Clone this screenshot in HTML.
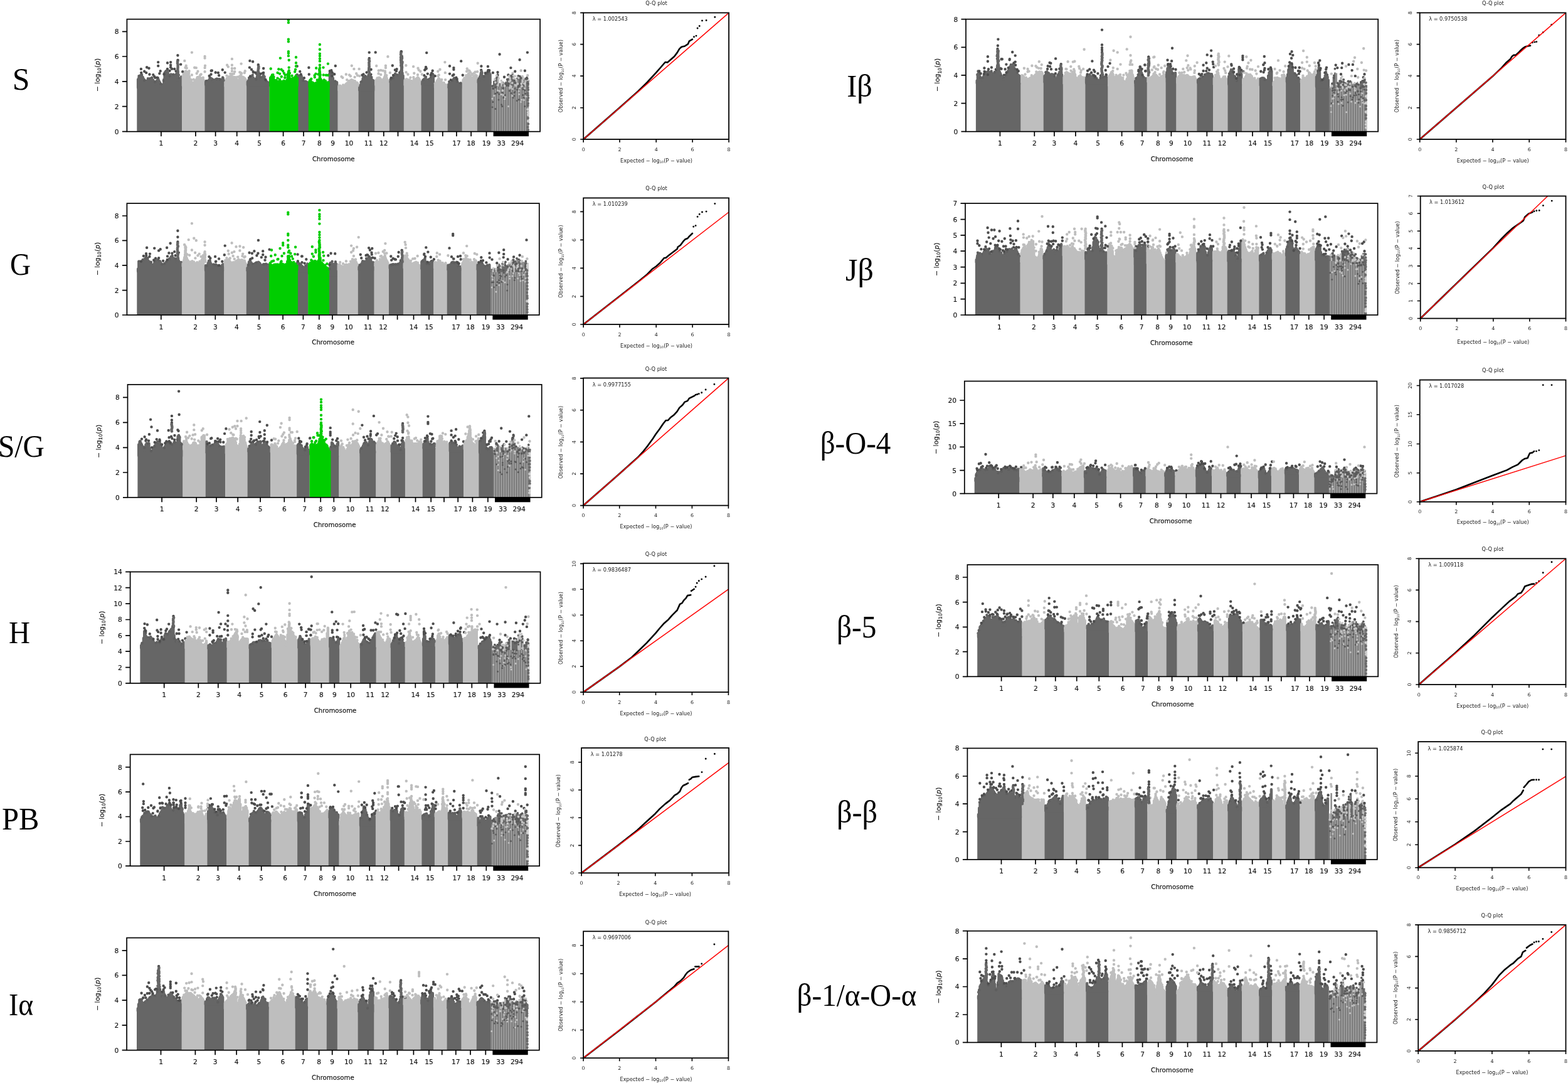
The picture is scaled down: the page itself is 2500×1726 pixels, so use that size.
<!DOCTYPE html>
<html lang="en"><head><meta charset="utf-8"><title>GWAS Manhattan and Q-Q plots</title>
<style>
html,body{margin:0;padding:0;background:#fff}
body{width:2500px;height:1726px;overflow:hidden}
svg{display:block}
.m text{font-family:"DejaVu Sans","Liberation Sans",sans-serif;font-size:10.6px;fill:#111;stroke:#111;stroke-width:0.15px}
.m text.al{font-size:10.2px}
.m text.yl{font-size:10.6px}
.q text{font-family:"DejaVu Sans","Liberation Sans",sans-serif;font-size:7.9px;fill:#1a1a1a}
.q text.qt{font-size:8.2px}
.q text.ql{font-size:8.2px}
.q text.qa{font-size:8.2px}
.lab text{font-family:"Liberation Serif","DejaVu Serif",serif;font-size:50px;fill:#000}
</style></head><body>
<svg width="2500" height="1726" viewBox="0 0 2500 1726">
<rect width="2500" height="1726" fill="#fff"/>
<g class="m">
<rect x="218.3" y="138.8" width="72" height="70.9" fill="#666666"/>
<path d="M220.1 126.5V139.8M221.3 124V139.8M222.6 122V139.8M223.8 120.2V139.8M225.1 119.8V139.8M226.3 121.6V139.8M227.6 123V139.8M228.8 125.5V139.8M230.1 127.1V139.8M231.3 129.1V139.8M232.6 129V139.8M233.8 128.8V139.8M235.1 128.2V139.8M236.3 128.5V139.8M237.6 128V139.8M238.8 128.4V139.8M240.1 128.2V139.8M241.3 126.7V139.8M242.6 126.6V139.8M243.8 127.3V139.8M245.1 129.3V139.8M246.3 130.7V139.8M247.6 131.5V139.8M248.8 130.2V139.8M250.1 128.6V139.8M251.3 126.8V139.8M252.6 126.8V139.8M253.8 129.4V139.8M255.1 131.7V139.8M256.4 134V139.8M257.6 135.2V139.8M258.9 135.2V139.8M260.1 135.8V139.8M261.4 126.6V139.8M262.6 116V139.8M263.9 114.3V139.8M265.1 113.1V139.8M266.4 112.9V139.8M267.6 115.8V139.8M268.9 119V139.8M270.1 120.7V139.8M271.4 119.5V139.8M272.6 118.5V139.8M273.9 119V139.8M275.1 119.9V139.8M276.4 120.4V139.8M277.6 120.3V139.8M278.9 119.7V139.8M280.1 119.2V139.8M281.4 120.4V139.8M282.6 120.9V139.8M283.9 122.4V139.8M285.1 125.1V139.8M286.4 127.3V139.8M287.6 126.5V139.8M288.9 122.4V139.8" stroke="#666666" stroke-width="4.4" stroke-linecap="round" fill="none"/>
<rect x="290.1" y="135.7" width="36.5" height="74" fill="#bebebe"/>
<path d="M291.9 121.2V136.7M293.2 119V136.7M294.4 116V136.7M295.7 113.6V136.7M296.9 113.6V136.7M298.2 114.6V136.7M299.4 115.7V136.7M300.7 116.5V136.7M301.9 121.7V136.7M303.2 127.9V136.7M304.4 132.3V136.7M305.7 132.1V136.7M306.9 132.3V136.7M308.2 132.7V136.7M309.4 132.4V136.7M310.7 130.5V136.7M311.9 128.9V136.7M313.2 126.8V136.7M314.4 124.3V136.7M315.7 123.5V136.7M316.9 122.8V136.7M318.2 122.4V136.7M319.4 124V136.7M320.7 124.7V136.7M321.9 125.5V136.7M323.2 126.4V136.7M324.4 127.1V136.7" stroke="#bebebe" stroke-width="4.4" stroke-linecap="round" fill="none"/>
<rect x="326.4" y="133.7" width="31.4" height="76" fill="#666666"/>
<path d="M328.2 129.5V134.7M329.5 130.7V134.7M330.7 130.6V134.7M332 128.6V134.7M333.2 127.4V134.7M334.5 125.9V134.7M335.7 124.4V134.7M337 125.2V134.7M338.2 125.9V134.7M339.5 127.1V134.7M340.7 128.1V134.7M342 127.5V134.7M343.2 127V134.7M344.5 126.2V134.7M345.7 125.8V134.7M347 125.9V134.7M348.2 126.1V134.7M349.5 127.2V134.7M350.7 128.2V134.7M352 128.4V134.7M353.2 127V134.7M354.5 125.6V134.7M355.7 124.7V134.7" stroke="#666666" stroke-width="4.4" stroke-linecap="round" fill="none"/>
<rect x="357.6" y="135.8" width="35.7" height="73.9" fill="#bebebe"/>
<path d="M359.4 128.6V136.8M360.7 127.4V136.8M361.9 125.4V136.8M363.2 124.5V136.8M364.4 123V136.8M365.7 122.6V136.8M366.9 121.9V136.8M368.2 121.8V136.8M369.4 122.4V136.8M370.7 122.7V136.8M371.9 122.7V136.8M373.2 123.3V136.8M374.4 123.1V136.8M375.7 123.5V136.8M376.9 124.2V136.8M378.2 129.2V136.8M379.4 132.8V136.8M380.7 127.8V136.8M381.9 121.6V136.8M383.2 121.2V136.8M384.4 122.4V136.8M385.7 122.1V136.8M386.9 122.8V136.8M388.2 123.3V136.8M389.4 124.7V136.8M390.7 125.5V136.8M391.9 127.5V136.8" stroke="#bebebe" stroke-width="4.4" stroke-linecap="round" fill="none"/>
<rect x="393.1" y="134.6" width="36.5" height="75.1" fill="#666666"/>
<path d="M394.9 130.2V135.6M396.2 128.1V135.6M397.4 125.4V135.6M398.7 124.6V135.6M399.9 123.6V135.6M401.2 123.4V135.6M402.4 122.6V135.6M403.7 123.8V135.6M404.9 125.4V135.6M406.2 126.2V135.6M407.4 126.4V135.6M408.7 125V135.6M409.9 121.6V135.6M411.2 118V135.6M412.4 119V135.6M413.7 120.5V135.6M414.9 122.7V135.6M416.2 126V135.6M417.4 125.2V135.6M418.7 122.4V135.6M419.9 119.3V135.6M421.2 122.7V135.6M422.4 126.6V135.6M423.7 131.4V135.6M424.9 131.6V135.6M426.2 131.2V135.6M427.4 131.4V135.6" stroke="#666666" stroke-width="4.4" stroke-linecap="round" fill="none"/>
<rect x="471.4" y="134.7" width="20.6" height="75" fill="#666666"/>
<path d="M473.2 120.5V135.7M474.5 119.9V135.7M475.7 121.2V135.7M477 121.3V135.7M478.2 120.7V135.7M479.5 120.6V135.7M480.7 121.1V135.7M482 124.9V135.7M483.2 128.4V135.7M484.5 130.8V135.7M485.7 131.1V135.7M487 131.1V135.7M488.2 130.8V135.7M489.5 130.9V135.7M490.7 131.7V135.7" stroke="#666666" stroke-width="4.4" stroke-linecap="round" fill="none"/>
<rect x="521.6" y="134.7" width="17.2" height="75" fill="#666666"/>
<path d="M523.4 131.7V135.7M524.6 131.1V135.7M525.9 117V135.7M527.1 117.6V135.7M528.4 118.8V135.7M529.6 118.8V135.7M530.9 124.5V135.7M532.1 131.7V135.7M533.4 131.7V135.7M534.6 130.8V135.7M535.9 131.3V135.7M537.1 131.2V135.7" stroke="#666666" stroke-width="4.4" stroke-linecap="round" fill="none"/>
<rect x="538.6" y="142.3" width="33.1" height="67.4" fill="#bebebe"/>
<path d="M540.4 136.9V143.3M541.6 136.6V143.3M542.9 137.2V143.3M544.1 138.2V143.3M545.4 138.6V143.3M546.6 139V143.3M547.9 139V143.3M549.1 139.3V143.3M550.4 136.5V143.3M551.6 134.4V143.3M552.9 133V143.3M554.1 132.2V143.3M555.4 131.4V143.3M556.6 130.3V143.3M557.9 128.8V143.3M559.1 128.2V143.3M560.4 127.1V143.3M561.6 128V143.3M562.9 128.3V143.3M564.1 128.9V143.3M565.4 129.3V143.3M566.6 130.9V143.3M567.9 131.6V143.3M569.1 131.8V143.3M570.4 133.1V143.3" stroke="#bebebe" stroke-width="4.4" stroke-linecap="round" fill="none"/>
<rect x="571.5" y="142.5" width="26.1" height="67.2" fill="#666666"/>
<path d="M573.3 139.5V143.5M574.6 135.8V143.5M575.8 132.7V143.5M577.1 130V143.5M578.3 127.5V143.5M579.6 125.7V143.5M580.8 123.7V143.5M582.1 123.5V143.5M583.3 123.2V143.5M584.6 123.1V143.5M585.8 123.2V143.5M587.1 123.1V143.5M588.3 122.7V143.5M589.6 121.8V143.5M590.8 121.9V143.5M592.1 124.8V143.5M593.3 127.2V143.5M594.6 128V143.5M595.8 128.9V143.5" stroke="#666666" stroke-width="4.4" stroke-linecap="round" fill="none"/>
<rect x="597.4" y="133.9" width="23.6" height="75.8" fill="#bebebe"/>
<path d="M599.2 128.3V134.9M600.5 127.3V134.9M601.7 126V134.9M603 124.7V134.9M604.2 123.7V134.9M605.5 124.3V134.9M606.7 126V134.9M608 127.5V134.9M609.2 129.2V134.9M610.5 128.5V134.9M611.7 125.7V134.9M613 123V134.9M614.2 119.8V134.9M615.5 121.9V134.9M616.7 124.8V134.9M618 128V134.9M619.2 130.9V134.9" stroke="#bebebe" stroke-width="4.4" stroke-linecap="round" fill="none"/>
<rect x="620.8" y="129.8" width="23.2" height="79.9" fill="#666666"/>
<path d="M622.6 126.6V130.8M623.9 126.8V130.8M625.1 125.5V130.8M626.4 124.5V130.8M627.6 122.8V130.8M628.9 121.5V130.8M630.1 120.9V130.8M631.4 120.2V130.8M632.6 119.3V130.8M633.9 120.7V130.8M635.1 121.7V130.8M636.4 121.1V130.8M637.6 118.7V130.8M638.9 116.6V130.8M640.1 116.8V130.8M641.4 118.7V130.8M642.6 120.4V130.8" stroke="#666666" stroke-width="4.4" stroke-linecap="round" fill="none"/>
<rect x="643.8" y="134.2" width="27.9" height="75.5" fill="#bebebe"/>
<path d="M645.6 128V135.2M646.9 126.9V135.2M648.1 126.2V135.2M649.4 126.6V135.2M650.6 128.1V135.2M651.9 129.6V135.2M653.1 130.1V135.2M654.4 131.2V135.2M655.6 131V135.2M656.9 130.5V135.2M658.1 129.9V135.2M659.4 128.9V135.2M660.6 128.1V135.2M661.9 127.5V135.2M663.1 126.2V135.2M664.4 125.1V135.2M665.6 124.1V135.2M666.9 124V135.2M668.1 125.6V135.2M669.4 128.2V135.2" stroke="#bebebe" stroke-width="4.4" stroke-linecap="round" fill="none"/>
<rect x="671.5" y="133.1" width="21" height="76.6" fill="#666666"/>
<path d="M673.3 130.1V134.1M674.6 128.1V134.1M675.8 126.5V134.1M677.1 125.1V134.1M678.3 126.2V134.1M679.6 126.7V134.1M680.8 127V134.1M682.1 127.7V134.1M683.3 127.4V134.1M684.6 126.9V134.1M685.8 125.9V134.1M687.1 124V134.1M688.3 121.2V134.1M689.6 118.1V134.1M690.8 119.5V134.1" stroke="#666666" stroke-width="4.4" stroke-linecap="round" fill="none"/>
<rect x="692.3" y="138.5" width="21.6" height="71.2" fill="#bebebe"/>
<path d="M694.1 134.9V139.5M695.4 131.7V139.5M696.6 129.2V139.5M697.9 127.6V139.5M699.1 125.7V139.5M700.4 125.9V139.5M701.6 128V139.5M702.9 130.1V139.5M704.1 132.4V139.5M705.4 132.9V139.5M706.6 132.7V139.5M707.9 133.4V139.5M709.1 134.6V139.5M710.4 135.2V139.5M711.6 135.5V139.5" stroke="#bebebe" stroke-width="4.4" stroke-linecap="round" fill="none"/>
<rect x="713.7" y="138.2" width="23.2" height="71.5" fill="#666666"/>
<path d="M715.5 134.1V139.2M716.8 133.4V139.2M718 132.6V139.2M719.2 132.2V139.2M720.5 130.7V139.2M721.8 128.3V139.2M723 126.3V139.2M724.2 124.6V139.2M725.5 126.6V139.2M726.8 127.7V139.2M728 129.4V139.2M729.2 131.6V139.2M730.5 132.4V139.2M731.8 132.9V139.2M733 133.8V139.2M734.2 133.7V139.2M735.5 135.2V139.2" stroke="#666666" stroke-width="4.4" stroke-linecap="round" fill="none"/>
<rect x="736.7" y="130.4" width="24.4" height="79.3" fill="#bebebe"/>
<path d="M738.5 127.4V131.4M739.8 126.9V131.4M741 125.2V131.4M742.2 124.4V131.4M743.5 123V131.4M744.8 121.4V131.4M746 119.1V131.4M747.2 117.1V131.4M748.5 119V131.4M749.8 121V131.4M751 123.3V131.4M752.2 124.5V131.4M753.5 123.9V131.4M754.8 123.7V131.4M756 122V131.4M757.2 120.6V131.4M758.5 119.6V131.4M759.8 120.7V131.4" stroke="#bebebe" stroke-width="4.4" stroke-linecap="round" fill="none"/>
<rect x="760.9" y="130.4" width="22.7" height="79.3" fill="#666666"/>
<path d="M762.7 127.4V131.4M764 125V131.4M765.2 121.9V131.4M766.5 118.4V131.4M767.7 117.4V131.4M769 120.6V131.4M770.2 123.3V131.4M771.5 123.4V131.4M772.7 121.5V131.4M774 120.3V131.4M775.2 118.3V131.4M776.5 117.3V131.4M777.7 115.9V131.4M779 115.7V131.4M780.2 115.5V131.4M781.5 118.3V131.4" stroke="#666666" stroke-width="4.4" stroke-linecap="round" fill="none"/>
<rect x="783.6" y="135.8" width="59.6" height="73.9" fill="#8e8e8e"/>
<path d="M784.2 135.8V209.7M787.9 135.8V209.7M791.6 135.8V209.7M795.3 135.8V209.7M799 135.8V209.7M802.7 135.8V209.7M806.4 135.8V209.7M810.1 135.8V209.7M813.8 135.8V209.7M817.5 135.8V209.7M821.2 135.8V209.7M824.9 135.8V209.7M828.6 135.8V209.7M832.3 135.8V209.7M836 135.8V209.7M839.7 135.8V209.7" stroke="#727272" stroke-width="1.1" fill="none"/>
<path d="M786.1 135.8V209.7M789.8 135.8V209.7M793.5 135.8V209.7M797.2 135.8V209.7M800.9 135.8V209.7M804.6 135.8V209.7M808.3 135.8V209.7M812 135.8V209.7M815.7 135.8V209.7M819.4 135.8V209.7M823.1 135.8V209.7M826.8 135.8V209.7M830.5 135.8V209.7M834.2 135.8V209.7M837.9 135.8V209.7M841.6 135.8V209.7" stroke="#a8a8a8" stroke-width="0.9" fill="none"/>
<path d="M784.9 136.7V137.8M787.3 128.8V137.8M789.7 124.6V137.8M792.1 120.5V137.8M796.9 132.5V137.8M801.7 129.9V137.8M806.5 130.2V137.8M808.9 124.7V137.8M811.3 123.9V137.8M816.1 121.9V137.8M818.5 120.9V137.8M828.1 122.4V137.8M830.5 124.3V137.8M835.3 126.8V137.8M840.1 122.1V137.8" stroke="#6a6a6a" stroke-width="2.6" fill="none"/>
<path d="M794.5 121.4V137.8M799.3 131.4V137.8M804.1 131V137.8M820.9 124.5V137.8M823.3 124.6V137.8M832.9 125V137.8M837.7 125.7V137.8M842.5 132.9V137.8" stroke="#b8b8b8" stroke-width="2.6" fill="none"/>
<path d="M813.7 123.1V137.8M825.7 122.7V137.8" stroke="#8e8e8e" stroke-width="2.6" fill="none"/>
<rect x="429.4" y="135.5" width="46" height="74.2" fill="#00cd00"/>
<path d="M431.2 123.9V136.5M432.5 123.2V136.5M433.7 122.2V136.5M435 123.5V136.5M436.2 125.6V136.5M437.5 128.1V136.5M438.7 128.4V136.5M440 128.3V136.5M441.2 129.2V136.5M442.5 130.1V136.5M443.7 129.9V136.5M445 130.1V136.5M446.2 130.1V136.5M447.5 130V136.5M448.7 130.3V136.5M450 130.8V136.5M451.2 131.4V136.5M452.5 131.1V136.5M453.7 131.9V136.5M455 132.1V136.5M456.2 132.5V136.5M457.5 127.6V136.5M458.7 121.8V136.5M460 116.5V136.5M461.2 121.3V136.5M462.5 125.5V136.5M463.7 127.9V136.5M465 126.1V136.5M466.2 125.2V136.5M467.5 124.8V136.5M468.7 124.9V136.5M470 123.4V136.5M471.2 121.9V136.5M472.5 119.9V136.5M473.7 119.2V136.5" stroke="#00cd00" stroke-width="4.4" stroke-linecap="round" fill="none"/>
<rect x="491.8" y="137.5" width="33.8" height="72.2" fill="#00cd00"/>
<path d="M493.6 129.7V138.5M494.9 130.2V138.5M496.1 130.2V138.5M497.4 131.6V138.5M498.6 132.4V138.5M499.9 132.9V138.5M501.1 133.4V138.5M502.4 134.5V138.5M503.6 132.9V138.5M504.9 131.6V138.5M506.1 131.1V138.5M507.4 128.7V138.5M508.6 127.2V138.5M509.9 124.7V138.5M511.1 126V138.5M512.4 127.6V138.5M513.6 130.1V138.5M514.9 131.6V138.5M516.1 131V138.5M517.4 130.3V138.5M518.6 130.8V138.5M519.9 132.3V138.5M521.1 132.6V138.5M522.4 131.5V138.5M523.6 131.4V138.5" stroke="#00cd00" stroke-width="4.4" stroke-linecap="round" fill="none"/>
<path d="M221.5 121.1h0M226.1 119.1h0M230.1 128.1h0M235.9 125.2h0M239.2 125.3h0M242.1 123.8h0M247.2 130.6h0M251.8 124.2h0M256.5 133.9h0M260.9 128.5h0M264.8 113.5h0M270.8 121.2h0M276.4 118.8h0M281.4 117.7h0M284.8 123.9h0M329.2 129h0M334.6 123.7h0M339.3 127.4h0M345.3 126h0M350.5 126.1h0M355.1 123.4h0M397.2 124h0M402.7 119.6h0M408.4 126.4h0M412.6 116.9h0M415.3 123.8h0M420.9 122.5h0M424.6 129.1h0M473.8 119.3h0M478.6 120.1h0M483.5 128.3h0M487.1 129.6h0M525.7 117h0M530.2 116.8h0M534.6 129.4h0M575.6 130.7h0M579.5 122.9h0M582.5 121.2h0M587.4 119.9h0M592.4 123.1h0M623.9 126.3h0M626.6 124.3h0M630.1 117.4h0M634.7 119.6h0M637.6 116.6h0M674.7 127.5h0M679.1 122.7h0M684.2 126.1h0M686.8 123.4h0M689.7 118h0M716.2 130.2h0M720.8 128.4h0M724.5 124.7h0M729.2 129.7h0M734.6 132.5h0M763.8 125.5h0M768.5 115.9h0M771.6 122h0M776.5 117.5h0" stroke="#5e5e5e" stroke-width="4.4" stroke-linecap="round" fill="none"/>
<path d="M227.5 123.3h0M241.2 127.6h0M248 134.8h0M252.4 127.4h0M255.4 137.5h0M261.7 133.1h0M266 113.6h0M277 123.1h0M282.5 123.1h0M283.3 127.4h0M330.7 132.1h0M339.6 129.4h0M356.5 128h0M396.9 130.1h0M413.4 118.9h0M415.2 126.8h0M421.7 122.1h0M425.8 135.2h0M473.7 121.3h0M478 123.8h0M487.1 131.3h0M526.7 123.1h0M533.2 132.3h0M576.8 133.8h0M578.5 125.1h0M583.8 125.3h0M626.8 128.5h0M636.3 120.5h0M676.1 130.7h0M686.1 127.3h0M765 127.4h0M771.8 126.8h0M777.7 121.1h0" stroke="#666666" stroke-width="4.4" stroke-linecap="round" fill="none"/>
<path d="M225.2 116h0M230.2 113.8h0M238.4 118.5h0M244.3 119.1h0M247.3 123.8h0M250.6 123.7h0M254.3 117.1h0M261.5 118.3h0M266.9 110h0M270.5 112.7h0M274.1 109.8h0M280.6 113.6h0M284.8 119.5h0M333.7 120.9h0M336.7 112.8h0M343.7 115.5h0M347.9 115.9h0M399.1 121.4h0M404 115.3h0M408.9 117.6h0M415.3 117.8h0M418.7 116.6h0M423.4 127h0M478.2 113.9h0M528.3 112.1h0M533.2 118.3h0M577.5 119.8h0M584.6 115.4h0M588.3 110.9h0M591.4 118.6h0M629.9 111.5h0M632.6 110.1h0M637.3 115.4h0M640.6 110.1h0M678.3 110.3h0M681.8 117.6h0M688 116.7h0M718.8 127.4h0M721.7 120.4h0M728.7 126.1h0M767.4 105.5h0M773.8 116.5h0M778.4 112h0M224.9 109.9h0M234.1 107.3h0M237.5 108.7h0M233.2 115.9h0M252.2 99.1h0M252.2 105h0M255.7 113.3h0M246.2 122h0M267 100.3h0M272.1 99.1h0M272.1 103.8h0M272.1 107.3h0M283.4 88.2h0M283.7 96h0M288.2 102.6h0M278.2 109.9h0M291.2 114.2h0M283.4 96h0M337.9 112.5h0M336.5 118.5h0M349.1 120.2h0M354.8 111.2h0M358.7 115.6h0M398.4 96.9h0M403.1 98.3h0M411.8 103.3h0M420.1 109h0M397.9 107.6h0M401 110.7h0M403.6 114.2h0M407.1 115.6h0M412.3 109h0M411.4 114.2h0M420.1 115.9h0M411.8 103.8h0M473.7 105.5h0M492.4 107.8h0M492.7 118.5h0M484.9 124.2h0M479.8 118.5h0M534.8 105h0M525.8 113.3h0M529.3 115.1h0M529.3 121.1h0M588.7 83.6h0M598.7 83.4h0M588.7 92.9h0M588.7 92.9h0M579.5 118.5h0M591.6 110.7h0M625.8 104.5h0M640 82.2h0M639.5 82.2h0M640.9 90h0M631.9 113.3h0M627.1 119.9h0M623.6 124.2h0M680.2 84.1h0M679 106.9h0M679.8 109.3h0M677.2 111.6h0M689.7 112.8h0M676.4 120.2h0M686.7 119.4h0M693.7 121.1h0M735.2 97.4h0M717 105.2h0M723.4 108.1h0M723.4 110.7h0M717 117.6h0M723.4 118.9h0M727.4 123.7h0M737.8 119.7h0M777.9 105.9h0M767.2 111.6h0M780.2 112.1h0M777.6 114.2h0M785.9 115.9h0M768.1 117.6h0M767.2 111.6h0M796.6 86.5h0M840.9 83.6h0M828.6 95.2h0M814.4 108.1h0M821.2 113.8h0M836.9 112.8h0M793.5 115.1h0M793.5 119.4h0M804 122.8h0M810.4 119.4h0M828.6 122h0M839.9 124.6h0M841.6 133.2h0" stroke="#4d4d4d" stroke-width="4.4" stroke-linecap="round" fill="none"/>
<path d="M292.6 117.7h0M295.3 114.3h0M296.8 116.3h0M301.2 116.3h0M304.9 128.5h0M304.7 132.7h0M307.9 131.7h0M307.7 132.9h0M310.7 129.1h0M310.2 131.6h0M314.8 123.2h0M319 124.1h0M323.8 123.8h0M324.2 129.1h0M295.5 107.8h0M297.7 108.5h0M304.7 127h0M308.8 126.7h0M313.7 117h0M319.3 119.4h0M361.5 125.3h0M365.2 122.4h0M365.1 122.6h0M368.9 120.8h0M373.1 123.1h0M373.2 124.2h0M376 124h0M375 126.9h0M380 127.9h0M384 119.6h0M389.7 124.4h0M361.5 120.6h0M367.2 117.6h0M370.6 118h0M372.9 117.4h0M378.5 122.6h0M382.3 115.1h0M385.2 117h0M389.8 116h0M542.4 136.7h0M543.1 140.3h0M547.1 135.4h0M551.4 134.5h0M550 137.4h0M556.6 129.7h0M556 129.3h0M561.2 129.1h0M565.8 129.2h0M565 130.9h0M546.3 123.7h0M553.2 127.2h0M558.9 121.2h0M565.6 122.9h0M601.5 124.5h0M601.5 127.4h0M606.6 126.4h0M606 126h0M609.9 129.9h0M611.2 130.2h0M615.9 122.2h0M603.5 117.3h0M607.2 118.9h0M610.6 112.6h0M613.9 113.5h0M616.3 120.3h0M647.3 128.2h0M646.8 129.7h0M652.8 127.1h0M653.6 132h0M655.7 129h0M655.7 132.8h0M659.8 126.7h0M662.6 126.4h0M665.9 123.8h0M650.4 118.5h0M654.4 123.6h0M659.3 123.3h0M666 119.2h0M694.9 133.2h0M693.7 133.3h0M699.5 125.1h0M700 126.4h0M703.8 130.8h0M703.2 131.7h0M707.7 131.9h0M698.5 120.9h0M704.2 127h0M710.1 127.1h0M740.3 124.5h0M743.1 120.3h0M746.9 118.6h0M750 120.7h0M749.6 122h0M754.2 123.5h0M744.1 113.8h0M748.5 113h0M753.4 119.1h0M756 116.5h0M305.9 83.6h0M294.3 96.9h0M296.7 104.7h0M310.2 107.8h0M312.8 108.1h0M315.4 113.8h0M320.6 118.5h0M326.6 90h0M326.6 92.6h0M327 104.7h0M326.6 108.1h0M326.6 114.2h0M301.6 113.3h0M305.9 119.4h0M369.9 93.9h0M384.6 101.6h0M362.1 103.8h0M363.8 106.4h0M369.9 103.8h0M369.9 109h0M374.2 109h0M369.9 113.3h0M374.2 114.2h0M390.7 113.3h0M383.7 115.9h0M560.8 104.7h0M564.4 109.9h0M572.6 109.9h0M544.5 122.1h0M551.8 118.5h0M557 119.4h0M568.2 117.3h0M570 120.2h0M573.4 121.1h0M618.4 90.3h0M600.2 105h0M614.9 104.7h0M614.9 108.1h0M603.7 112.5h0M607.2 111.9h0M614.1 115.9h0M621.9 115.9h0M647.3 104.3h0M659.1 106.1h0M666.5 108.7h0M667.7 111.6h0M670.3 113.7h0M647.5 115.1h0M660.3 116.8h0M672.9 118.5h0M709.4 99.1h0M701.5 110.7h0M698.3 113.7h0M709.8 115.9h0M699.7 119.4h0M761.7 100.7h0M744.7 109.5h0M747.3 112.5h0M749.9 115.1h0M752.5 117.6h0M757.7 114.7h0M761.1 114.2h0M830.7 112.5h0M817.4 116.8h0M841.2 120.2h0M832.9 122h0M842.5 128.9h0" stroke="#bebebe" stroke-width="4.4" stroke-linecap="round" fill="none"/>
<path d="M785.1 137.1h0M786.4 141.1h0M790.1 139.2h0M792.2 123.7h0M802.1 140.5h0M806.1 133.5h0M808.8 126.7h0M807.4 136.2h0M810.8 132.9h0M813.9 120.9h0M817.2 119.5h0M816.5 122.6h0M820.4 128.7h0M818.2 132.3h0M821.6 132.1h0M826.4 121h0M824.6 125.7h0M828.3 134.2h0M826.7 137.4h0M830.9 124.3h0M834.2 134.7h0M837.6 125.7h0M840.8 125.1h0" stroke="#5a5a5a" stroke-width="3.8" stroke-linecap="round" fill="none"/>
<path d="M785 157.2h0M787.8 152.4h0M793.1 135.7h0M793.6 143.9h0M796.3 145.1h0M799.3 150.5h0M802.3 151.6h0M805.3 154.7h0M804.6 157.7h0M812.2 140h0M810.7 169.4h0M813.4 137h0M814.4 140.1h0M815.2 137.4h0M817.2 141.7h0M816.6 152.7h0M822.9 136.7h0M828.6 141h0M827.4 145.3h0M827.6 150.3h0M831.7 158.9h0M830.5 162.6h0M835.3 159.4h0M836.4 140.7h0M837.6 153.7h0M840.5 154.1h0" stroke="#c4c4c4" stroke-width="3" stroke-linecap="round" fill="none"/>
<path d="M785.8 162.4h0M784.9 170.8h0M789.8 149.2h0M790 173.4h0M791.9 132.1h0M792.9 147.5h0M795.6 150h0M795.1 159.1h0M799.5 166.7h0M800.9 147.6h0M802.6 155.7h0M800.7 169.6h0M805.5 151.4h0M810.5 136.2h0M812.5 144.8h0M815.2 148.5h0M820.3 147.6h0M820.2 152.7h0M818.1 155.8h0M821.1 141.2h0M821 146.5h0M826.3 138.9h0M824.5 143h0M824.3 160.6h0M827.3 158.8h0M833.2 139h0M834.1 142.3h0M833.6 151.6h0M835.1 155.6h0M837 143.9h0M837.7 149.2h0M836.7 169.4h0" stroke="#5a5a5a" stroke-width="3" stroke-linecap="round" fill="none"/>
<path d="M788.9 126.5h0M789.9 131.3h0M791.7 120.5h0M795 125h0M799.3 128.7h0M799.7 132.9h0M800.7 132.1h0M801.4 144.4h0M804.6 136.9h0M811.7 121.1h0M811.9 129.8h0M813 124.8h0M813.6 128.5h0M816.8 132.2h0M818.6 120.3h0M818.7 124.5h0M821.8 121.3h0M822.9 126.8h0M825.5 133.6h0M826.8 124.1h0M831.3 133.4h0M832 137.5h0M834.9 124.9h0M833.4 129.2h0M835.9 133.2h0M841 129.1h0" stroke="#c4c4c4" stroke-width="3.8" stroke-linecap="round" fill="none"/>
<path d="M841.5 130.9h0M841.5 135.3h0M841.7 139.6h0M842.1 143.1h0M841.5 148.6h0M841.8 152h0M842.2 156.1h0M841.4 159.7h0M841.9 164.9h0M841.5 168.4h0M841.8 188.2h0M842.2 197.6h0M841.4 202.6h0M842 207h0" stroke="#6a6a6a" stroke-width="4.2" stroke-linecap="round" fill="none"/>
<path d="M841.4 174.3h0M842 179.2h0M842 182.9h0M842 193h0" stroke="#cfcfcf" stroke-width="4.2" stroke-linecap="round" fill="none"/>
<path d="M432.6 122.2h0M436.8 127.8h0M440.2 128.3h0M446 126.7h0M448.7 130h0M452.5 128.6h0M451.6 133.7h0M455.1 129.7h0M454.9 131.6h0M460.5 116.7h0M459.3 118.5h0M463.8 128.3h0M467.9 125.6h0M469.3 126.4h0M471.8 121.5h0M471.8 121.8h0M435.4 119.2h0M442.5 124.6h0M448.8 122.3h0M454.2 123.7h0M458.5 118.4h0M461.9 116.5h0M465.5 120.7h0M494.5 127.6h0M498.7 131.7h0M503 132.7h0M503.1 133.3h0M505.7 127.4h0M506.4 131.1h0M509.5 126.1h0M510.3 125.6h0M515.4 130h0M514.7 131.3h0M518.9 129h0M496.3 125.7h0M501.8 123.1h0M507.5 118.4h0M510.3 118.3h0M516.7 127.4h0M520 119.8h0M431.7 109.5h0M459.9 32h0M459.9 36h0M459.9 62.6h0M459.9 66.3h0M459.9 82.2h0M459.9 84.8h0M459.9 89.1h0M460.7 95.7h0M460.7 107.6h0M460.7 112.5h0M460.7 112.5h0M446.9 92.6h0M472 91.3h0M472 100.3h0M472 105.5h0M471.1 110.7h0M470.2 114.2h0M444.3 110.2h0M448.6 110.7h0M451.2 113.3h0M452.9 116.8h0M454.7 119.4h0M442.6 115.9h0M446 117.6h0M433.9 119.4h0M436.5 122.8h0M509.9 70.9h0M509.9 78.7h0M509.9 85.6h0M509.9 89.1h0M509.9 93.4h0M509.9 97.4h0M509.9 103.8h0M509.9 108.1h0M509.9 108.1h0M522.9 101.6h0M515.5 107.6h0M504.2 108.5h0M503.4 117.6h0M501.6 120.2h0M515.8 119.4h0M522.9 119.9h0" stroke="#00cd00" stroke-width="4.4" stroke-linecap="round" fill="none"/>
<path d="M283.1 98.5h0M283 100.7h0M283.6 102.9h0M283.6 105.1h0M283.6 107.3h0M283.4 109.5h0M283.4 111.7h0M283.7 113.9h0M283.7 116.1h0M283.4 118.3h0M284 120.5h0M412.4 106.3h0M412 108.5h0M411.8 110.7h0M411.5 112.9h0M412.1 115.1h0M411.1 117.3h0M412.4 119.5h0M411.3 121.7h0M411.7 123.9h0M588.4 95.4h0M589 97.6h0M588.4 99.8h0M588.5 102h0M588.5 104.2h0M588.7 106.4h0M588.3 108.6h0M588.3 110.8h0M588 113h0M588.8 115.2h0M588.8 117.4h0M589 119.6h0M639.3 84.7h0M639.1 86.9h0M639.9 89.1h0M639.1 91.3h0M639.3 93.5h0M639.1 95.7h0M639.4 97.9h0M639.4 100.1h0M639.7 102.3h0M639.4 104.5h0M640 106.7h0M640.2 108.9h0M640 111.1h0M639.4 113.3h0M639.5 115.5h0M639.3 117.7h0M640 119.9h0M641 92.5h0M640.4 94.7h0M640.3 96.9h0M641.5 99.1h0M641.1 101.3h0M640.6 103.5h0M640.9 105.7h0M641 107.9h0M640.3 110.1h0M640.8 112.3h0M640.7 114.5h0M641.5 116.7h0M640.3 118.9h0M641.5 121.1h0M767.8 114.1h0M767 116.3h0M767.6 118.5h0M767.3 120.7h0M766.8 122.9h0" stroke="#666666" stroke-width="4.8" stroke-linecap="round" fill="none"/>
<path d="M460 115h0M460.7 117.2h0M460.5 119.4h0M460.2 121.6h0M461 123.8h0M461.3 126h0M509.3 110.6h0M509.5 112.8h0M509.8 115h0M509.5 117.2h0M510.5 119.4h0M510 121.6h0M509.9 123.8h0M510.3 126h0" stroke="#00cd00" stroke-width="4.8" stroke-linecap="round" fill="none"/>
<rect x="202.4" y="30.6" width="658.7" height="179.1" fill="none" stroke="#000" stroke-width="1.7"/>
<text x="189.6" y="54.2" text-anchor="end">8</text>
<text x="189.6" y="93.9" text-anchor="end">6</text>
<text x="189.6" y="133.7" text-anchor="end">4</text>
<text x="189.6" y="173.5" text-anchor="end">2</text>
<text x="189.6" y="213.6" text-anchor="end">0</text>
<text x="256.9" y="232.2" text-anchor="middle">1</text>
<text x="311.9" y="232.2" text-anchor="middle">2</text>
<text x="343.6" y="232.2" text-anchor="middle">3</text>
<text x="377.7" y="232.2" text-anchor="middle">4</text>
<text x="413.5" y="232.2" text-anchor="middle">5</text>
<text x="451.6" y="232.2" text-anchor="middle">6</text>
<text x="484" y="232.2" text-anchor="middle">7</text>
<text x="509.4" y="232.2" text-anchor="middle">8</text>
<text x="530.5" y="232.2" text-anchor="middle">9</text>
<text x="556.6" y="232.2" text-anchor="middle">10</text>
<text x="587.6" y="232.2" text-anchor="middle">11</text>
<text x="611.8" y="232.2" text-anchor="middle">12</text>
<text x="660.4" y="232.2" text-anchor="middle">14</text>
<text x="685" y="232.2" text-anchor="middle">15</text>
<text x="727.9" y="232.2" text-anchor="middle">17</text>
<text x="751.1" y="232.2" text-anchor="middle">18</text>
<text x="775.5" y="232.2" text-anchor="middle">19</text>
<path d="M202.4 50.3h-7.5M202.4 90h-7.5M202.4 129.8h-7.5M202.4 169.6h-7.5M202.4 209.7h-7.5M256.9 209.7v7.5M311.9 209.7v7.5M343.6 209.7v7.5M377.7 209.7v7.5M413.5 209.7v7.5M451.6 209.7v7.5M484 209.7v7.5M509.4 209.7v7.5M530.5 209.7v7.5M556.6 209.7v7.5M587.6 209.7v7.5M611.8 209.7v7.5M634.5 209.7v7.5M660.4 209.7v7.5M685 209.7v7.5M705.8 209.7v7.5M727.9 209.7v7.5M751.1 209.7v7.5M775.5 209.7v7.5" stroke="#000" stroke-width="1.7" fill="none"/>
<rect x="786.6" y="209.7" width="56.4" height="7.5" fill="#000"/>
<text x="799.2" y="232.2" text-anchor="middle">33</text>
<text x="825.2" y="232.2" text-anchor="middle">294</text>
<text x="531.8" y="256.9" text-anchor="middle" class="al">Chromosome</text>
<text transform="translate(159.2 119.4) rotate(-90)" text-anchor="middle" class="yl">− log<tspan dy="2.2" font-size="7.6">10</tspan><tspan dy="-2.2">(</tspan><tspan font-style="italic">p</tspan>)</text>
</g>
<g class="m">
<rect x="218.3" y="431.4" width="71.9" height="70.6" fill="#666666"/>
<path d="M220.1 428.4V432.4M221.3 416.6V432.4M222.6 417.6V432.4M223.8 420.8V432.4M225.1 421.4V432.4M226.3 419.1V432.4M227.6 416.4V432.4M228.8 414.6V432.4M230.1 413.1V432.4M231.3 412.2V432.4M232.6 410.6V432.4M233.8 411.7V432.4M235.1 413.5V432.4M236.3 415.4V432.4M237.6 416.6V432.4M238.8 417.7V432.4M240.1 420V432.4M241.3 421.1V432.4M242.6 421.9V432.4M243.8 423.1V432.4M245.1 421.1V432.4M246.3 418.6V432.4M247.6 417.1V432.4M248.8 415.3V432.4M250.1 415.7V432.4M251.3 416.5V432.4M252.6 416.1V432.4M253.8 416.2V432.4M255.1 417.5V432.4M256.3 418.8V432.4M257.6 420.8V432.4M258.8 421.5V432.4M260.1 421.7V432.4M261.3 421.8V432.4M262.6 420.3V432.4M263.8 419.4V432.4M265.1 418.4V432.4M266.3 417.5V432.4M267.6 416.6V432.4M268.8 416.4V432.4M270.1 414.8V432.4M271.3 411.7V432.4M272.6 409.2V432.4M273.8 409.1V432.4M275.1 410.4V432.4M276.3 411.5V432.4M277.6 411.8V432.4M278.8 413.1V432.4M280.1 413.6V432.4M281.3 415.5V432.4M282.6 413.4V432.4M283.8 412.8V432.4M285.1 416.3V432.4M286.3 419.1V432.4M287.6 419.1V432.4M288.8 418V432.4" stroke="#666666" stroke-width="4.4" stroke-linecap="round" fill="none"/>
<rect x="289.9" y="423.3" width="36.4" height="78.7" fill="#bebebe"/>
<path d="M291.7 420.1V424.3M293 415.7V424.3M294.2 410.4V424.3M295.5 404.2V424.3M296.7 408.2V424.3M298 411.8V424.3M299.2 415.4V424.3M300.5 417.1V424.3M301.7 417.7V424.3M303 418.3V424.3M304.2 419.5V424.3M305.5 420V424.3M306.7 419.9V424.3M308 420.3V424.3M309.2 420.2V424.3M310.5 420.2V424.3M311.7 420V424.3M313 420V424.3M314.2 419.2V424.3M315.5 419.7V424.3M316.7 419.5V424.3M318 419.1V424.3M319.2 420V424.3M320.5 417.9V424.3M321.7 414.3V424.3M323 411.3V424.3M324.2 408.9V424.3" stroke="#bebebe" stroke-width="4.4" stroke-linecap="round" fill="none"/>
<rect x="326.2" y="429.8" width="31.3" height="72.2" fill="#666666"/>
<path d="M328 423.3V430.8M329.2 425.6V430.8M330.5 422.6V430.8M331.7 419.3V430.8M333 415.7V430.8M334.2 416V430.8M335.5 418.5V430.8M336.7 420.6V430.8M338 422.4V430.8M339.2 423.9V430.8M340.5 422.8V430.8M341.7 422.8V430.8M343 422V430.8M344.2 421.8V430.8M345.5 422.9V430.8M346.7 424.1V430.8M348 425.3V430.8M349.2 426.8V430.8M350.5 426.2V430.8M351.7 425.4V430.8M353 423.9V430.8M354.2 422.4V430.8M355.5 421.3V430.8" stroke="#666666" stroke-width="4.4" stroke-linecap="round" fill="none"/>
<rect x="357.3" y="423.1" width="35.6" height="78.9" fill="#bebebe"/>
<path d="M359.1 415.2V424.1M360.3 414.6V424.1M361.6 414.5V424.1M362.8 414.4V424.1M364.1 414.2V424.1M365.3 414.7V424.1M366.6 416.6V424.1M367.8 419V424.1M369.1 419.8V424.1M370.3 419.6V424.1M371.6 418.4V424.1M372.8 418.1V424.1M374.1 418.1V424.1M375.3 417.4V424.1M376.6 416.3V424.1M377.8 415.7V424.1M379.1 414.6V424.1M380.3 414.4V424.1M381.6 415.1V424.1M382.8 415.5V424.1M384.1 414.7V424.1M385.3 414.4V424.1M386.6 414.8V424.1M387.8 415.7V424.1M389.1 416.1V424.1M390.3 417.5V424.1M391.6 420.1V424.1" stroke="#bebebe" stroke-width="4.4" stroke-linecap="round" fill="none"/>
<rect x="392.7" y="430" width="36.4" height="72" fill="#666666"/>
<path d="M394.5 427V431M395.8 424.1V431M397 417.6V431M398.3 415.9V431M399.5 417.1V431M400.8 418.9V431M402 421.2V431M403.3 422V431M404.5 421.5V431M405.8 420.5V431M407 419.7V431M408.3 419.2V431M409.5 418.4V431M410.8 418.4V431M412 417.6V431M413.3 418.8V431M414.5 420V431M415.8 422V431M417 423.8V431M418.3 423.3V431M419.5 422.7V431M420.8 421.8V431M422 421.2V431M423.3 421.7V431M424.5 422.1V431M425.8 422.5V431M427 421.8V431" stroke="#666666" stroke-width="4.4" stroke-linecap="round" fill="none"/>
<rect x="470.9" y="431" width="20.6" height="71" fill="#666666"/>
<path d="M472.7 420.2V432M473.9 419.5V432M475.2 419.4V432M476.4 419.7V432M477.7 420.3V432M478.9 421.6V432M480.2 422.4V432M481.4 424.2V432M482.7 425.2V432M483.9 425.9V432M485.2 427.4V432M486.4 428V432M487.7 425.9V432M488.9 424V432M490.2 420.5V432" stroke="#666666" stroke-width="4.4" stroke-linecap="round" fill="none"/>
<rect x="521" y="437.6" width="17.2" height="64.4" fill="#666666"/>
<path d="M522.8 432.6V438.6M524 434.6V438.6M525.3 430.3V438.6M526.5 419.3V438.6M527.8 419V438.6M529 420V438.6M530.3 421.4V438.6M531.5 420.9V438.6M532.8 421V438.6M534 420.8V438.6M535.3 420V438.6M536.5 421.3V438.6" stroke="#666666" stroke-width="4.4" stroke-linecap="round" fill="none"/>
<rect x="537.9" y="429" width="33" height="73" fill="#bebebe"/>
<path d="M539.7 422V430M541 421.9V430M542.2 423.1V430M543.5 423.9V430M544.7 424.9V430M546 426V430M547.2 425.2V430M548.5 424.6V430M549.7 423.4V430M551 422.9V430M552.2 421.7V430M553.5 422.3V430M554.7 422.8V430M556 423.2V430M557.2 423.7V430M558.5 421.7V430M559.7 419.2V430M561 417.3V430M562.2 414.9V430M563.5 414.2V430M564.7 415.5V430M566 416.3V430M567.2 417.4V430M568.5 419.7V430M569.7 421.3V430" stroke="#bebebe" stroke-width="4.4" stroke-linecap="round" fill="none"/>
<rect x="570.8" y="428.4" width="26" height="73.6" fill="#666666"/>
<path d="M572.6 425.4V429.4M573.8 424.8V429.4M575.1 422.5V429.4M576.3 420.5V429.4M577.6 418.3V429.4M578.8 417.3V429.4M580.1 417V429.4M581.3 416.6V429.4M582.6 416.6V429.4M583.8 416.2V429.4M585.1 414.1V429.4M586.3 412.8V429.4M587.6 410.3V429.4M588.8 408.9V429.4M590.1 411.5V429.4M591.3 414.7V429.4M592.6 417.6V429.4M593.8 418.5V429.4M595.1 418.3V429.4" stroke="#666666" stroke-width="4.4" stroke-linecap="round" fill="none"/>
<rect x="596.6" y="422.3" width="23.6" height="79.7" fill="#bebebe"/>
<path d="M598.4 419.3V423.3M599.7 417.5V423.3M600.9 417.8V423.3M602.2 417.8V423.3M603.4 418V423.3M604.7 417.2V423.3M605.9 416.7V423.3M607.2 415V423.3M608.4 414.3V423.3M609.7 412.7V423.3M610.9 411.3V423.3M612.2 409.9V423.3M613.4 408.3V423.3M614.7 411.3V423.3M615.9 414.3V423.3M617.2 416.5V423.3M618.4 419.1V423.3" stroke="#bebebe" stroke-width="4.4" stroke-linecap="round" fill="none"/>
<rect x="620" y="426.7" width="23.2" height="75.3" fill="#666666"/>
<path d="M621.8 422.9V427.7M623 422.3V427.7M624.3 422.5V427.7M625.5 421.4V427.7M626.8 421.5V427.7M628 421.5V427.7M629.3 422.2V427.7M630.5 423.7V427.7M631.8 423.5V427.7M633 423.5V427.7M634.3 421.7V427.7M635.5 421.2V427.7M636.8 420.2V427.7M638 418.6V427.7M639.3 416.5V427.7M640.5 415.7V427.7M641.8 416.3V427.7" stroke="#666666" stroke-width="4.4" stroke-linecap="round" fill="none"/>
<rect x="642.9" y="426.1" width="27.8" height="75.9" fill="#bebebe"/>
<path d="M644.7 411.8V427.1M646 407.8V427.1M647.2 409.2V427.1M648.5 410.6V427.1M649.7 412.5V427.1M651 413.9V427.1M652.2 415.6V427.1M653.5 417.8V427.1M654.7 419.5V427.1M656 420.3V427.1M657.2 420.5V427.1M658.5 420.6V427.1M659.7 419.4V427.1M661 418.8V427.1M662.2 419.8V427.1M663.5 421.1V427.1M664.7 422V427.1M666 422.7V427.1M667.2 422.3V427.1M668.5 423.1V427.1" stroke="#bebebe" stroke-width="4.4" stroke-linecap="round" fill="none"/>
<rect x="670.6" y="426.9" width="21" height="75.1" fill="#666666"/>
<path d="M672.4 417.2V427.9M673.6 416V427.9M674.9 414.7V427.9M676.1 414.3V427.9M677.4 413.9V427.9M678.6 416.9V427.9M679.9 420.8V427.9M681.1 423.6V427.9M682.4 423.9V427.9M683.6 422V427.9M684.9 420V427.9M686.1 417.9V427.9M687.4 417.3V427.9M688.6 416V427.9M689.9 416.3V427.9" stroke="#666666" stroke-width="4.4" stroke-linecap="round" fill="none"/>
<rect x="691.3" y="426.2" width="21.6" height="75.8" fill="#bebebe"/>
<path d="M693.1 418.4V427.2M694.4 418.7V427.2M695.6 418.7V427.2M696.9 419.1V427.2M698.1 419.5V427.2M699.4 419.5V427.2M700.6 419.9V427.2M701.9 420.5V427.2M703.1 421.9V427.2M704.4 422.9V427.2M705.6 423.2V427.2M706.9 422V427.2M708.1 421.6V427.2M709.4 421.2V427.2M710.6 421.3V427.2" stroke="#bebebe" stroke-width="4.4" stroke-linecap="round" fill="none"/>
<rect x="712.7" y="428.7" width="23.2" height="73.3" fill="#666666"/>
<path d="M714.5 422.8V429.7M715.7 423.5V429.7M717 422.2V429.7M718.2 421.7V429.7M719.5 420.1V429.7M720.7 418.9V429.7M722 417.8V429.7M723.2 417.9V429.7M724.5 418.4V429.7M725.7 419V429.7M727 419.5V429.7M728.2 420.8V429.7M729.5 422.3V429.7M730.7 423.9V429.7M732 425.3V429.7M733.2 425.7V429.7M734.5 425V429.7" stroke="#666666" stroke-width="4.4" stroke-linecap="round" fill="none"/>
<rect x="735.6" y="423.9" width="24.4" height="78.1" fill="#bebebe"/>
<path d="M737.4 420.9V424.9M738.7 417.5V424.9M739.9 415.7V424.9M741.2 414.5V424.9M742.4 412.9V424.9M743.7 412.9V424.9M744.9 414.5V424.9M746.2 415.6V424.9M747.4 417.1V424.9M748.7 418.4V424.9M749.9 419.2V424.9M751.2 419.8V424.9M752.4 419.6V424.9M753.7 419.9V424.9M754.9 419V424.9M756.2 417.4V424.9M757.4 417V424.9M758.7 415.5V424.9" stroke="#bebebe" stroke-width="4.4" stroke-linecap="round" fill="none"/>
<rect x="759.8" y="428.3" width="22.7" height="73.7" fill="#666666"/>
<path d="M761.6 422.1V429.3M762.8 422.5V429.3M764.1 420.9V429.3M765.3 419.9V429.3M766.6 418.8V429.3M767.8 419V429.3M769.1 420.6V429.3M770.3 422.6V429.3M771.6 423.8V429.3M772.8 425.3V429.3M774.1 424.7V429.3M775.3 424.1V429.3M776.6 424.3V429.3M777.8 424.3V429.3M779.1 423.5V429.3M780.3 422.1V429.3" stroke="#666666" stroke-width="4.4" stroke-linecap="round" fill="none"/>
<rect x="782.5" y="431.8" width="59.5" height="70.2" fill="#8e8e8e"/>
<path d="M783.1 431.8V502M786.8 431.8V502M790.5 431.8V502M794.2 431.8V502M797.9 431.8V502M801.6 431.8V502M805.3 431.8V502M809 431.8V502M812.7 431.8V502M816.4 431.8V502M820.1 431.8V502M823.8 431.8V502M827.5 431.8V502M831.2 431.8V502M834.9 431.8V502M838.6 431.8V502" stroke="#727272" stroke-width="1.1" fill="none"/>
<path d="M785 431.8V502M788.7 431.8V502M792.4 431.8V502M796.1 431.8V502M799.8 431.8V502M803.5 431.8V502M807.2 431.8V502M810.9 431.8V502M814.6 431.8V502M818.3 431.8V502M822 431.8V502M825.7 431.8V502M829.4 431.8V502M833.1 431.8V502M836.8 431.8V502M840.5 431.8V502" stroke="#a8a8a8" stroke-width="0.9" fill="none"/>
<path d="M783.8 428.4V433.8M786.2 428.6V433.8M788.6 427V433.8M793.4 422.8V433.8M795.8 420.3V433.8M798.2 422.2V433.8M800.6 419.1V433.8M803 419.9V433.8M805.4 418.1V433.8M807.8 422.4V433.8M812.6 420.1V433.8M817.4 414.9V433.8M822.2 415V433.8M827 415.8V433.8M829.4 413.8V433.8M836.6 417.8V433.8M839 418V433.8" stroke="#6a6a6a" stroke-width="2.6" fill="none"/>
<path d="M791 428V433.8M815 416.8V433.8M819.8 412.7V433.8M841.4 418.9V433.8" stroke="#b8b8b8" stroke-width="2.6" fill="none"/>
<path d="M810.2 421V433.8M824.6 413.8V433.8M831.8 415.6V433.8M834.2 417.2V433.8" stroke="#8e8e8e" stroke-width="2.6" fill="none"/>
<rect x="429" y="429.2" width="45.9" height="72.8" fill="#00cd00"/>
<path d="M430.8 419.1V430.2M432 424.2V430.2M433.3 424.1V430.2M434.5 423.2V430.2M435.8 423V430.2M437 422.7V430.2M438.3 422.1V430.2M439.5 422.4V430.2M440.8 422.1V430.2M442 422.4V430.2M443.3 422.8V430.2M444.5 422.6V430.2M445.8 421.8V430.2M447 420.9V430.2M448.3 420.9V430.2M449.5 420.7V430.2M450.8 420.9V430.2M452 421.7V430.2M453.3 422.5V430.2M454.5 423.1V430.2M455.8 426.2V430.2M457 423.3V430.2M458.3 416.5V430.2M459.5 408.1V430.2M460.8 409.7V430.2M462 414.8V430.2M463.3 419.4V430.2M464.5 419.2V430.2M465.8 419.5V430.2M467 420.5V430.2M468.3 421V430.2M469.5 421.5V430.2M470.8 421.1V430.2M472 420.9V430.2M473.3 420.8V430.2" stroke="#00cd00" stroke-width="4.4" stroke-linecap="round" fill="none"/>
<rect x="491.2" y="434.4" width="33.7" height="67.6" fill="#00cd00"/>
<path d="M493 421.3V435.4M494.3 421.4V435.4M495.5 420.4V435.4M496.8 418.5V435.4M498 418V435.4M499.3 418.4V435.4M500.5 418.5V435.4M501.8 418.7V435.4M503 419.2V435.4M504.3 419.4V435.4M505.5 419.7V435.4M506.8 419V435.4M508 415.4V435.4M509.3 405.4V435.4M510.5 410.8V435.4M511.8 418.2V435.4M513 419.5V435.4M514.3 420.5V435.4M515.5 422.2V435.4M516.8 423.1V435.4M518 424.9V435.4M519.3 425.6V435.4M520.5 426.5V435.4M521.8 428.9V435.4M523 431.4V435.4" stroke="#00cd00" stroke-width="4.4" stroke-linecap="round" fill="none"/>
<path d="M221.9 416.7h0M227.6 414h0M232.6 411.8h0M235.6 411.3h0M240.9 417.7h0M246.4 415.9h0M252 413.7h0M255.2 416.5h0M258 421h0M262.3 420.2h0M265.2 417h0M270 412.6h0M274.7 407.7h0M280.4 412.4h0M284.6 415.1h0M329.5 423.6h0M334.7 415.2h0M340.6 421.4h0M343.3 422.2h0M347.5 423.5h0M350.7 425h0M395.8 422.3h0M398.9 413.9h0M403.3 421h0M408.4 418.8h0M414.4 421.1h0M420.1 421.3h0M424.1 420.6h0M474.7 417.1h0M478.3 421.6h0M481.3 424.6h0M487.3 423.4h0M525.3 428.6h0M529.6 416.6h0M534.9 417.3h0M573.6 422.4h0M578.2 416.3h0M584.1 411.9h0M588.2 409.4h0M591.4 411.8h0M624 422.5h0M627 421.5h0M630.9 421.3h0M634.5 420.8h0M638.8 415.3h0M673.5 416.4h0M677.5 411.9h0M680.6 420.1h0M684.1 420.3h0M687.8 416.4h0M716.4 423.3h0M720.3 418.4h0M724.3 419h0M728.1 417.7h0M730.8 423.7h0M763.2 422.6h0M768.4 418.9h0M772.2 424.9h0M777.2 422.6h0" stroke="#5e5e5e" stroke-width="4.4" stroke-linecap="round" fill="none"/>
<path d="M222.7 418.6h0M227.6 417.8h0M245.2 422.1h0M255.5 418.2h0M268.7 415h0M281.6 417.3h0M283.5 416.5h0M334.9 418.2h0M339.8 426.2h0M346.1 428.1h0M350 427h0M397.1 426.8h0M404.2 423.7h0M408.1 422.3h0M413.9 421.3h0M474.1 420h0M480.7 424h0M530.2 422.8h0M578.4 418.3h0M583.2 416.8h0M640.3 419.5h0M686.7 418.9h0M716.6 423.3h0M728.5 422.5h0M731.6 427.1h0M764.3 423.9h0M770.9 425.4h0" stroke="#666666" stroke-width="4.4" stroke-linecap="round" fill="none"/>
<path d="M224.9 416.5h0M233 404.2h0M239 404.6h0M245.2 414.5h0M248.1 411.6h0M253.1 411.3h0M260.1 415.8h0M266.7 414h0M269.4 403.2h0M274.4 403.7h0M279.7 407.3h0M284.8 402.6h0M333.4 409.1h0M344.3 416.6h0M349.3 422.9h0M354.3 416.8h0M399.5 412.9h0M402.2 411.4h0M409.4 407.3h0M416.8 410.1h0M422.5 414.5h0M474.9 416.3h0M481.5 418.2h0M485.7 419.6h0M488.3 413.2h0M525.3 421.7h0M576.2 411.2h0M583.6 407h0M586.3 406.4h0M592.8 405.6h0M624.2 414.6h0M626.8 412h0M629.7 413.3h0M634.8 408.8h0M676.2 405.8h0M681.8 417.6h0M686.8 409.7h0M720 409.3h0M723.4 412.6h0M729.6 418.2h0M731.6 420h0M763.3 418.3h0M767.3 410.3h0M770 415.3h0M775.4 418.4h0M234.1 394.7h0M246.2 395.6h0M253.1 399.4h0M255.7 397.3h0M266.1 394.7h0M271.6 387.8h0M283.4 367.7h0M283.4 377.8h0M283.4 385.5h0M283.4 385.5h0M278.2 401.1h0M267 408.4h0M228.9 408h0M233.2 407.2h0M238.4 408.9h0M343.1 408.9h0M349.1 412.4h0M343.9 417h0M335.3 411.5h0M358.7 391.6h0M357.8 406.3h0M411.9 382.9h0M397.6 402.8h0M401.9 403.7h0M405.4 400.2h0M411.4 403.7h0M419.2 400.2h0M419.2 406h0M423.5 409.8h0M429.6 397.6h0M474.6 405.4h0M481.1 408.5h0M481.7 408.4h0M534.2 404.2h0M527.6 403.7h0M523.3 407.2h0M574.8 405.8h0M588.1 395.1h0M593.3 395.9h0M589.9 398.5h0M592.5 402.8h0M585.5 406.3h0M594.2 410.6h0M597.6 411.5h0M623.3 408.5h0M630.9 413.6h0M635.7 402h0M640.6 399h0M640.9 399h0M679.3 394.4h0M682.4 401.6h0M676.4 404.6h0M678.1 408.9h0M691.9 413.2h0M722.2 372.9h0M722.2 375.2h0M716.5 395.4h0M730 408.9h0M734 408h0M734.7 413.2h0M723.1 412.4h0M780.5 403.4h0M780.7 410.6h0M784.5 413.6h0M766.9 415.8h0M839.5 382.4h0M803.2 398.2h0M795.4 402.8h0M803.2 404.9h0M802.7 410.1h0M828.6 406.8h0M819.1 409.4h0M809.6 413.2h0M792.3 419.3h0" stroke="#4d4d4d" stroke-width="4.4" stroke-linecap="round" fill="none"/>
<path d="M294.1 410.6h0M293.6 413.1h0M299.7 415.2h0M299.1 417.7h0M303.7 417.5h0M302.3 421.3h0M309.1 417.4h0M314.2 418.2h0M315.1 420.6h0M318.5 416.6h0M319 419.8h0M324.1 406.9h0M296.2 399.4h0M298.4 405.5h0M302.1 406.7h0M306.4 416.3h0M311.4 411.4h0M317.7 404.6h0M361.4 411.1h0M361.3 416.7h0M365.7 412.9h0M364.5 417.5h0M369.7 418.6h0M370.8 422.3h0M374.7 418.1h0M380.6 413.6h0M381.6 417.3h0M385.3 414.5h0M384.4 418.1h0M389.8 415.4h0M389.6 420.4h0M364.7 404.7h0M366.8 411.5h0M373.7 412.8h0M379.2 409.6h0M386.5 408h0M389.5 410.1h0M541.5 422h0M545.8 424.8h0M545.3 426.1h0M550.8 421.9h0M550.7 426h0M556.5 421.3h0M556.4 423.1h0M561.9 413.3h0M567.8 417.7h0M542.2 417.9h0M547 420.3h0M551.9 416.3h0M559.1 416.6h0M567 413.4h0M600.9 414.9h0M605.8 413.1h0M609.2 410.1h0M613.9 407.7h0M612.7 410.2h0M617.4 417.9h0M616.2 419.9h0M603.4 402.9h0M606.6 408.4h0M610.7 401h0M616.4 403.5h0M645.9 407.8h0M648.6 410.9h0M648.1 414.6h0M653.5 418h0M659.2 420.1h0M663.2 417.8h0M665.9 418.8h0M649.3 407.1h0M654.9 415.7h0M661.5 412h0M665.7 408h0M694.7 418.1h0M693.5 421h0M699.1 417.5h0M702.1 418.1h0M701.3 421.5h0M705.9 421.2h0M705.8 423.7h0M710.5 419.1h0M709.8 423.2h0M698.7 414.7h0M701.5 415.9h0M705.7 419h0M738.9 413.3h0M737.5 419.8h0M742.6 411.1h0M746.2 413.5h0M752 417.8h0M756.2 417.5h0M742.3 407.3h0M749.7 414h0M756.8 403.9h0M305.9 356.1h0M300.7 382.1h0M309.3 379.8h0M312.8 383.3h0M294.1 389.9h0M296.4 394.2h0M305.9 398.5h0M311.1 402.8h0M315.4 407.2h0M320.6 408.9h0M326.6 385.5h0M326.6 390.7h0M326.6 401.1h0M295.5 392.5h0M369.6 387.3h0M376.5 393.3h0M382.4 392.5h0M388.1 394.2h0M363.8 399.7h0M369.9 402.8h0M373.4 401.1h0M371.6 408h0M387.2 404.6h0M390.7 408.9h0M382.4 399.4h0M571.7 378.1h0M560.1 391.6h0M569.1 393.7h0M563.9 395.9h0M563 399.4h0M560.1 402h0M563.9 408h0M599 403.7h0M614.4 388.1h0M613.2 398.9h0M613.2 403.7h0M608 408h0M645.7 385.9h0M646.6 389.9h0M647 395.1h0M648.7 403.7h0M658.2 412.4h0M696.8 403.2h0M701.1 405.4h0M696.3 408.9h0M714.4 407.2h0M744.2 392.1h0M739 403.2h0M760.3 405.4h0M756 413.2h0M744.7 408h0M832.9 408.9h0M840.4 412.4h0M796.6 412.4h0" stroke="#bebebe" stroke-width="4.4" stroke-linecap="round" fill="none"/>
<path d="M785.3 440.3h0M786.5 428h0M786 431.9h0M790.6 428.6h0M792.7 423.2h0M799.6 423.1h0M798.5 426.9h0M801.8 417.6h0M803.7 422.9h0M808.7 433.6h0M811.8 419.7h0M811.8 426.8h0M810.3 430.4h0M815.8 415.9h0M818.7 423.6h0M820 425.8h0M825.4 421.8h0M825.5 424.8h0M830.8 417h0M829.3 430.7h0M832.3 416h0M831.1 423.8h0M835.1 429.8h0M840.7 425.7h0" stroke="#c4c4c4" stroke-width="3.8" stroke-linecap="round" fill="none"/>
<path d="M785.3 445.3h0M784.2 458.1h0M791 464.9h0M795.8 454.6h0M801.7 448.1h0M805 450h0M812.3 440.3h0M812.5 444h0M818.3 435.5h0M817.1 439.9h0M824.1 427h0M827.4 435.5h0M825.7 443.8h0M828.6 438.5h0M829.8 447.7h0M835.2 438h0M833.8 446.7h0M838.3 433.6h0M837.9 443.6h0M837.3 448.7h0" stroke="#c4c4c4" stroke-width="3" stroke-linecap="round" fill="none"/>
<path d="M784.1 450.1h0M786.6 449.7h0M787.5 457.8h0M791.4 454.5h0M792.9 449.5h0M796 434.7h0M797.1 439.2h0M797.4 443.3h0M795.8 446.4h0M796 450.7h0M799 440.3h0M800 449.2h0M803.4 434.8h0M805.3 441h0M807.4 438.6h0M809 453.4h0M808.7 462.9h0M816.8 431.5h0M820.9 442.8h0M820.2 446.6h0M824.1 431.8h0M826.2 428.5h0M826.5 431.8h0M831.3 432h0M831.1 440.9h0M832.3 444.2h0" stroke="#5a5a5a" stroke-width="3" stroke-linecap="round" fill="none"/>
<path d="M787.2 439.2h0M794.2 426.3h0M794.4 430.6h0M796.9 429.4h0M802.7 430.9h0M806 417.5h0M805.5 422.8h0M809.5 425.1h0M815 425.1h0M818.2 414.1h0M818.7 418.6h0M819.9 417.1h0M821.8 421.2h0M824 412h0M823.7 420.2h0M827.1 413.7h0M832.4 428.1h0M838.3 416.3h0M837.7 424.5h0M838.9 421.9h0M838.6 429.7h0" stroke="#5a5a5a" stroke-width="3.8" stroke-linecap="round" fill="none"/>
<path d="M840.9 422.7h0M840.9 426h0M840.4 480h0" stroke="#cfcfcf" stroke-width="4.2" stroke-linecap="round" fill="none"/>
<path d="M840.3 431.1h0M840.2 435.7h0M840.7 439.9h0M840.5 445.7h0M840.7 450.6h0M840.5 455.9h0M840.8 460.9h0M840.2 466.3h0M840.6 471.7h0M840.8 475.2h0M840.9 484.3h0M840.4 488.8h0M840.6 493.2h0M840.6 497.6h0" stroke="#6a6a6a" stroke-width="4.2" stroke-linecap="round" fill="none"/>
<path d="M433.1 422.8h0M437.3 421.8h0M437.6 424.6h0M439.9 421.4h0M440.3 423.5h0M442.5 421.4h0M441.4 422.1h0M447.8 417.9h0M453.3 423h0M459.2 408.7h0M459.7 409.3h0M464.6 418.2h0M465.9 422.3h0M468.4 418h0M469 422.9h0M471.1 420.7h0M433.2 416.7h0M436.1 415.8h0M443.4 412.9h0M448.6 416.4h0M455.5 421.5h0M461 399.8h0M465.1 408.5h0M494.9 419h0M498.2 416.3h0M503.3 416.8h0M503.9 420.2h0M507.4 416.3h0M512.9 419.1h0M512.1 420.5h0M518.2 422.8h0M522.2 427.5h0M522 433.6h0M496.3 414.4h0M499.9 408.7h0M502.2 416h0M508.9 405.1h0M516.2 407.6h0M521.4 420.4h0M459.3 338.8h0M459.3 341.4h0M459.3 372.6h0M459.3 374.8h0M459.3 382.9h0M459.3 390.7h0M459.3 394.2h0M451.2 387.3h0M451.2 390.7h0M446.5 395.9h0M433 398.5h0M432.2 408h0M438.8 406.3h0M442.6 413.2h0M449.5 408h0M452.9 403.7h0M471.1 393.8h0M470.2 405.1h0M463.3 403.7h0M459.9 402h0M460.7 408h0M466.8 412.4h0M509.4 335h0M509.4 341.4h0M509.4 344.9h0M509.4 348.9h0M509.4 356.6h0M509.4 370h0M509.4 374.3h0M509.4 378.6h0M509.4 382.9h0M497.8 393.3h0M497.8 404.6h0M503.4 398.5h0M503.4 402h0M515.1 402h0M515.5 414.9h0" stroke="#00cd00" stroke-width="4.4" stroke-linecap="round" fill="none"/>
<path d="M283.3 388h0M283.1 390.2h0M283.8 392.4h0M283.2 394.6h0M282.8 396.8h0M283.1 399h0M283.2 401.2h0M282.9 403.4h0M283.8 405.6h0M283.4 407.8h0M283.6 410h0M284 412.2h0M283.7 414.4h0M641.2 401.5h0M640.8 403.7h0M641.2 405.9h0M641.6 408.1h0M641.3 410.3h0M641 412.5h0M641.3 414.7h0M641.6 416.9h0" stroke="#666666" stroke-width="4.8" stroke-linecap="round" fill="none"/>
<path d="M326.4 403.6h0M327 405.8h0M326.7 408h0M326.7 410.2h0M326.2 412.4h0M327 414.6h0M327.2 416.8h0M295.6 395h0M296 397.2h0M295.5 399.4h0M295.4 401.6h0M296.2 403.8h0M295.2 406h0M295.2 408.2h0M296 410.4h0M295.9 412.6h0M296 414.8h0M296.1 417h0" stroke="#bebebe" stroke-width="4.8" stroke-linecap="round" fill="none"/>
<path d="M508.9 385.4h0M509.3 387.6h0M509.6 389.8h0M509.5 392h0M509.8 394.2h0M508.8 396.4h0M509 398.6h0M509 400.8h0M509.6 403h0M509.3 405.2h0M508.9 407.4h0M509.1 409.6h0M509.6 411.8h0M509 414h0M509.4 416.2h0" stroke="#00cd00" stroke-width="4.8" stroke-linecap="round" fill="none"/>
<rect x="202.4" y="324.1" width="657.4" height="177.9" fill="none" stroke="#000" stroke-width="1.7"/>
<text x="189.6" y="347.9" text-anchor="end">8</text>
<text x="189.6" y="387.2" text-anchor="end">6</text>
<text x="189.6" y="426.8" text-anchor="end">4</text>
<text x="189.6" y="466.6" text-anchor="end">2</text>
<text x="189.6" y="505.9" text-anchor="end">0</text>
<text x="256.8" y="524.5" text-anchor="middle">1</text>
<text x="311.7" y="524.5" text-anchor="middle">2</text>
<text x="343.3" y="524.5" text-anchor="middle">3</text>
<text x="377.4" y="524.5" text-anchor="middle">4</text>
<text x="413.1" y="524.5" text-anchor="middle">5</text>
<text x="451.1" y="524.5" text-anchor="middle">6</text>
<text x="483.4" y="524.5" text-anchor="middle">7</text>
<text x="508.8" y="524.5" text-anchor="middle">8</text>
<text x="529.9" y="524.5" text-anchor="middle">9</text>
<text x="555.9" y="524.5" text-anchor="middle">10</text>
<text x="586.8" y="524.5" text-anchor="middle">11</text>
<text x="611" y="524.5" text-anchor="middle">12</text>
<text x="659.5" y="524.5" text-anchor="middle">14</text>
<text x="684" y="524.5" text-anchor="middle">15</text>
<text x="726.9" y="524.5" text-anchor="middle">17</text>
<text x="750" y="524.5" text-anchor="middle">18</text>
<text x="774.4" y="524.5" text-anchor="middle">19</text>
<path d="M202.4 344h-7.5M202.4 383.3h-7.5M202.4 422.9h-7.5M202.4 462.7h-7.5M202.4 502h-7.5M256.8 502v7.5M311.7 502v7.5M343.3 502v7.5M377.4 502v7.5M413.1 502v7.5M451.1 502v7.5M483.4 502v7.5M508.8 502v7.5M529.9 502v7.5M555.9 502v7.5M586.8 502v7.5M611 502v7.5M633.6 502v7.5M659.5 502v7.5M684 502v7.5M704.8 502v7.5M726.9 502v7.5M750 502v7.5M774.4 502v7.5" stroke="#000" stroke-width="1.7" fill="none"/>
<rect x="785.4" y="502" width="56.3" height="7.5" fill="#000"/>
<text x="798" y="524.5" text-anchor="middle">33</text>
<text x="824" y="524.5" text-anchor="middle">294</text>
<text x="531.1" y="549" text-anchor="middle" class="al">Chromosome</text>
<text transform="translate(159.2 412.4) rotate(-90)" text-anchor="middle" class="yl">− log<tspan dy="2.2" font-size="7.6">10</tspan><tspan dy="-2.2">(</tspan><tspan font-style="italic">p</tspan>)</text>
</g>
<g class="m">
<rect x="219.4" y="725.1" width="72.2" height="67.7" fill="#666666"/>
<path d="M221.2 708.4V726.1M222.5 705.6V726.1M223.7 703.1V726.1M225 706.6V726.1M226.2 709.3V726.1M227.5 711.6V726.1M228.7 714.4V726.1M230 715.2V726.1M231.2 712.1V726.1M232.5 708.6V726.1M233.7 706.5V726.1M235 707.1V726.1M236.2 707V726.1M237.5 706.8V726.1M238.7 714.1V726.1M240 722.1V726.1M241.2 720.6V726.1M242.5 719.4V726.1M243.7 717.3V726.1M245 715.1V726.1M246.2 712.4V726.1M247.5 709.2V726.1M248.7 707.4V726.1M250 705.2V726.1M251.2 704V726.1M252.5 704.1V726.1M253.7 703.7V726.1M255 705.9V726.1M256.2 709.2V726.1M257.5 712.3V726.1M258.7 714.8V726.1M260 716V726.1M261.2 716.7V726.1M262.5 712.6V726.1M263.7 710.1V726.1M265 707.9V726.1M266.2 708V726.1M267.5 707.2V726.1M268.7 708V726.1M270 709.1V726.1M271.2 711V726.1M272.5 710.7V726.1M273.7 711.2V726.1M275 709.5V726.1M276.2 707.4V726.1M277.5 704.9V726.1M278.7 705.3V726.1M280 708.7V726.1M281.2 710.9V726.1M282.5 705.1V726.1M283.7 695.5V726.1M285 693.8V726.1M286.2 697.4V726.1M287.5 705.7V726.1M288.7 715V726.1M290 707.8V726.1" stroke="#666666" stroke-width="4.4" stroke-linecap="round" fill="none"/>
<rect x="291.4" y="714.9" width="36.6" height="77.9" fill="#bebebe"/>
<path d="M293.2 703.3V715.9M294.5 705V715.9M295.7 703.3V715.9M297 702.6V715.9M298.2 705.4V715.9M299.5 708.8V715.9M300.7 711.9V715.9M302 710.8V715.9M303.2 710.8V715.9M304.5 710.3V715.9M305.7 710.9V715.9M307 708.8V715.9M308.2 707.4V715.9M309.5 705.4V715.9M310.7 705.6V715.9M312 707V715.9M313.2 709.6V715.9M314.5 711.6V715.9M315.7 711.1V715.9M317 710.1V715.9M318.2 709.5V715.9M319.5 709.4V715.9M320.7 704V715.9M322 697.4V715.9M323.2 695.4V715.9M324.5 693.9V715.9M325.7 694.1V715.9" stroke="#bebebe" stroke-width="4.4" stroke-linecap="round" fill="none"/>
<rect x="327.8" y="720.2" width="31.5" height="72.6" fill="#666666"/>
<path d="M329.6 703.9V721.2M330.8 711.6V721.2M332.1 717.2V721.2M333.3 715.3V721.2M334.6 713.4V721.2M335.8 711.9V721.2M337.1 710.1V721.2M338.3 709.9V721.2M339.6 710V721.2M340.8 708.8V721.2M342.1 707.7V721.2M343.3 706.5V721.2M344.6 705.5V721.2M345.8 704.7V721.2M347.1 707.1V721.2M348.3 709.1V721.2M349.6 711.1V721.2M350.8 712.6V721.2M352.1 712.1V721.2M353.3 712.4V721.2M354.6 712.4V721.2M355.8 712.1V721.2M357.1 711.8V721.2" stroke="#666666" stroke-width="4.4" stroke-linecap="round" fill="none"/>
<rect x="359.1" y="721.8" width="35.8" height="71" fill="#bebebe"/>
<path d="M360.9 708.8V722.8M362.1 706.9V722.8M363.4 705V722.8M364.6 702.7V722.8M365.9 701.5V722.8M367.1 700.6V722.8M368.4 699.3V722.8M369.6 698.5V722.8M370.9 699.6V722.8M372.1 699.9V722.8M373.4 700.4V722.8M374.6 701.8V722.8M375.9 705.2V722.8M377.1 709.7V722.8M378.4 713.9V722.8M379.6 718.8V722.8M380.9 717.3V722.8M382.1 707.7V722.8M383.4 697.5V722.8M384.6 694.9V722.8M385.9 695.6V722.8M387.1 696.7V722.8M388.4 696.7V722.8M389.6 700V722.8M390.9 705.1V722.8M392.1 709.6V722.8M393.4 713.2V722.8" stroke="#bebebe" stroke-width="4.4" stroke-linecap="round" fill="none"/>
<rect x="394.6" y="718.2" width="36.6" height="74.6" fill="#666666"/>
<path d="M396.4 715.2V719.2M397.7 714.3V719.2M398.9 712V719.2M400.2 709.3V719.2M401.4 707.2V719.2M402.7 707.6V719.2M403.9 707.9V719.2M405.2 709.3V719.2M406.4 708.6V719.2M407.7 707.8V719.2M408.9 706.5V719.2M410.2 706.8V719.2M411.4 706.7V719.2M412.7 705.6V719.2M413.9 703.9V719.2M415.2 703.6V719.2M416.4 709.3V719.2M417.7 714.5V719.2M418.9 714.4V719.2M420.2 708.3V719.2M421.4 703.2V719.2M422.7 704.5V719.2M423.9 707.5V719.2M425.2 709.9V719.2M426.4 711V719.2M427.7 712V719.2M428.9 713.1V719.2" stroke="#666666" stroke-width="4.4" stroke-linecap="round" fill="none"/>
<rect x="431" y="719.6" width="42.3" height="73.2" fill="#bebebe"/>
<path d="M432.8 708.6V720.6M434.1 711.1V720.6M435.3 710.4V720.6M436.6 710.1V720.6M437.8 710V720.6M439.1 708.9V720.6M440.3 711.4V720.6M441.6 714.2V720.6M442.8 716.6V720.6M444.1 715.8V720.6M445.3 715V720.6M446.6 714.5V720.6M447.8 713.8V720.6M449.1 710.2V720.6M450.3 707.8V720.6M451.6 705.8V720.6M452.8 708.4V720.6M454.1 709.6V720.6M455.3 709.1V720.6M456.6 708.5V720.6M457.8 707.8V720.6M459.1 707.5V720.6M460.3 705.6V720.6M461.6 700.8V720.6M462.8 699.1V720.6M464.1 703V720.6M465.3 706.8V720.6M466.6 710.5V720.6M467.8 711V720.6M469.1 711V720.6M470.3 710.7V720.6M471.6 710.8V720.6" stroke="#bebebe" stroke-width="4.4" stroke-linecap="round" fill="none"/>
<rect x="473.1" y="722.5" width="20.6" height="70.3" fill="#666666"/>
<path d="M474.9 709.1V723.5M476.2 707.6V723.5M477.4 707.1V723.5M478.7 708.5V723.5M479.9 710.5V723.5M481.2 713.3V723.5M482.4 714.5V723.5M483.7 715.7V723.5M484.9 718.1V723.5M486.2 718.5V723.5M487.4 714.3V723.5M488.7 710.6V723.5M489.9 712.6V723.5M491.2 716.7V723.5M492.4 719.5V723.5" stroke="#666666" stroke-width="4.4" stroke-linecap="round" fill="none"/>
<rect x="523.4" y="724.8" width="17.2" height="68" fill="#666666"/>
<path d="M525.2 719.1V725.8M526.5 721.8V725.8M527.7 712.4V725.8M529 705.4V725.8M530.2 707.1V725.8M531.5 709.4V725.8M532.7 710.4V725.8M534 712.5V725.8M535.2 714.8V725.8M536.5 711.2V725.8M537.7 707.8V725.8M539 704.8V725.8" stroke="#666666" stroke-width="4.4" stroke-linecap="round" fill="none"/>
<rect x="540.5" y="724.5" width="33.2" height="68.3" fill="#bebebe"/>
<path d="M542.3 711.9V725.5M543.5 712.7V725.5M544.8 713.1V725.5M546 713.6V725.5M547.3 713V725.5M548.5 715.6V725.5M549.8 718.6V725.5M551 721.5V725.5M552.3 718.7V725.5M553.5 715.9V725.5M554.8 713.8V725.5M556 711.5V725.5M557.3 710.7V725.5M558.5 710.3V725.5M559.8 710V725.5M561 709.4V725.5M562.3 707.6V725.5M563.5 705.9V725.5M564.8 704.8V725.5M566 703.3V725.5M567.3 703.4V725.5M568.5 705.5V725.5M569.8 706.7V725.5M571 708.9V725.5M572.3 711.4V725.5" stroke="#bebebe" stroke-width="4.4" stroke-linecap="round" fill="none"/>
<rect x="573.4" y="720" width="26.2" height="72.8" fill="#666666"/>
<path d="M575.2 717V721M576.5 716V721M577.7 713V721M579 710.3V721M580.2 707.2V721M581.5 706.5V721M582.7 705.4V721M584 705.2V721M585.2 707.5V721M586.5 709.3V721M587.7 708.9V721M589 704.3V721M590.2 699.3V721M591.5 699.9V721M592.7 702.2V721M594 704.3V721M595.2 705.1V721M596.5 705.9V721M597.7 706.3V721" stroke="#666666" stroke-width="4.4" stroke-linecap="round" fill="none"/>
<rect x="599.4" y="715.9" width="23.7" height="76.9" fill="#bebebe"/>
<path d="M601.2 709V716.9M602.4 705.5V716.9M603.7 702.9V716.9M604.9 701.5V716.9M606.2 702.4V716.9M607.4 706V716.9M608.7 709.5V716.9M609.9 712.9V716.9M611.2 711.4V716.9M612.4 709.5V716.9M613.7 708.3V716.9M614.9 707.5V716.9M616.2 706.5V716.9M617.4 705.6V716.9M618.7 704.8V716.9M619.9 707.2V716.9M621.2 709.5V716.9" stroke="#bebebe" stroke-width="4.4" stroke-linecap="round" fill="none"/>
<rect x="622.9" y="719.1" width="23.3" height="73.7" fill="#666666"/>
<path d="M624.7 710.2V720.1M625.9 708.5V720.1M627.2 706.6V720.1M628.4 704.2V720.1M629.7 705.2V720.1M630.9 708V720.1M632.2 710.5V720.1M633.4 710.7V720.1M634.7 710.5V720.1M635.9 711.3V720.1M637.2 713.7V720.1M638.4 716.1V720.1M639.7 714.5V720.1M640.9 707.1V720.1M642.2 702.8V720.1M643.4 705.3V720.1M644.7 706.8V720.1" stroke="#666666" stroke-width="4.4" stroke-linecap="round" fill="none"/>
<rect x="645.9" y="712.5" width="28" height="80.3" fill="#bebebe"/>
<path d="M647.7 701.4V713.5M649 699.7V713.5M650.2 697.7V713.5M651.5 696.2V713.5M652.7 701.1V713.5M654 706.7V713.5M655.2 709.5V713.5M656.5 709.4V713.5M657.7 708.9V713.5M659 708.7V713.5M660.2 707.4V713.5M661.5 707.1V713.5M662.7 707.3V713.5M664 707.3V713.5M665.2 707.2V713.5M666.5 707.3V713.5M667.7 707.2V713.5M669 705.7V713.5M670.2 704.3V713.5M671.5 704.9V713.5" stroke="#bebebe" stroke-width="4.4" stroke-linecap="round" fill="none"/>
<rect x="673.7" y="713.1" width="21" height="79.7" fill="#666666"/>
<path d="M675.5 707.9V714.1M676.7 706.7V714.1M678 704.8V714.1M679.2 702.5V714.1M680.5 700.6V714.1M681.7 703.3V714.1M683 706.4V714.1M684.2 710V714.1M685.5 710.1V714.1M686.7 709.7V714.1M688 709.7V714.1M689.2 709V714.1M690.5 708.4V714.1M691.7 707.4V714.1M693 707.5V714.1" stroke="#666666" stroke-width="4.4" stroke-linecap="round" fill="none"/>
<rect x="694.5" y="712.1" width="21.6" height="80.7" fill="#bebebe"/>
<path d="M696.3 707.3V713.1M697.6 706.3V713.1M698.8 704.4V713.1M700.1 702V713.1M701.3 700.1V713.1M702.6 701.1V713.1M703.8 703V713.1M705.1 705.8V713.1M706.3 706.9V713.1M707.6 706.3V713.1M708.8 705.9V713.1M710.1 706.5V713.1M711.3 707.2V713.1M712.6 707.7V713.1M713.8 709.1V713.1" stroke="#bebebe" stroke-width="4.4" stroke-linecap="round" fill="none"/>
<rect x="716" y="718" width="23.3" height="74.8" fill="#666666"/>
<path d="M717.8 706V719M719 705.4V719M720.3 704.4V719M721.5 705.5V719M722.8 706.5V719M724 707.2V719M725.3 707.3V719M726.5 709.2V719M727.8 712.1V719M729 715V719M730.3 714.6V719M731.5 714V719M732.8 713.5V719M734 712.6V719M735.3 712.7V719M736.5 711.8V719M737.8 710.5V719" stroke="#666666" stroke-width="4.4" stroke-linecap="round" fill="none"/>
<rect x="739" y="714.9" width="24.5" height="77.9" fill="#bebebe"/>
<path d="M740.8 706.9V715.9M742.1 705V715.9M743.3 702.6V715.9M744.6 701.5V715.9M745.8 696.3V715.9M747.1 691.7V715.9M748.3 686.3V715.9M749.6 688.2V715.9M750.8 697.9V715.9M752.1 704.4V715.9M753.3 706.5V715.9M754.6 708.3V715.9M755.8 710.2V715.9M757.1 711.9V715.9M758.3 709.2V715.9M759.6 707.5V715.9M760.8 705.4V715.9M762.1 702.8V715.9" stroke="#bebebe" stroke-width="4.4" stroke-linecap="round" fill="none"/>
<rect x="763.3" y="720.1" width="22.8" height="72.7" fill="#666666"/>
<path d="M765.1 703.2V721.1M766.3 703V721.1M767.6 704V721.1M768.8 704.6V721.1M770.1 699.2V721.1M771.3 694.3V721.1M772.6 691.6V721.1M773.8 707.8V721.1M775.1 713.4V721.1M776.3 715.2V721.1M777.6 717.1V721.1M778.8 715.9V721.1M780.1 714.8V721.1M781.3 713.2V721.1M782.6 713.1V721.1M783.8 713.6V721.1" stroke="#666666" stroke-width="4.4" stroke-linecap="round" fill="none"/>
<rect x="786" y="719" width="59.7" height="73.8" fill="#8e8e8e"/>
<path d="M786.6 719V792.8M790.3 719V792.8M794 719V792.8M797.7 719V792.8M801.4 719V792.8M805.1 719V792.8M808.8 719V792.8M812.5 719V792.8M816.2 719V792.8M819.9 719V792.8M823.6 719V792.8M827.3 719V792.8M831 719V792.8M834.7 719V792.8M838.4 719V792.8M842.1 719V792.8" stroke="#727272" stroke-width="1.1" fill="none"/>
<path d="M788.5 719V792.8M792.2 719V792.8M795.9 719V792.8M799.6 719V792.8M803.3 719V792.8M807 719V792.8M810.7 719V792.8M814.4 719V792.8M818.1 719V792.8M821.8 719V792.8M825.5 719V792.8M829.2 719V792.8M832.9 719V792.8M836.6 719V792.8M840.3 719V792.8M844 719V792.8" stroke="#a8a8a8" stroke-width="0.9" fill="none"/>
<path d="M792.1 707V721M794.5 709.5V721M799.3 712.5V721M801.7 711.4V721M806.5 713.2V721M820.9 705.4V721M825.7 712.5V721M832.9 711.5V721M835.3 713.2V721M842.5 712V721M844.9 715.4V721" stroke="#6a6a6a" stroke-width="2.6" fill="none"/>
<path d="M787.3 713.5V721M796.9 710.5V721M804.1 712.8V721M808.9 714.6V721M813.7 702.4V721M828.1 712.5V721" stroke="#b8b8b8" stroke-width="2.6" fill="none"/>
<path d="M789.7 714.5V721M811.3 713.2V721M816.1 698V721M818.5 695.9V721M823.3 711.8V721M830.5 712.9V721M837.7 713.3V721M840.1 713.3V721" stroke="#8e8e8e" stroke-width="2.6" fill="none"/>
<rect x="493.6" y="721.1" width="33.9" height="71.7" fill="#00cd00"/>
<path d="M495.4 709.4V722.1M496.6 709V722.1M497.9 710.5V722.1M499.1 711.9V722.1M500.4 711.7V722.1M501.6 710.1V722.1M502.9 709.1V722.1M504.1 709.6V722.1M505.4 710.9V722.1M506.6 710.3V722.1M507.9 706.8V722.1M509.1 703.3V722.1M510.4 699.6V722.1M511.6 696.3V722.1M512.9 696.7V722.1M514.1 700.2V722.1M515.4 702.8V722.1M516.6 706.3V722.1M517.9 707.7V722.1M519.1 708.7V722.1M520.4 710V722.1M521.6 710.9V722.1M522.9 714.2V722.1M524.1 715.9V722.1M525.4 718.1V722.1" stroke="#00cd00" stroke-width="4.4" stroke-linecap="round" fill="none"/>
<path d="M222.7 703.7h0M225.6 708.5h0M230.2 713.6h0M236.1 706.8h0M241.1 718.8h0M246.2 711.3h0M251.7 705.4h0M256.7 709.7h0M261.9 713.7h0M267.3 704.6h0M270.7 707h0M273.9 708.5h0M279.1 705.3h0M282.7 700.8h0M286.2 696.3h0M289.6 708.3h0M330.9 711.1h0M335.2 710.5h0M338.6 709h0M343 705.9h0M347.5 704.3h0M350.3 711.4h0M355.1 713.6h0M397.6 711h0M403.1 705.2h0M408.1 708.4h0M410.9 704.1h0M415.9 703.9h0M421 703.5h0M425.5 707.4h0M428.3 713.3h0M477.3 707.3h0M480.7 710.2h0M486.2 717.3h0M527.5 712.6h0M530.5 707h0M533.3 710.7h0M536.1 712.2h0M576.1 714.8h0M581.4 705.7h0M587 709.4h0M592.5 700.7h0M596.3 704.5h0M626.3 707h0M630.3 705.4h0M636 708.7h0M638.6 716.6h0M641.4 703.1h0M676.8 703.5h0M681.7 699.7h0M686.1 707.7h0M689.4 709h0M692.3 707.3h0M718.6 706.2h0M723.7 706.7h0M727.8 708.8h0M732.6 711.4h0M766.1 702.2h0M770.4 695.9h0M775.9 714.4h0M778.8 716.8h0M783.3 713h0" stroke="#5e5e5e" stroke-width="4.4" stroke-linecap="round" fill="none"/>
<path d="M230.5 719.2h0M252.9 705h0M256.8 711.7h0M268.5 710h0M272.9 712.3h0M281.5 706.8h0M286.4 697h0M288.1 712.2h0M332.3 711.3h0M338.9 713.3h0M343.1 708.1h0M350.7 714.5h0M355.8 714.9h0M403.4 707.9h0M412.4 708h0M422.4 707.3h0M425.9 714h0M480.3 712.6h0M487.3 721.5h0M527.4 715.9h0M536.6 714.2h0M591.6 702.8h0M596.6 708.3h0M630.3 707.3h0M636.1 714.4h0M675.9 707.6h0M682.2 703.8h0M690.4 711.1h0M693.3 709.7h0M717.4 706.7h0M723.2 709.7h0M779.2 719.2h0" stroke="#666666" stroke-width="4.4" stroke-linecap="round" fill="none"/>
<path d="M226 699.6h0M233.1 700.5h0M237 702.4h0M242.2 713.2h0M246.7 704.9h0M249.7 700.1h0M254.5 700.7h0M258.2 708.5h0M263.3 706.3h0M265.3 703.5h0M269.8 703.2h0M272 705.5h0M274.4 698.8h0M278.4 693.9h0M284.5 686.7h0M333.9 706.3h0M337.3 698.3h0M343.2 702.9h0M349 703.4h0M351.4 704.6h0M356.2 704.7h0M399.2 704.6h0M405.2 702.3h0M409 701h0M412.7 695.8h0M415.6 695.2h0M420 703h0M477.9 702.9h0M480 704h0M486.9 712.3h0M489.6 707.2h0M536.3 702.2h0M580 696.7h0M587.5 699.4h0M590.9 692h0M630.2 694.1h0M633.7 696.2h0M637.1 708.8h0M640.5 701.9h0M677.9 698.1h0M681 694.5h0M687.3 703.5h0M690.3 698.8h0M722.9 696.9h0M726.6 705h0M731.3 700.2h0M770.3 689.6h0M776.5 708.8h0M779.1 707.5h0M781.8 703.6h0M285.1 623.6h0M285.6 660.8h0M273.9 662.9h0M273.9 669.5h0M273.9 673.8h0M240.1 668.6h0M241.5 680.4h0M251 686.3h0M237.9 692.3h0M230.6 696.3h0M268.7 685.9h0M232.4 702.4h0M269.6 697.2h0M273 695.8h0M283.4 685.1h0M278.2 701h0M254.8 702.4h0M336.2 698.9h0M347.1 698.9h0M351.2 700.6h0M331 707.5h0M343.9 703.2h0M360.4 683.3h0M358.1 691.1h0M414.2 672.1h0M425.8 677.8h0M400.7 688h0M414.4 689h0M421.8 686.3h0M400.7 693.7h0M421.8 692.5h0M400.2 699.8h0M413.1 697.7h0M421.8 698.9h0M398.4 703.6h0M403.6 703.6h0M426.1 704.4h0M433 701.5h0M476.3 698.5h0M494.1 698.4h0M478 704.1h0M489.3 708.4h0M494.2 698.2h0M489.5 707.5h0M526.7 681.9h0M526.7 688.5h0M526.7 691.1h0M526.7 693.7h0M530.2 700.6h0M538 698.9h0M595.9 662.9h0M577.4 677.6h0M591.1 687.3h0M602 691.1h0M600.2 693.2h0M585.5 695.4h0M590.7 694.6h0M582.1 701.5h0M631.7 690.6h0M642.1 675h0M642.1 675h0M628.3 698.9h0M634 702.4h0M642.1 698h0M682.4 663.6h0M682.4 672.9h0M682.4 675.2h0M685.9 691.1h0M688.5 692h0M681.6 696h0M689.3 699.4h0M678.1 702.9h0M727.1 684.2h0M719.6 686.4h0M719.6 693.2h0M725.7 694.6h0M719.6 702.4h0M725.7 702.9h0M739 703.7h0M772.4 686.8h0M772.4 686.8h0M767.2 698.5h0M784 697.7h0M782.4 700.6h0M780.2 703.2h0M843.3 663.4h0M799.2 682.5h0M813 687.6h0M818.6 693.4h0M839.3 693.4h0M817.4 698h0M832.1 700.6h0M795.7 703.2h0M807.3 703.6h0M791.4 706.7h0M803.5 708.4h0" stroke="#4d4d4d" stroke-width="4.4" stroke-linecap="round" fill="none"/>
<path d="M293.9 704.4h0M297.2 698.8h0M297.1 701.4h0M300.3 708.7h0M305.2 710.5h0M308.3 706h0M311 706.1h0M315.8 710.6h0M316.8 713.2h0M321.6 697h0M321.8 699.4h0M296.1 696h0M300.2 697.8h0M305.7 699.3h0M318.9 704.8h0M321.8 685.9h0M363.3 702.5h0M363.3 706.4h0M367.6 699h0M368.2 703.2h0M371.2 697.6h0M375.1 703.9h0M379.2 714.3h0M378.3 720h0M383.7 693.9h0M388.2 694.7h0M391.4 706.7h0M390.2 706.5h0M362.9 700h0M368.3 689.9h0M372.4 693h0M375.9 698.8h0M379.6 711.3h0M384.2 689.9h0M390 696.8h0M433.8 708.7h0M432.7 710.2h0M438.4 707h0M439.2 710.8h0M441.3 711.7h0M447 713h0M445.7 716.1h0M452.4 705.8h0M451.1 707.9h0M456.8 708.2h0M457.2 711.9h0M461.3 702.1h0M460.3 705.6h0M464.5 703.9h0M469.1 710.5h0M470.3 713.3h0M436.6 699.2h0M443.1 706.6h0M449.4 695.2h0M452.5 701.8h0M454.9 697.3h0M461.2 693.3h0M463.9 689h0M467.1 706.3h0M469.9 702.1h0M544.5 709.4h0M550.4 719.6h0M556 708.9h0M555.8 712.7h0M560.1 710.7h0M560.1 713.2h0M564.8 705.3h0M570.6 709.1h0M545.7 707.5h0M552.9 709.9h0M557.1 705.8h0M562.4 703.5h0M569.3 701.5h0M602 707.2h0M606.4 703.2h0M605.4 704.7h0M609.3 709.5h0M609.5 712h0M614.4 707.5h0M617.8 703.6h0M606.5 698.7h0M609.9 706.4h0M616.3 699.9h0M620.1 695.7h0M649 697.2h0M653.8 703.9h0M653 706.4h0M657.4 706.3h0M657.2 711.9h0M663.1 707.9h0M664.3 709.3h0M668.4 704.2h0M669.3 708.9h0M651.1 691h0M655.8 704.5h0M660.9 699.2h0M665.3 702.2h0M697.4 703.2h0M696.5 710h0M701.2 697.7h0M704.4 702.5h0M703.8 705.7h0M708.5 703.8h0M709.7 707.9h0M712.4 704.4h0M701.1 695.3h0M704.3 695.2h0M710.3 692.1h0M741.7 704.9h0M741.5 708.1h0M747.2 692.1h0M752.7 706.3h0M755.3 707.4h0M756.6 713.3h0M760.7 702.6h0M760.7 705.7h0M742.4 691.4h0M749.1 679.9h0M754 700.3h0M759.1 695.2h0M309.3 677.3h0M309.3 685.1h0M298.1 688.7h0M323.7 683.3h0M302.4 694.6h0M307.6 693.2h0M311.1 692.3h0M310.2 700.6h0M316.3 702.4h0M330.1 692.8h0M392.7 666.5h0M378.5 670.9h0M384.6 670.9h0M365.6 684.2h0M370.8 680.7h0M374.2 679.3h0M378.5 679h0M376 683.3h0M384.1 683.3h0M384.1 686.3h0M371.3 692.8h0M366.4 698.9h0M369.9 698.9h0M375.1 698.9h0M377.7 699.8h0M461.6 666h0M461.6 669h0M448.6 674.7h0M446.9 681.1h0M461.6 682.5h0M461.6 685.1h0M465.9 689h0M473.7 688h0M452.9 689.4h0M451.2 692.3h0M461.6 696.3h0M471.1 698.4h0M439.1 699.8h0M444.3 702.4h0M470.2 704.1h0M544 702.4h0M562.7 653h0M571.7 655.8h0M562.7 675.5h0M574.3 683h0M566.5 689.9h0M563 693.2h0M570.8 691.1h0M559.6 698.9h0M554.4 700.6h0M604.6 673.1h0M611 682.8h0M617.5 688.2h0M624.8 688.7h0M608.4 693.2h0M619.3 695.4h0M623.6 695.4h0M604.6 698.9h0M648.7 661.2h0M650.4 664.6h0M650.4 673.8h0M652.1 678.5h0M649.6 686.8h0M651.3 689.4h0M663 698h0M656.5 702.4h0M671.2 700.6h0M706 690.4h0M702.3 694.6h0M704.9 698.9h0M745.6 680.4h0M749 679.3h0M749 680.7h0M763.2 692.8h0M762.9 698.9h0M758.5 703.2h0M835.5 697.2h0M844.5 703.2h0M789.7 702.9h0M820.3 701.5h0M826 705.8h0" stroke="#bebebe" stroke-width="4.4" stroke-linecap="round" fill="none"/>
<path d="M788.1 718.8h0M789 723.4h0M791.3 708.2h0M793.1 709.1h0M800 718.3h0M801.4 710.6h0M803 719.3h0M803.6 723.2h0M809.4 719.4h0M812.3 708.1h0M812.4 712.3h0M812.5 717h0M816.8 700.2h0M816.2 710.6h0M819 695.1h0M818.8 708.7h0M823 711.7h0M824.4 720.1h0M827.3 717.7h0M827.1 722.5h0M829.1 716h0M831.7 722.8h0M834.8 714.4h0M835.4 721.9h0M838.6 716h0M837.3 719h0M842.8 709h0M842.3 718.3h0" stroke="#5a5a5a" stroke-width="3.8" stroke-linecap="round" fill="none"/>
<path d="M790.9 711.4h0M792.1 721.5h0M797.4 718.9h0M804.6 708.6h0M809.4 714.5h0M809.6 726.7h0M815 705.5h0M820.9 719.4h0M828.6 710.9h0M831.7 714.8h0M835.9 717.7h0M841 713.2h0" stroke="#c4c4c4" stroke-width="3.8" stroke-linecap="round" fill="none"/>
<path d="M791.7 730.1h0M794.5 727.6h0M795.2 734h0M794 740.7h0M794.4 749.5h0M802.1 728.5h0M805 723.7h0M808.6 731.7h0M812.3 742.2h0M815.1 717.6h0M820.7 722.7h0M835.9 730.5h0M834.4 735.7h0M837.4 748.6h0M841.8 726.3h0" stroke="#c4c4c4" stroke-width="3" stroke-linecap="round" fill="none"/>
<path d="M791.6 740.1h0M797.8 728.2h0M797.5 752.7h0M801 727.8h0M800.2 755.8h0M801.4 737.6h0M801.4 741.1h0M804.8 747.4h0M810 735.1h0M809.4 744.1h0M808.4 753.1h0M811.8 732.9h0M811.6 738.1h0M816.7 714.6h0M814.9 735.2h0M815 738.8h0M818.8 713.5h0M821.1 735.7h0M822.1 748.1h0M822.5 736.6h0M825.7 727.9h0M826.3 752.4h0M829.7 738.4h0M830.2 746.8h0M832.5 744.6h0M834.2 745.6h0M837.6 731.1h0M839.3 736.4h0M843 739.8h0" stroke="#5a5a5a" stroke-width="3" stroke-linecap="round" fill="none"/>
<path d="M844.6 717h0M844.3 729.3h0M844.7 734.4h0M844.5 739.7h0M844.5 744.8h0M844.2 749.5h0M844.7 766.8h0M844.7 770.7h0M844.1 777.6h0" stroke="#6a6a6a" stroke-width="4.2" stroke-linecap="round" fill="none"/>
<path d="M844.3 722.6h0M844.4 726h0M844.2 755.3h0M844.7 761h0M844.2 774.4h0M844.4 781.6h0M844 785.5h0" stroke="#cfcfcf" stroke-width="4.2" stroke-linecap="round" fill="none"/>
<path d="M496.6 708.2h0M496.7 711.1h0M500.2 708.6h0M499 712.6h0M506 709.3h0M509.4 700.1h0M509.1 704.3h0M512 694.5h0M512.7 698.2h0M515.7 704.2h0M516.7 705.3h0M520.4 709.3h0M504.1 702.8h0M508.4 694h0M512.3 691.1h0M514.5 696.6h0M519.8 699.6h0M499.7 697.2h0M497.1 703.2h0M512 636.6h0M512 640.9h0M512 646.1h0M512 649.6h0M512 653h0M512 661.7h0M512 668.1h0M512 673.8h0M506 690.2h0M506.5 693.7h0M500.4 697.2h0M497 703.2h0M502.5 704.9h0M517.7 701.5h0M497.3 707.5h0" stroke="#00cd00" stroke-width="4.4" stroke-linecap="round" fill="none"/>
<path d="M273.6 676.3h0M274 678.5h0M274.4 680.7h0M274.1 682.9h0M273.4 685.1h0M273.9 687.3h0M641.9 677.5h0M642.3 679.7h0M642.4 681.9h0M642.6 684.1h0M642.1 686.3h0M642.1 688.5h0M772.7 689.3h0M772.9 691.5h0M771.9 693.7h0M772.9 695.9h0M773 698.1h0M772.9 700.3h0M772.7 702.5h0M772.4 704.7h0" stroke="#666666" stroke-width="4.8" stroke-linecap="round" fill="none"/>
<path d="M511.8 676.3h0M512.4 678.5h0M512.3 680.7h0M511.9 682.9h0M511.9 685.1h0M512.6 687.3h0M511.7 689.5h0M511.8 691.7h0M511.9 693.9h0M512.7 696.1h0M511.5 698.3h0M512.2 700.5h0M512.7 702.7h0M511.9 704.9h0" stroke="#00cd00" stroke-width="4.8" stroke-linecap="round" fill="none"/>
<path d="M749.1 683.2h0M749.7 685.4h0M748.9 687.6h0M749.4 689.8h0M749.5 692h0M749 694.2h0M748.3 696.4h0M748.7 698.6h0M748.5 700.8h0" stroke="#bebebe" stroke-width="4.8" stroke-linecap="round" fill="none"/>
<rect x="203.5" y="612.9" width="660.2" height="179.9" fill="none" stroke="#000" stroke-width="1.7"/>
<text x="190.7" y="637.2" text-anchor="end">8</text>
<text x="190.7" y="677.2" text-anchor="end">6</text>
<text x="190.7" y="717.2" text-anchor="end">4</text>
<text x="190.7" y="756.9" text-anchor="end">2</text>
<text x="190.7" y="796.7" text-anchor="end">0</text>
<text x="258.1" y="815.3" text-anchor="middle">1</text>
<text x="313.2" y="815.3" text-anchor="middle">2</text>
<text x="345" y="815.3" text-anchor="middle">3</text>
<text x="379.2" y="815.3" text-anchor="middle">4</text>
<text x="415.1" y="815.3" text-anchor="middle">5</text>
<text x="453.3" y="815.3" text-anchor="middle">6</text>
<text x="485.7" y="815.3" text-anchor="middle">7</text>
<text x="511.2" y="815.3" text-anchor="middle">8</text>
<text x="532.3" y="815.3" text-anchor="middle">9</text>
<text x="558.5" y="815.3" text-anchor="middle">10</text>
<text x="589.6" y="815.3" text-anchor="middle">11</text>
<text x="613.8" y="815.3" text-anchor="middle">12</text>
<text x="662.5" y="815.3" text-anchor="middle">14</text>
<text x="687.2" y="815.3" text-anchor="middle">15</text>
<text x="730.2" y="815.3" text-anchor="middle">17</text>
<text x="753.4" y="815.3" text-anchor="middle">18</text>
<text x="777.9" y="815.3" text-anchor="middle">19</text>
<path d="M203.5 633.3h-7.5M203.5 673.3h-7.5M203.5 713.3h-7.5M203.5 753h-7.5M203.5 792.8h-7.5M258.1 792.8v7.5M313.2 792.8v7.5M345 792.8v7.5M379.2 792.8v7.5M415.1 792.8v7.5M453.3 792.8v7.5M485.7 792.8v7.5M511.2 792.8v7.5M532.3 792.8v7.5M558.5 792.8v7.5M589.6 792.8v7.5M613.8 792.8v7.5M636.6 792.8v7.5M662.5 792.8v7.5M687.2 792.8v7.5M708 792.8v7.5M730.2 792.8v7.5M753.4 792.8v7.5M777.9 792.8v7.5" stroke="#000" stroke-width="1.7" fill="none"/>
<rect x="789" y="792.8" width="56.5" height="7.5" fill="#000"/>
<text x="801.7" y="815.3" text-anchor="middle">33</text>
<text x="827.7" y="815.3" text-anchor="middle">294</text>
<text x="533.6" y="839.8" text-anchor="middle" class="al">Chromosome</text>
<text transform="translate(161 703.2) rotate(-90)" text-anchor="middle" class="yl">− log<tspan dy="2.2" font-size="7.6">10</tspan><tspan dy="-2.2">(</tspan><tspan font-style="italic">p</tspan>)</text>
</g>
<g class="m">
<rect x="223.4" y="1031.5" width="71.5" height="57.4" fill="#666666"/>
<path d="M225.2 1028.4V1032.5M226.4 1026.1V1032.5M227.7 1024.5V1032.5M228.9 1017V1032.5M230.2 1006.1V1032.5M231.4 1006.5V1032.5M232.7 1013.4V1032.5M233.9 1016.3V1032.5M235.2 1016.4V1032.5M236.4 1017.2V1032.5M237.7 1016.6V1032.5M238.9 1016.1V1032.5M240.2 1015V1032.5M241.4 1016.7V1032.5M242.7 1018.8V1032.5M243.9 1020.8V1032.5M245.2 1024.2V1032.5M246.4 1027.9V1032.5M247.7 1028.5V1032.5M248.9 1025.5V1032.5M250.2 1023.5V1032.5M251.4 1023.7V1032.5M252.7 1025.6V1032.5M253.9 1027.4V1032.5M255.2 1023.7V1032.5M256.4 1020.7V1032.5M257.7 1018.6V1032.5M258.9 1019.8V1032.5M260.2 1021.1V1032.5M261.4 1019.3V1032.5M262.7 1012.7V1032.5M263.9 1009.6V1032.5M265.2 1012.3V1032.5M266.4 1014.2V1032.5M267.7 1012.1V1032.5M268.9 1009.3V1032.5M270.2 1006.6V1032.5M271.4 1005.1V1032.5M272.7 1003.2V1032.5M273.9 1002.5V1032.5M275.2 1000.8V1032.5M276.4 999.3V1032.5M277.7 1012.5V1032.5M278.9 1018.9V1032.5M280.2 1020V1032.5M281.4 1022.2V1032.5M282.7 1022.9V1032.5M283.9 1023.5V1032.5M285.2 1024.4V1032.5M286.4 1025V1032.5M287.7 1025.2V1032.5M288.9 1026V1032.5M290.2 1026.5V1032.5M291.4 1025.5V1032.5M292.7 1023.6V1032.5" stroke="#666666" stroke-width="4.4" stroke-linecap="round" fill="none"/>
<rect x="294.7" y="1031.8" width="36.2" height="57.1" fill="#bebebe"/>
<path d="M296.5 1019.8V1032.8M297.7 1019.4V1032.8M299 1017.8V1032.8M300.2 1016.2V1032.8M301.5 1015.7V1032.8M302.7 1016.1V1032.8M304 1017.2V1032.8M305.2 1018.3V1032.8M306.5 1019.5V1032.8M307.7 1020.1V1032.8M309 1020.5V1032.8M310.2 1020.4V1032.8M311.5 1020.5V1032.8M312.7 1021.7V1032.8M314 1021.8V1032.8M315.2 1022.5V1032.8M316.5 1023V1032.8M317.7 1024V1032.8M319 1024.6V1032.8M320.2 1025.7V1032.8M321.5 1027V1032.8M322.7 1027.7V1032.8M324 1028V1032.8M325.2 1028.4V1032.8M326.5 1028.8V1032.8M327.7 1025.8V1032.8M329 1021.5V1032.8" stroke="#bebebe" stroke-width="4.4" stroke-linecap="round" fill="none"/>
<rect x="330.7" y="1032.3" width="31.2" height="56.6" fill="#666666"/>
<path d="M332.5 1028.7V1033.3M333.7 1029.2V1033.3M335 1028.4V1033.3M336.2 1028.6V1033.3M337.5 1029.3V1033.3M338.7 1028.8V1033.3M340 1028.6V1033.3M341.2 1027.7V1033.3M342.5 1027.4V1033.3M343.7 1027.1V1033.3M345 1025.5V1033.3M346.2 1022.2V1033.3M347.5 1020V1033.3M348.7 1019.6V1033.3M350 1019.4V1033.3M351.2 1020.1V1033.3M352.5 1023.4V1033.3M353.7 1026.6V1033.3M355 1027V1033.3M356.2 1024.9V1033.3M357.5 1021.6V1033.3M358.7 1019.5V1033.3M360 1018V1033.3" stroke="#666666" stroke-width="4.4" stroke-linecap="round" fill="none"/>
<rect x="361.7" y="1029.9" width="35.4" height="59" fill="#bebebe"/>
<path d="M363.5 1022.9V1030.9M364.7 1024V1030.9M366 1023.4V1030.9M367.2 1023.4V1030.9M368.5 1022.7V1030.9M369.7 1020.3V1030.9M371 1017.8V1030.9M372.2 1016V1030.9M373.5 1012.7V1030.9M374.7 1010.4V1030.9M376 1008.2V1030.9M377.2 1006.5V1030.9M378.5 1013V1030.9M379.7 1023.3V1030.9M381 1026.9V1030.9M382.2 1025.1V1030.9M383.5 1022.6V1030.9M384.7 1020.3V1030.9M386 1018.7V1030.9M387.2 1018.6V1030.9M388.5 1018.1V1030.9M389.7 1017.9V1030.9M391 1018.4V1030.9M392.2 1018.1V1030.9M393.5 1018.2V1030.9M394.7 1018.4V1030.9" stroke="#bebebe" stroke-width="4.4" stroke-linecap="round" fill="none"/>
<rect x="396.9" y="1032.1" width="36.2" height="56.8" fill="#666666"/>
<path d="M398.7 1028.1V1033.1M400 1029.1V1033.1M401.2 1027V1033.1M402.5 1025.6V1033.1M403.7 1024.3V1033.1M405 1023.6V1033.1M406.2 1025.2V1033.1M407.5 1026.5V1033.1M408.7 1027.7V1033.1M410 1027.8V1033.1M411.2 1025.3V1033.1M412.5 1023.9V1033.1M413.7 1022V1033.1M415 1020.5V1033.1M416.2 1021.3V1033.1M417.5 1022.2V1033.1M418.7 1023.2V1033.1M420 1023.5V1033.1M421.2 1023.6V1033.1M422.5 1023V1033.1M423.7 1023.4V1033.1M425 1022.7V1033.1M426.2 1023.6V1033.1M427.5 1024.2V1033.1M428.7 1024.6V1033.1M430 1025V1033.1M431.2 1025.5V1033.1" stroke="#666666" stroke-width="4.4" stroke-linecap="round" fill="none"/>
<rect x="432.9" y="1030.6" width="41.9" height="58.3" fill="#bebebe"/>
<path d="M434.7 1021.5V1031.6M436 1018.3V1031.6M437.2 1017.2V1031.6M438.5 1014.8V1031.6M439.7 1012.8V1031.6M441 1011.2V1031.6M442.2 1013.2V1031.6M443.5 1015.1V1031.6M444.7 1017.1V1031.6M446 1019.1V1031.6M447.2 1018V1031.6M448.5 1016.6V1031.6M449.7 1015.6V1031.6M451 1013.7V1031.6M452.2 1016.5V1031.6M453.5 1020.7V1031.6M454.7 1024.1V1031.6M456 1027.6V1031.6M457.2 1022.2V1031.6M458.5 1011.7V1031.6M459.7 1002.2V1031.6M461 995.8V1031.6M462.2 1000.9V1031.6M463.5 1004.9V1031.6M464.7 1009.2V1031.6M466 1010.8V1031.6M467.2 1011.9V1031.6M468.5 1013.3V1031.6M469.7 1015.3V1031.6M471 1017.8V1031.6M472.2 1020.8V1031.6M473.5 1022.8V1031.6" stroke="#bebebe" stroke-width="4.4" stroke-linecap="round" fill="none"/>
<rect x="474.6" y="1031.1" width="20.5" height="57.8" fill="#666666"/>
<path d="M476.4 1019.2V1032.1M477.7 1016.7V1032.1M478.9 1015.1V1032.1M480.2 1017.7V1032.1M481.4 1021.9V1032.1M482.7 1025.1V1032.1M483.9 1026.5V1032.1M485.2 1026.5V1032.1M486.4 1027.4V1032.1M487.7 1028.1V1032.1M488.9 1027.9V1032.1M490.2 1025V1032.1M491.4 1022V1032.1M492.7 1018.8V1032.1" stroke="#666666" stroke-width="4.4" stroke-linecap="round" fill="none"/>
<rect x="494.9" y="1026.8" width="29.8" height="62.1" fill="#bebebe"/>
<path d="M496.7 1019.4V1027.8M497.9 1019.5V1027.8M499.2 1019.1V1027.8M500.4 1017.8V1027.8M501.7 1016.7V1027.8M502.9 1016.9V1027.8M504.2 1017.6V1027.8M505.4 1018.5V1027.8M506.7 1020V1027.8M507.9 1021.9V1027.8M509.2 1023.1V1027.8M510.4 1023.8V1027.8M511.7 1023.4V1027.8M512.9 1021.3V1027.8M514.2 1020.2V1027.8M515.4 1019.2V1027.8M516.7 1018.4V1027.8M517.9 1018.7V1027.8M519.2 1019.2V1027.8M520.4 1019.2V1027.8M521.7 1011V1027.8M522.9 1000.8V1027.8" stroke="#bebebe" stroke-width="4.4" stroke-linecap="round" fill="none"/>
<rect x="524.5" y="1029.4" width="17.1" height="59.5" fill="#666666"/>
<path d="M526.3 1017.2V1030.4M527.5 1017.6V1030.4M528.8 1018V1030.4M530 1018.5V1030.4M531.3 1019.2V1030.4M532.5 1021.6V1030.4M533.8 1024.3V1030.4M535 1026.4V1030.4M536.3 1025.7V1030.4M537.5 1022.6V1030.4M538.8 1019.9V1030.4M540 1020.4V1030.4" stroke="#666666" stroke-width="4.4" stroke-linecap="round" fill="none"/>
<rect x="541.3" y="1032.3" width="32.9" height="56.6" fill="#bebebe"/>
<path d="M543.1 1029.3V1033.3M544.4 1028V1033.3M545.6 1024.5V1033.3M546.9 1021.3V1033.3M548.1 1017.4V1033.3M549.4 1015.5V1033.3M550.6 1020.6V1033.3M551.9 1025.3V1033.3M553.1 1025V1033.3M554.4 1016.7V1033.3M555.6 1008.6V1033.3M556.9 1006.4V1033.3M558.1 1008.5V1033.3M559.4 1010.4V1033.3M560.6 1011.8V1033.3M561.9 1012.3V1033.3M563.1 1013.5V1033.3M564.4 1016V1033.3M565.6 1018.4V1033.3M566.9 1020.5V1033.3M568.1 1022.2V1033.3M569.4 1023.9V1033.3M570.6 1025.7V1033.3M571.9 1026.5V1033.3" stroke="#bebebe" stroke-width="4.4" stroke-linecap="round" fill="none"/>
<rect x="574" y="1031.2" width="25.9" height="57.7" fill="#666666"/>
<path d="M575.8 1026.8V1032.2M577.1 1025.8V1032.2M578.3 1023.3V1032.2M579.6 1020.1V1032.2M580.8 1018.9V1032.2M582.1 1020.7V1032.2M583.3 1022.2V1032.2M584.6 1023.7V1032.2M585.8 1025.2V1032.2M587.1 1026.8V1032.2M588.3 1028.2V1032.2M589.6 1027.8V1032.2M590.8 1025.2V1032.2M592.1 1023.2V1032.2M593.3 1019.7V1032.2M594.6 1017.1V1032.2M595.8 1014V1032.2M597.1 1011.8V1032.2M598.3 1009.7V1032.2" stroke="#666666" stroke-width="4.4" stroke-linecap="round" fill="none"/>
<rect x="599.7" y="1029.3" width="23.4" height="59.6" fill="#bebebe"/>
<path d="M601.5 1007.9V1030.3M602.8 1008.9V1030.3M604 1011V1030.3M605.3 1014V1030.3M606.5 1016.5V1030.3M607.8 1019.5V1030.3M609 1021.2V1030.3M610.3 1022.7V1030.3M611.5 1023.6V1030.3M612.8 1024.9V1030.3M614 1025.4V1030.3M615.3 1026.3V1030.3M616.5 1022.5V1030.3M617.8 1019V1030.3M619 1017.7V1030.3M620.3 1018.9V1030.3M621.5 1019.2V1030.3" stroke="#bebebe" stroke-width="4.4" stroke-linecap="round" fill="none"/>
<rect x="622.9" y="1030.4" width="23" height="58.5" fill="#666666"/>
<path d="M624.7 1026.5V1031.4M626 1024.1V1031.4M627.2 1021.1V1031.4M628.5 1017.8V1031.4M629.7 1015V1031.4M631 1013.5V1031.4M632.2 1011.5V1031.4M633.5 1017.1V1031.4M634.7 1023.3V1031.4M636 1026.7V1031.4M637.2 1022.3V1031.4M638.5 1017.1V1031.4M639.7 1016.8V1031.4M641 1020.5V1031.4M642.2 1024V1031.4M643.5 1027.4V1031.4M644.7 1025.3V1031.4" stroke="#666666" stroke-width="4.4" stroke-linecap="round" fill="none"/>
<rect x="645.8" y="1028.9" width="27.7" height="60" fill="#bebebe"/>
<path d="M647.6 1024.1V1029.9M648.8 1023.3V1029.9M650.1 1019.2V1029.9M651.3 1014.5V1029.9M652.6 1011.1V1029.9M653.8 1013.5V1029.9M655.1 1018.6V1029.9M656.3 1024.6V1029.9M657.6 1024V1029.9M658.8 1023.4V1029.9M660.1 1022.4V1029.9M661.3 1021.8V1029.9M662.6 1021V1029.9M663.8 1019.9V1029.9M665.1 1017.6V1029.9M666.3 1016V1029.9M667.6 1016.6V1029.9M668.8 1020.6V1029.9M670.1 1023.6V1029.9M671.3 1025.9V1029.9" stroke="#bebebe" stroke-width="4.4" stroke-linecap="round" fill="none"/>
<rect x="673.3" y="1027.1" width="20.8" height="61.8" fill="#666666"/>
<path d="M675.1 1018.3V1028.1M676.3 1005.6V1028.1M677.6 1013.7V1028.1M678.8 1021.8V1028.1M680.1 1022.7V1028.1M681.3 1022.9V1028.1M682.6 1024V1028.1M683.8 1024.1V1028.1M685.1 1023.2V1028.1M686.3 1022.1V1028.1M687.6 1020.9V1028.1M688.8 1018.6V1028.1M690.1 1018.1V1028.1M691.3 1019.3V1028.1M692.6 1021.1V1028.1" stroke="#666666" stroke-width="4.4" stroke-linecap="round" fill="none"/>
<rect x="693.9" y="1028.4" width="21.4" height="60.5" fill="#bebebe"/>
<path d="M695.7 1025.4V1029.4M697 1021.8V1029.4M698.2 1012.9V1029.4M699.5 1010.1V1029.4M700.7 1014.9V1029.4M702 1019.7V1029.4M703.2 1024V1029.4M704.5 1024.6V1029.4M705.7 1024V1029.4M707 1023.9V1029.4M708.2 1023.3V1029.4M709.5 1021.4V1029.4M710.7 1019.5V1029.4M712 1017.7V1029.4M713.2 1015.8V1029.4" stroke="#bebebe" stroke-width="4.4" stroke-linecap="round" fill="none"/>
<rect x="715.2" y="1024.9" width="23" height="64" fill="#666666"/>
<path d="M717 1012.8V1025.9M718.2 1013.8V1025.9M719.5 1014.8V1025.9M720.7 1016V1025.9M722 1017.9V1025.9M723.2 1017.4V1025.9M724.5 1017.3V1025.9M725.7 1017.4V1025.9M727 1016.4V1025.9M728.2 1015.5V1025.9M729.5 1014V1025.9M730.7 1013.5V1025.9M732 1012.2V1025.9M733.2 1011.3V1025.9M734.5 1013.9V1025.9M735.7 1018.1V1025.9M737 1021.9V1025.9" stroke="#666666" stroke-width="4.4" stroke-linecap="round" fill="none"/>
<rect x="738" y="1021.5" width="24.2" height="67.4" fill="#bebebe"/>
<path d="M739.8 1018.5V1022.5M741.1 1017.1V1022.5M742.3 1017.1V1022.5M743.6 1016.4V1022.5M744.8 1015.8V1022.5M746.1 1014.6V1022.5M747.3 1012V1022.5M748.6 1009.8V1022.5M749.8 1008.1V1022.5M751.1 1007.5V1022.5M752.3 1007.6V1022.5M753.6 1007.5V1022.5M754.8 1006.4V1022.5M756.1 1006.2V1022.5M757.3 1005.3V1022.5M758.6 1005.5V1022.5M759.8 1004.9V1022.5" stroke="#bebebe" stroke-width="4.4" stroke-linecap="round" fill="none"/>
<rect x="762" y="1032.6" width="22.5" height="56.3" fill="#666666"/>
<path d="M763.8 1029.6V1033.6M765.1 1029V1033.6M766.3 1027.5V1033.6M767.6 1025.7V1033.6M768.8 1023.2V1033.6M770.1 1023.5V1033.6M771.3 1023.4V1033.6M772.6 1023.8V1033.6M773.8 1023.5V1033.6M775.1 1021.8V1033.6M776.3 1020.3V1033.6M777.6 1018.5V1033.6M778.8 1016.1V1033.6M780.1 1017.3V1033.6M781.3 1019.8V1033.6M782.6 1023.2V1033.6" stroke="#666666" stroke-width="4.4" stroke-linecap="round" fill="none"/>
<rect x="784.6" y="1033.9" width="59.2" height="55" fill="#8e8e8e"/>
<path d="M785.2 1033.9V1088.9M788.9 1033.9V1088.9M792.6 1033.9V1088.9M796.3 1033.9V1088.9M800 1033.9V1088.9M803.7 1033.9V1088.9M807.4 1033.9V1088.9M811.1 1033.9V1088.9M814.8 1033.9V1088.9M818.5 1033.9V1088.9M822.2 1033.9V1088.9M825.9 1033.9V1088.9M829.6 1033.9V1088.9M833.3 1033.9V1088.9M837 1033.9V1088.9M840.7 1033.9V1088.9" stroke="#727272" stroke-width="1.1" fill="none"/>
<path d="M787.1 1033.9V1088.9M790.8 1033.9V1088.9M794.5 1033.9V1088.9M798.2 1033.9V1088.9M801.9 1033.9V1088.9M805.6 1033.9V1088.9M809.3 1033.9V1088.9M813 1033.9V1088.9M816.7 1033.9V1088.9M820.4 1033.9V1088.9M824.1 1033.9V1088.9M827.8 1033.9V1088.9M831.5 1033.9V1088.9M835.2 1033.9V1088.9M838.9 1033.9V1088.9M842.6 1033.9V1088.9" stroke="#a8a8a8" stroke-width="0.9" fill="none"/>
<path d="M790.7 1028V1035.9M793.1 1026.1V1035.9M795.5 1023.7V1035.9M797.9 1022.5V1035.9M800.3 1027.6V1035.9M807.5 1023.3V1035.9M809.9 1022.4V1035.9M812.3 1020.4V1035.9M817.1 1021.2V1035.9M819.5 1021.7V1035.9M821.9 1021.8V1035.9M824.3 1020.5V1035.9M831.5 1014V1035.9M836.3 1026.5V1035.9M838.7 1022.9V1035.9M841.1 1023V1035.9" stroke="#6a6a6a" stroke-width="2.6" fill="none"/>
<path d="M785.9 1028.6V1035.9M788.3 1028.8V1035.9M802.7 1028.7V1035.9M805.1 1027.1V1035.9M814.7 1020.3V1035.9M826.7 1012.4V1035.9M829.1 1012.4V1035.9M833.9 1016.3V1035.9" stroke="#b8b8b8" stroke-width="2.6" fill="none"/>
<path d="M226.5 1025h0M232.3 1008.7h0M236 1016h0M238.8 1016.8h0M244.5 1021.9h0M248.8 1024.7h0M254.7 1024.3h0M257.8 1017.9h0M261.5 1019.3h0M264.3 1009.6h0M267 1010.7h0M270.4 1006.4h0M275.2 998.3h0M278 1017.4h0M280.7 1022.2h0M286.1 1022.3h0M290 1027.7h0M334.8 1027.1h0M339.6 1024.5h0M343.5 1025.1h0M347.9 1018.4h0M352 1019.4h0M356.8 1019.7h0M399.7 1027.3h0M402.5 1026.1h0M407.9 1023.7h0M412.8 1020.9h0M418.1 1021.4h0M421.2 1021.1h0M426.3 1020.7h0M478.4 1013.9h0M481.6 1019.4h0M485.4 1025.2h0M490.9 1023.1h0M527.3 1017.5h0M531.5 1019h0M536 1023.9h0M576.6 1027.2h0M581.3 1018.2h0M585.4 1023.1h0M588.7 1024.6h0M594.4 1016.5h0M627 1020.9h0M630.2 1012.9h0M636.2 1025.4h0M641.9 1019.6h0M675.9 1008.3h0M680.8 1022.2h0M684.4 1022.6h0M688 1017.5h0M691 1018.9h0M719 1012.9h0M724.2 1017.5h0M727.3 1015.3h0M730.8 1011.3h0M733.6 1011.7h0M765.8 1026.3h0M770.9 1022.1h0M775.5 1017.8h0M779.9 1014.8h0" stroke="#5e5e5e" stroke-width="4.4" stroke-linecap="round" fill="none"/>
<path d="M235.6 1018.8h0M244.1 1023.1h0M249.6 1028.5h0M260.5 1019.6h0M263.8 1013.7h0M274.4 1001.5h0M281.9 1022.7h0M286.2 1027.5h0M291.3 1029.1h0M334.8 1029.6h0M340.2 1029.1h0M343.3 1027.7h0M348.9 1022.7h0M351.2 1023.5h0M356 1024.4h0M402.7 1029.9h0M407.4 1027.3h0M425.5 1025.8h0M478.3 1017h0M482.3 1024.9h0M490.2 1024.7h0M527.7 1018.2h0M579.9 1020.6h0M594.9 1019.2h0M641.6 1026.3h0M676.4 1009.5h0M681.7 1026.8h0M687.8 1022.2h0M691.1 1021.8h0M724.6 1017.6h0M725.9 1016.7h0M731.7 1015.9h0M770.8 1024.9h0M779.2 1019.4h0" stroke="#666666" stroke-width="4.4" stroke-linecap="round" fill="none"/>
<path d="M230.2 1001.1h0M232.4 1005.7h0M238.8 1010.2h0M244.5 1018.4h0M251.6 1018.7h0M254.7 1022h0M257.9 1015.2h0M260.8 1018.7h0M266 1002.4h0M277 998.5h0M284.2 1018.8h0M290.9 1020.6h0M338.6 1022.7h0M340.8 1020.7h0M346.2 1013.9h0M350.7 1014.4h0M353.2 1014h0M402.6 1015.2h0M409.2 1022.9h0M412.8 1013.9h0M419.7 1017.5h0M424.3 1018.2h0M427.1 1014.5h0M482.3 1018.9h0M485.4 1022.5h0M488.9 1022h0M531.5 1015.5h0M537.1 1015.2h0M582 1015.7h0M584.7 1015.2h0M587.5 1018h0M589.8 1020h0M630.1 1011.2h0M636.9 1018.9h0M641.2 1016.2h0M678.1 1009.3h0M685.5 1018.3h0M689.9 1010.5h0M722.4 1013.5h0M726.8 1010.2h0M734 1001.8h0M766.5 1016.3h0M769.4 1015.3h0M772.8 1018.9h0M775.3 1016h0M250.2 988h0M276.5 982h0M276.5 982h0M230.6 994.1h0M234.9 995.5h0M269.2 994.6h0M231.5 1004.5h0M250.5 1004.5h0M256.6 1003.3h0M252.2 1007.1h0M256.6 1008.8h0M251.4 1014h0M285.1 1003.6h0M281.7 1009.7h0M285.5 1009.7h0M264.4 1005.3h0M295.5 1017.8h0M297.6 1007.6h0M348.6 975.9h0M363.3 940.4h0M363.3 944.8h0M363.3 981.1h0M363.3 989.4h0M352.1 994.4h0M359.5 994.4h0M363 997.5h0M334.4 1001.5h0M349.7 1000.1h0M339.6 1005h0M339.6 1007.9h0M334.4 1012.2h0M357.8 1003.1h0M363 1004.5h0M363.3 1012.2h0M415.7 936.3h0M412.3 962.4h0M403.6 970.2h0M406.2 973h0M424.4 994.6h0M406.4 1003.6h0M417 1001.9h0M415.7 1003.6h0M402.8 1010.2h0M421.8 1009.7h0M428.2 1011.9h0M417.5 1012.2h0M414 1014h0M433 1014.8h0M496.7 919.3h0M477.2 994.6h0M496.7 997.5h0M480.3 1000.1h0M480.6 1003.6h0M492.7 1002.7h0M488.4 1007.1h0M495.3 1003.6h0M488.4 1013.1h0M495.3 1012.2h0M480 1000.1h0M492.1 1002.7h0M495.6 1003.6h0M488.7 1007.1h0M488.7 1013.1h0M495.6 1012.2h0M529.3 975.4h0M535.7 990.6h0M532.8 994.4h0M539.3 994.1h0M529.8 1004.5h0M537.6 1004.1h0M529.8 1007.9h0M538.8 1015.7h0M542.3 1018.3h0M579.1 997h0M581.2 1002.7h0M579.1 1003.9h0M579.5 1011.7h0M582.1 1016.6h0M591.6 1004.5h0M595.1 1004.5h0M598.5 992.4h0M602 994.4h0M599.4 1003.6h0M632.2 978.7h0M634.3 979.7h0M646.4 978h0M643.1 994.4h0M645.6 1001.9h0M637.4 1005h0M633.1 1008.8h0M639.2 1009.7h0M643.5 1013.5h0M628.8 1016.6h0M690.6 994.1h0M687.6 1000.7h0M676 1001.9h0M676 1007.1h0M676 1010.5h0M689.3 1014h0M723.4 992.5h0M734.7 1000.5h0M730 1005.8h0M733.5 1007.1h0M740 1007.6h0M718.8 1011.4h0M726.5 1012.2h0M780.5 990.6h0M767.5 1002.4h0M771.2 1008.8h0M770.7 1016.6h0M781 1012.2h0M838.1 983.2h0M836.7 988.5h0M805.6 991.5h0M822.9 992.7h0M792.6 994.6h0M833.8 994.6h0M839.9 998.9h0M821.2 1007.1h0M829 1005.8h0M805.6 1012.2h0M796.6 1020h0M813.9 1017.4h0M820 1017.8h0M841.6 1019.5h0" stroke="#4d4d4d" stroke-width="4.4" stroke-linecap="round" fill="none"/>
<path d="M298.8 1015.4h0M297.5 1019.6h0M301.9 1014.6h0M300.9 1018.4h0M306.8 1018.9h0M306.8 1020.6h0M310.5 1016.7h0M315.8 1020.4h0M315.3 1025.5h0M320.6 1022.4h0M326.5 1027h0M326 1028.7h0M309.5 1014.2h0M316.4 1018.9h0M319.4 1020.4h0M326.8 1017.6h0M364.7 1022.9h0M365.1 1025.9h0M367.6 1021.4h0M371.6 1014.1h0M372.8 1019.9h0M375.8 1008.9h0M376.7 1011.2h0M378.9 1015.3h0M377.9 1019.2h0M384 1022.5h0M383.5 1022h0M387.2 1015.8h0M387.9 1021.8h0M392.5 1018.7h0M368.7 1017.8h0M374.9 1002.9h0M378.2 1005.9h0M385.5 1009.9h0M388 1003.4h0M393.9 1004.2h0M436.1 1018.9h0M435 1020.8h0M439.1 1014.9h0M439.1 1016.6h0M442.9 1014.2h0M442.3 1017.9h0M447.6 1014.9h0M449 1020.5h0M451.9 1014.2h0M456.7 1023.8h0M455.8 1028.6h0M461.4 994.4h0M465.7 1010h0M464.9 1011h0M469.6 1015.1h0M439.1 1006.8h0M451.1 1005.3h0M453.9 1015.3h0M458.9 1002.1h0M461.4 993.2h0M464.4 1001.2h0M467.5 1008.9h0M471.6 1015.2h0M498.3 1017.4h0M497.6 1021.4h0M502.9 1014.7h0M505.8 1015.9h0M510.7 1022.9h0M513.5 1019.1h0M514.2 1024.6h0M517.3 1018.5h0M516.1 1021.2h0M521.5 1009.5h0M499.6 1008h0M503.6 1009h0M505.7 1004.1h0M513.1 1006.9h0M516.3 1004.2h0M544.3 1028.4h0M549.6 1017.9h0M554 1016.7h0M554.7 1019.6h0M557 1005.4h0M557.1 1010h0M562.8 1014h0M563.9 1017.7h0M566 1016.1h0M569.5 1020.3h0M548.7 1007.9h0M554 1009.2h0M561.4 1008h0M564.1 1010.5h0M568.9 1015.6h0M604.1 1011.4h0M606.9 1017h0M607.9 1019.3h0M610 1019.7h0M614.5 1027h0M614.6 1028.5h0M620.3 1018.1h0M620.9 1018.2h0M604.2 1007.2h0M611.2 1011.4h0M617.2 1010.1h0M648.2 1024.8h0M648.1 1027.1h0M653.2 1009.1h0M652 1013.9h0M657.3 1022.7h0M655.9 1029.3h0M662.6 1020.8h0M661.5 1024.1h0M668.1 1017.1h0M649.4 1016.4h0M651.6 1006.9h0M658.1 1015.6h0M664.9 1011.6h0M696.7 1020.3h0M698.2 1022.9h0M701.4 1014.6h0M702.9 1018.8h0M705 1020.3h0M708.8 1021h0M698.6 1004.6h0M701.1 1010.1h0M706.1 1018.2h0M712.1 1007h0M740.8 1017.8h0M740.4 1018.7h0M745.5 1013.2h0M749.3 1009.6h0M749.9 1012.4h0M754.1 1005.5h0M754.4 1009.2h0M757.6 1003.4h0M757.9 1006.2h0M742.1 1008.5h0M746 998.9h0M752.4 1000.6h0M303.6 998.4h0M312.8 1000.1h0M312.8 1003.6h0M318 1000.5h0M328.4 1001.9h0M306.7 1007.1h0M313.7 1007.9h0M325.8 1003.6h0M329.2 1007.1h0M318 1015.7h0M323.2 1020.9h0M391.7 948.2h0M389.4 983.2h0M394.5 986.3h0M370.4 994.6h0M389.4 992.4h0M391.5 997.5h0M369 1003.3h0M377.7 1003.6h0M390.7 1007.1h0M394.1 1007.1h0M461.6 961.7h0M461.6 972.1h0M461.6 978.5h0M461.6 981.1h0M454.3 995.5h0M449.8 998.9h0M438.8 1001h0M460.7 991.5h0M440.8 1007.1h0M451.7 1007.1h0M447.8 1012.2h0M465.9 1007.1h0M505.6 994.1h0M506.8 994.1h0M517.7 997.9h0M509.4 1003.6h0M501.1 1007.1h0M561.3 975.4h0M564.8 975.1h0M557.3 989.4h0M546.6 994.6h0M556.1 998.4h0M559.6 1003.6h0M549.2 1011.9h0M565.6 1014.8h0M574.8 1012.2h0M607.5 977.6h0M618.1 980.8h0M605.8 987.2h0M608 994.1h0M622.7 995.3h0M608 998.4h0M607.2 1007.1h0M622.7 1003.6h0M623.6 1007.9h0M618.4 1014.8h0M663.4 979h0M654.7 982h0M654.7 984.6h0M654.7 988h0M668.2 987.3h0M652.1 994.4h0M668.6 994.6h0M654.7 1005.3h0M664.3 1007.9h0M666.9 1012.2h0M653 1010.5h0M699.2 1003.6h0M703.2 1009.1h0M706.6 1015.2h0M713.6 1009.7h0M751.6 971.1h0M760.8 971.6h0M744.7 984.6h0M752 980.2h0M752 984.6h0M752 988.9h0M761.1 981.1h0M743.5 994.6h0M764.6 994.6h0M748.2 997.9h0M752.5 998.4h0M761.1 998.4h0M742.5 1002.4h0M752.5 1003.6h0M756.8 1003.6h0M761.1 1003.6h0M747.3 1007.9h0M806.5 936.1h0M842.5 982.8h0M840.7 994.1h0M798 1010.5h0M787.1 1016.6h0M808.7 1014.8h0" stroke="#bebebe" stroke-width="4.4" stroke-linecap="round" fill="none"/>
<path d="M786.5 1031.4h0M786.6 1043.2h0M788.9 1027.6h0M789.3 1032.6h0M788.9 1037.5h0M794 1028h0M796.5 1024h0M799.7 1023.2h0M798.4 1027.8h0M798.4 1036.5h0M801.4 1031.9h0M801.8 1035.2h0M800.7 1038.9h0M807.4 1032.2h0M811.5 1020h0M811.3 1024.4h0M811.5 1029.7h0M817.9 1022.4h0M818.5 1035.6h0M821 1024.9h0M822.9 1018.6h0M823.4 1024h0M826.7 1012.7h0M826.1 1023.6h0M828.6 1020.9h0M832.7 1014.2h0M832.6 1018.5h0M832.6 1023.3h0M836.3 1029.4h0M839.3 1023.8h0M841.6 1020.6h0M840.4 1024.4h0" stroke="#5a5a5a" stroke-width="3.8" stroke-linecap="round" fill="none"/>
<path d="M786 1034.7h0M793.3 1036.4h0M798.3 1032h0M800.2 1027.3h0M803 1027.7h0M802.8 1036h0M806.9 1025.5h0M809 1029.1h0M821.4 1020.5h0M828.2 1011h0M828.4 1014.5h0M830.3 1017.7h0M831.4 1010.4h0M834.7 1020.7h0M838.7 1036.5h0M842.1 1031.9h0" stroke="#c4c4c4" stroke-width="3.8" stroke-linecap="round" fill="none"/>
<path d="M786.8 1059.4h0M798.9 1045.2h0M797.3 1049.4h0M803.3 1056h0M803.1 1060.9h0M805.5 1045h0M804.8 1048.8h0M810.5 1049.1h0M814.6 1063.3h0M815.3 1067.1h0M822.2 1057.5h0M826.5 1050.2h0M832.3 1033h0M838.1 1045.7h0M838.9 1066.4h0M842.2 1039.9h0M840.9 1059.7h0" stroke="#c4c4c4" stroke-width="3" stroke-linecap="round" fill="none"/>
<path d="M790.7 1042.5h0M793.1 1045h0M792.1 1054.2h0M793.4 1070.3h0M795.1 1045.4h0M797.1 1057.2h0M801.5 1061.2h0M800.6 1064.8h0M804.3 1052.9h0M805.1 1040.5h0M805.5 1059.3h0M807.7 1037h0M808.6 1046h0M808.3 1049.9h0M809.4 1057.7h0M810.4 1034.4h0M811.4 1056.3h0M814.7 1045.9h0M814.1 1059h0M817.5 1040.2h0M817.5 1048.7h0M820.5 1041.5h0M819.6 1046.5h0M823.7 1036.4h0M823.2 1041.7h0M821.8 1049.4h0M826.6 1027.3h0M829.1 1045.6h0M831.8 1042.2h0M833.2 1050.4h0M834.1 1044.3h0M834.4 1048h0M835.6 1053.3h0M837.6 1055.7h0M839.6 1060.9h0M840.9 1035.2h0" stroke="#5a5a5a" stroke-width="3" stroke-linecap="round" fill="none"/>
<path d="M842.2 1025.4h0M842 1034.4h0M841.9 1039.2h0M842.4 1044.6h0M842 1050.1h0M841.9 1055.7h0M842 1060.9h0M842.3 1068.2h0M842.4 1072.6h0M842.3 1078.3h0M842.4 1081.9h0" stroke="#6a6a6a" stroke-width="4.2" stroke-linecap="round" fill="none"/>
<path d="M842.7 1028.8h0M842.7 1064.5h0" stroke="#cfcfcf" stroke-width="4.2" stroke-linecap="round" fill="none"/>
<path d="M277 984.5h0M276.2 986.7h0M276.2 988.9h0M276.5 991.1h0M276.1 993.3h0M276.1 995.5h0M277 997.7h0" stroke="#666666" stroke-width="4.8" stroke-linecap="round" fill="none"/>
<rect x="207.6" y="911.4" width="653.9" height="177.5" fill="none" stroke="#000" stroke-width="1.7"/>
<text x="194.8" y="915.3" text-anchor="end">14</text>
<text x="194.8" y="940.5" text-anchor="end">12</text>
<text x="194.8" y="966" text-anchor="end">10</text>
<text x="194.8" y="991.4" text-anchor="end">8</text>
<text x="194.8" y="1016.8" text-anchor="end">6</text>
<text x="194.8" y="1042.1" text-anchor="end">4</text>
<text x="194.8" y="1067.5" text-anchor="end">2</text>
<text x="194.8" y="1092.8" text-anchor="end">0</text>
<text x="261.7" y="1111.4" text-anchor="middle">1</text>
<text x="316.3" y="1111.4" text-anchor="middle">2</text>
<text x="347.8" y="1111.4" text-anchor="middle">3</text>
<text x="381.6" y="1111.4" text-anchor="middle">4</text>
<text x="417.2" y="1111.4" text-anchor="middle">5</text>
<text x="455" y="1111.4" text-anchor="middle">6</text>
<text x="487.1" y="1111.4" text-anchor="middle">7</text>
<text x="512.4" y="1111.4" text-anchor="middle">8</text>
<text x="533.3" y="1111.4" text-anchor="middle">9</text>
<text x="559.2" y="1111.4" text-anchor="middle">10</text>
<text x="590" y="1111.4" text-anchor="middle">11</text>
<text x="614" y="1111.4" text-anchor="middle">12</text>
<text x="662.3" y="1111.4" text-anchor="middle">14</text>
<text x="686.7" y="1111.4" text-anchor="middle">15</text>
<text x="729.3" y="1111.4" text-anchor="middle">17</text>
<text x="752.3" y="1111.4" text-anchor="middle">18</text>
<text x="776.5" y="1111.4" text-anchor="middle">19</text>
<path d="M207.6 911.4h-7.5M207.6 936.6h-7.5M207.6 962.1h-7.5M207.6 987.5h-7.5M207.6 1012.9h-7.5M207.6 1038.2h-7.5M207.6 1063.6h-7.5M207.6 1088.9h-7.5M261.7 1088.9v7.5M316.3 1088.9v7.5M347.8 1088.9v7.5M381.6 1088.9v7.5M417.2 1088.9v7.5M455 1088.9v7.5M487.1 1088.9v7.5M512.4 1088.9v7.5M533.3 1088.9v7.5M559.2 1088.9v7.5M590 1088.9v7.5M614 1088.9v7.5M636.6 1088.9v7.5M662.3 1088.9v7.5M686.7 1088.9v7.5M707.3 1088.9v7.5M729.3 1088.9v7.5M752.3 1088.9v7.5M776.5 1088.9v7.5" stroke="#000" stroke-width="1.7" fill="none"/>
<rect x="787.5" y="1088.9" width="56" height="7.5" fill="#000"/>
<text x="800.1" y="1111.4" text-anchor="middle">33</text>
<text x="825.9" y="1111.4" text-anchor="middle">294</text>
<text x="534.5" y="1135.5" text-anchor="middle" class="al">Chromosome</text>
<text transform="translate(165.6 1000.1) rotate(-90)" text-anchor="middle" class="yl">− log<tspan dy="2.2" font-size="7.6">10</tspan><tspan dy="-2.2">(</tspan><tspan font-style="italic">p</tspan>)</text>
</g>
<g class="m">
<rect x="223.3" y="1308.8" width="71.3" height="71.4" fill="#666666"/>
<path d="M225.1 1305.8V1309.8M226.4 1302.8V1309.8M227.6 1300.6V1309.8M228.9 1299.9V1309.8M230.1 1297.9V1309.8M231.4 1297.5V1309.8M232.6 1296V1309.8M233.9 1294.6V1309.8M235.1 1293.5V1309.8M236.4 1295.2V1309.8M237.6 1295.9V1309.8M238.9 1297.6V1309.8M240.1 1298.5V1309.8M241.4 1300.7V1309.8M242.6 1301.5V1309.8M243.9 1301.8V1309.8M245.1 1301.7V1309.8M246.4 1301.4V1309.8M247.6 1301.6V1309.8M248.9 1302.6V1309.8M250.1 1303.2V1309.8M251.4 1304.2V1309.8M252.6 1303.7V1309.8M253.9 1299.8V1309.8M255.1 1296.5V1309.8M256.4 1294.7V1309.8M257.6 1292.6V1309.8M258.9 1290.7V1309.8M260.1 1290.1V1309.8M261.4 1289.3V1309.8M262.6 1289.1V1309.8M263.9 1288.7V1309.8M265.1 1287.7V1309.8M266.4 1285.6V1309.8M267.6 1283.8V1309.8M268.9 1282.5V1309.8M270.1 1283V1309.8M271.4 1284.2V1309.8M272.6 1289.2V1309.8M273.9 1294.7V1309.8M275.1 1296.6V1309.8M276.4 1291.5V1309.8M277.6 1287.2V1309.8M278.9 1286.4V1309.8M280.1 1288.6V1309.8M281.4 1291.4V1309.8M282.6 1292V1309.8M283.9 1291.7V1309.8M285.1 1292V1309.8M286.4 1287.4V1309.8M287.6 1282.9V1309.8M288.9 1281.4V1309.8M290.1 1289V1309.8M291.4 1296V1309.8M292.6 1298.7V1309.8" stroke="#666666" stroke-width="4.4" stroke-linecap="round" fill="none"/>
<rect x="294.5" y="1309.9" width="36.2" height="70.3" fill="#bebebe"/>
<path d="M296.3 1296.4V1310.9M297.5 1298.5V1310.9M298.8 1297V1310.9M300 1292.7V1310.9M301.3 1289V1310.9M302.5 1290.5V1310.9M303.8 1293.5V1310.9M305 1296V1310.9M306.3 1298.3V1310.9M307.5 1299V1310.9M308.8 1300V1310.9M310 1300.2V1310.9M311.3 1300.4V1310.9M312.5 1298.4V1310.9M313.8 1297V1310.9M315 1296.1V1310.9M316.3 1294.7V1310.9M317.5 1294.5V1310.9M318.8 1293.5V1310.9M320 1293.5V1310.9M321.3 1294.3V1310.9M322.5 1297.7V1310.9M323.8 1302.6V1310.9M325 1306.9V1310.9M326.3 1303.7V1310.9M327.5 1300.5V1310.9M328.8 1297.1V1310.9" stroke="#bebebe" stroke-width="4.4" stroke-linecap="round" fill="none"/>
<rect x="330.4" y="1304.3" width="31.1" height="75.9" fill="#666666"/>
<path d="M332.2 1282.8V1305.3M333.5 1286.6V1305.3M334.7 1285.9V1305.3M336 1285.6V1305.3M337.2 1285.5V1305.3M338.5 1288.8V1305.3M339.7 1290.2V1305.3M341 1292.8V1305.3M342.2 1294.4V1305.3M343.5 1297.3V1305.3M344.7 1299.2V1305.3M346 1300.5V1305.3M347.2 1296.4V1305.3M348.5 1292.3V1305.3M349.7 1291.2V1305.3M351 1294.4V1305.3M352.2 1297.1V1305.3M353.5 1296.9V1305.3M354.7 1296.8V1305.3M356 1295.6V1305.3M357.2 1297.5V1305.3M358.5 1299.4V1305.3M359.7 1301.3V1305.3" stroke="#666666" stroke-width="4.4" stroke-linecap="round" fill="none"/>
<rect x="361.3" y="1302.4" width="35.4" height="77.8" fill="#bebebe"/>
<path d="M363.1 1299.4V1303.4M364.4 1292.5V1303.4M365.6 1290.4V1303.4M366.9 1291.1V1303.4M368.1 1291.3V1303.4M369.4 1291.9V1303.4M370.6 1288.7V1303.4M371.9 1283.2V1303.4M373.1 1279.1V1303.4M374.4 1276V1303.4M375.6 1277V1303.4M376.9 1277.4V1303.4M378.1 1277.9V1303.4M379.4 1277.4V1303.4M380.6 1275.4V1303.4M381.9 1273.4V1303.4M383.1 1283V1303.4M384.4 1294.1V1303.4M385.6 1294.6V1303.4M386.9 1293.6V1303.4M388.1 1290.7V1303.4M389.4 1289.1V1303.4M390.6 1286.5V1303.4M391.9 1284.9V1303.4M393.1 1287.4V1303.4M394.4 1292V1303.4" stroke="#bebebe" stroke-width="4.4" stroke-linecap="round" fill="none"/>
<rect x="396.5" y="1307.7" width="36.2" height="72.5" fill="#666666"/>
<path d="M398.3 1304.7V1308.7M399.6 1302V1308.7M400.8 1299.5V1308.7M402.1 1296.8V1308.7M403.3 1295.6V1308.7M404.6 1295.8V1308.7M405.8 1295.9V1308.7M407.1 1295.1V1308.7M408.3 1295.6V1308.7M409.6 1294.5V1308.7M410.8 1293.4V1308.7M412.1 1292.1V1308.7M413.3 1289.1V1308.7M414.6 1288.3V1308.7M415.8 1287.7V1308.7M417.1 1289.1V1308.7M418.3 1292.4V1308.7M419.6 1295V1308.7M420.8 1297.6V1308.7M422.1 1298.7V1308.7M423.3 1297.8V1308.7M424.6 1296.5V1308.7M425.8 1295.2V1308.7M427.1 1294.4V1308.7M428.3 1295.2V1308.7M429.6 1296.8V1308.7M430.8 1299.1V1308.7" stroke="#666666" stroke-width="4.4" stroke-linecap="round" fill="none"/>
<rect x="432.5" y="1304" width="41.8" height="76.2" fill="#bebebe"/>
<path d="M434.3 1301V1305M435.5 1297.6V1305M436.8 1296.7V1305M438 1295.9V1305M439.3 1294.8V1305M440.5 1293.8V1305M441.8 1295.1V1305M443 1296.6V1305M444.3 1298V1305M445.5 1300.5V1305M446.8 1300.3V1305M448 1299.4V1305M449.3 1298.4V1305M450.5 1297V1305M451.8 1296.1V1305M453 1295.5V1305M454.3 1295.8V1305M455.5 1295.8V1305M456.8 1296.1V1305M458 1294.4V1305M459.3 1292.7V1305M460.5 1290.6V1305M461.8 1288.3V1305M463 1289.3V1305M464.3 1292.7V1305M465.5 1295.9V1305M466.8 1298.6V1305M468 1296.3V1305M469.3 1294.6V1305M470.5 1293V1305M471.8 1291V1305M473 1290.4V1305" stroke="#bebebe" stroke-width="4.4" stroke-linecap="round" fill="none"/>
<rect x="474.1" y="1307.4" width="20.4" height="72.8" fill="#666666"/>
<path d="M475.9 1295.7V1308.4M477.1 1295.2V1308.4M478.4 1295.4V1308.4M479.6 1295.5V1308.4M480.9 1296V1308.4M482.1 1299.6V1308.4M483.4 1302.9V1308.4M484.6 1304.4V1308.4M485.9 1302.4V1308.4M487.1 1298.3V1308.4M488.4 1296.4V1308.4M489.6 1293.6V1308.4M490.9 1286.2V1308.4M492.1 1283.9V1308.4" stroke="#666666" stroke-width="4.4" stroke-linecap="round" fill="none"/>
<rect x="494.3" y="1302.4" width="29.7" height="77.8" fill="#bebebe"/>
<path d="M496.1 1288.4V1303.4M497.3 1291.4V1303.4M498.6 1288.9V1303.4M499.8 1286.9V1303.4M501.1 1284.5V1303.4M502.3 1282.9V1303.4M503.6 1284.2V1303.4M504.8 1285.6V1303.4M506.1 1287.7V1303.4M507.3 1290V1303.4M508.6 1293.1V1303.4M509.8 1296V1303.4M511.1 1299.4V1303.4M512.3 1298.9V1303.4M513.6 1298.7V1303.4M514.8 1297.7V1303.4M516.1 1297.8V1303.4M517.3 1296.2V1303.4M518.6 1294.6V1303.4M519.8 1293.5V1303.4M521.1 1292.3V1303.4M522.3 1297.3V1303.4" stroke="#bebebe" stroke-width="4.4" stroke-linecap="round" fill="none"/>
<rect x="523.8" y="1301.8" width="17" height="78.4" fill="#666666"/>
<path d="M525.6 1292.1V1302.8M526.8 1290.8V1302.8M528.1 1289.8V1302.8M529.3 1290.2V1302.8M530.6 1290.7V1302.8M531.8 1290.3V1302.8M533.1 1292.3V1302.8M534.3 1295.2V1302.8M535.6 1296.9V1302.8M536.8 1297.5V1302.8M538.1 1298V1302.8M539.3 1298.8V1302.8" stroke="#666666" stroke-width="4.4" stroke-linecap="round" fill="none"/>
<rect x="540.6" y="1312.8" width="32.8" height="67.4" fill="#bebebe"/>
<path d="M542.4 1309.8V1313.8M543.7 1304.2V1313.8M544.9 1300.6V1313.8M546.2 1296.9V1313.8M547.4 1293.4V1313.8M548.7 1296.7V1313.8M549.9 1299.5V1313.8M551.2 1302.4V1313.8M552.4 1305.4V1313.8M553.7 1303.3V1313.8M554.9 1301.1V1313.8M556.2 1298V1313.8M557.4 1299.8V1313.8M558.7 1300.7V1313.8M559.9 1300.7V1313.8M561.2 1302V1313.8M562.4 1300.7V1313.8M563.7 1299.6V1313.8M564.9 1298.8V1313.8M566.2 1298.2V1313.8M567.4 1298.1V1313.8M568.7 1298V1313.8M569.9 1297.2V1313.8M571.2 1296.6V1313.8" stroke="#bebebe" stroke-width="4.4" stroke-linecap="round" fill="none"/>
<rect x="573.2" y="1314.5" width="25.9" height="65.7" fill="#666666"/>
<path d="M575 1303.8V1315.5M576.3 1305.2V1315.5M577.5 1298V1315.5M578.8 1292.5V1315.5M580 1286.2V1315.5M581.3 1286.8V1315.5M582.5 1290.6V1315.5M583.8 1294.6V1315.5M585 1299.2V1315.5M586.3 1302.9V1315.5M587.5 1306.9V1315.5M588.8 1309.4V1315.5M590 1311.5V1315.5M591.3 1310.6V1315.5M592.5 1305.3V1315.5M593.8 1300V1315.5M595 1297.5V1315.5M596.3 1296.1V1315.5M597.5 1295.5V1315.5" stroke="#666666" stroke-width="4.4" stroke-linecap="round" fill="none"/>
<rect x="598.9" y="1298.7" width="23.4" height="81.5" fill="#bebebe"/>
<path d="M600.7 1295.5V1299.7M601.9 1295.3V1299.7M603.2 1294.9V1299.7M604.4 1295.5V1299.7M605.7 1295.7V1299.7M606.9 1295.4V1299.7M608.2 1293.6V1299.7M609.4 1292.3V1299.7M610.7 1291.5V1299.7M611.9 1290.4V1299.7M613.2 1286.6V1299.7M614.4 1282.6V1299.7M615.7 1279.6V1299.7M616.9 1278.2V1299.7M618.2 1275.9V1299.7M619.4 1280.9V1299.7M620.7 1286.5V1299.7" stroke="#bebebe" stroke-width="4.4" stroke-linecap="round" fill="none"/>
<rect x="622.1" y="1305.9" width="23" height="74.3" fill="#666666"/>
<path d="M623.9 1291.5V1306.9M625.1 1292.6V1306.9M626.4 1293.6V1306.9M627.6 1292.4V1306.9M628.9 1291.1V1306.9M630.1 1290.8V1306.9M631.4 1290.8V1306.9M632.6 1292.3V1306.9M633.9 1297.8V1306.9M635.1 1302.9V1306.9M636.4 1302.6V1306.9M637.6 1298.5V1306.9M638.9 1294.4V1306.9M640.1 1290V1306.9M641.4 1288.8V1306.9M642.6 1291.3V1306.9" stroke="#666666" stroke-width="4.4" stroke-linecap="round" fill="none"/>
<rect x="644.8" y="1299.7" width="27.6" height="80.5" fill="#bebebe"/>
<path d="M646.6 1294.7V1300.7M647.9 1296.2V1300.7M649.1 1296.7V1300.7M650.4 1296.5V1300.7M651.6 1294.4V1300.7M652.9 1286.8V1300.7M654.1 1279.6V1300.7M655.4 1272.8V1300.7M656.6 1276.4V1300.7M657.9 1282.9V1300.7M659.1 1289.4V1300.7M660.4 1293.4V1300.7M661.6 1291.7V1300.7M662.9 1290.4V1300.7M664.1 1290V1300.7M665.4 1289.8V1300.7M666.6 1292.2V1300.7M667.9 1292.3V1300.7M669.1 1293V1300.7M670.4 1293.6V1300.7" stroke="#bebebe" stroke-width="4.4" stroke-linecap="round" fill="none"/>
<rect x="672.3" y="1304" width="20.8" height="76.2" fill="#666666"/>
<path d="M674.1 1300V1305M675.3 1299.3V1305M676.6 1298V1305M677.8 1297.8V1305M679.1 1297.5V1305M680.3 1298.1V1305M681.6 1299.4V1305M682.8 1299.9V1305M684.1 1301V1305M685.3 1299.6V1305M686.6 1298.3V1305M687.8 1294.6V1305M689.1 1288.9V1305M690.3 1282.1V1305M691.6 1283V1305" stroke="#666666" stroke-width="4.4" stroke-linecap="round" fill="none"/>
<rect x="692.9" y="1300.2" width="21.4" height="80" fill="#bebebe"/>
<path d="M694.7 1296.8V1301.2M695.9 1297.1V1301.2M697.2 1295.6V1301.2M698.4 1294.6V1301.2M699.7 1293.6V1301.2M700.9 1295V1301.2M702.2 1295.7V1301.2M703.4 1297.2V1301.2M704.7 1291.6V1301.2M705.9 1280.3V1301.2M707.2 1278.6V1301.2M708.4 1287.2V1301.2M709.7 1295.2V1301.2M710.9 1293.9V1301.2M712.2 1288.1V1301.2" stroke="#bebebe" stroke-width="4.4" stroke-linecap="round" fill="none"/>
<rect x="714.1" y="1304.5" width="23" height="75.7" fill="#666666"/>
<path d="M715.9 1295.7V1305.5M717.1 1296.3V1305.5M718.4 1296.9V1305.5M719.6 1296.6V1305.5M720.9 1296.9V1305.5M722.1 1297V1305.5M723.4 1297V1305.5M724.6 1297.9V1305.5M725.9 1299.3V1305.5M727.1 1300.9V1305.5M728.4 1301.5V1305.5M729.6 1300.8V1305.5M730.9 1296.7V1305.5M732.1 1293V1305.5M733.4 1288.6V1305.5M734.6 1292.5V1305.5" stroke="#666666" stroke-width="4.4" stroke-linecap="round" fill="none"/>
<rect x="736.9" y="1300.7" width="24.2" height="79.5" fill="#bebebe"/>
<path d="M738.7 1296.1V1301.7M739.9 1293.9V1301.7M741.2 1294.3V1301.7M742.4 1294.7V1301.7M743.7 1295.1V1301.7M744.9 1294.8V1301.7M746.2 1295V1301.7M747.4 1295.1V1301.7M748.7 1295.7V1301.7M749.9 1295.7V1301.7M751.2 1295.2V1301.7M752.4 1295.2V1301.7M753.7 1295.2V1301.7M754.9 1295.4V1301.7M756.2 1295.7V1301.7M757.4 1297V1301.7M758.7 1297.7V1301.7" stroke="#bebebe" stroke-width="4.4" stroke-linecap="round" fill="none"/>
<rect x="760.8" y="1314.7" width="22.5" height="65.5" fill="#666666"/>
<path d="M762.6 1303.7V1315.7M763.9 1311.7V1315.7M765.1 1309.8V1315.7M766.4 1307.9V1315.7M767.6 1305.1V1315.7M768.9 1303V1315.7M770.1 1304.4V1315.7M771.4 1306V1315.7M772.6 1307.5V1315.7M773.9 1309.2V1315.7M775.1 1308.5V1315.7M776.4 1307.4V1315.7M777.6 1305.5V1315.7M778.9 1304V1315.7M780.1 1302.5V1315.7M781.4 1301.8V1315.7" stroke="#666666" stroke-width="4.4" stroke-linecap="round" fill="none"/>
<rect x="783.3" y="1311" width="59" height="69.2" fill="#8e8e8e"/>
<path d="M783.9 1311V1380.2M787.6 1311V1380.2M791.3 1311V1380.2M795 1311V1380.2M798.7 1311V1380.2M802.4 1311V1380.2M806.1 1311V1380.2M809.8 1311V1380.2M813.5 1311V1380.2M817.2 1311V1380.2M820.9 1311V1380.2M824.6 1311V1380.2M828.3 1311V1380.2M832 1311V1380.2M835.7 1311V1380.2M839.4 1311V1380.2" stroke="#727272" stroke-width="1.1" fill="none"/>
<path d="M785.8 1311V1380.2M789.5 1311V1380.2M793.2 1311V1380.2M796.9 1311V1380.2M800.6 1311V1380.2M804.3 1311V1380.2M808 1311V1380.2M811.7 1311V1380.2M815.4 1311V1380.2M819.1 1311V1380.2M822.8 1311V1380.2M826.5 1311V1380.2M830.2 1311V1380.2M833.9 1311V1380.2M837.6 1311V1380.2M841.3 1311V1380.2" stroke="#a8a8a8" stroke-width="0.9" fill="none"/>
<path d="M784.6 1306.4V1313M794.2 1296.1V1313M796.6 1294.2V1313M801.4 1300.7V1313M806.2 1298.7V1313M808.6 1296.9V1313M811 1300.4V1313M818.2 1297.3V1313M823 1296.3V1313M825.4 1297.6V1313M827.8 1297.7V1313M830.2 1297V1313M832.6 1299.4V1313M835 1296.8V1313M837.4 1290.7V1313M839.8 1297.2V1313" stroke="#6a6a6a" stroke-width="2.6" fill="none"/>
<path d="M799 1296.4V1313M815.8 1300.4V1313M820.6 1295.9V1313" stroke="#b8b8b8" stroke-width="2.6" fill="none"/>
<path d="M787 1308.5V1313M789.4 1301.9V1313M791.8 1301.6V1313M803.8 1299.6V1313M813.4 1299.4V1313" stroke="#8e8e8e" stroke-width="2.6" fill="none"/>
<path d="M226.4 1302.4h0M230.5 1295.7h0M233.2 1294.5h0M236.7 1293.8h0M241.6 1300.7h0M247.6 1300.1h0M253.2 1300.9h0M259.1 1286.8h0M262 1287.8h0M267.1 1283.9h0M270.5 1280.4h0M276.2 1291.5h0M281.8 1288.3h0M287.4 1283.9h0M290.1 1288.3h0M333.3 1285.6h0M337.3 1283.5h0M342.5 1294.9h0M346.6 1298.9h0M351.9 1295.3h0M356.1 1295h0M399.9 1297.6h0M404.9 1292.8h0M408.1 1295.3h0M411.8 1292.2h0M414.9 1288.2h0M419.2 1291.7h0M425.1 1294.3h0M478.3 1295.1h0M481 1296.4h0M485.4 1302.5h0M488.7 1294.2h0M492.1 1281.8h0M526.3 1288h0M529.1 1287.6h0M532.7 1291h0M536.8 1295h0M575.9 1305h0M580.5 1285.6h0M585.2 1298.9h0M589.2 1307h0M593.4 1301.5h0M626.4 1292.6h0M632 1290h0M636.7 1299.3h0M642.4 1288h0M675.6 1299.2h0M680 1296.6h0M684.4 1301.6h0M688.2 1292.1h0M717.4 1295.3h0M721.8 1296.2h0M725.3 1296h0M730.7 1294.5h0M764.6 1311.2h0M768.8 1301.1h0M771.5 1304.7h0M777.2 1304.1h0" stroke="#5e5e5e" stroke-width="4.4" stroke-linecap="round" fill="none"/>
<path d="M237.3 1297.4h0M240.2 1304.3h0M260 1293.6h0M266.7 1286.4h0M281.3 1294.6h0M290.6 1289.6h0M338.5 1288.6h0M342.2 1298.5h0M352.4 1299.3h0M403.8 1299.4h0M413.2 1293.3h0M479.8 1299.5h0M490.8 1284.7h0M536.2 1297.2h0M577 1306.8h0M581.3 1287.6h0M589.2 1312.3h0M594.6 1302.7h0M636.1 1304.1h0M680.5 1299.3h0M685.9 1304.6h0M686.9 1293.5h0M720.7 1298.4h0M724.1 1301.2h0M765.8 1314h0M772.8 1307.9h0M776.2 1308.4h0" stroke="#666666" stroke-width="4.4" stroke-linecap="round" fill="none"/>
<path d="M227.9 1292h0M231.2 1291h0M236.3 1287h0M243.7 1296.1h0M245.9 1286.5h0M251.3 1293h0M255.7 1287.4h0M259.1 1280.3h0M264.6 1281.3h0M269.9 1275.2h0M272.5 1282.7h0M276.4 1279.5h0M281.2 1286.3h0M284.9 1288.9h0M287.6 1276.8h0M333.7 1283.4h0M335.9 1272.6h0M338.9 1282h0M344.7 1293.9h0M347.7 1290h0M351.8 1292h0M355.8 1290.2h0M404.7 1280.9h0M410.3 1284h0M416.3 1282.6h0M421.6 1292.6h0M424.5 1288.8h0M427 1287.3h0M479.2 1288.3h0M482.8 1287.5h0M486 1293.2h0M489 1288.5h0M531 1286h0M576.8 1294.7h0M589.7 1305.3h0M593 1298.3h0M630.1 1285.2h0M633.9 1284.6h0M639.6 1277.9h0M677.9 1290.3h0M680.2 1290.3h0M684.3 1287.4h0M688.6 1281h0M717.8 1292.5h0M724.9 1290.6h0M729.1 1295.1h0M766.1 1301.2h0M768.4 1291.5h0M774.4 1302.4h0M779 1299.7h0M228.2 1249.4h0M269.9 1256h0M270.9 1263.8h0M254.2 1271.2h0M265.7 1270.2h0M295.5 1272.5h0M228.9 1277.1h0M228.9 1281.1h0M227.2 1287.2h0M241 1283.7h0M244.5 1288h0M254.8 1280.2h0M258.3 1279.7h0M255.7 1288h0M251.4 1292.4h0M276.5 1274.2h0M280.8 1275.1h0M276.8 1279.4h0M276.8 1282.8h0M281.7 1282.8h0M277.3 1287.2h0M288.6 1275.9h0M288.6 1279.4h0M295.5 1279.4h0M295.5 1283.7h0M295.5 1287.2h0M270.4 1279.4h0M357.8 1269h0M361.2 1268.7h0M357.8 1279.4h0M361.2 1281.1h0M337.9 1282h0M347.8 1285.4h0M350 1289.8h0M342.2 1289.8h0M360.4 1283.7h0M400.7 1263.1h0M417 1260.9h0M421.5 1260.9h0M419.7 1265.9h0M430.4 1265.5h0M432.7 1265.5h0M424.7 1271.2h0M401 1274.2h0M407.1 1274.2h0M427 1279.4h0M401.4 1279.7h0M406.2 1282h0M414.4 1282.8h0M433.9 1285.4h0M406.6 1288h0M491 1252h0M480.6 1263.8h0M480.6 1270.7h0M491 1266.4h0M491 1269.9h0M491 1272.5h0M485.8 1278.5h0M491 1281.1h0M495.3 1283.2h0M490.9 1252h0M480.9 1263.8h0M480.9 1270.7h0M490.9 1266.4h0M490.9 1269.9h0M490.9 1272.5h0M486.1 1278.5h0M491.2 1281.1h0M495.2 1283.2h0M533.3 1251.2h0M539.3 1261.6h0M526.7 1286.3h0M531 1286h0M597.3 1264.2h0M580.9 1278.9h0M576.9 1282.8h0M584.7 1282.8h0M582.1 1287.2h0M594.2 1275.9h0M595.1 1279.4h0M595.1 1282.8h0M593.3 1285.4h0M594.2 1288.9h0M599.4 1292.4h0M597.6 1296.7h0M635.7 1253.4h0M634.8 1253.4h0M635.7 1266.7h0M643.5 1278.2h0M645.2 1279.4h0M641.8 1283.7h0M632.2 1288h0M625.3 1288h0M645.2 1288.9h0M678.6 1254.6h0M691.9 1260h0M690.2 1262.6h0M678.6 1266.4h0M678.6 1274.2h0M690.7 1272.8h0M695.4 1278.5h0M679 1283.7h0M682.4 1283.7h0M679 1288h0M694.5 1283.7h0M694.5 1288.9h0M724.3 1261h0M738.7 1267.8h0M738.7 1271.6h0M723.1 1275.1h0M738.7 1275.1h0M738.7 1279.4h0M718.2 1281.1h0M722.2 1284.6h0M732.9 1283.2h0M738.7 1288h0M775.5 1260.3h0M784.2 1263.8h0M784.2 1272.5h0M784.5 1277.6h0M778.4 1286.3h0M784.5 1284.6h0M777.6 1289.8h0M769.8 1288.9h0M765.5 1292.4h0M766.3 1294.9h0M837.8 1221.8h0M837.8 1241h0M837.8 1256.9h0M837.8 1259h0M837.8 1264.3h0M837.8 1266.4h0M794.4 1240.3h0M797.1 1269.3h0M817.9 1277.3h0M840.7 1282.8h0M831.2 1284.9h0M812.2 1284.2h0M809.6 1288.9h0M835.5 1288h0M795.7 1292.4h0M821.7 1292.4h0M839 1292.4h0" stroke="#4d4d4d" stroke-width="4.4" stroke-linecap="round" fill="none"/>
<path d="M298 1300.4h0M297.9 1302.9h0M302.1 1286.1h0M301.1 1292.3h0M307.7 1296.3h0M309.2 1298.9h0M310.9 1297.6h0M310.3 1301.7h0M315.5 1294.1h0M316.4 1294.8h0M320 1295.2h0M320.8 1296.5h0M323.3 1300.3h0M324.2 1304.6h0M302.7 1284h0M304.8 1287.5h0M316.2 1286.5h0M320.6 1288.5h0M322.7 1292.4h0M326.7 1292.1h0M364.9 1286.8h0M365 1290.7h0M370.7 1286.1h0M370.1 1289.1h0M376.3 1276.2h0M377.6 1277.8h0M381.3 1273.6h0M386.1 1294.6h0M390.9 1286.5h0M368 1282.8h0M375 1271.6h0M377.1 1270h0M383.4 1282h0M387.6 1287.5h0M435.6 1295.1h0M434.3 1297.3h0M440.5 1294.1h0M446.3 1299.5h0M449.7 1295.7h0M453.1 1294.3h0M452.2 1297.6h0M458 1294.4h0M459.3 1295.7h0M463.1 1288.8h0M462.7 1291.1h0M468 1295.8h0M437.2 1290.5h0M443 1286.9h0M448.5 1293.9h0M454.8 1289.8h0M457.3 1290h0M461.6 1281.3h0M467.3 1293.4h0M470.1 1287.9h0M498.1 1287.7h0M497 1290.9h0M503.4 1281.5h0M506.4 1288h0M505.8 1289.3h0M509.9 1293.3h0M513.6 1296.7h0M513.5 1298.1h0M518 1295.7h0M516.7 1296.4h0M521.6 1291.3h0M501.6 1271.7h0M504.1 1280.4h0M509.4 1285.9h0M512.9 1284.2h0M520.3 1285.7h0M543.2 1303.3h0M546 1296.6h0M549.2 1296.8h0M550 1298.1h0M554.3 1299.1h0M554.8 1302.3h0M557.7 1296.4h0M557.3 1302.8h0M560.7 1299.7h0M561.4 1302.8h0M566.7 1298h0M567 1301.7h0M543.9 1298.4h0M549.2 1290h0M552.5 1299.6h0M555 1295.4h0M558.1 1295.8h0M564 1291.5h0M566.8 1293.7h0M601.7 1294.2h0M601.3 1297.8h0M604.3 1295.5h0M608.5 1291.4h0M612.1 1286.5h0M611.7 1289.9h0M617.3 1278h0M602.5 1290.5h0M607.8 1289.2h0M613.2 1277.7h0M617 1274h0M648.3 1294.8h0M652.7 1286.1h0M651.5 1288.9h0M657.9 1282.2h0M658.8 1286.7h0M661.1 1292.1h0M662 1293.7h0M665.4 1287.3h0M669.2 1290.9h0M667.8 1296.3h0M650.7 1289.8h0M653.2 1271.5h0M659.9 1278.7h0M663.4 1287.1h0M666.8 1282.1h0M695.6 1296.9h0M694.9 1298.8h0M700.8 1293.5h0M701.8 1294.4h0M706.4 1275.2h0M710.3 1295.8h0M698.2 1281.7h0M705 1281.6h0M708.6 1281.6h0M739.7 1293.8h0M738.9 1296.8h0M745.4 1293.7h0M746.5 1298.5h0M748.7 1295.4h0M748.9 1299.6h0M754.3 1292.3h0M744.5 1288.6h0M747.5 1289.4h0M752.3 1291.9h0M302.8 1273h0M331.5 1275.1h0M321.5 1279.9h0M316.3 1285.4h0M320.6 1285.4h0M321.5 1293.2h0M331 1281.1h0M331 1284.6h0M330.1 1289.8h0M301.6 1283.7h0M392.4 1246h0M373 1252.9h0M373.7 1260.3h0M365.6 1275.6h0M374.2 1269.9h0M382 1269.3h0M391.5 1275.1h0M391.5 1278.5h0M376.8 1281.1h0M366.4 1287.2h0M463.3 1270.2h0M453.3 1274.2h0M444.3 1280.2h0M447.8 1283.7h0M452.9 1284.9h0M463.3 1282.8h0M473.2 1283.7h0M440.8 1288h0M471.1 1287.2h0M507.3 1232.8h0M506 1261.2h0M502.1 1262.1h0M508.5 1262.1h0M506.8 1269h0M506.8 1273.3h0M511.1 1273.3h0M502.5 1278.5h0M512 1279.4h0M516.9 1279.4h0M500.8 1285.4h0M572.2 1245.6h0M559.8 1260.7h0M572.2 1277.6h0M550.1 1282h0M548.3 1284.6h0M556.1 1284.6h0M561.3 1284.9h0M556.1 1288h0M565.6 1288.9h0M571.7 1285.4h0M545.7 1289.8h0M618.1 1243.9h0M618.1 1246.5h0M618.1 1249.1h0M618.1 1254.8h0M609.8 1253.4h0M609.8 1256h0M618.1 1262.9h0M618.1 1265.5h0M604.2 1263.3h0M609.8 1269h0M618.1 1272.5h0M603.2 1274.2h0M608 1274.2h0M613.2 1278.5h0M603.7 1282h0M608.9 1281.1h0M647.8 1244.8h0M656.1 1251.7h0M656.1 1255.2h0M656.1 1257.8h0M663.4 1253.4h0M666 1253.9h0M647.8 1260.9h0M656.1 1269h0M648.7 1272.5h0M669.4 1272.5h0M675.5 1274.2h0M666 1275.9h0M649.6 1283.7h0M661.7 1281.1h0M663.4 1284.6h0M706.3 1257.8h0M706.3 1261.2h0M706.3 1264.7h0M712.4 1269h0M714.1 1275.1h0M706.3 1270.7h0M706.3 1270.7h0M712.7 1283.7h0M753.4 1243.4h0M747.3 1275.1h0M756 1279.4h0M743 1280.2h0M747.3 1279.4h0M744.7 1283.7h0M761.1 1283.2h0M749.9 1287.2h0M756.8 1287.2h0M753.4 1288h0M793.1 1265.9h0M804.4 1275.6h0M800.9 1278.5h0M800.1 1282h0M826 1282h0M787.1 1290.6h0M791.4 1293.2h0" stroke="#bebebe" stroke-width="4.4" stroke-linecap="round" fill="none"/>
<path d="M785.2 1307.9h0M787.3 1305.4h0M788.1 1308.7h0M789.5 1309.7h0M793.5 1299.9h0M792.9 1312.9h0M797.1 1295.9h0M796.9 1299.8h0M796.3 1304.7h0M796.1 1308.6h0M799.8 1296.1h0M798.7 1301.3h0M802.7 1300.2h0M802.8 1309.2h0M806 1299.2h0M806.6 1303.8h0M811.5 1297.3h0M813.7 1297.3h0M813.5 1309.6h0M817.8 1298.7h0M817 1302.3h0M817.7 1306h0M820 1302h0M822 1305.3h0M825.3 1296h0M824.2 1304.5h0M824.3 1309.4h0M826.8 1305.7h0M826.3 1309.1h0M831.1 1297.7h0M829.5 1301.9h0M830 1310.8h0M832.6 1296.4h0M839.2 1294.4h0" stroke="#5a5a5a" stroke-width="3.8" stroke-linecap="round" fill="none"/>
<path d="M786.1 1316.7h0M784.2 1320.4h0M786.9 1312.4h0M790.8 1313.5h0M800.2 1305.5h0M800.6 1308.6h0M803.1 1304h0M810.6 1299.5h0M808.4 1304.6h0M808.6 1308h0M809.4 1312.4h0M812.2 1307.1h0M821.1 1296.9h0M826.6 1301.5h0M830.9 1306.7h0M832.6 1301.3h0M832.6 1310.2h0M835.8 1298.1h0M835.1 1301.5h0M837.1 1289.6h0M837.3 1302.5h0" stroke="#c4c4c4" stroke-width="3.8" stroke-linecap="round" fill="none"/>
<path d="M786.4 1324.3h0M784.4 1344.5h0M787 1327.6h0M789.6 1317h0M790.7 1329.9h0M792 1320.8h0M799.6 1315.6h0M798.9 1318.7h0M799.4 1322.2h0M801.9 1322.1h0M802.7 1330.6h0M806.1 1326.4h0M812.3 1321.1h0M814.5 1340.5h0M817.5 1314h0M817.5 1322.9h0M821.6 1318h0M820.6 1330.9h0M825.6 1313.4h0M827.7 1317h0M826.6 1325.9h0M827.2 1329.1h0M829.2 1314.9h0M828.9 1318.1h0M829.5 1339h0M832.5 1317.8h0M834.2 1327.7h0M838 1306.6h0M837.9 1311.2h0M838.3 1315.5h0M837.9 1324.4h0M839 1327.6h0" stroke="#5a5a5a" stroke-width="3" stroke-linecap="round" fill="none"/>
<path d="M787.9 1339.4h0M792.9 1317.3h0M799.9 1311.7h0M800 1327.6h0M799.8 1331.8h0M801.5 1314.4h0M806.7 1318.1h0M805 1338.3h0M809 1317.3h0M811.2 1325.4h0M811.2 1343.3h0M813.6 1321.8h0M821.6 1312.7h0M825.7 1318.3h0M827.1 1333.7h0M831 1327.6h0M832.7 1314h0M834.1 1322.2h0M835.3 1311.6h0" stroke="#c4c4c4" stroke-width="3" stroke-linecap="round" fill="none"/>
<path d="M841.1 1300.2h0M840.9 1305.2h0M841.2 1319.8h0M841.1 1331.3h0M841.1 1335.3h0M840.6 1339.8h0M840.7 1344.1h0M840.8 1349.1h0M841 1357.1h0M840.7 1361.4h0M841.3 1365.4h0M841 1372.5h0M840.8 1376.8h0" stroke="#6a6a6a" stroke-width="4.2" stroke-linecap="round" fill="none"/>
<path d="M840.9 1309.4h0M840.6 1314.3h0M841.2 1324.4h0M840.6 1327.7h0M840.8 1352.5h0M840.7 1369.2h0" stroke="#cfcfcf" stroke-width="4.2" stroke-linecap="round" fill="none"/>
<path d="M705.8 1273.2h0M706.2 1275.4h0M705.9 1277.6h0M706.4 1279.8h0M706.7 1282h0M706.8 1284.2h0M706 1286.4h0M705.7 1288.6h0M706.9 1290.8h0M705.7 1293h0" stroke="#bebebe" stroke-width="4.8" stroke-linecap="round" fill="none"/>
<rect x="207.6" y="1202.4" width="652.5" height="177.8" fill="none" stroke="#000" stroke-width="1.7"/>
<text x="194.8" y="1226.5" text-anchor="end">8</text>
<text x="194.8" y="1266" text-anchor="end">6</text>
<text x="194.8" y="1305.4" text-anchor="end">4</text>
<text x="194.8" y="1344.9" text-anchor="end">2</text>
<text x="194.8" y="1384.1" text-anchor="end">0</text>
<text x="261.6" y="1402.7" text-anchor="middle">1</text>
<text x="316.1" y="1402.7" text-anchor="middle">2</text>
<text x="347.5" y="1402.7" text-anchor="middle">3</text>
<text x="381.2" y="1402.7" text-anchor="middle">4</text>
<text x="416.7" y="1402.7" text-anchor="middle">5</text>
<text x="454.5" y="1402.7" text-anchor="middle">6</text>
<text x="486.5" y="1402.7" text-anchor="middle">7</text>
<text x="511.7" y="1402.7" text-anchor="middle">8</text>
<text x="532.6" y="1402.7" text-anchor="middle">9</text>
<text x="558.5" y="1402.7" text-anchor="middle">10</text>
<text x="589.2" y="1402.7" text-anchor="middle">11</text>
<text x="613.1" y="1402.7" text-anchor="middle">12</text>
<text x="661.3" y="1402.7" text-anchor="middle">14</text>
<text x="685.7" y="1402.7" text-anchor="middle">15</text>
<text x="728.2" y="1402.7" text-anchor="middle">17</text>
<text x="751.1" y="1402.7" text-anchor="middle">18</text>
<text x="775.3" y="1402.7" text-anchor="middle">19</text>
<path d="M207.6 1222.6h-7.5M207.6 1262.1h-7.5M207.6 1301.5h-7.5M207.6 1341h-7.5M207.6 1380.2h-7.5M261.6 1380.2v7.5M316.1 1380.2v7.5M347.5 1380.2v7.5M381.2 1380.2v7.5M416.7 1380.2v7.5M454.5 1380.2v7.5M486.5 1380.2v7.5M511.7 1380.2v7.5M532.6 1380.2v7.5M558.5 1380.2v7.5M589.2 1380.2v7.5M613.1 1380.2v7.5M635.6 1380.2v7.5M661.3 1380.2v7.5M685.7 1380.2v7.5M706.3 1380.2v7.5M728.2 1380.2v7.5M751.1 1380.2v7.5M775.3 1380.2v7.5" stroke="#000" stroke-width="1.7" fill="none"/>
<rect x="786.3" y="1380.2" width="55.9" height="7.5" fill="#000"/>
<text x="798.8" y="1402.7" text-anchor="middle">33</text>
<text x="824.5" y="1402.7" text-anchor="middle">294</text>
<text x="533.9" y="1427.6" text-anchor="middle" class="al">Chromosome</text>
<text transform="translate(165.6 1291.5) rotate(-90)" text-anchor="middle" class="yl">− log<tspan dy="2.2" font-size="7.6">10</tspan><tspan dy="-2.2">(</tspan><tspan font-style="italic">p</tspan>)</text>
</g>
<g class="m">
<rect x="218" y="1610.2" width="71.9" height="63.5" fill="#666666"/>
<path d="M219.8 1607.2V1611.2M221 1600.4V1611.2M222.3 1596.7V1611.2M223.5 1592.9V1611.2M224.8 1593.8V1611.2M226 1596.2V1611.2M227.3 1598.4V1611.2M228.5 1599.4V1611.2M229.8 1598.3V1611.2M231 1597.7V1611.2M232.3 1596.4V1611.2M233.5 1595.8V1611.2M234.8 1594.5V1611.2M236 1593.9V1611.2M237.3 1592.1V1611.2M238.5 1590.2V1611.2M239.8 1589.1V1611.2M241 1588.4V1611.2M242.3 1588.2V1611.2M243.5 1587.4V1611.2M244.8 1587V1611.2M246 1587.7V1611.2M247.3 1587.8V1611.2M248.5 1588.7V1611.2M249.8 1584.9V1611.2M251 1579.4V1611.2M252.3 1576.5V1611.2M253.5 1575.1V1611.2M254.8 1578V1611.2M256 1584.7V1611.2M257.3 1591.4V1611.2M258.5 1588.9V1611.2M259.8 1584.5V1611.2M261 1580.7V1611.2M262.3 1585V1611.2M263.5 1589.2V1611.2M264.8 1592.3V1611.2M266 1590.9V1611.2M267.3 1589.6V1611.2M268.5 1588.7V1611.2M269.8 1586.7V1611.2M271 1584.7V1611.2M272.3 1582.9V1611.2M273.5 1583.8V1611.2M274.8 1587V1611.2M276 1590.3V1611.2M277.3 1590.8V1611.2M278.5 1592V1611.2M279.8 1592.8V1611.2M281 1594.4V1611.2M282.3 1594.7V1611.2M283.5 1595.4V1611.2M284.8 1596.9V1611.2M286 1597.3V1611.2M287.3 1597.3V1611.2M288.5 1594.6V1611.2" stroke="#666666" stroke-width="4.4" stroke-linecap="round" fill="none"/>
<rect x="289.7" y="1596.7" width="36.4" height="77" fill="#bebebe"/>
<path d="M291.5 1589.5V1597.7M292.7 1588.8V1597.7M294 1587.4V1597.7M295.2 1585.4V1597.7M296.5 1583.4V1597.7M297.7 1582.9V1597.7M299 1582.6V1597.7M300.2 1583.1V1597.7M301.5 1583.3V1597.7M302.7 1582.9V1597.7M304 1582.9V1597.7M305.2 1584.1V1597.7M306.5 1585.2V1597.7M307.7 1586.1V1597.7M309 1587.3V1597.7M310.2 1588.8V1597.7M311.5 1589.4V1597.7M312.7 1591.1V1597.7M314 1592.1V1597.7M315.2 1593.7V1597.7M316.5 1593.6V1597.7M317.7 1592.7V1597.7M319 1592.1V1597.7M320.2 1590.9V1597.7M321.5 1590.4V1597.7M322.7 1591.4V1597.7M324 1593.2V1597.7" stroke="#bebebe" stroke-width="4.4" stroke-linecap="round" fill="none"/>
<rect x="325.9" y="1599.5" width="31.4" height="74.2" fill="#666666"/>
<path d="M327.7 1596.5V1600.5M329 1595.9V1600.5M330.2 1592.3V1600.5M331.5 1589.6V1600.5M332.7 1589.9V1600.5M334 1591.2V1600.5M335.2 1592.6V1600.5M336.5 1594.4V1600.5M337.7 1593.9V1600.5M339 1592.7V1600.5M340.2 1591.9V1600.5M341.5 1590.6V1600.5M342.7 1591V1600.5M344 1591.9V1600.5M345.2 1594.2V1600.5M346.5 1595.7V1600.5M347.7 1595.9V1600.5M349 1593.1V1600.5M350.2 1590.6V1600.5M351.5 1588.3V1600.5M352.7 1584.9V1600.5M354 1587V1600.5M355.2 1589.2V1600.5" stroke="#666666" stroke-width="4.4" stroke-linecap="round" fill="none"/>
<rect x="357.1" y="1606.8" width="35.6" height="66.9" fill="#bebebe"/>
<path d="M358.9 1598.4V1607.8M360.1 1597.1V1607.8M361.4 1596.1V1607.8M362.6 1594.7V1607.8M363.9 1593V1607.8M365.1 1591.9V1607.8M366.4 1591.2V1607.8M367.6 1590.1V1607.8M368.9 1588.2V1607.8M370.1 1586V1607.8M371.4 1585.1V1607.8M372.6 1583.6V1607.8M373.9 1582.8V1607.8M375.1 1582.2V1607.8M376.4 1590.5V1607.8M377.6 1598.6V1607.8M378.9 1603.8V1607.8M380.1 1598.3V1607.8M381.4 1593.3V1607.8M382.6 1588.2V1607.8M383.9 1584V1607.8M385.1 1585.4V1607.8M386.4 1587.5V1607.8M387.6 1590.3V1607.8M388.9 1592.3V1607.8M390.1 1595.2V1607.8M391.4 1597.4V1607.8" stroke="#bebebe" stroke-width="4.4" stroke-linecap="round" fill="none"/>
<rect x="392.5" y="1606.4" width="36.4" height="67.3" fill="#666666"/>
<path d="M394.3 1602.5V1607.4M395.6 1601.1V1607.4M396.8 1599.6V1607.4M398.1 1598.4V1607.4M399.3 1599.8V1607.4M400.6 1601V1607.4M401.8 1601.6V1607.4M403.1 1601.8V1607.4M404.3 1602.8V1607.4M405.6 1602.7V1607.4M406.8 1603.4V1607.4M408.1 1603.3V1607.4M409.3 1603.1V1607.4M410.6 1602.6V1607.4M411.8 1601.1V1607.4M413.1 1599.7V1607.4M414.3 1598.7V1607.4M415.6 1597.4V1607.4M416.8 1594.1V1607.4M418.1 1591.4V1607.4M419.3 1588.8V1607.4M420.6 1591.2V1607.4M421.8 1593.6V1607.4M423.1 1596.5V1607.4M424.3 1598.2V1607.4M425.6 1598.6V1607.4M426.8 1598.8V1607.4" stroke="#666666" stroke-width="4.4" stroke-linecap="round" fill="none"/>
<rect x="428.8" y="1602.6" width="42.1" height="71.1" fill="#bebebe"/>
<path d="M430.6 1598V1603.6M431.8 1597.1V1603.6M433.1 1595.2V1603.6M434.3 1594.3V1603.6M435.6 1593.1V1603.6M436.8 1592.3V1603.6M438.1 1591.8V1603.6M439.3 1591V1603.6M440.6 1589.6V1603.6M441.8 1587.1V1603.6M443.1 1584.3V1603.6M444.3 1582.4V1603.6M445.6 1581.8V1603.6M446.8 1584.1V1603.6M448.1 1587.4V1603.6M449.3 1590.5V1603.6M450.6 1593.1V1603.6M451.8 1595V1603.6M453.1 1596.7V1603.6M454.3 1598.2V1603.6M455.6 1599.6V1603.6M456.8 1599V1603.6M458.1 1594.8V1603.6M459.3 1592.7V1603.6M460.6 1590.1V1603.6M461.8 1587.6V1603.6M463.1 1585.1V1603.6M464.3 1583.1V1603.6M465.6 1582.7V1603.6M466.8 1585.7V1603.6M468.1 1588V1603.6M469.3 1588.4V1603.6" stroke="#bebebe" stroke-width="4.4" stroke-linecap="round" fill="none"/>
<rect x="470.7" y="1604.7" width="20.6" height="69" fill="#666666"/>
<path d="M472.5 1589.7V1605.7M473.7 1590.2V1605.7M475 1590.8V1605.7M476.2 1591.4V1605.7M477.5 1593.4V1605.7M478.7 1595.4V1605.7M480 1597.2V1605.7M481.2 1597.4V1605.7M482.5 1598.9V1605.7M483.7 1600.1V1605.7M485 1601.7V1605.7M486.2 1599V1605.7M487.5 1595.4V1605.7M488.7 1592.4V1605.7M490 1591.9V1605.7" stroke="#666666" stroke-width="4.4" stroke-linecap="round" fill="none"/>
<rect x="491.1" y="1602.3" width="30" height="71.4" fill="#bebebe"/>
<path d="M492.9 1583.9V1603.3M494.1 1579.4V1603.3M495.4 1581.5V1603.3M496.6 1583.2V1603.3M497.9 1584.3V1603.3M499.1 1582.2V1603.3M500.4 1580.1V1603.3M501.6 1578.7V1603.3M502.9 1581.8V1603.3M504.1 1584.5V1603.3M505.4 1588V1603.3M506.6 1590.3V1603.3M507.9 1591.1V1603.3M509.1 1592.4V1603.3M510.4 1592.1V1603.3M511.6 1591.9V1603.3M512.9 1591.6V1603.3M514.1 1592.7V1603.3M515.4 1593.4V1603.3M516.6 1594.4V1603.3M517.9 1596.3V1603.3M519.1 1599.3V1603.3" stroke="#bebebe" stroke-width="4.4" stroke-linecap="round" fill="none"/>
<rect x="520.8" y="1599.4" width="17.2" height="74.3" fill="#666666"/>
<path d="M522.6 1592.6V1600.4M523.9 1590.3V1600.4M525.1 1588.9V1600.4M526.4 1587.2V1600.4M527.6 1586.7V1600.4M528.9 1586.5V1600.4M530.1 1586.4V1600.4M531.4 1586.8V1600.4M532.6 1589.6V1600.4M533.9 1592.6V1600.4M535.1 1595.2V1600.4M536.4 1596.4V1600.4" stroke="#666666" stroke-width="4.4" stroke-linecap="round" fill="none"/>
<rect x="537.8" y="1605.2" width="33.1" height="68.5" fill="#bebebe"/>
<path d="M539.6 1595.7V1606.2M540.8 1594.6V1606.2M542.1 1593.7V1606.2M543.3 1592.6V1606.2M544.6 1594.3V1606.2M545.8 1598.4V1606.2M547.1 1602.2V1606.2M548.3 1601.5V1606.2M549.6 1600V1606.2M550.8 1598.1V1606.2M552.1 1596.1V1606.2M553.3 1594.3V1606.2M554.6 1594.5V1606.2M555.8 1593.4V1606.2M557.1 1593.4V1606.2M558.3 1593.2V1606.2M559.6 1592.9V1606.2M560.8 1593.7V1606.2M562.1 1593.7V1606.2M563.3 1594.5V1606.2M564.6 1594.1V1606.2M565.8 1594.5V1606.2M567.1 1594.3V1606.2M568.3 1593.5V1606.2M569.6 1593.6V1606.2" stroke="#bebebe" stroke-width="4.4" stroke-linecap="round" fill="none"/>
<rect x="570.6" y="1610.8" width="26.1" height="62.9" fill="#666666"/>
<path d="M572.4 1600.7V1611.8M573.7 1599.4V1611.8M574.9 1597.5V1611.8M576.2 1594.6V1611.8M577.4 1591.5V1611.8M578.7 1589.8V1611.8M579.9 1592.1V1611.8M581.2 1594.8V1611.8M582.4 1597.1V1611.8M583.7 1598.6V1611.8M584.9 1602.8V1611.8M586.2 1607.8V1611.8M587.4 1601.9V1611.8M588.7 1593.8V1611.8M589.9 1585.9V1611.8M591.2 1581.2V1611.8M592.4 1576.7V1611.8M593.7 1575.1V1611.8M594.9 1581.1V1611.8" stroke="#666666" stroke-width="4.4" stroke-linecap="round" fill="none"/>
<rect x="596.5" y="1598.3" width="23.6" height="75.4" fill="#bebebe"/>
<path d="M598.3 1589.6V1599.3M599.6 1592V1599.3M600.8 1593.9V1599.3M602.1 1595V1599.3M603.3 1595.2V1599.3M604.6 1594.4V1599.3M605.8 1595.2V1599.3M607.1 1595.3V1599.3M608.3 1594.8V1599.3M609.6 1593.8V1599.3M610.8 1592.7V1599.3M612.1 1592.8V1599.3M613.3 1592.2V1599.3M614.6 1590.9V1599.3M615.8 1588.6V1599.3M617.1 1586.6V1599.3M618.3 1588.7V1599.3" stroke="#bebebe" stroke-width="4.4" stroke-linecap="round" fill="none"/>
<rect x="619.9" y="1604.7" width="23.2" height="69" fill="#666666"/>
<path d="M621.7 1589.9V1605.7M622.9 1589.3V1605.7M624.2 1589V1605.7M625.4 1589.1V1605.7M626.7 1590.6V1605.7M627.9 1591.9V1605.7M629.2 1593.7V1605.7M630.4 1595.4V1605.7M631.7 1597.5V1605.7M632.9 1600V1605.7M634.2 1601.7V1605.7M635.4 1600.8V1605.7M636.7 1596.6V1605.7M637.9 1592.6V1605.7M639.2 1588.1V1605.7M640.4 1589.7V1605.7M641.7 1590.9V1605.7" stroke="#666666" stroke-width="4.4" stroke-linecap="round" fill="none"/>
<rect x="642.8" y="1599.5" width="27.9" height="74.2" fill="#bebebe"/>
<path d="M644.6 1589.4V1600.5M645.9 1589.7V1600.5M647.1 1589.9V1600.5M648.4 1589.9V1600.5M649.6 1590.1V1600.5M650.9 1589.7V1600.5M652.1 1590.5V1600.5M653.4 1591.9V1600.5M654.6 1594V1600.5M655.9 1596.4V1600.5M657.1 1596.5V1600.5M658.4 1595.1V1600.5M659.6 1592.7V1600.5M660.9 1590.6V1600.5M662.1 1589.4V1600.5M663.4 1589.9V1600.5M664.6 1589.7V1600.5M665.9 1588.5V1600.5M667.1 1587.3V1600.5M668.4 1590.2V1600.5" stroke="#bebebe" stroke-width="4.4" stroke-linecap="round" fill="none"/>
<rect x="670.5" y="1598" width="21" height="75.7" fill="#666666"/>
<path d="M672.3 1590.6V1599M673.5 1586.9V1599M674.8 1586.3V1599M676 1588.2V1599M677.3 1589.8V1599M678.5 1590.7V1599M679.8 1591.8V1599M681 1593.6V1599M682.3 1595V1599M683.5 1591.4V1599M684.8 1588.6V1599M686 1584.9V1599M687.3 1582.8V1599M688.5 1583.5V1599M689.8 1583V1599" stroke="#666666" stroke-width="4.4" stroke-linecap="round" fill="none"/>
<rect x="691.3" y="1604.5" width="21.6" height="69.2" fill="#bebebe"/>
<path d="M693.1 1591V1605.5M694.3 1596.6V1605.5M695.6 1596.6V1605.5M696.8 1594.4V1605.5M698.1 1592.4V1605.5M699.3 1589.7V1605.5M700.6 1586.9V1605.5M701.8 1591.8V1605.5M703.1 1596.1V1605.5M704.3 1600.9V1605.5M705.6 1601.5V1605.5M706.8 1598.9V1605.5M708.1 1597V1605.5M709.3 1594.5V1605.5M710.6 1592.3V1605.5" stroke="#bebebe" stroke-width="4.4" stroke-linecap="round" fill="none"/>
<rect x="712.6" y="1605.2" width="23.2" height="68.5" fill="#666666"/>
<path d="M714.4 1594.5V1606.2M715.7 1595.5V1606.2M716.9 1593.7V1606.2M718.2 1592.3V1606.2M719.4 1590.5V1606.2M720.7 1590.3V1606.2M721.9 1593.6V1606.2M723.2 1596.7V1606.2M724.4 1599.7V1606.2M725.7 1602.2V1606.2M726.9 1600.7V1606.2M728.2 1599.3V1606.2M729.4 1597.7V1606.2M730.7 1595.9V1606.2M731.9 1596.4V1606.2M733.2 1596.9V1606.2M734.4 1596.6V1606.2" stroke="#666666" stroke-width="4.4" stroke-linecap="round" fill="none"/>
<rect x="735.6" y="1604.4" width="24.4" height="69.3" fill="#bebebe"/>
<path d="M737.4 1593V1605.4M738.6 1592V1605.4M739.9 1591.1V1605.4M741.1 1590V1605.4M742.4 1588.9V1605.4M743.6 1590.8V1605.4M744.9 1594.1V1605.4M746.1 1597V1605.4M747.4 1600.3V1605.4M748.6 1601.4V1605.4M749.9 1599.6V1605.4M751.1 1597.9V1605.4M752.4 1595.2V1605.4M753.6 1592.7V1605.4M754.9 1590.4V1605.4M756.1 1588.4V1605.4M757.4 1586.8V1605.4M758.6 1589.5V1605.4" stroke="#bebebe" stroke-width="4.4" stroke-linecap="round" fill="none"/>
<rect x="759.8" y="1600.9" width="22.7" height="72.8" fill="#666666"/>
<path d="M761.6 1597.5V1601.9M762.8 1597.4V1601.9M764.1 1596.1V1601.9M765.3 1593.7V1601.9M766.6 1591.8V1601.9M767.8 1591.2V1601.9M769.1 1592.3V1601.9M770.3 1593V1601.9M771.6 1595.4V1601.9M772.8 1596.5V1601.9M774.1 1597.6V1601.9M775.3 1597.7V1601.9M776.6 1597.9V1601.9M777.8 1597.6V1601.9M779.1 1596V1601.9M780.3 1594.9V1601.9" stroke="#666666" stroke-width="4.4" stroke-linecap="round" fill="none"/>
<rect x="782.4" y="1606.2" width="59.5" height="67.5" fill="#8e8e8e"/>
<path d="M783 1606.2V1673.7M786.7 1606.2V1673.7M790.4 1606.2V1673.7M794.1 1606.2V1673.7M797.8 1606.2V1673.7M801.5 1606.2V1673.7M805.2 1606.2V1673.7M808.9 1606.2V1673.7M812.6 1606.2V1673.7M816.3 1606.2V1673.7M820 1606.2V1673.7M823.7 1606.2V1673.7M827.4 1606.2V1673.7M831.1 1606.2V1673.7M834.8 1606.2V1673.7M838.5 1606.2V1673.7" stroke="#727272" stroke-width="1.1" fill="none"/>
<path d="M784.9 1606.2V1673.7M788.6 1606.2V1673.7M792.3 1606.2V1673.7M796 1606.2V1673.7M799.7 1606.2V1673.7M803.4 1606.2V1673.7M807.1 1606.2V1673.7M810.8 1606.2V1673.7M814.5 1606.2V1673.7M818.2 1606.2V1673.7M821.9 1606.2V1673.7M825.6 1606.2V1673.7M829.3 1606.2V1673.7M833 1606.2V1673.7M836.7 1606.2V1673.7M840.4 1606.2V1673.7" stroke="#a8a8a8" stroke-width="0.9" fill="none"/>
<path d="M783.7 1596.9V1608.2M790.9 1597.9V1608.2M793.3 1598.6V1608.2M802.9 1596.5V1608.2M807.7 1590.8V1608.2M810.1 1591.1V1608.2M812.5 1592.9V1608.2M817.3 1595.4V1608.2M822.1 1595.8V1608.2M824.5 1596.6V1608.2M831.7 1591.2V1608.2M834.1 1587.2V1608.2M836.5 1590.5V1608.2M838.9 1593V1608.2M841.3 1602.1V1608.2" stroke="#6a6a6a" stroke-width="2.6" fill="none"/>
<path d="M786.1 1597.1V1608.2M798.1 1600.8V1608.2M800.5 1596.7V1608.2M805.3 1589.9V1608.2M819.7 1597.7V1608.2" stroke="#b8b8b8" stroke-width="2.6" fill="none"/>
<path d="M788.5 1595.1V1608.2M795.7 1600V1608.2M814.9 1595.5V1608.2M826.9 1595.7V1608.2M829.3 1592.3V1608.2" stroke="#8e8e8e" stroke-width="2.6" fill="none"/>
<path d="M222.3 1594h0M226.1 1592.6h0M231.7 1596.7h0M234.5 1593.7h0M239.1 1590.3h0M243.3 1585.3h0M247 1587.3h0M250.7 1580.5h0M255.1 1576.7h0M258.3 1588.3h0M263.6 1587.1h0M268.5 1585.6h0M272.6 1582.1h0M277.4 1589.3h0M280 1592.6h0M283.7 1595.4h0M330.2 1592.7h0M335.5 1592.8h0M339 1590.8h0M341.9 1590.9h0M347.4 1597.2h0M352 1584.5h0M395.7 1601.7h0M400.6 1599.8h0M406.4 1599.3h0M409.7 1602.5h0M412.8 1599.1h0M418 1590h0M422.7 1592.5h0M473.3 1589.2h0M478.2 1593.2h0M481 1595.2h0M485.5 1597.2h0M488.1 1593.5h0M523.9 1587.3h0M529.1 1583.9h0M533.4 1588.2h0M574.8 1593.6h0M578 1590.8h0M582.6 1597h0M586.1 1606.7h0M590.7 1582.1h0M622.3 1587.6h0M627.1 1590.8h0M630.6 1593.8h0M636.1 1598h0M638.9 1589h0M674.3 1586.5h0M678.2 1590.6h0M682.4 1594.8h0M686.9 1580.2h0M715.4 1595.3h0M719.5 1590.7h0M722.4 1592.3h0M726.8 1601h0M732.4 1596.5h0M763.2 1596.6h0M768 1591.6h0M772.3 1594.9h0M777.2 1597.2h0" stroke="#5e5e5e" stroke-width="4.4" stroke-linecap="round" fill="none"/>
<path d="M232.6 1596.2h0M239.5 1592.7h0M247.7 1590.8h0M256.3 1581.8h0M259.6 1589.1h0M269.1 1590.8h0M273.6 1583.7h0M278.7 1593.6h0M284.1 1598.9h0M335.8 1592.7h0M338.7 1593.4h0M351.2 1588.5h0M394.3 1602.1h0M406.9 1604.5h0M414.3 1602.9h0M478.3 1594.6h0M479.9 1600.4h0M487.9 1594.6h0M524.7 1591.1h0M529.8 1586.4h0M533.6 1593.7h0M573.7 1596.4h0M577.3 1591.4h0M582.4 1597.4h0M591 1584.2h0M628.4 1592.9h0M637.2 1602h0M686.9 1584.4h0M718.1 1594.3h0M726.8 1601.5h0M731.2 1599.4h0M763.2 1597.2h0M767.5 1593.8h0M775.9 1598.5h0" stroke="#666666" stroke-width="4.4" stroke-linecap="round" fill="none"/>
<path d="M225.6 1582.7h0M228.2 1590.2h0M230.9 1586h0M238.3 1583h0M242.1 1580.3h0M247.2 1577.1h0M250.1 1576h0M254.5 1572.7h0M258.6 1580.8h0M262.5 1574h0M275.4 1582h0M282.2 1589.9h0M286.1 1590.2h0M331.7 1584.3h0M337.8 1586.4h0M343.4 1582.7h0M345.8 1589.1h0M352 1578.7h0M397.4 1593.8h0M400.5 1594.8h0M402.9 1588h0M407.7 1596.7h0M412.3 1590.3h0M419 1576.9h0M474.8 1584.6h0M477.9 1587.6h0M482.7 1592h0M487.3 1588h0M527.3 1579.6h0M530.6 1582.3h0M576.8 1587.2h0M584.1 1595.3h0M591.4 1576.2h0M624.9 1581.4h0M627 1583.2h0M632 1592.7h0M639.2 1574.9h0M677.6 1583.5h0M684.7 1582.1h0M687 1576.8h0M725.2 1590.9h0M729 1589h0M731.6 1591.6h0M764.8 1586.1h0M771.3 1584.8h0M778.6 1593h0M253.1 1540h0M253.1 1540h0M252.2 1546.9h0M237.2 1566.3h0M234.9 1572.5h0M238.4 1574.9h0M240.1 1578h0M248.4 1576.3h0M234.9 1583.2h0M243.6 1583.2h0M232.4 1590.1h0M260.6 1571.1h0M260.6 1577.2h0M271.8 1564.7h0M271.8 1568.5h0M271.8 1572h0M271.8 1574.6h0M280.8 1566.8h0M280.8 1579.8h0M283.7 1584.6h0M281.7 1586.7h0M286 1594.5h0M334.9 1576.8h0M344.8 1574.6h0M352.2 1573.7h0M339.6 1583.2h0M345.3 1584.1h0M331 1584.9h0M354.3 1580.6h0M420.4 1570.2h0M419.6 1578h0M408 1580.6h0M415.2 1581h0M402.4 1584.9h0M408 1589.3h0M404.8 1591.9h0M410.6 1594.5h0M396.7 1594.5h0M401.9 1597.9h0M490.5 1551.6h0M490.5 1560.7h0M490.5 1567.6h0M490.5 1577.2h0M476.3 1586.7h0M480.6 1591.9h0M490.4 1551.6h0M490.4 1560.7h0M490.4 1567.6h0M490.4 1577.2h0M531.2 1512.6h0M534 1555.2h0M537.4 1560h0M530.2 1565.6h0M531 1572.8h0M528.4 1574.2h0M525.8 1583.6h0M531.4 1583.2h0M523.3 1588.4h0M595.1 1559.2h0M598.9 1567.3h0M578.3 1573.7h0M579 1578h0M590.7 1571.1h0M593.3 1571.1h0M578.6 1585.8h0M589.9 1575.4h0M593.3 1578.9h0M639.2 1562.5h0M639.2 1562.5h0M636.6 1578.9h0M628.8 1587h0M625.3 1584.4h0M641.8 1588.4h0M646.1 1590.1h0M675 1570.2h0M679.3 1571.1h0M691.1 1565.1h0M691.1 1568.5h0M693.7 1569h0M688 1574h0M679.8 1578h0M673.4 1583.2h0M679 1586.7h0M684.2 1579.8h0M722.6 1580.1h0M731.7 1576.3h0M733.1 1578.9h0M736.9 1579.4h0M728.3 1585.3h0M730.9 1587.5h0M720.1 1587.9h0M715.3 1591.5h0M728.3 1593.6h0M768.4 1571.1h0M766 1573.7h0M768.1 1581.5h0M774.1 1584.9h0M776.7 1587h0M782.8 1589.8h0M833.3 1574.2h0M835.5 1579.4h0M820 1581.5h0M820.8 1584.1h0M835.5 1586.7h0M794.9 1587.9h0M793.1 1594.5h0M813 1588.4h0M808.7 1591.9h0M819.1 1592.2h0M839.9 1601.4h0M839.9 1610.9h0" stroke="#4d4d4d" stroke-width="4.4" stroke-linecap="round" fill="none"/>
<path d="M293.3 1585.6h0M293.4 1587.5h0M297.6 1583.4h0M303.5 1583.3h0M308.3 1586.9h0M309 1587.1h0M313.9 1589.7h0M318.9 1591.3h0M319.2 1593.6h0M294.2 1574.6h0M298 1579.3h0M300.4 1575.2h0M307.2 1577.9h0M310.6 1581.8h0M315 1586.6h0M320.1 1588.3h0M361.4 1595.4h0M365.3 1592.5h0M368.2 1587.8h0M374 1580.7h0M378.6 1601.7h0M379.7 1606.4h0M384.2 1581.4h0M387 1586.1h0M387.6 1591.1h0M363.8 1589.5h0M370.9 1572.6h0M378.4 1589.3h0M384.3 1576.4h0M432.6 1596h0M436.4 1589.7h0M441.2 1588.4h0M445.4 1582.6h0M446.4 1583.7h0M448.9 1589.4h0M448 1591.3h0M452.2 1592h0M458 1593.9h0M457.5 1599.5h0M464 1581.4h0M464.7 1585.7h0M467.1 1583.8h0M432 1590.7h0M437.5 1586.3h0M441.2 1581.7h0M447.5 1575.4h0M452.6 1583.2h0M459 1589.1h0M465 1572.1h0M494.9 1580h0M495.5 1583.5h0M500.5 1580.1h0M500.9 1582.1h0M505.1 1585.3h0M505.5 1589.4h0M508.3 1590h0M511.2 1591.3h0M517.1 1593.1h0M495.1 1572.5h0M502.1 1569.1h0M508.3 1583.3h0M513.7 1588.6h0M540.5 1591.3h0M546.2 1600h0M545.5 1600.3h0M549.5 1598.6h0M550.6 1602.5h0M554.9 1593.5h0M553.6 1595.6h0M559.2 1590.8h0M560.2 1593.7h0M562 1594.4h0M564.9 1591.7h0M563.8 1598.4h0M568.6 1593.5h0M567.7 1593.6h0M542.5 1583.6h0M544.9 1588.1h0M548.3 1597.1h0M550.7 1594.7h0M560.1 1585.7h0M562.8 1587.5h0M600.2 1590.7h0M605.1 1595.1h0M604.7 1598.1h0M608.3 1591.8h0M609.6 1594.6h0M612.6 1591.2h0M613.4 1595h0M603.2 1582.5h0M607.7 1588.1h0M613.5 1585.9h0M645.6 1588.8h0M646.7 1593.7h0M650.2 1587.7h0M650.8 1592.6h0M654.3 1594.6h0M655.3 1594.1h0M659.4 1591.8h0M658.2 1595.6h0M663.7 1586.2h0M663.7 1589.9h0M668.4 1589.3h0M668.7 1591.5h0M649.2 1586h0M652.1 1582.5h0M657.6 1585.9h0M662.3 1584.7h0M694.7 1595.9h0M698.7 1588h0M697.9 1589.8h0M702.3 1590.4h0M701.2 1594.4h0M707.1 1596.7h0M705.8 1602.2h0M695.6 1586.1h0M698.3 1586.6h0M703.3 1590h0M707.4 1588.6h0M739.8 1589.5h0M743.3 1586.1h0M748.6 1601.8h0M749.2 1602h0M754.5 1589.1h0M753.5 1595.2h0M742.9 1584.2h0M746.5 1592.9h0M305.5 1551.7h0M323.2 1560.7h0M324 1564.2h0M297.2 1567.1h0M301.6 1566.3h0M305.5 1565.1h0M323.2 1571.1h0M315.4 1574.6h0M311.1 1576.3h0M305.5 1577.2h0M295.5 1578.9h0M323.2 1582.4h0M318 1586.7h0M361.6 1566.3h0M385.5 1568.2h0M361.6 1574.9h0M375.1 1572.8h0M375.1 1572.8h0M391 1577.2h0M364.7 1581.8h0M383.7 1579.8h0M395 1584.9h0M362.1 1586.7h0M464.7 1549h0M445.2 1560.7h0M463.3 1560.4h0M450.3 1569.7h0M445.2 1574.9h0M465.1 1573.7h0M465.9 1578h0M497.9 1563.7h0M495.3 1569.4h0M501.3 1562.8h0M494.7 1569.4h0M501.3 1569.9h0M501.6 1575.4h0M509.8 1581.8h0M511.1 1582.9h0M548.7 1540h0M569.6 1578h0M561.3 1579.2h0M553 1581.5h0M570.8 1586.7h0M543.1 1588.4h0M540.6 1589.3h0M605.8 1564.5h0M621.9 1565.2h0M613.7 1576h0M621.9 1578.9h0M601.1 1583.2h0M616.7 1583.2h0M614.9 1584.1h0M668.1 1549.5h0M668.1 1552.1h0M668.1 1555.5h0M657.9 1577.2h0M657.9 1579.4h0M646.1 1580.6h0M653 1583.2h0M662.5 1585.8h0M713 1552.6h0M701.5 1571.1h0M703.2 1573.2h0M698.9 1576h0M713.2 1577.7h0M700.6 1583.2h0M740.7 1573.5h0M751.6 1574.9h0M759.8 1574.2h0M756.3 1578.7h0M739.5 1584.9h0M743 1584.9h0M757.7 1584.1h0M804.7 1556.7h0M809.1 1562.1h0M817 1566.4h0M786.2 1571.1h0M809.1 1569.4h0M828.1 1568.9h0M831.2 1571.1h0M827.8 1575.4h0M822.6 1578h0M809.1 1579.8h0M793.1 1585.8h0M786.2 1591.9h0M828.6 1587.5h0" stroke="#bebebe" stroke-width="4.4" stroke-linecap="round" fill="none"/>
<path d="M783.6 1597.4h0M785.1 1605.7h0M785 1610.8h0M789.4 1600h0M796.1 1598.7h0M797.6 1611.4h0M800.5 1600.7h0M810.9 1592.4h0M813.2 1596.6h0M818.9 1607.3h0M823.2 1595.5h0M823.5 1603.9h0M824.4 1608.8h0M828 1594h0M830.1 1589.8h0M831.2 1593.2h0M835.7 1590.9h0M835.9 1597.6h0M838.5 1591.6h0M839.6 1595.4h0" stroke="#c4c4c4" stroke-width="3.8" stroke-linecap="round" fill="none"/>
<path d="M784.8 1600.5h0M787.6 1595.9h0M787.8 1601.2h0M787.5 1604.3h0M790.4 1595.7h0M790 1605.1h0M792.5 1598.3h0M793.5 1605.8h0M797.7 1598.9h0M799.1 1602.1h0M802.2 1607.9h0M805.3 1590.7h0M805.9 1601.4h0M808.4 1595.1h0M808.4 1598.3h0M810.8 1588.2h0M809.8 1596.4h0M813.6 1591.7h0M812.8 1601.3h0M815.7 1592.6h0M819.1 1599.1h0M822.2 1599.9h0M824.4 1596.8h0M824.5 1600.9h0M827.5 1607.3h0M830.4 1597.3h0M832.8 1588.9h0M833.6 1593.2h0M832.8 1597.5h0M832.9 1602.8h0M837.7 1594.6h0M836.5 1602.2h0" stroke="#5a5a5a" stroke-width="3.8" stroke-linecap="round" fill="none"/>
<path d="M783.8 1616.1h0M784.3 1626.1h0M788.3 1612.9h0M788.4 1631h0M790.2 1627.9h0M792.6 1618.6h0M793.4 1630.5h0M799.6 1630.2h0M799.1 1634.9h0M802.4 1613.3h0M801.2 1631.9h0M803.9 1625.5h0M808.3 1616.1h0M807.3 1619.4h0M807.7 1622.6h0M808.3 1626.5h0M810.2 1604.5h0M810.4 1614.4h0M813.8 1610.4h0M813.6 1619h0M817 1608h0M815.9 1612.9h0M816.1 1623h0M819 1610.8h0M819.1 1615.9h0M818.6 1620.2h0M819.7 1637.7h0M824.1 1613.6h0M825.6 1635.2h0M831.8 1613.5h0M831.1 1636.2h0M833.9 1627.5h0M835.9 1609.4h0M837.8 1609.5h0M839.2 1618.5h0" stroke="#5a5a5a" stroke-width="3" stroke-linecap="round" fill="none"/>
<path d="M785.5 1620.9h0M783.8 1643.5h0M789.1 1617.7h0M792.2 1614.5h0M792 1626.4h0M801.4 1624h0M804.2 1613.6h0M803.7 1617.5h0M807.4 1606.6h0M809.6 1624h0M808.9 1627.9h0M815.2 1627.8h0M821.8 1620.4h0M821.9 1629h0M821.5 1637.5h0M824 1625.4h0M834.9 1607.6h0M833.9 1611.8h0M838 1621.8h0" stroke="#c4c4c4" stroke-width="3" stroke-linecap="round" fill="none"/>
<path d="M840.6 1601.6h0M840.6 1607.1h0M840.2 1611.9h0M840.5 1615.2h0M840.4 1619h0M840.1 1629.4h0M840.6 1634.6h0M840.5 1639.4h0M840.8 1645.4h0M840.9 1649.8h0M840.7 1655.5h0M840.6 1659.2h0M840.9 1664.2h0M840.6 1669.6h0" stroke="#6a6a6a" stroke-width="4.2" stroke-linecap="round" fill="none"/>
<path d="M840.2 1624.4h0" stroke="#cfcfcf" stroke-width="4.2" stroke-linecap="round" fill="none"/>
<path d="M253.5 1542.5h0M253.1 1544.7h0M253.1 1546.9h0M253.6 1549.1h0M253.5 1551.3h0M252.8 1553.5h0M253.8 1555.7h0M252.7 1557.9h0M253.7 1560.1h0M253.6 1562.3h0M253.7 1564.5h0M253.2 1566.7h0M253.8 1568.9h0M253.8 1571.1h0M253.6 1573.3h0M252.4 1549.4h0M251.8 1551.6h0M252.8 1553.8h0M252.5 1556h0M251.8 1558.2h0M252.2 1560.4h0M251.6 1562.6h0M252.2 1564.8h0M252.4 1567h0M252.8 1569.2h0M251.6 1571.4h0M252.8 1573.6h0M638.8 1565h0M639.1 1567.2h0M638.7 1569.4h0M638.5 1571.6h0M638.8 1573.8h0M639.5 1576h0M639.3 1578.2h0M638.9 1580.4h0M639.7 1582.6h0M639.6 1584.8h0" stroke="#666666" stroke-width="4.8" stroke-linecap="round" fill="none"/>
<path d="M375.6 1575.3h0M375.6 1577.5h0M374.8 1579.7h0M375.8 1581.9h0M375.7 1584.1h0" stroke="#bebebe" stroke-width="4.8" stroke-linecap="round" fill="none"/>
<rect x="202.1" y="1494.6" width="657.7" height="179.1" fill="none" stroke="#000" stroke-width="1.7"/>
<text x="189.3" y="1518.8" text-anchor="end">8</text>
<text x="189.3" y="1558.2" text-anchor="end">6</text>
<text x="189.3" y="1598" text-anchor="end">4</text>
<text x="189.3" y="1637.8" text-anchor="end">2</text>
<text x="189.3" y="1677.6" text-anchor="end">0</text>
<text x="256.5" y="1696.2" text-anchor="middle">1</text>
<text x="311.4" y="1696.2" text-anchor="middle">2</text>
<text x="343.1" y="1696.2" text-anchor="middle">3</text>
<text x="377.1" y="1696.2" text-anchor="middle">4</text>
<text x="412.9" y="1696.2" text-anchor="middle">5</text>
<text x="450.9" y="1696.2" text-anchor="middle">6</text>
<text x="483.3" y="1696.2" text-anchor="middle">7</text>
<text x="508.6" y="1696.2" text-anchor="middle">8</text>
<text x="529.7" y="1696.2" text-anchor="middle">9</text>
<text x="555.8" y="1696.2" text-anchor="middle">10</text>
<text x="586.7" y="1696.2" text-anchor="middle">11</text>
<text x="610.9" y="1696.2" text-anchor="middle">12</text>
<text x="659.4" y="1696.2" text-anchor="middle">14</text>
<text x="684" y="1696.2" text-anchor="middle">15</text>
<text x="726.8" y="1696.2" text-anchor="middle">17</text>
<text x="750" y="1696.2" text-anchor="middle">18</text>
<text x="774.3" y="1696.2" text-anchor="middle">19</text>
<path d="M202.1 1514.9h-7.5M202.1 1554.3h-7.5M202.1 1594.1h-7.5M202.1 1633.9h-7.5M202.1 1673.7h-7.5M256.5 1673.7v7.5M311.4 1673.7v7.5M343.1 1673.7v7.5M377.1 1673.7v7.5M412.9 1673.7v7.5M450.9 1673.7v7.5M483.3 1673.7v7.5M508.6 1673.7v7.5M529.7 1673.7v7.5M555.8 1673.7v7.5M586.7 1673.7v7.5M610.9 1673.7v7.5M633.5 1673.7v7.5M659.4 1673.7v7.5M684 1673.7v7.5M704.7 1673.7v7.5M726.8 1673.7v7.5M750 1673.7v7.5M774.3 1673.7v7.5" stroke="#000" stroke-width="1.7" fill="none"/>
<rect x="785.4" y="1673.7" width="56.3" height="7.5" fill="#000"/>
<text x="798" y="1696.2" text-anchor="middle">33</text>
<text x="824" y="1696.2" text-anchor="middle">294</text>
<text x="530.9" y="1721.2" text-anchor="middle" class="al">Chromosome</text>
<text transform="translate(159.2 1584.1) rotate(-90)" text-anchor="middle" class="yl">− log<tspan dy="2.2" font-size="7.6">10</tspan><tspan dy="-2.2">(</tspan><tspan font-style="italic">p</tspan>)</text>
</g>
<g class="m">
<rect x="1555.9" y="131.4" width="71.8" height="78.3" fill="#666666"/>
<path d="M1557.7 128.4V132.4M1558.9 118.4V132.4M1560.2 116.8V132.4M1561.4 119.4V132.4M1562.7 122.1V132.4M1563.9 125.4V132.4M1565.2 126.8V132.4M1566.4 125.1V132.4M1567.7 122.7V132.4M1568.9 119.5V132.4M1570.2 117.3V132.4M1571.4 116.6V132.4M1572.7 115.9V132.4M1573.9 115V132.4M1575.2 115.2V132.4M1576.4 115.1V132.4M1577.7 115.2V132.4M1578.9 115.9V132.4M1580.2 116V132.4M1581.4 116.5V132.4M1582.7 117.1V132.4M1583.9 118.1V132.4M1585.2 118.1V132.4M1586.4 116.5V132.4M1587.7 115V132.4M1588.9 112.8V132.4M1590.2 108.3V132.4M1591.4 109.2V132.4M1592.7 111.8V132.4M1593.9 114.5V132.4M1595.2 117.2V132.4M1596.4 120.3V132.4M1597.7 123V132.4M1598.9 123.8V132.4M1600.2 124.7V132.4M1601.4 124.2V132.4M1602.7 123.8V132.4M1603.9 121.5V132.4M1605.2 118.9V132.4M1606.4 115.6V132.4M1607.7 112.1V132.4M1608.9 108.3V132.4M1610.2 106.5V132.4M1611.4 105.9V132.4M1612.7 105.1V132.4M1613.9 104.7V132.4M1615.2 105.4V132.4M1616.4 107V132.4M1617.7 109.3V132.4M1618.9 110.8V132.4M1620.2 114V132.4M1621.4 116.9V132.4M1622.7 119V132.4M1623.9 120V132.4M1625.2 120.9V132.4M1626.4 122.2V132.4" stroke="#666666" stroke-width="4.4" stroke-linecap="round" fill="none"/>
<rect x="1627.5" y="129.9" width="36.4" height="79.8" fill="#bebebe"/>
<path d="M1629.3 120.1V130.9M1630.5 120.8V130.9M1631.8 122.4V130.9M1633 123.7V130.9M1634.3 125.2V130.9M1635.5 125.9V130.9M1636.8 126.3V130.9M1638 126.9V130.9M1639.3 126.3V130.9M1640.5 125.8V130.9M1641.8 124.9V130.9M1643 124.2V130.9M1644.3 123.7V130.9M1645.5 123.7V130.9M1646.8 123.2V130.9M1648 122.2V130.9M1649.3 121.1V130.9M1650.5 119.5V130.9M1651.8 118.4V130.9M1653 117V130.9M1654.3 116.7V130.9M1655.5 115.4V130.9M1656.8 115.2V130.9M1658 115.5V130.9M1659.3 114.9V130.9M1660.5 114.8V130.9M1661.8 116.4V130.9" stroke="#bebebe" stroke-width="4.4" stroke-linecap="round" fill="none"/>
<rect x="1663.7" y="129.8" width="31.3" height="79.9" fill="#666666"/>
<path d="M1665.5 121.2V130.8M1666.8 119.6V130.8M1668 116.9V130.8M1669.3 114.2V130.8M1670.5 116.3V130.8M1671.8 117.1V130.8M1673 119V130.8M1674.3 119.2V130.8M1675.5 119V130.8M1676.8 118.8V130.8M1678 118.4V130.8M1679.3 118.9V130.8M1680.5 121.4V130.8M1681.8 124.4V130.8M1683 126.6V130.8M1684.3 126.8V130.8M1685.5 123.5V130.8M1686.8 121V130.8M1688 117.6V130.8M1689.3 114.8V130.8M1690.5 114.5V130.8M1691.8 113.8V130.8M1693 118.8V130.8" stroke="#666666" stroke-width="4.4" stroke-linecap="round" fill="none"/>
<rect x="1694.8" y="132" width="35.6" height="77.7" fill="#bebebe"/>
<path d="M1696.6 122.9V133M1697.9 120.7V133M1699.1 118V133M1700.4 115.1V133M1701.6 115.6V133M1702.9 116.7V133M1704.1 117.8V133M1705.4 118V133M1706.6 117.6V133M1707.9 118.5V133M1709.1 119.1V133M1710.4 118.1V133M1711.6 116.9V133M1712.9 115.9V133M1714.1 118.6V133M1715.4 123.8V133M1716.6 129V133M1717.9 127.6V133M1719.1 124.3V133M1720.4 121.6V133M1721.6 122.1V133M1722.9 122.9V133M1724.1 123.2V133M1725.4 123.3V133M1726.6 123.8V133M1727.9 123.6V133M1729.1 123.7V133" stroke="#bebebe" stroke-width="4.4" stroke-linecap="round" fill="none"/>
<rect x="1730.3" y="131" width="36.4" height="78.7" fill="#666666"/>
<path d="M1732.1 124.2V132M1733.3 123.5V132M1734.6 122.3V132M1735.8 122.2V132M1737.1 121.5V132M1738.3 121.5V132M1739.6 122.6V132M1740.8 122.5V132M1742.1 123.2V132M1743.3 123.3V132M1744.6 123.7V132M1745.8 125V132M1747.1 126.7V132M1748.3 127.7V132M1749.6 128V132M1750.8 128V132M1752.1 127.8V132M1753.3 128V132M1754.6 126.7V132M1755.8 125.5V132M1757.1 123.5V132M1758.3 123.7V132M1759.6 123.3V132M1760.8 122.6V132M1762.1 122.4V132M1763.3 122.4V132M1764.6 123.5V132" stroke="#666666" stroke-width="4.4" stroke-linecap="round" fill="none"/>
<rect x="1766.5" y="135.2" width="42.1" height="74.5" fill="#bebebe"/>
<path d="M1768.3 122.3V136.2M1769.5 120.2V136.2M1770.8 118V136.2M1772 115.1V136.2M1773.3 116.2V136.2M1774.5 119.5V136.2M1775.8 122.7V136.2M1777 126.1V136.2M1778.3 126.2V136.2M1779.5 125.4V136.2M1780.8 124.4V136.2M1782 122.1V136.2M1783.3 121.9V136.2M1784.5 122.2V136.2M1785.8 123V136.2M1787 123.1V136.2M1788.3 124.6V136.2M1789.5 126.4V136.2M1790.8 128.1V136.2M1792 130V136.2M1793.3 130.9V136.2M1794.5 132.2V136.2M1795.8 129.1V136.2M1797 125.4V136.2M1798.3 122.5V136.2M1799.5 119V136.2M1800.8 116.8V136.2M1802 115V136.2M1803.3 112.8V136.2M1804.5 112.8V136.2M1805.8 119.3V136.2M1807 125.5V136.2" stroke="#bebebe" stroke-width="4.4" stroke-linecap="round" fill="none"/>
<rect x="1808.4" y="130.9" width="20.6" height="78.8" fill="#666666"/>
<path d="M1810.2 127.9V131.9M1811.4 125.6V131.9M1812.7 124.3V131.9M1813.9 122.9V131.9M1815.2 119.9V131.9M1816.4 116.4V131.9M1817.7 112.9V131.9M1818.9 113.4V131.9M1820.2 115.9V131.9M1821.4 120.6V131.9M1822.7 124.3V131.9M1823.9 123.9V131.9M1825.2 125V131.9M1826.4 124.9V131.9M1827.7 125.2V131.9" stroke="#666666" stroke-width="4.4" stroke-linecap="round" fill="none"/>
<rect x="1828.7" y="129.1" width="29.9" height="80.6" fill="#bebebe"/>
<path d="M1830.5 122.2V130.1M1831.8 125.9V130.1M1833 126.1V130.1M1834.3 125.3V130.1M1835.5 123.3V130.1M1836.8 122.8V130.1M1838 121.1V130.1M1839.3 120V130.1M1840.5 119.7V130.1M1841.8 119.2V130.1M1843 119.5V130.1M1844.3 120.9V130.1M1845.5 122.7V130.1M1846.8 123.5V130.1M1848 125.3V130.1M1849.3 124.1V130.1M1850.5 123.5V130.1M1851.8 122.7V130.1M1853 123V130.1M1854.3 121.2V130.1M1855.5 120V130.1M1856.8 119.2V130.1" stroke="#bebebe" stroke-width="4.4" stroke-linecap="round" fill="none"/>
<rect x="1858.5" y="121.7" width="17.2" height="88" fill="#666666"/>
<path d="M1860.3 115.1V122.7M1861.5 108.9V122.7M1862.8 104.8V122.7M1864 106.6V122.7M1865.3 108.3V122.7M1866.5 110.3V122.7M1867.8 113.1V122.7M1869 115.7V122.7M1870.3 118.7V122.7M1871.5 118.2V122.7M1872.8 116.8V122.7M1874 116.3V122.7" stroke="#666666" stroke-width="4.4" stroke-linecap="round" fill="none"/>
<rect x="1875.4" y="130.8" width="33" height="78.9" fill="#bebebe"/>
<path d="M1877.2 124.6V131.8M1878.5 124.1V131.8M1879.7 122.6V131.8M1881 120.4V131.8M1882.2 118.6V131.8M1883.5 118.9V131.8M1884.7 120V131.8M1886 120.7V131.8M1887.2 121.9V131.8M1888.5 121.7V131.8M1889.7 121V131.8M1891 120.8V131.8M1892.2 119.9V131.8M1893.5 120.1V131.8M1894.7 121.6V131.8M1896 123.5V131.8M1897.2 124.4V131.8M1898.5 124.2V131.8M1899.7 124.4V131.8M1901 123V131.8M1902.2 122.6V131.8M1903.5 122.3V131.8M1904.7 122.2V131.8M1906 125.1V131.8M1907.2 127.8V131.8" stroke="#bebebe" stroke-width="4.4" stroke-linecap="round" fill="none"/>
<rect x="1908.3" y="130.4" width="26" height="79.3" fill="#666666"/>
<path d="M1910.1 127.4V131.4M1911.3 126.1V131.4M1912.6 125.4V131.4M1913.8 124.7V131.4M1915.1 124.9V131.4M1916.3 124.4V131.4M1917.6 124.3V131.4M1918.8 124.1V131.4M1920.1 122.9V131.4M1921.3 121.6V131.4M1922.6 119.7V131.4M1923.8 118V131.4M1925.1 117.3V131.4M1926.3 117.3V131.4M1927.6 117.8V131.4M1928.8 117.8V131.4M1930.1 118.8V131.4M1931.3 118.9V131.4M1932.6 120.8V131.4" stroke="#666666" stroke-width="4.4" stroke-linecap="round" fill="none"/>
<rect x="1934.1" y="133.9" width="23.5" height="75.8" fill="#bebebe"/>
<path d="M1935.9 125V134.9M1937.2 123.5V134.9M1938.4 121.5V134.9M1939.7 119.4V134.9M1940.9 117.2V134.9M1942.2 116.2V134.9M1943.4 121.2V134.9M1944.7 126.4V134.9M1945.9 130.9V134.9M1947.2 130V134.9M1948.4 126.3V134.9M1949.7 124.7V134.9M1950.9 122.4V134.9M1952.2 123V134.9M1953.4 124V134.9M1954.7 125.4V134.9M1955.9 126.9V134.9" stroke="#bebebe" stroke-width="4.4" stroke-linecap="round" fill="none"/>
<rect x="1957.4" y="132.7" width="23.1" height="77" fill="#666666"/>
<path d="M1959.2 121.8V133.7M1960.5 118V133.7M1961.7 114.3V133.7M1963 111V133.7M1964.2 111.6V133.7M1965.5 116.4V133.7M1966.7 120.3V133.7M1968 124.1V133.7M1969.2 126.5V133.7M1970.5 127.9V133.7M1971.7 129.7V133.7M1973 125.6V133.7M1974.2 118.5V133.7M1975.5 110.5V133.7M1976.7 111.6V133.7M1978 114.8V133.7M1979.2 117.9V133.7" stroke="#666666" stroke-width="4.4" stroke-linecap="round" fill="none"/>
<rect x="1980.4" y="132.9" width="27.8" height="76.8" fill="#bebebe"/>
<path d="M1982.2 126.3V133.9M1983.4 127V133.9M1984.7 125.3V133.9M1985.9 122.8V133.9M1987.2 120.2V133.9M1988.4 119.2V133.9M1989.7 119.1V133.9M1990.9 119.7V133.9M1992.2 119.4V133.9M1993.4 118.9V133.9M1994.7 120.8V133.9M1995.9 123V133.9M1997.2 124.9V133.9M1998.4 126.9V133.9M1999.7 127V133.9M2000.9 127.9V133.9M2002.2 129.3V133.9M2003.4 129.9V133.9M2004.7 127.9V133.9M2005.9 125.4V133.9" stroke="#bebebe" stroke-width="4.4" stroke-linecap="round" fill="none"/>
<rect x="2008" y="135.2" width="21" height="74.5" fill="#666666"/>
<path d="M2009.8 125.4V136.2M2011.1 124.9V136.2M2012.3 124.5V136.2M2013.6 124.6V136.2M2014.8 124.4V136.2M2016.1 125.7V136.2M2017.3 127.7V136.2M2018.6 131V136.2M2019.8 132.2V136.2M2021.1 127.2V136.2M2022.3 120.9V136.2M2023.6 115.8V136.2M2024.8 114V136.2M2026.1 113.2V136.2M2027.3 113V136.2" stroke="#666666" stroke-width="4.4" stroke-linecap="round" fill="none"/>
<rect x="2028.8" y="134.7" width="21.6" height="75" fill="#bebebe"/>
<path d="M2030.6 131.7V135.7M2031.8 130.7V135.7M2033.1 128.8V135.7M2034.3 126.3V135.7M2035.6 124.3V135.7M2036.8 123.9V135.7M2038.1 125.6V135.7M2039.3 126.8V135.7M2040.6 129.5V135.7M2041.8 130.3V135.7M2043.1 127.9V135.7M2044.3 125V135.7M2045.6 122.2V135.7M2046.8 119.4V135.7M2048.1 121V135.7" stroke="#bebebe" stroke-width="4.4" stroke-linecap="round" fill="none"/>
<rect x="2050.1" y="129.6" width="23.1" height="80.1" fill="#666666"/>
<path d="M2051.9 124.3V130.6M2053.2 118.6V130.6M2054.4 112.2V130.6M2055.7 106.4V130.6M2056.9 103.5V130.6M2058.2 102.9V130.6M2059.4 103.7V130.6M2060.7 108.9V130.6M2061.9 116.2V130.6M2063.2 118.6V130.6M2064.4 120.6V130.6M2065.7 121.6V130.6M2066.9 122.9V130.6M2068.2 124.7V130.6M2069.4 125.6V130.6M2070.7 126.1V130.6M2071.9 126.6V130.6" stroke="#666666" stroke-width="4.4" stroke-linecap="round" fill="none"/>
<rect x="2073.1" y="130.8" width="24.3" height="78.9" fill="#bebebe"/>
<path d="M2074.9 127.8V131.8M2076.1 127.4V131.8M2077.4 126.8V131.8M2078.6 125.4V131.8M2079.9 124.5V131.8M2081.1 124.5V131.8M2082.4 125.4V131.8M2083.6 126.2V131.8M2084.9 125.9V131.8M2086.1 120.9V131.8M2087.4 115.9V131.8M2088.6 116.9V131.8M2089.9 120.6V131.8M2091.1 124V131.8M2092.4 123.5V131.8M2093.6 120.2V131.8M2094.9 117.6V131.8M2096.1 114.1V131.8" stroke="#bebebe" stroke-width="4.4" stroke-linecap="round" fill="none"/>
<rect x="2097.2" y="137" width="22.6" height="72.7" fill="#666666"/>
<path d="M2099 122.6V138M2100.3 119.5V138M2101.5 112.8V138M2102.8 107V138M2104 115.3V138M2105.3 126V138M2106.5 129.4V138M2107.8 131.5V138M2109 134V138M2110.3 129.5V138M2111.5 125.2V138M2112.8 120.5V138M2114 114.9V138M2115.3 118.7V138M2116.5 122.7V138M2117.8 127.6V138" stroke="#666666" stroke-width="4.4" stroke-linecap="round" fill="none"/>
<rect x="2119.9" y="138.4" width="59.5" height="71.3" fill="#8e8e8e"/>
<path d="M2120.5 138.4V209.7M2124.2 138.4V209.7M2127.9 138.4V209.7M2131.6 138.4V209.7M2135.3 138.4V209.7M2139 138.4V209.7M2142.7 138.4V209.7M2146.4 138.4V209.7M2150.1 138.4V209.7M2153.8 138.4V209.7M2157.5 138.4V209.7M2161.2 138.4V209.7M2164.9 138.4V209.7M2168.6 138.4V209.7M2172.3 138.4V209.7M2176 138.4V209.7" stroke="#727272" stroke-width="1.1" fill="none"/>
<path d="M2122.4 138.4V209.7M2126.1 138.4V209.7M2129.8 138.4V209.7M2133.5 138.4V209.7M2137.2 138.4V209.7M2140.9 138.4V209.7M2144.6 138.4V209.7M2148.3 138.4V209.7M2152 138.4V209.7M2155.7 138.4V209.7M2159.4 138.4V209.7M2163.1 138.4V209.7M2166.8 138.4V209.7M2170.5 138.4V209.7M2174.2 138.4V209.7M2177.9 138.4V209.7" stroke="#a8a8a8" stroke-width="0.9" fill="none"/>
<path d="M2126 122V140.4M2128.4 115.5V140.4M2133.2 135.5V140.4M2135.6 130.4V140.4M2138 123.6V140.4M2142.8 131.1V140.4M2145.2 131V140.4M2147.6 132.3V140.4M2150 129.4V140.4M2152.4 129.1V140.4M2159.6 131.4V140.4M2162 131.9V140.4M2169.2 131.5V140.4M2171.6 127.5V140.4M2174 128.6V140.4" stroke="#6a6a6a" stroke-width="2.6" fill="none"/>
<path d="M2121.2 137.8V140.4M2140.4 126.8V140.4M2176.4 124.3V140.4" stroke="#b8b8b8" stroke-width="2.6" fill="none"/>
<path d="M2123.6 132.2V140.4M2130.8 116.4V140.4M2154.8 130.1V140.4M2157.2 133.5V140.4M2164.4 130.5V140.4M2166.8 133.8V140.4M2178.8 135.6V140.4" stroke="#8e8e8e" stroke-width="2.6" fill="none"/>
<path d="M1559.5 113.5h0M1562.7 123.7h0M1566.3 124.4h0M1570.7 114.6h0M1575.5 113.7h0M1580.6 113.5h0M1585.8 115h0M1591.1 107.3h0M1596.5 121.1h0M1599.6 123.4h0M1603.8 119.3h0M1607 114.4h0M1611.8 103.1h0M1614.6 103.1h0M1618.8 110.8h0M1621.7 115.5h0M1667.3 115.2h0M1672 116.8h0M1675.6 118.6h0M1681.4 121.2h0M1686.5 120h0M1692 114.5h0M1733.1 121.3h0M1737.4 118.8h0M1742.4 119.8h0M1745.4 124h0M1748.5 125h0M1754.5 124.1h0M1759.2 123.3h0M1762.9 122.5h0M1811.1 125h0M1814.6 119.1h0M1817.8 108.4h0M1823 122.6h0M1862.2 103.5h0M1865.5 107.2h0M1869.6 117h0M1912.4 125.6h0M1917.6 122.2h0M1921.1 118.9h0M1926.6 116.8h0M1931.9 118.3h0M1960 117.4h0M1965 114.2h0M1969 122h0M1971.8 128.6h0M1975.7 108.6h0M2012.4 124.8h0M2016.7 127.1h0M2022 121.4h0M2026.7 114.1h0M2054.5 111h0M2059.8 102.9h0M2064.6 117.3h0M2067.3 119.7h0M2070.1 124h0M2101.2 112.9h0M2106.8 128.9h0M2110.8 125.5h0M2116 119.6h0" stroke="#5e5e5e" stroke-width="4.4" stroke-linecap="round" fill="none"/>
<path d="M1558.3 118.9h0M1566.4 127.4h0M1576.5 115.8h0M1584.8 119.5h0M1597.8 122.5h0M1600.3 126.8h0M1602.9 125.6h0M1611.4 105.4h0M1614.5 104.3h0M1618.8 113.5h0M1671.9 118.5h0M1676.2 118.6h0M1686.3 122.3h0M1692.4 115.3h0M1760.4 126.3h0M1762.6 125.7h0M1810.9 129h0M1865.2 111.4h0M1918.9 125.4h0M1927.7 120.1h0M1932.1 120.3h0M1961.4 121.9h0M1970.1 127.3h0M1975.6 110.8h0M2012.5 126.4h0M2022.2 123.1h0M2025.7 116.7h0M2055.4 114.3h0M2064.2 123.1h0M2066.1 126.4h0M2108 131.9h0M2116.2 122.2h0" stroke="#666666" stroke-width="4.4" stroke-linecap="round" fill="none"/>
<path d="M1561.4 113.5h0M1563.7 117.2h0M1569.6 114h0M1576 110.2h0M1580.9 107.5h0M1587.8 110.8h0M1592.1 104.8h0M1596.6 109.7h0M1600.9 119.6h0M1604.6 115.5h0M1607.7 108.1h0M1609.8 94.2h0M1616.4 100.4h0M1623.7 113.3h0M1670.7 105.3h0M1676 110.3h0M1682.8 117.3h0M1689.3 109.7h0M1691.7 108.1h0M1733.6 118.4h0M1740.1 115.7h0M1744.1 120.1h0M1746.3 121.8h0M1750.4 117.1h0M1755 120.5h0M1758 118.9h0M1763.6 118.9h0M1815.3 113.3h0M1817.6 106.5h0M1820.3 110.5h0M1866 102.3h0M1870.2 109.7h0M1911.8 118h0M1916.3 118.1h0M1923.2 113.1h0M1928 111.5h0M1963.2 102.5h0M1967.1 114.8h0M1971.3 125h0M1976.8 108.3h0M2015.9 111.7h0M2022.4 110.3h0M2025.9 107.6h0M2054.7 105.5h0M2059.1 92.7h0M2061.1 107.1h0M2065.4 107.7h0M2104.7 111.7h0M2108.4 127.1h0M2114.2 110.4h0M1591.4 62.6h0M1590.9 72.7h0M1590.5 77.9h0M1591.7 81.3h0M1574.9 90.3h0M1574.9 97.8h0M1569.4 108.5h0M1568.9 118h0M1574.9 119h0M1596.6 94.3h0M1597.8 94.3h0M1594.8 109h0M1614.2 83h0M1618.7 88.6h0M1609.6 95.2h0M1618.7 98.6h0M1604.4 102.6h0M1602.6 110.2h0M1619.1 103.8h0M1621.7 110.7h0M1683.1 93.4h0M1673.6 100h0M1675.3 100.7h0M1674.1 105.9h0M1670.1 109.9h0M1691.7 102.1h0M1691.7 102.1h0M1683.9 110.7h0M1757 47.6h0M1757 71.5h0M1757 76.1h0M1757 79.6h0M1757 83h0M1741.4 97.4h0M1737.2 110.4h0M1734.1 112.8h0M1744 111.6h0M1745.4 114.2h0M1762.7 111.9h0M1766.5 106.1h0M1769.6 100.9h0M1763.9 119.4h0M1831.3 90.8h0M1831.3 90.8h0M1825.5 103.5h0M1818 106.4h0M1815.4 111.6h0M1820.6 109.9h0M1826.7 113.3h0M1821.5 119.4h0M1831.2 90.8h0M1831.2 90.8h0M1825.2 103.5h0M1820 109.9h0M1826.1 113.3h0M1821.4 119.4h0M1869 76.8h0M1861.5 95.7h0M1868.1 97.2h0M1862.4 102.1h0M1866.7 105.5h0M1874.5 110.7h0M1931.1 80.6h0M1924.7 87.4h0M1931.1 89.3h0M1923.3 100.3h0M1918.6 103.8h0M1933.7 98.6h0M1934.2 102.1h0M1924.7 108.7h0M1918.6 113h0M1935.1 106.9h0M1914.3 120.2h0M1981.4 89.1h0M1981.4 91.7h0M1981.4 95.2h0M1963.6 104.3h0M1975.7 106.9h0M1967.1 109.5h0M1979.2 111.6h0M1982.6 114.2h0M1967.1 115.1h0M1972.2 118.5h0M1976.6 119.4h0M2015.8 90h0M2016.4 100.3h0M2014.3 103.3h0M2016.4 109h0M2010.3 113.7h0M2014.6 115.1h0M2026.7 109.9h0M2059.6 82.2h0M2057 86h0M2061.3 87.9h0M2056.2 99.5h0M2059.6 101.2h0M2071.7 107.8h0M2070 113h0M2072.6 113.8h0M2070.9 117.6h0M2104.3 96.4h0M2102 100.3h0M2102.9 103.8h0M2115 107.6h0M2105.5 109h0M2112.4 115.9h0M2140.1 100.7h0M2150.4 102.9h0M2156.9 102.9h0M2129.7 103.8h0M2132.3 108.1h0M2139.2 108.1h0M2155.6 112.1h0M2138 118.2h0M2175.5 118.2h0M2160.8 121.1h0M2173.8 123.2h0" stroke="#4d4d4d" stroke-width="4.4" stroke-linecap="round" fill="none"/>
<path d="M1631.9 122.6h0M1635.9 123.7h0M1637.4 126.1h0M1638.6 126.9h0M1644 125.3h0M1648.5 121.8h0M1652.3 114.5h0M1657.3 114.5h0M1657 115.9h0M1634.5 118.5h0M1640.5 113.6h0M1644.8 120.3h0M1651.5 105.2h0M1656 108.6h0M1660.8 103.1h0M1698.6 116.1h0M1699.3 120.7h0M1703.9 118.7h0M1709.7 114.7h0M1713.1 113.1h0M1713.1 117.3h0M1717.5 127.3h0M1716.9 129.2h0M1722.6 120.3h0M1728.1 124.2h0M1727.2 124.1h0M1700.5 110.1h0M1707.5 112.6h0M1712.2 110.5h0M1723.1 115.6h0M1769.4 120.5h0M1768.5 121.4h0M1774 117.7h0M1774.4 118.5h0M1777.8 123h0M1777.7 126.2h0M1780.9 122h0M1784.4 120.3h0M1784.4 123.9h0M1787.1 123.8h0M1786.4 125.4h0M1790.3 124.1h0M1789.6 129.7h0M1793.3 130.3h0M1794.2 131.2h0M1796.5 126.9h0M1801.4 112.9h0M1806.5 122.3h0M1807.6 125.7h0M1774.2 113.1h0M1779.6 119.7h0M1786.1 119h0M1791.4 119.6h0M1796.8 119.6h0M1802.4 99h0M1831.7 124.7h0M1835 124.4h0M1839.5 117.7h0M1845 122.3h0M1845.7 123.5h0M1848.7 125.7h0M1851.6 121.9h0M1851.2 125h0M1854.3 120.7h0M1836.8 111.4h0M1843.2 109.7h0M1849 118.5h0M1854.9 116h0M1879.3 122.2h0M1877.9 125.1h0M1882.4 118.8h0M1881.4 121.1h0M1887.6 119.8h0M1887.3 125.7h0M1892.4 121.7h0M1897.8 123h0M1900.5 123.9h0M1903.2 122.8h0M1901.9 124.4h0M1880.4 115.9h0M1884.3 115.9h0M1888.2 115h0M1894.3 111.9h0M1897.6 108.5h0M1904.4 115.9h0M1937.9 119.8h0M1939.1 123.9h0M1941.2 115h0M1944.5 125.1h0M1943.9 125.5h0M1947.3 127.1h0M1953.2 122.2h0M1940.1 114.3h0M1954.2 116.1h0M1983.2 126.8h0M1984.3 128.2h0M1987.4 117.1h0M1991.1 118.9h0M1990.6 119.3h0M1995.8 121.6h0M1996.2 125.9h0M2000.4 124.7h0M2003.5 128.8h0M2004.8 130.1h0M1983.8 115.6h0M1988.1 108.7h0M1993.1 110.5h0M2033.1 125.5h0M2038.7 125.2h0M2041.5 130.6h0M2041.5 134.1h0M2044.4 123.4h0M2044.9 124.8h0M2047.1 119.5h0M2048.1 121.6h0M2032.7 124.1h0M2035.7 117h0M2040 125.3h0M2044 120h0M2077.4 123.2h0M2078.4 125.8h0M2083 125h0M2082.1 129.1h0M2087.2 115.7h0M2087.8 118.6h0M2090.3 121.5h0M2089.1 124.9h0M2093.6 119.7h0M2092.6 122h0M2077.4 120.6h0M2084.1 121.7h0M2091.1 119.3h0M1656.8 98.3h0M1645.4 104.8h0M1632.9 108.7h0M1638.6 109.9h0M1638.6 114.2h0M1653.1 107.3h0M1659.7 109h0M1728.6 78.7h0M1702.6 98.3h0M1710.8 98.6h0M1713.4 97.8h0M1707.3 106.1h0M1720.3 105.9h0M1721.1 109h0M1727.2 109.9h0M1723.7 112.5h0M1699.5 109.9h0M1802.5 58.8h0M1775.6 80.8h0M1781.7 83.4h0M1796.7 78.4h0M1802.5 88.2h0M1770.4 95.7h0M1803.3 96.5h0M1786.5 102.6h0M1801.6 102.9h0M1805.1 102.9h0M1774.8 108.1h0M1781.7 109.9h0M1795.5 116.8h0M1773.9 117.6h0M1839.3 91.2h0M1839.7 107.3h0M1840.4 90.8h0M1846.8 103.8h0M1840.4 106.1h0M1851.7 108.1h0M1846 110.7h0M1857.2 105h0M1841.6 115.1h0M1855.5 114.2h0M1893.5 88.8h0M1891.3 96.4h0M1908.6 99.8h0M1894.4 104.3h0M1886.3 109.9h0M1898.4 110.4h0M1904.8 105.2h0M1892.7 108.1h0M1904.8 112.5h0M1942.8 85.6h0M1942.8 85.6h0M1959.3 89.3h0M1952.7 98.6h0M1957.5 106.4h0M1938 105h0M1951.5 109h0M1942 111.6h0M1953.2 112.5h0M1987.3 90.5h0M1994.4 96h0M1990.4 100.3h0M1988.7 105.9h0M2006 106.1h0M1996.5 110.7h0M2001.7 112.5h0M2003.4 117.6h0M2038 96.4h0M2049.2 105.2h0M2032.5 109.9h0M2040.6 112.1h0M2036.3 115.9h0M2046.6 114.2h0M2078.1 81h0M2083.8 91.2h0M2076.1 99.8h0M2083.8 98.6h0M2096 100h0M2087.8 104.7h0M2076.1 108.5h0M2079.5 109.9h0M2084.7 112.5h0M2097.7 105.5h0M2097.7 110.7h0M2174.2 77.3h0M2160 91.7h0M2158.2 97.8h0M2170.9 99.7h0M2146.1 105.5h0M2164.3 109.9h0M2174.7 111.6h0M2178.1 112.5h0M2122.8 117.6h0M2154.8 121.1h0M2165.2 123.2h0" stroke="#bebebe" stroke-width="4.4" stroke-linecap="round" fill="none"/>
<path d="M2123 135.7h0M2123.7 137.2h0M2132.6 140.8h0M2139.7 122h0M2138.8 126h0M2138.3 135.3h0M2140.8 139.9h0M2144 134.8h0M2147.9 131.4h0M2146.1 135.6h0M2147.1 140.5h0M2149.8 138.3h0M2152.6 133.6h0M2152.7 138.8h0M2160 132.3h0M2160.3 139.8h0M2160.3 143.8h0M2175.5 124.1h0M2174.9 134.1h0" stroke="#c4c4c4" stroke-width="3.8" stroke-linecap="round" fill="none"/>
<path d="M2123 164.4h0M2125.1 140.9h0M2124.2 144.5h0M2124.4 152.5h0M2126.8 143.8h0M2126.9 147.6h0M2128.7 143.4h0M2132.9 149.9h0M2133.9 153.9h0M2132.9 162.2h0M2136.4 143.3h0M2139.2 154.9h0M2138.3 159.1h0M2141.1 158.6h0M2141.2 168.5h0M2145.2 148h0M2147.3 145.5h0M2149.2 163h0M2152.9 143.6h0M2153.3 153.3h0M2157.1 155.2h0M2156.1 158.8h0M2161.1 148.3h0M2159.1 151.9h0M2162.3 151.5h0M2166.4 150.4h0M2166.7 158.5h0M2166 163.7h0M2169.5 145.8h0M2170.2 154.5h0M2173.7 156.5h0M2175.3 138.6h0M2175 142.7h0M2175.6 159.6h0" stroke="#5a5a5a" stroke-width="3" stroke-linecap="round" fill="none"/>
<path d="M2122.1 169.1h0M2122.3 178.4h0M2124.7 157.3h0M2125.5 164.9h0M2127.9 152h0M2126.2 156.8h0M2130.7 134.5h0M2128.8 151.3h0M2134.1 165.7h0M2134.1 146.7h0M2138.6 144.6h0M2138.9 164.1h0M2144 143.8h0M2143.2 151.7h0M2146.4 150.9h0M2146.8 178.7h0M2152.7 148.7h0M2154.6 161.9h0M2161 163.9h0M2163.5 161.2h0M2168.5 169.8h0M2172 148.8h0M2171.6 159.6h0M2172.8 163.8h0M2175.8 165h0" stroke="#c4c4c4" stroke-width="3" stroke-linecap="round" fill="none"/>
<path d="M2124.1 133.2h0M2126.8 120.3h0M2126.6 124h0M2128.4 109.7h0M2132.7 132.4h0M2136.1 129.1h0M2134.1 134.5h0M2134.4 138.1h0M2138.7 130.3h0M2142.3 126.9h0M2142.2 130.8h0M2141.5 135.1h0M2149.6 129.5h0M2150.9 143.2h0M2152.9 129.6h0M2156.6 138.1h0M2163.2 133.9h0M2161.8 137.9h0M2165.7 134.8h0M2164.9 145.5h0M2169.8 130.8h0M2169.2 140.5h0M2173.3 128.7h0M2172.4 137.7h0M2175.9 127.3h0M2175 130.5h0" stroke="#5a5a5a" stroke-width="3.8" stroke-linecap="round" fill="none"/>
<path d="M2177.8 131.8h0M2177.9 137.4h0M2178.2 143.3h0M2178.1 148.7h0M2178.1 159.5h0M2177.9 168.9h0M2177.8 173.8h0M2177.7 183.6h0M2177.7 188.6h0" stroke="#6a6a6a" stroke-width="4.2" stroke-linecap="round" fill="none"/>
<path d="M2178.1 153.6h0M2178.1 164.1h0M2177.7 178.3h0M2178.2 193.8h0M2177.9 198.3h0M2178.1 203.6h0" stroke="#cfcfcf" stroke-width="4.2" stroke-linecap="round" fill="none"/>
<path d="M1590.7 80.4h0M1590.4 82.6h0M1591 84.8h0M1590.4 87h0M1589.8 89.2h0M1591.2 91.4h0M1590.1 93.6h0M1590.7 95.8h0M1590.8 98h0M1591.2 100.2h0M1591 102.4h0M1590.3 104.6h0M1590.1 106.8h0M1590.2 109h0M1591.3 83.8h0M1591.2 86h0M1591.2 88.2h0M1591.3 90.4h0M1591 92.6h0M1591.2 94.8h0M1592.3 97h0M1591.1 99.2h0M1591.3 101.4h0M1591.9 103.6h0M1592.1 105.8h0M1592.4 108h0M1591.4 110.2h0M1691.3 104.6h0M1691.4 106.8h0M1692.3 109h0M1692.3 111.2h0M1691.8 113.4h0M1691.6 115.6h0M1691.7 117.8h0M1691.4 120h0M1757.4 85.5h0M1757.4 87.7h0M1756.9 89.9h0M1757.4 92.1h0M1756.9 94.3h0M1757.2 96.5h0M1756.7 98.7h0M1756.4 100.9h0M1756.5 103.1h0M1757.6 105.3h0M1757.2 107.5h0M1756.4 109.7h0M1756.6 111.9h0M1756.7 114.1h0M1757.3 116.3h0M1757 118.5h0M1757.2 120.7h0M1831.9 93.3h0M1830.8 95.5h0M1831.8 97.7h0M1832 99.9h0M1832 102.1h0M1830.8 104.3h0M1831.2 106.5h0M1830.7 108.7h0M1831.1 110.9h0M1831.1 113.1h0M1832 115.3h0M1831.2 117.5h0M1831 119.7h0M1831.7 93.3h0M1831.2 95.5h0M1831.6 97.7h0M1831.7 99.9h0M1830.9 102.1h0M1831.8 104.3h0M1831.2 106.5h0M1830.6 108.7h0M1830.6 110.9h0M1831.4 113.1h0M1831.2 115.3h0M1831.2 117.5h0M1831 119.7h0" stroke="#666666" stroke-width="4.8" stroke-linecap="round" fill="none"/>
<path d="M1942.5 88.1h0M1943.3 90.3h0M1942.6 92.5h0M1942.3 94.7h0M1942.9 96.9h0M1943.5 99.1h0M1942.4 101.3h0M1942.9 103.5h0" stroke="#bebebe" stroke-width="4.8" stroke-linecap="round" fill="none"/>
<rect x="1540" y="30.6" width="657.2" height="179.1" fill="none" stroke="#000" stroke-width="1.7"/>
<text x="1527.2" y="34.5" text-anchor="end">8</text>
<text x="1527.2" y="79.2" text-anchor="end">6</text>
<text x="1527.2" y="123.8" text-anchor="end">4</text>
<text x="1527.2" y="168.6" text-anchor="end">2</text>
<text x="1527.2" y="213.6" text-anchor="end">0</text>
<text x="1594.4" y="232.2" text-anchor="middle">1</text>
<text x="1649.3" y="232.2" text-anchor="middle">2</text>
<text x="1680.9" y="232.2" text-anchor="middle">3</text>
<text x="1714.9" y="232.2" text-anchor="middle">4</text>
<text x="1750.6" y="232.2" text-anchor="middle">5</text>
<text x="1788.6" y="232.2" text-anchor="middle">6</text>
<text x="1821" y="232.2" text-anchor="middle">7</text>
<text x="1846.3" y="232.2" text-anchor="middle">8</text>
<text x="1867.4" y="232.2" text-anchor="middle">9</text>
<text x="1893.4" y="232.2" text-anchor="middle">10</text>
<text x="1924.3" y="232.2" text-anchor="middle">11</text>
<text x="1948.5" y="232.2" text-anchor="middle">12</text>
<text x="1997" y="232.2" text-anchor="middle">14</text>
<text x="2021.5" y="232.2" text-anchor="middle">15</text>
<text x="2064.3" y="232.2" text-anchor="middle">17</text>
<text x="2087.5" y="232.2" text-anchor="middle">18</text>
<text x="2111.8" y="232.2" text-anchor="middle">19</text>
<path d="M1540 30.6h-7.5M1540 75.3h-7.5M1540 119.9h-7.5M1540 164.7h-7.5M1540 209.7h-7.5M1594.4 209.7v7.5M1649.3 209.7v7.5M1680.9 209.7v7.5M1714.9 209.7v7.5M1750.6 209.7v7.5M1788.6 209.7v7.5M1821 209.7v7.5M1846.3 209.7v7.5M1867.4 209.7v7.5M1893.4 209.7v7.5M1924.3 209.7v7.5M1948.5 209.7v7.5M1971.1 209.7v7.5M1997 209.7v7.5M2021.5 209.7v7.5M2042.3 209.7v7.5M2064.3 209.7v7.5M2087.5 209.7v7.5M2111.8 209.7v7.5" stroke="#000" stroke-width="1.7" fill="none"/>
<rect x="2122.9" y="209.7" width="56.3" height="7.5" fill="#000"/>
<text x="2135.4" y="232.2" text-anchor="middle">33</text>
<text x="2161.4" y="232.2" text-anchor="middle">294</text>
<text x="1868.6" y="256.9" text-anchor="middle" class="al">Chromosome</text>
<text transform="translate(1498.4 119.4) rotate(-90)" text-anchor="middle" class="yl">− log<tspan dy="2.2" font-size="7.6">10</tspan><tspan dy="-2.2">(</tspan><tspan font-style="italic">p</tspan>)</text>
</g>
<g class="m">
<rect x="1554.9" y="416.9" width="71.9" height="85.1" fill="#666666"/>
<path d="M1556.7 413.9V417.9M1557.9 409.9V417.9M1559.2 405.8V417.9M1560.4 405.3V417.9M1561.7 405.3V417.9M1562.9 406.2V417.9M1564.2 406.5V417.9M1565.4 406.8V417.9M1566.7 404.8V417.9M1567.9 404V417.9M1569.2 402.1V417.9M1570.4 400.7V417.9M1571.7 399.2V417.9M1572.9 397V417.9M1574.2 397.8V417.9M1575.4 400V417.9M1576.7 402.4V417.9M1577.9 405.6V417.9M1579.2 406.2V417.9M1580.4 406V417.9M1581.7 405.1V417.9M1582.9 403.9V417.9M1584.2 402.1V417.9M1585.4 399.8V417.9M1586.7 397.2V417.9M1587.9 394.3V417.9M1589.2 393V417.9M1590.4 395.3V417.9M1591.7 397.9V417.9M1592.9 400V417.9M1594.2 402.6V417.9M1595.4 404.2V417.9M1596.7 405.7V417.9M1597.9 407.8V417.9M1599.2 408.5V417.9M1600.4 406.7V417.9M1601.7 405.6V417.9M1602.9 404.5V417.9M1604.2 403.9V417.9M1605.4 403.2V417.9M1606.7 401.3V417.9M1607.9 398.9V417.9M1609.2 397.2V417.9M1610.4 398V417.9M1611.7 398.8V417.9M1612.9 399.8V417.9M1614.2 400V417.9M1615.4 399.9V417.9M1616.7 399.6V417.9M1617.9 398.4V417.9M1619.2 397.3V417.9M1620.4 397.8V417.9M1621.7 401.3V417.9M1622.9 404.3V417.9M1624.2 407.4V417.9M1625.4 410.1V417.9" stroke="#666666" stroke-width="4.4" stroke-linecap="round" fill="none"/>
<rect x="1626.6" y="416.3" width="36.4" height="85.7" fill="#bebebe"/>
<path d="M1628.4 403.9V417.3M1629.6 400.5V417.3M1630.9 397V417.3M1632.1 394.4V417.3M1633.4 394.6V417.3M1634.6 395.5V417.3M1635.9 396.3V417.3M1637.1 397.5V417.3M1638.4 393.9V417.3M1639.6 390.4V417.3M1640.9 386V417.3M1642.1 386.3V417.3M1643.4 391.5V417.3M1644.6 392.6V417.3M1645.9 386.9V417.3M1647.1 386.7V417.3M1648.4 398.9V417.3M1649.6 409V417.3M1650.9 410.1V417.3M1652.1 411.1V417.3M1653.4 412.6V417.3M1654.6 413.3V417.3M1655.9 409V417.3M1657.1 405.1V417.3M1658.4 401.5V417.3M1659.6 396.7V417.3M1660.9 399V417.3" stroke="#bebebe" stroke-width="4.4" stroke-linecap="round" fill="none"/>
<rect x="1662.8" y="410.9" width="31.3" height="91.1" fill="#666666"/>
<path d="M1664.6 407.9V411.9M1665.8 406.8V411.9M1667.1 404V411.9M1668.3 401.5V411.9M1669.6 398.1V411.9M1670.8 394.2V411.9M1672.1 391.2V411.9M1673.3 394.3V411.9M1674.6 395.9V411.9M1675.8 398.6V411.9M1677.1 400.2V411.9M1678.3 400.3V411.9M1679.6 400.4V411.9M1680.8 400.3V411.9M1682.1 399.6V411.9M1683.3 399.9V411.9M1684.6 399.7V411.9M1685.8 401.3V411.9M1687.1 402.2V411.9M1688.3 400.4V411.9M1689.6 396.5V411.9M1690.8 392.8V411.9M1692.1 389.3V411.9" stroke="#666666" stroke-width="4.4" stroke-linecap="round" fill="none"/>
<rect x="1693.9" y="406" width="35.6" height="96" fill="#bebebe"/>
<path d="M1695.7 393.2V407M1697 395.2V407M1698.2 395.1V407M1699.5 394.8V407M1700.7 393.9V407M1702 393.9V407M1703.2 394.9V407M1704.5 395.8V407M1705.7 395.6V407M1707 395.6V407M1708.2 395.4V407M1709.5 395.5V407M1710.7 395.1V407M1712 395.7V407M1713.2 397.7V407M1714.5 399.6V407M1715.7 400.6V407M1717 402.5V407M1718.2 402.7V407M1719.5 402.1V407M1720.7 402.1V407M1722 402.5V407M1723.2 403V407M1724.5 402.3V407M1725.7 401.9V407M1727 401V407M1728.2 400.2V407" stroke="#bebebe" stroke-width="4.4" stroke-linecap="round" fill="none"/>
<rect x="1729.4" y="411.5" width="36.4" height="90.5" fill="#666666"/>
<path d="M1731.2 402.1V412.5M1732.4 408.5V412.5M1733.7 404.4V412.5M1734.9 400.7V412.5M1736.2 398.6V412.5M1737.4 400.1V412.5M1738.7 401.1V412.5M1739.9 402.4V412.5M1741.2 402.9V412.5M1742.4 394.1V412.5M1743.7 386V412.5M1744.9 380.3V412.5M1746.2 379.9V412.5M1747.4 379.5V412.5M1748.7 382.7V412.5M1749.9 387.9V412.5M1751.2 393.3V412.5M1752.4 396.8V412.5M1753.7 399.1V412.5M1754.9 400.6V412.5M1756.2 396.2V412.5M1757.4 396.3V412.5M1758.7 400.6V412.5M1759.9 403.8V412.5M1761.2 403.5V412.5M1762.4 402.6V412.5M1763.7 402.4V412.5" stroke="#666666" stroke-width="4.4" stroke-linecap="round" fill="none"/>
<rect x="1765.6" y="419.2" width="42.1" height="82.8" fill="#bebebe"/>
<path d="M1767.4 397.1V420.2M1768.7 393.3V420.2M1769.9 391.9V420.2M1771.2 391.5V420.2M1772.4 391.9V420.2M1773.7 400V420.2M1774.9 408V420.2M1776.2 416.2V420.2M1777.4 414V420.2M1778.7 408.7V420.2M1779.9 403.6V420.2M1781.2 398.7V420.2M1782.4 398.1V420.2M1783.7 397V420.2M1784.9 396.2V420.2M1786.2 394.9V420.2M1787.4 395.8V420.2M1788.7 396.7V420.2M1789.9 398.5V420.2M1791.2 399.5V420.2M1792.4 398.1V420.2M1793.7 397.3V420.2M1794.9 396.3V420.2M1796.2 395.3V420.2M1797.4 393.8V420.2M1798.7 392.9V420.2M1799.9 390.9V420.2M1801.2 389.5V420.2M1802.4 390.3V420.2M1803.7 392.6V420.2M1804.9 395.2V420.2M1806.2 397.2V420.2" stroke="#bebebe" stroke-width="4.4" stroke-linecap="round" fill="none"/>
<rect x="1807.6" y="408.1" width="20.6" height="93.9" fill="#666666"/>
<path d="M1809.4 397.8V409.1M1810.6 402.1V409.1M1811.9 405.1V409.1M1813.1 400.4V409.1M1814.4 395.4V409.1M1815.6 391V409.1M1816.9 392V409.1M1818.1 393.5V409.1M1819.4 394.8V409.1M1820.6 395.1V409.1M1821.9 394.6V409.1M1823.1 392.7V409.1M1824.4 391.2V409.1M1825.6 391.2V409.1M1826.9 392.2V409.1" stroke="#666666" stroke-width="4.4" stroke-linecap="round" fill="none"/>
<rect x="1827.9" y="418.4" width="30" height="83.6" fill="#bebebe"/>
<path d="M1829.7 390.4V419.4M1831 396.9V419.4M1832.2 403.8V419.4M1833.5 401.6V419.4M1834.7 399.8V419.4M1836 397.9V419.4M1837.2 396.2V419.4M1838.5 397.7V419.4M1839.7 399.6V419.4M1841 401.4V419.4M1842.2 403.4V419.4M1843.5 401.9V419.4M1844.7 400.1V419.4M1846 398.3V419.4M1847.2 396.8V419.4M1848.5 399.2V419.4M1849.7 402.8V419.4M1851 406.1V419.4M1852.2 409.6V419.4M1853.5 412.2V419.4M1854.7 413.7V419.4M1856 415.4V419.4" stroke="#bebebe" stroke-width="4.4" stroke-linecap="round" fill="none"/>
<rect x="1857.7" y="410.5" width="17.2" height="91.5" fill="#666666"/>
<path d="M1859.5 407.5V411.5M1860.7 404.1V411.5M1862 401.2V411.5M1863.2 396.9V411.5M1864.5 398.9V411.5M1865.7 400.6V411.5M1867 402.3V411.5M1868.2 401.2V411.5M1869.5 400V411.5M1870.7 398.6V411.5M1872 397.1V411.5M1873.2 401.7V411.5" stroke="#666666" stroke-width="4.4" stroke-linecap="round" fill="none"/>
<rect x="1874.6" y="415.9" width="33" height="86.1" fill="#bebebe"/>
<path d="M1876.4 405.4V416.9M1877.7 405.5V416.9M1878.9 407V416.9M1880.2 409.7V416.9M1881.4 411.8V416.9M1882.7 412.9V416.9M1883.9 412.3V416.9M1885.2 410.8V416.9M1886.4 410.5V416.9M1887.7 410.6V416.9M1888.9 410.8V416.9M1890.2 409.7V416.9M1891.4 408.9V416.9M1892.7 408.2V416.9M1893.9 408.2V416.9M1895.2 407.6V416.9M1896.4 406.8V416.9M1897.7 401.9V416.9M1898.9 397.4V416.9M1900.2 395V416.9M1901.4 394.4V416.9M1902.7 394.7V416.9M1903.9 394.7V416.9M1905.2 398.9V416.9M1906.4 402.6V416.9" stroke="#bebebe" stroke-width="4.4" stroke-linecap="round" fill="none"/>
<rect x="1907.5" y="414" width="26.1" height="88" fill="#666666"/>
<path d="M1909.3 403.7V415M1910.5 403V415M1911.8 399.9V415M1913 397.6V415M1914.3 395.1V415M1915.5 393V415M1916.8 393.1V415M1918 393V415M1919.3 393V415M1920.5 394.6V415M1921.8 401.5V415M1923 408.3V415M1924.3 411V415M1925.5 406.4V415M1926.8 402.5V415M1928 398.4V415M1929.3 395.4V415M1930.5 395.6V415M1931.8 396V415" stroke="#666666" stroke-width="4.4" stroke-linecap="round" fill="none"/>
<rect x="1933.3" y="412.1" width="23.6" height="89.9" fill="#bebebe"/>
<path d="M1935.1 401.4V413.1M1936.4 403.9V413.1M1937.6 403.5V413.1M1938.9 402.5V413.1M1940.1 401.8V413.1M1941.4 401.4V413.1M1942.6 403.3V413.1M1943.9 405.4V413.1M1945.1 407.7V413.1M1946.4 409.1V413.1M1947.6 405.2V413.1M1948.9 400.2V413.1M1950.1 396.2V413.1M1951.4 394.8V413.1M1952.6 394.2V413.1M1953.9 394.5V413.1M1955.1 397.4V413.1" stroke="#bebebe" stroke-width="4.4" stroke-linecap="round" fill="none"/>
<rect x="1956.7" y="414.9" width="23.2" height="87.1" fill="#666666"/>
<path d="M1958.5 402.1V415.9M1959.8 400.2V415.9M1961 399.9V415.9M1962.3 400V415.9M1963.5 400.2V415.9M1964.8 401.2V415.9M1966 402.2V415.9M1967.3 402.8V415.9M1968.5 403.2V415.9M1969.8 406.1V415.9M1971 409.1V415.9M1972.3 411.7V415.9M1973.5 411.9V415.9M1974.8 404.4V415.9M1976 396.3V415.9M1977.3 390.5V415.9M1978.5 386.3V415.9" stroke="#666666" stroke-width="4.4" stroke-linecap="round" fill="none"/>
<rect x="1979.7" y="410.1" width="27.9" height="91.9" fill="#bebebe"/>
<path d="M1981.5 381.6V411.1M1982.7 384.6V411.1M1984 389.4V411.1M1985.2 394.1V411.1M1986.5 397.6V411.1M1987.7 401.2V411.1M1989 405.7V411.1M1990.2 407.1V411.1M1991.5 405.7V411.1M1992.7 404V411.1M1994 402.9V411.1M1995.2 402V411.1M1996.5 402.9V411.1M1997.7 404.1V411.1M1999 405.6V411.1M2000.2 406.2V411.1M2001.5 404.6V411.1M2002.7 401.3V411.1M2004 397.9V411.1M2005.2 395.3V411.1" stroke="#bebebe" stroke-width="4.4" stroke-linecap="round" fill="none"/>
<rect x="2007.3" y="414.1" width="21" height="87.9" fill="#666666"/>
<path d="M2009.1 407.4V415.1M2010.4 406.8V415.1M2011.6 405.6V415.1M2012.9 405.3V415.1M2014.1 405V415.1M2015.4 408.2V415.1M2016.6 411V415.1M2017.9 411.1V415.1M2019.1 407.1V415.1M2020.4 403.9V415.1M2021.6 399.7V415.1M2022.9 397.4V415.1M2024.1 397.2V415.1M2025.4 396.4V415.1M2026.6 398.4V415.1" stroke="#666666" stroke-width="4.4" stroke-linecap="round" fill="none"/>
<rect x="2028.1" y="411.9" width="21.6" height="90.1" fill="#bebebe"/>
<path d="M2029.9 404.6V412.9M2031.1 406.3V412.9M2032.4 405.5V412.9M2033.6 404.1V412.9M2034.9 403.4V412.9M2036.1 402.6V412.9M2037.4 402.8V412.9M2038.6 403.9V412.9M2039.9 403.8V412.9M2041.1 405.1V412.9M2042.4 406.5V412.9M2043.6 408V412.9M2044.9 408.9V412.9M2046.1 406.3V412.9M2047.4 404.2V412.9" stroke="#bebebe" stroke-width="4.4" stroke-linecap="round" fill="none"/>
<rect x="2049.4" y="405.8" width="23.2" height="96.2" fill="#666666"/>
<path d="M2051.2 396.9V406.8M2052.5 393.2V406.8M2053.7 389.7V406.8M2055 387.1V406.8M2056.2 384.4V406.8M2057.5 383.3V406.8M2058.7 382.1V406.8M2060 384.5V406.8M2061.2 395.4V406.8M2062.5 402.5V406.8M2063.7 399.6V406.8M2065 396.8V406.8M2066.2 394.7V406.8M2067.5 396.7V406.8M2068.7 399V406.8M2070 401.3V406.8M2071.2 402.8V406.8" stroke="#666666" stroke-width="4.4" stroke-linecap="round" fill="none"/>
<rect x="2072.4" y="411" width="24.4" height="91" fill="#bebebe"/>
<path d="M2074.2 402.8V412M2075.5 403.2V412M2076.7 404V412M2078 404V412M2079.2 404.1V412M2080.5 404.6V412M2081.7 406.1V412M2083 406.7V412M2084.2 408V412M2085.5 407.5V412M2086.7 406.7V412M2088 404.8V412M2089.2 403.9V412M2090.5 401.4V412M2091.7 397.9V412M2093 394.1V412M2094.2 394.8V412M2095.5 397.7V412" stroke="#bebebe" stroke-width="4.4" stroke-linecap="round" fill="none"/>
<rect x="2096.6" y="412.9" width="22.7" height="89.1" fill="#666666"/>
<path d="M2098.4 397.8V413.9M2099.6 395.6V413.9M2100.9 393.4V413.9M2102.1 391.6V413.9M2103.4 389.9V413.9M2104.6 394.3V413.9M2105.9 401.9V413.9M2107.1 409V413.9M2108.4 408.9V413.9M2109.6 409.4V413.9M2110.9 408.9V413.9M2112.1 409.4V413.9M2113.4 409.9V413.9M2114.6 409.4V413.9M2115.9 408.8V413.9M2117.1 408.6V413.9" stroke="#666666" stroke-width="4.4" stroke-linecap="round" fill="none"/>
<rect x="2119.2" y="414" width="59.5" height="88" fill="#8e8e8e"/>
<path d="M2119.8 414V502M2123.5 414V502M2127.2 414V502M2130.9 414V502M2134.6 414V502M2138.3 414V502M2142 414V502M2145.7 414V502M2149.4 414V502M2153.1 414V502M2156.8 414V502M2160.5 414V502M2164.2 414V502M2167.9 414V502M2171.6 414V502M2175.3 414V502" stroke="#727272" stroke-width="1.1" fill="none"/>
<path d="M2121.7 414V502M2125.4 414V502M2129.1 414V502M2132.8 414V502M2136.5 414V502M2140.2 414V502M2143.9 414V502M2147.6 414V502M2151.3 414V502M2155 414V502M2158.7 414V502M2162.4 414V502M2166.1 414V502M2169.8 414V502M2173.5 414V502M2177.2 414V502" stroke="#a8a8a8" stroke-width="0.9" fill="none"/>
<path d="M2120.5 407V416M2125.3 401.7V416M2127.7 405.5V416M2132.5 407V416M2134.9 406.5V416M2139.7 401V416M2142.1 398.7V416M2144.5 398.4V416M2146.9 396.1V416M2149.3 395.3V416M2154.1 401.9V416M2161.3 409V416M2163.7 410.3V416M2168.5 412.3V416M2170.9 406.8V416M2173.3 403.3V416M2175.7 402.9V416" stroke="#6a6a6a" stroke-width="2.6" fill="none"/>
<path d="M2122.9 403.5V416M2130.1 407.2V416M2137.3 403.8V416M2156.5 401.3V416M2158.9 403.3V416M2166.1 410.9V416M2178.1 409.6V416" stroke="#b8b8b8" stroke-width="2.6" fill="none"/>
<path d="M2151.7 402.2V416" stroke="#8e8e8e" stroke-width="2.6" fill="none"/>
<path d="M1559 402.7h0M1562.4 403.7h0M1565.1 405.4h0M1570.2 399h0M1575.1 399.3h0M1578 404.1h0M1582.4 400.4h0M1587 394.9h0M1590.2 394.1h0M1593.7 400.3h0M1596.3 402.9h0M1601.4 403.5h0M1605.2 400.7h0M1610.4 398.3h0M1613.4 396.4h0M1619.2 395.8h0M1623.6 404.9h0M1665.5 405h0M1668.8 400.1h0M1672.1 389.3h0M1675.1 395.1h0M1680.2 397.7h0M1685 398.2h0M1690.6 393.5h0M1731.9 403.4h0M1736.2 395.1h0M1741.7 399.6h0M1745.7 378.2h0M1749.4 383.8h0M1754.7 399.7h0M1759.6 401h0M1811.2 399.4h0M1814.2 392.9h0M1817.9 390.1h0M1821.6 390.5h0M1825.3 390.2h0M1861.4 397.9h0M1866.4 398.5h0M1870.3 398.8h0M1911.2 400.9h0M1914.4 392.5h0M1920.3 392.8h0M1925.1 406.7h0M1930.6 396.2h0M1959.8 400.2h0M1964.1 398.8h0M1966.8 399.5h0M1970 407.5h0M1973.1 412h0M1975.9 397.7h0M2011.3 407h0M2014.4 403.7h0M2019.5 402.8h0M2025.3 395.6h0M2052.8 393.5h0M2056.6 383.7h0M2060.4 388h0M2064.6 398.4h0M2070.5 400.7h0M2100.8 392.7h0M2104 391.2h0M2107.9 406.2h0M2110.8 406.9h0M2114.8 409.2h0" stroke="#5e5e5e" stroke-width="4.4" stroke-linecap="round" fill="none"/>
<path d="M1558.3 407.4h0M1563 405.8h0M1564.6 408.3h0M1568.8 401.8h0M1575.6 399.9h0M1591.5 395.6h0M1595.1 404h0M1595.5 405.7h0M1600 410.1h0M1606.1 406.5h0M1609.5 398.9h0M1612 400.5h0M1618.5 401.3h0M1625 408.1h0M1673.4 394.2h0M1675.2 399.8h0M1679.7 400.5h0M1683.7 404h0M1750.9 385.9h0M1755.1 403.1h0M1810.8 403.6h0M1813.3 397h0M1816.9 394.9h0M1824.7 393.8h0M1860 404.6h0M1866.6 403.1h0M1870.2 399.2h0M1911.2 404.6h0M1915 398.6h0M1921.6 395.1h0M1959 401h0M1964.6 403h0M1966.7 403h0M1970.8 410.1h0M1971.8 415.7h0M2012 409.9h0M2014.8 408.4h0M2018.5 406.8h0M2026.5 398.8h0M2064.9 400.6h0M2071 403h0M2116.2 409.8h0" stroke="#666666" stroke-width="4.4" stroke-linecap="round" fill="none"/>
<path d="M1561.3 391.2h0M1564.4 397.1h0M1569.2 397.4h0M1571.4 393.2h0M1577.2 396.4h0M1580.3 401.1h0M1586.7 390.8h0M1593.6 396.4h0M1599 399.3h0M1601.1 400.8h0M1604 397.2h0M1606.1 397.6h0M1611.5 387.2h0M1616.1 394.1h0M1620.6 393.9h0M1669.7 388.4h0M1672.5 384.7h0M1676.5 392.4h0M1679.2 388.9h0M1685.6 394h0M1733.8 396.8h0M1737.8 395.3h0M1743.6 380.3h0M1748.9 372.1h0M1755.6 391.5h0M1761 395.1h0M1811.3 392.6h0M1816.8 386.5h0M1818.8 379.3h0M1825 387h0M1862.7 387.7h0M1865.7 393.9h0M1915.3 384.8h0M1917.7 389.6h0M1920.8 383.1h0M1924.8 396.4h0M1960.4 393.6h0M1967.8 396.9h0M1971.9 402.6h0M1974.9 391.7h0M2021.5 394.3h0M2052.7 385.6h0M2057.5 378.6h0M2062.7 399.3h0M2067.3 386.1h0M2100.3 388.5h0M2105.7 391.2h0M2110.6 405.1h0M2113.5 404.6h0M1558.5 383.8h0M1558.5 388.1h0M1574.6 363h0M1575.5 370.8h0M1581 366.5h0M1585.3 366.5h0M1593.6 368.2h0M1610.4 364.3h0M1623 352.3h0M1623 364.8h0M1576.7 378.6h0M1583.6 380.3h0M1587.1 377.2h0M1573.2 385.5h0M1579.3 388.1h0M1592.2 383.8h0M1597.4 384.7h0M1601.8 380.3h0M1600 392.5h0M1603.5 392.5h0M1610.9 375.7h0M1611.3 382.1h0M1614.7 383.8h0M1619.9 383.3h0M1616.5 389h0M1590.5 390.7h0M1594.8 397.6h0M1624.3 394.2h0M1671 360.8h0M1678.8 361.3h0M1678.8 370.8h0M1671.8 383.8h0M1676.2 384.7h0M1679.6 383.8h0M1683.1 384.3h0M1673.6 390.7h0M1687.4 389.9h0M1693.8 378.6h0M1693.8 383.8h0M1689.1 390.7h0M1749.7 345.4h0M1749.7 347.5h0M1756.1 354.4h0M1762.3 360.4h0M1747.1 363.6h0M1749.7 364.4h0M1756.6 364.8h0M1756.6 364.8h0M1740.2 373.8h0M1747.1 374.3h0M1764.4 378.6h0M1737.6 391.6h0M1762.7 390.7h0M1766.1 392.5h0M1761.8 395.1h0M1824.1 373.9h0M1826.7 376.9h0M1816.3 381.2h0M1820.6 384.7h0M1830.1 380.3h0M1830.1 385.5h0M1824.3 373.9h0M1826.9 376.9h0M1820.9 384.7h0M1830.4 380.3h0M1830.4 385.5h0M1831.2 392.5h0M1864.6 372.9h0M1864.6 375.2h0M1870.5 379.5h0M1864.6 380.9h0M1864.6 385.5h0M1861.5 389.3h0M1873.6 392.5h0M1870.2 394.2h0M1876.2 399.4h0M1929 374.3h0M1928.7 380.3h0M1932.5 382.9h0M1911.2 388.7h0M1919.5 389h0M1910.8 397.6h0M1934.2 392.5h0M1930.7 392.5h0M1977.8 363h0M1963.9 385.5h0M1974.8 388.5h0M1961 390.7h0M1968.3 393.3h0M1972.2 395.9h0M1973.1 402.8h0M1963.6 399.4h0M1978.3 383.8h0M2026.4 371.7h0M2026.4 374.8h0M2010 378.3h0M2012 386.9h0M2012.6 389.9h0M2025 387.8h0M2011.7 394.2h0M2012.9 397.6h0M2056.5 337.6h0M2056.5 350.1h0M2065.2 353.2h0M2056.5 367.7h0M2067.8 369.4h0M2056.5 372.6h0M2060.5 374.8h0M2067.8 376h0M2067.8 379.5h0M2056.2 379.5h0M2065.7 384.3h0M2059.6 383.8h0M2066.5 390.7h0M2072.6 395.9h0M2113.3 345.4h0M2104.3 349.6h0M2100.3 372.9h0M2103.7 374.3h0M2112.4 379.8h0M2118.1 379.5h0M2114.1 385.2h0M2102.5 385h0M2121.9 389.3h0M2116.7 390.7h0M2103.7 390.7h0M2111.2 396.8h0M2114.1 399.4h0M2119.3 397.6h0M2150.4 372.6h0M2139.2 376h0M2155.6 377.2h0M2154.8 383.8h0M2174.7 385.5h0M2172.1 388.1h0M2144.4 388.7h0M2130.6 393.3h0M2148.7 392.5h0M2159.1 395.9h0M2153 398.5h0M2175.5 400.2h0M2126.2 399.4h0" stroke="#4d4d4d" stroke-width="4.4" stroke-linecap="round" fill="none"/>
<path d="M1629.6 399h0M1629 403.4h0M1634.1 392.4h0M1634 396.5h0M1639.5 389.8h0M1638.2 391.6h0M1642.8 386.5h0M1643.4 389.8h0M1647.2 384.6h0M1646.2 389h0M1651.9 410.7h0M1650.8 411.1h0M1657.5 401.9h0M1660.9 397.5h0M1661.5 401.2h0M1633.1 390.3h0M1644.7 383h0M1648.7 394.6h0M1651.6 400h0M1656.8 401.8h0M1697.6 392.7h0M1696.5 396.1h0M1701.7 392.3h0M1702.8 394.1h0M1707.2 396.1h0M1706.1 397.7h0M1710 392.7h0M1713.1 396.3h0M1714.6 398.6h0M1717.5 401.7h0M1718.8 403.2h0M1720.4 402.5h0M1719 406.4h0M1725.1 399.6h0M1725.8 402.3h0M1699.8 384.6h0M1706.1 390.7h0M1711.1 388.8h0M1721.9 397h0M1769.8 392.4h0M1775.5 411.5h0M1780 399.8h0M1781.3 401.9h0M1783.9 393.9h0M1784.8 395.9h0M1788 395.1h0M1787.9 398.6h0M1793.9 396.9h0M1797.1 391.1h0M1800.8 389.4h0M1801.4 393h0M1803.6 392.7h0M1802.9 394.7h0M1769 389h0M1771.1 387.4h0M1774.3 395.4h0M1779.3 399.8h0M1784.7 380.8h0M1787.6 390.1h0M1793.9 391.1h0M1801.8 380.3h0M1830.9 397.2h0M1829.6 400h0M1833.7 400.3h0M1838 394.2h0M1841.4 400.8h0M1846.4 398.5h0M1852.3 410.6h0M1836.1 394h0M1841.6 397.8h0M1845.5 393h0M1850 392.7h0M1878.6 407.4h0M1881.7 409.4h0M1881.5 414.2h0M1887.6 410.3h0M1892.7 406.4h0M1893.6 410.9h0M1896.9 405.6h0M1900.4 392.6h0M1905.3 396.8h0M1880.1 396h0M1885.8 406.9h0M1892.4 403.1h0M1897.4 397.5h0M1899.8 390.5h0M1937.4 400.9h0M1941.1 399.4h0M1942.4 401.7h0M1944.6 404.3h0M1949.6 395.2h0M1950.9 399.5h0M1952.5 393.5h0M1951.5 396h0M1940.8 396.4h0M1945.2 402.5h0M1949.7 393.8h0M1983.1 386.2h0M1982.6 387.5h0M1987.4 401.3h0M1987.4 403.8h0M1990.8 403.4h0M1991.6 407.7h0M1996.6 400.3h0M1997.5 406.5h0M2000.7 403.6h0M2003.6 397.2h0M2002.9 402.4h0M1985.3 383.6h0M1992.4 394.4h0M1997.8 395.8h0M2003.3 394.3h0M2030.8 404.2h0M2030 409.5h0M2034.4 403.3h0M2034.6 405.6h0M2037.3 401.7h0M2041 404.2h0M2041.3 404.2h0M2046.4 404.2h0M2046.8 407.5h0M2036.2 391.9h0M2046.1 400.5h0M2075.5 401.7h0M2080 404h0M2080.4 405.2h0M2085.5 405.2h0M2091 399.1h0M2094.5 393.7h0M2094.9 397.7h0M2077.8 396.6h0M2087.2 397.8h0M2090.6 395.9h0M1661.5 344.9h0M1656.3 368.6h0M1631.7 373.4h0M1632 378.6h0M1637.2 379.5h0M1640.7 376.9h0M1646.7 376.5h0M1657.1 384.7h0M1661.5 385.5h0M1651.9 389.3h0M1631.7 389.9h0M1660.6 392.5h0M1713 364.8h0M1724.6 364.8h0M1730.7 364.8h0M1730.7 364.8h0M1704.7 370h0M1701.2 373.4h0M1714.2 370h0M1714.2 373.4h0M1701.2 380.9h0M1710.8 379.5h0M1713.4 383.8h0M1720.3 383.8h0M1723.7 386.1h0M1709 388.1h0M1784.3 354.4h0M1785.2 357h0M1784.3 363.9h0M1771.3 370h0M1771.3 375.2h0M1781.7 370h0M1786.9 370h0M1792.1 370h0M1801.6 374.8h0M1794.7 378.6h0M1794.7 381.2h0M1785.2 381.2h0M1783.4 384.7h0M1789.5 389h0M1801.6 384.7h0M1809.4 385.9h0M1809.4 389h0M1809.4 395.1h0M1833.6 376h0M1837.9 382.9h0M1849.1 365.6h0M1833.5 376h0M1842.5 379.1h0M1838.2 382.1h0M1849.1 384.3h0M1839 389.9h0M1848.5 391.6h0M1833 392.5h0M1859.8 402.8h0M1903.9 349.2h0M1903.9 360.4h0M1903.9 362.2h0M1881.8 370.8h0M1884.9 377.4h0M1903.9 373.9h0M1903.9 380.3h0M1878.8 389.9h0M1898.7 390.7h0M1884 399.4h0M1951.5 347.5h0M1951.5 358.4h0M1958.1 367h0M1951.5 365.6h0M1951.5 365.6h0M1944.9 380.9h0M1939.4 385.5h0M1942 389h0M1983.5 330.7h0M1983.1 352.7h0M1983.5 363h0M1983.5 366.5h0M1983.5 373.4h0M2002.9 360.4h0M2002.9 375.7h0M2003.4 379.5h0M1991.3 385.9h0M1997.3 389h0M1990.4 393.3h0M2003.4 389h0M2006 395.1h0M2001.7 399.4h0M2038 374.3h0M2041.8 378.3h0M2040.6 382.6h0M2048.4 383.5h0M2032.8 389h0M2040.6 389.5h0M2036.3 392.5h0M2093.4 366h0M2093.4 368.2h0M2093.4 375.2h0M2093.7 380h0M2076.1 378.6h0M2078.7 381.2h0M2089 383.8h0M2083 385.5h0M2077.8 389h0M2094.2 388.7h0M2144.9 368.2h0M2141.3 379h0M2146.1 376.4h0M2163.9 384.3h0M2177.3 382.4h0M2167.8 388.1h0M2134 389.9h0M2166 393.7h0M2138.3 395.1h0" stroke="#bebebe" stroke-width="4.4" stroke-linecap="round" fill="none"/>
<path d="M2121.4 406.2h0M2129.7 418.6h0M2133.4 406.5h0M2131.5 415.3h0M2136.4 407.9h0M2137 415.2h0M2144.3 409.8h0M2148.5 397.6h0M2149.9 408.4h0M2154 402.5h0M2156.5 415.5h0M2158.1 403.3h0M2160 414.7h0M2160.3 408.9h0M2161.4 413.2h0M2164.8 416.3h0M2166.3 415.4h0M2172.6 406.4h0M2172 414.6h0M2176.9 409.6h0" stroke="#c4c4c4" stroke-width="3.8" stroke-linecap="round" fill="none"/>
<path d="M2120.6 434.8h0M2123.7 445.5h0M2126.5 425.2h0M2130.6 422.4h0M2129 434.1h0M2130 437.3h0M2133.2 425.2h0M2132.4 429.2h0M2136.4 424.5h0M2138.9 424.4h0M2138.8 427.9h0M2139.7 431h0M2141.6 420.8h0M2141 426.1h0M2143.9 413.8h0M2144 440.4h0M2147.5 415.1h0M2150.1 417.1h0M2156.2 419.7h0M2157.9 419.6h0M2164.6 436.5h0M2167.7 439.4h0M2167.6 448.2h0M2165.7 452.3h0M2170.9 444.8h0M2174 421.4h0M2172.4 433.2h0M2172.9 451.4h0M2175.3 422.5h0M2176.8 427.3h0M2175.8 432h0" stroke="#5a5a5a" stroke-width="3" stroke-linecap="round" fill="none"/>
<path d="M2124.4 403.8h0M2124.4 409.3h0M2127.2 407.8h0M2133.7 419.8h0M2135.1 412.1h0M2139.7 400.5h0M2142.1 401.3h0M2141.2 404.5h0M2141.4 408.9h0M2141.1 412.1h0M2143.7 397.8h0M2144.6 401.4h0M2143.1 406.2h0M2146.7 400.1h0M2148.7 400.8h0M2149.5 404h0M2153.2 407.5h0M2155 401.9h0M2155.9 405.7h0M2156 410.8h0M2159.3 407.5h0M2161.4 405.2h0M2163.7 411.3h0M2163.4 419.4h0M2164.7 423.6h0M2167.5 418.7h0M2168 422.8h0M2170.2 422.5h0M2172 410.6h0M2173.5 418.1h0M2177.5 405.1h0M2176.6 417.2h0" stroke="#5a5a5a" stroke-width="3.8" stroke-linecap="round" fill="none"/>
<path d="M2124 434.1h0M2127.8 432h0M2136.5 433h0M2139.2 435.1h0M2140.8 439.3h0M2144 421.8h0M2144.1 426.9h0M2148.9 412h0M2148.8 430.1h0M2154 420.8h0M2162.1 421.9h0M2162.1 428.9h0M2161.2 439.7h0M2164.1 428.8h0M2167.5 443.6h0M2170.6 441.2h0" stroke="#c4c4c4" stroke-width="3" stroke-linecap="round" fill="none"/>
<path d="M2177.2 410.4h0M2177.6 415h0M2177.3 418.3h0M2177.2 421.9h0M2177.6 425.2h0M2177.2 429.3h0M2177.2 438.2h0M2177.1 451.4h0M2177.1 455.3h0M2177.6 459.2h0M2177.2 465.1h0M2176.9 468.7h0M2177.6 474.7h0M2177.3 479.1h0M2177 483.6h0M2177.2 488.5h0M2177.5 499.5h0" stroke="#6a6a6a" stroke-width="4.2" stroke-linecap="round" fill="none"/>
<path d="M2177.7 433.6h0M2177.4 443.9h0M2177.3 448h0M2177.4 492.8h0M2177.3 496.2h0" stroke="#cfcfcf" stroke-width="4.2" stroke-linecap="round" fill="none"/>
<path d="M1730.3 367.3h0M1730.6 369.5h0M1731.2 371.7h0M1730.8 373.9h0M1731 376.1h0M1730.6 378.3h0M1730.9 380.5h0M1730.1 382.7h0M1730.6 384.9h0M1730.6 387.1h0M1731.2 389.3h0M1730.2 391.5h0M1731.2 393.7h0M1730.5 395.9h0M1904.5 382.8h0M1904.6 385h0M1903.7 387.2h0M1903.7 389.4h0M1903.4 391.6h0M1904.1 393.8h0M1904.5 396h0M1903.9 398.2h0M1904.1 400.4h0M1951.3 368.1h0M1951.8 370.3h0M1951.3 372.5h0M1951.9 374.7h0M1952 376.9h0M1952 379.1h0M1951.3 381.3h0M1951.2 383.5h0M1950.9 385.7h0M1952.1 387.9h0M1951.4 390.1h0" stroke="#bebebe" stroke-width="4.8" stroke-linecap="round" fill="none"/>
<path d="M1756.9 367.3h0M1756.3 369.5h0M1756.3 371.7h0M1756 373.9h0M1757.2 376.1h0M1755.9 378.3h0M1756.5 380.5h0M1756.6 382.7h0M1756 384.9h0M1757.2 387.1h0M1756.7 389.3h0M1757 391.5h0M1756.6 393.7h0M1756.4 395.9h0" stroke="#666666" stroke-width="4.8" stroke-linecap="round" fill="none"/>
<rect x="1539" y="324.1" width="657.6" height="177.9" fill="none" stroke="#000" stroke-width="1.7"/>
<text x="1526.2" y="328" text-anchor="end">7</text>
<text x="1526.2" y="353.5" text-anchor="end">6</text>
<text x="1526.2" y="378.7" text-anchor="end">5</text>
<text x="1526.2" y="404.1" text-anchor="end">4</text>
<text x="1526.2" y="429.6" text-anchor="end">3</text>
<text x="1526.2" y="455.2" text-anchor="end">2</text>
<text x="1526.2" y="480.6" text-anchor="end">1</text>
<text x="1526.2" y="505.9" text-anchor="end">0</text>
<text x="1593.4" y="524.5" text-anchor="middle">1</text>
<text x="1648.3" y="524.5" text-anchor="middle">2</text>
<text x="1680" y="524.5" text-anchor="middle">3</text>
<text x="1714" y="524.5" text-anchor="middle">4</text>
<text x="1749.7" y="524.5" text-anchor="middle">5</text>
<text x="1787.8" y="524.5" text-anchor="middle">6</text>
<text x="1820.1" y="524.5" text-anchor="middle">7</text>
<text x="1845.5" y="524.5" text-anchor="middle">8</text>
<text x="1866.6" y="524.5" text-anchor="middle">9</text>
<text x="1892.6" y="524.5" text-anchor="middle">10</text>
<text x="1923.6" y="524.5" text-anchor="middle">11</text>
<text x="1947.7" y="524.5" text-anchor="middle">12</text>
<text x="1996.2" y="524.5" text-anchor="middle">14</text>
<text x="2020.8" y="524.5" text-anchor="middle">15</text>
<text x="2063.6" y="524.5" text-anchor="middle">17</text>
<text x="2086.8" y="524.5" text-anchor="middle">18</text>
<text x="2111.1" y="524.5" text-anchor="middle">19</text>
<path d="M1539 324.1h-7.5M1539 349.6h-7.5M1539 374.8h-7.5M1539 400.2h-7.5M1539 425.7h-7.5M1539 451.3h-7.5M1539 476.7h-7.5M1539 502h-7.5M1593.4 502v7.5M1648.3 502v7.5M1680 502v7.5M1714 502v7.5M1749.7 502v7.5M1787.8 502v7.5M1820.1 502v7.5M1845.5 502v7.5M1866.6 502v7.5M1892.6 502v7.5M1923.6 502v7.5M1947.7 502v7.5M1970.4 502v7.5M1996.2 502v7.5M2020.8 502v7.5M2041.6 502v7.5M2063.6 502v7.5M2086.8 502v7.5M2111.1 502v7.5" stroke="#000" stroke-width="1.7" fill="none"/>
<rect x="2122.2" y="502" width="56.3" height="7.5" fill="#000"/>
<text x="2134.8" y="524.5" text-anchor="middle">33</text>
<text x="2160.8" y="524.5" text-anchor="middle">294</text>
<text x="1867.8" y="549.5" text-anchor="middle" class="al">Chromosome</text>
<text transform="translate(1497 413.2) rotate(-90)" text-anchor="middle" class="yl">− log<tspan dy="2.2" font-size="7.6">10</tspan><tspan dy="-2.2">(</tspan><tspan font-style="italic">p</tspan>)</text>
</g>
<g class="m">
<rect x="1553.7" y="765.2" width="71.9" height="21.4" fill="#666666"/>
<path d="M1555.5 762.2V766.2M1556.7 755.8V766.2M1558 753.2V766.2M1559.2 750.7V766.2M1560.5 749.6V766.2M1561.7 749.2V766.2M1563 748.1V766.2M1564.2 747.3V766.2M1565.5 747.3V766.2M1566.7 748.2V766.2M1568 748.3V766.2M1569.2 748.7V766.2M1570.5 748.8V766.2M1571.7 748.8V766.2M1573 748.9V766.2M1574.2 749.1V766.2M1575.5 748.1V766.2M1576.7 746.2V766.2M1578 744.3V766.2M1579.2 744.3V766.2M1580.5 744.9V766.2M1581.7 745.7V766.2M1583 746.4V766.2M1584.2 747.8V766.2M1585.5 748.9V766.2M1586.7 750.4V766.2M1588 751.4V766.2M1589.2 752.2V766.2M1590.5 752.2V766.2M1591.7 752.5V766.2M1593 752.5V766.2M1594.2 752.4V766.2M1595.5 751.9V766.2M1596.7 751.4V766.2M1598 749.7V766.2M1599.2 748.4V766.2M1600.5 747.2V766.2M1601.7 747.1V766.2M1603 747.7V766.2M1604.2 748.3V766.2M1605.5 748.3V766.2M1606.7 748.9V766.2M1608 748.1V766.2M1609.2 747.8V766.2M1610.5 747V766.2M1611.7 747.5V766.2M1613 748V766.2M1614.2 748.9V766.2M1615.5 749.4V766.2M1616.7 750.4V766.2M1618 750.1V766.2M1619.2 749.6V766.2M1620.5 748.8V766.2M1621.7 748.6V766.2M1623 747.8V766.2M1624.2 747.7V766.2" stroke="#666666" stroke-width="4.4" stroke-linecap="round" fill="none"/>
<rect x="1625.4" y="757.9" width="36.4" height="28.7" fill="#bebebe"/>
<path d="M1627.2 748.1V758.9M1628.4 748.9V758.9M1629.7 749.3V758.9M1630.9 750.1V758.9M1632.2 750.7V758.9M1633.4 751.6V758.9M1634.7 752.3V758.9M1635.9 753V758.9M1637.2 753.9V758.9M1638.4 753.1V758.9M1639.7 751.6V758.9M1640.9 750V758.9M1642.2 748.9V758.9M1643.4 749.2V758.9M1644.7 749.8V758.9M1645.9 750.1V758.9M1647.2 750.1V758.9M1648.4 749.5V758.9M1649.7 747.8V758.9M1650.9 745.2V758.9M1652.2 747.3V758.9M1653.4 749.6V758.9M1654.7 752.3V758.9M1655.9 754.9V758.9M1657.2 754.2V758.9M1658.4 751.3V758.9M1659.7 748.5V758.9" stroke="#bebebe" stroke-width="4.4" stroke-linecap="round" fill="none"/>
<rect x="1661.6" y="757.4" width="31.3" height="29.2" fill="#666666"/>
<path d="M1663.4 746.8V758.4M1664.6 748V758.4M1665.9 749.5V758.4M1667.1 751.1V758.4M1668.4 752.7V758.4M1669.6 753.1V758.4M1670.9 753.4V758.4M1672.1 753.7V758.4M1673.4 754.4V758.4M1674.6 753.7V758.4M1675.9 752.3V758.4M1677.1 752V758.4M1678.4 751.1V758.4M1679.6 750.2V758.4M1680.9 749.3V758.4M1682.1 748.5V758.4M1683.4 747.2V758.4M1684.6 747.1V758.4M1685.9 747.5V758.4M1687.1 747.8V758.4M1688.4 748.8V758.4M1689.6 749.6V758.4M1690.9 751.6V758.4" stroke="#666666" stroke-width="4.4" stroke-linecap="round" fill="none"/>
<rect x="1692.7" y="756.8" width="35.6" height="29.8" fill="#bebebe"/>
<path d="M1694.5 752.8V757.8M1695.8 752.2V757.8M1697 752.2V757.8M1698.3 752.7V757.8M1699.5 752.1V757.8M1700.8 751.4V757.8M1702 750.3V757.8M1703.3 750.1V757.8M1704.5 749.1V757.8M1705.8 750V757.8M1707 751.6V757.8M1708.3 752.3V757.8M1709.5 753.8V757.8M1710.8 753.6V757.8M1712 753.5V757.8M1713.3 752.8V757.8M1714.5 752.5V757.8M1715.8 752.2V757.8M1717 752V757.8M1718.3 750V757.8M1719.5 748.5V757.8M1720.8 746.6V757.8M1722 745.1V757.8M1723.3 744.4V757.8M1724.5 743.6V757.8M1725.8 743.2V757.8M1727 742.3V757.8" stroke="#bebebe" stroke-width="4.4" stroke-linecap="round" fill="none"/>
<rect x="1728.2" y="759.4" width="36.4" height="27.2" fill="#666666"/>
<path d="M1730 751.4V760.4M1731.2 753.2V760.4M1732.5 750.8V760.4M1733.7 748.2V760.4M1735 746.9V760.4M1736.2 746.3V760.4M1737.5 746.3V760.4M1738.7 745.7V760.4M1740 746.1V760.4M1741.2 746.7V760.4M1742.5 747.5V760.4M1743.7 748.3V760.4M1745 748.7V760.4M1746.2 748.6V760.4M1747.5 747.8V760.4M1748.7 747.2V760.4M1750 748.2V760.4M1751.2 752.1V760.4M1752.5 755.8V760.4M1753.7 756.4V760.4M1755 754.4V760.4M1756.2 752.6V760.4M1757.5 750V760.4M1758.7 748.9V760.4M1760 749.2V760.4M1761.2 750.2V760.4M1762.5 750.2V760.4" stroke="#666666" stroke-width="4.4" stroke-linecap="round" fill="none"/>
<rect x="1764.4" y="756.7" width="42.1" height="29.9" fill="#bebebe"/>
<path d="M1766.2 752.2V757.7M1767.5 748.4V757.7M1768.7 746.5V757.7M1770 746.6V757.7M1771.2 745.9V757.7M1772.5 745.4V757.7M1773.7 747.3V757.7M1775 748.8V757.7M1776.2 750.9V757.7M1777.5 751.9V757.7M1778.7 751.3V757.7M1780 750.5V757.7M1781.2 749.6V757.7M1782.5 748.8V757.7M1783.7 749.9V757.7M1785 751.6V757.7M1786.2 752.4V757.7M1787.5 753.7V757.7M1788.7 753.4V757.7M1790 752.5V757.7M1791.2 752.2V757.7M1792.5 751.5V757.7M1793.7 751V757.7M1795 750V757.7M1796.2 749.8V757.7M1797.5 748.7V757.7M1798.7 748.2V757.7M1800 747.1V757.7M1801.2 746.9V757.7M1802.5 745.7V757.7M1803.7 745.3V757.7M1805 745.2V757.7" stroke="#bebebe" stroke-width="4.4" stroke-linecap="round" fill="none"/>
<rect x="1806.4" y="756.8" width="20.6" height="29.8" fill="#666666"/>
<path d="M1808.2 746.7V757.8M1809.4 746.8V757.8M1810.7 748.1V757.8M1811.9 748.4V757.8M1813.2 749.7V757.8M1814.4 751V757.8M1815.7 752.4V757.8M1816.9 753.8V757.8M1818.2 753.8V757.8M1819.4 753V757.8M1820.7 751.9V757.8M1821.9 752.3V757.8M1823.2 751V757.8M1824.4 750.3V757.8M1825.7 749.2V757.8" stroke="#666666" stroke-width="4.4" stroke-linecap="round" fill="none"/>
<rect x="1826.7" y="756.8" width="30" height="29.8" fill="#bebebe"/>
<path d="M1828.5 747.9V757.8M1829.8 747.4V757.8M1831 747.9V757.8M1832.3 748.6V757.8M1833.5 749.7V757.8M1834.8 751.3V757.8M1836 751.6V757.8M1837.3 751.1V757.8M1838.5 750.5V757.8M1839.8 749.9V757.8M1841 749.3V757.8M1842.3 749.1V757.8M1843.5 750.3V757.8M1844.8 751.1V757.8M1846 752.8V757.8M1847.3 753.8V757.8M1848.5 753.6V757.8M1849.8 752.6V757.8M1851 752V757.8M1852.3 751.1V757.8M1853.5 750.9V757.8M1854.8 751.8V757.8" stroke="#bebebe" stroke-width="4.4" stroke-linecap="round" fill="none"/>
<rect x="1856.5" y="757.2" width="17.2" height="29.4" fill="#666666"/>
<path d="M1858.3 754.2V758.2M1859.5 751.7V758.2M1860.8 750.2V758.2M1862 749V758.2M1863.3 748.5V758.2M1864.5 748.6V758.2M1865.8 748.6V758.2M1867 749.2V758.2M1868.3 748.8V758.2M1869.5 749.8V758.2M1870.8 750.6V758.2M1872 751.4V758.2" stroke="#666666" stroke-width="4.4" stroke-linecap="round" fill="none"/>
<rect x="1873.4" y="755.4" width="33" height="31.2" fill="#bebebe"/>
<path d="M1875.2 752.4V756.4M1876.5 751.9V756.4M1877.7 752V756.4M1879 750.3V756.4M1880.2 749.3V756.4M1881.5 748.1V756.4M1882.7 746.3V756.4M1884 745.5V756.4M1885.2 746.1V756.4M1886.5 746.5V756.4M1887.7 747.6V756.4M1889 747.6V756.4M1890.2 748.4V756.4M1891.5 748.9V756.4M1892.7 749.4V756.4M1894 750.2V756.4M1895.2 750.2V756.4M1896.5 749.6V756.4M1897.7 747.9V756.4M1899 745.9V756.4M1900.2 743.6V756.4M1901.5 745.4V756.4M1902.7 747.6V756.4M1904 749.8V756.4M1905.2 751.7V756.4" stroke="#bebebe" stroke-width="4.4" stroke-linecap="round" fill="none"/>
<rect x="1906.3" y="757.7" width="26.1" height="28.9" fill="#666666"/>
<path d="M1908.1 745.9V758.7M1909.3 744.6V758.7M1910.6 743.8V758.7M1911.8 742.8V758.7M1913.1 741.7V758.7M1914.3 741V758.7M1915.6 739.5V758.7M1916.8 738.3V758.7M1918.1 741.1V758.7M1919.3 744.5V758.7M1920.6 747.7V758.7M1921.8 750.5V758.7M1923.1 754V758.7M1924.3 754.7V758.7M1925.6 752.3V758.7M1926.8 750.9V758.7M1928.1 748.2V758.7M1929.3 747.1V758.7M1930.6 746.6V758.7" stroke="#666666" stroke-width="4.4" stroke-linecap="round" fill="none"/>
<rect x="1932.1" y="757.1" width="23.6" height="29.5" fill="#bebebe"/>
<path d="M1933.9 749.8V758.1M1935.2 752.3V758.1M1936.4 750.7V758.1M1937.7 749.6V758.1M1938.9 748.5V758.1M1940.2 747.7V758.1M1941.4 747.6V758.1M1942.7 749V758.1M1943.9 750.8V758.1M1945.2 752.3V758.1M1946.4 754.1V758.1M1947.7 753.5V758.1M1948.9 752.6V758.1M1950.2 752V758.1M1951.4 751.2V758.1M1952.7 750.9V758.1M1953.9 753.3V758.1" stroke="#bebebe" stroke-width="4.4" stroke-linecap="round" fill="none"/>
<rect x="1955.5" y="757" width="23.2" height="29.6" fill="#666666"/>
<path d="M1957.3 754V758M1958.6 753.1V758M1959.8 751.8V758M1961.1 750.5V758M1962.3 749.5V758M1963.6 749.4V758M1964.8 750.1V758M1966.1 750.8V758M1967.3 751.2V758M1968.6 752V758M1969.8 751.9V758M1971.1 751.3V758M1972.3 751.4V758M1973.6 750.7V758M1974.8 748.3V758M1976.1 745.4V758M1977.3 742.3V758" stroke="#666666" stroke-width="4.4" stroke-linecap="round" fill="none"/>
<rect x="1978.5" y="753.6" width="27.9" height="33" fill="#bebebe"/>
<path d="M1980.3 748V754.6M1981.5 748V754.6M1982.8 748.5V754.6M1984 748.5V754.6M1985.3 748.6V754.6M1986.5 748.7V754.6M1987.8 748.5V754.6M1989 749V754.6M1990.3 749.9V754.6M1991.5 750.2V754.6M1992.8 750.5V754.6M1994 749.8V754.6M1995.3 748.9V754.6M1996.5 748.1V754.6M1997.8 747.4V754.6M1999 745.8V754.6M2000.3 746.1V754.6M2001.5 747.3V754.6M2002.8 749.5V754.6M2004 750.6V754.6" stroke="#bebebe" stroke-width="4.4" stroke-linecap="round" fill="none"/>
<rect x="2006.1" y="760.4" width="21" height="26.2" fill="#666666"/>
<path d="M2007.9 751.6V761.4M2009.2 750.6V761.4M2010.4 748.9V761.4M2011.7 747.8V761.4M2012.9 746.7V761.4M2014.2 745.5V761.4M2015.4 747.3V761.4M2016.7 750.6V761.4M2017.9 754.7V761.4M2019.2 757.4V761.4M2020.4 755.4V761.4M2021.7 754.1V761.4M2022.9 752.2V761.4M2024.2 750.5V761.4M2025.4 746.3V761.4" stroke="#666666" stroke-width="4.4" stroke-linecap="round" fill="none"/>
<rect x="2026.9" y="756.4" width="21.6" height="30.2" fill="#bebebe"/>
<path d="M2028.7 746.9V757.4M2029.9 749.3V757.4M2031.2 749.5V757.4M2032.4 749.7V757.4M2033.7 750.1V757.4M2034.9 750.6V757.4M2036.2 751.6V757.4M2037.4 752.7V757.4M2038.7 753.3V757.4M2039.9 753.4V757.4M2041.2 752.6V757.4M2042.4 751.4V757.4M2043.7 750V757.4M2044.9 749.2V757.4M2046.2 750V757.4" stroke="#bebebe" stroke-width="4.4" stroke-linecap="round" fill="none"/>
<rect x="2048.2" y="753.6" width="23.2" height="33" fill="#666666"/>
<path d="M2050 747.4V754.6M2051.3 747.8V754.6M2052.5 748V754.6M2053.8 748.3V754.6M2055 748.4V754.6M2056.3 748.2V754.6M2057.5 746.6V754.6M2058.8 746.2V754.6M2060 746V754.6M2061.3 746.3V754.6M2062.5 746.9V754.6M2063.8 747.6V754.6M2065 748.8V754.6M2066.3 749.1V754.6M2067.5 749V754.6M2068.8 749.9V754.6M2070 750.6V754.6" stroke="#666666" stroke-width="4.4" stroke-linecap="round" fill="none"/>
<rect x="2071.2" y="755" width="24.4" height="31.6" fill="#bebebe"/>
<path d="M2073 747V756M2074.3 745.3V756M2075.5 746.5V756M2076.8 747.3V756M2078 748V756M2079.3 749V756M2080.5 749.1V756M2081.8 748.9V756M2083 749V756M2084.3 748.8V756M2085.5 748.8V756M2086.8 749.1V756M2088 749V756M2089.3 749.2V756M2090.5 748.6V756M2091.8 749.2V756M2093 750.4V756M2094.3 752V756" stroke="#bebebe" stroke-width="4.4" stroke-linecap="round" fill="none"/>
<rect x="2095.4" y="758.5" width="22.7" height="28.1" fill="#666666"/>
<path d="M2097.2 755.1V759.5M2098.4 754.7V759.5M2099.7 754.3V759.5M2100.9 753.2V759.5M2102.2 752.2V759.5M2103.4 750.4V759.5M2104.7 749.9V759.5M2105.9 748.1V759.5M2107.2 747.3V759.5M2108.4 745.4V759.5M2109.7 747.1V759.5M2110.9 749.6V759.5M2112.2 751.6V759.5M2113.4 754.7V759.5M2114.7 755.5V759.5M2115.9 754.2V759.5" stroke="#666666" stroke-width="4.4" stroke-linecap="round" fill="none"/>
<rect x="2118" y="759.5" width="59.5" height="27.1" fill="#8e8e8e"/>
<path d="M2118.6 759.5V786.6M2122.3 759.5V786.6M2126 759.5V786.6M2129.7 759.5V786.6M2133.4 759.5V786.6M2137.1 759.5V786.6M2140.8 759.5V786.6M2144.5 759.5V786.6M2148.2 759.5V786.6M2151.9 759.5V786.6M2155.6 759.5V786.6M2159.3 759.5V786.6M2163 759.5V786.6M2166.7 759.5V786.6M2170.4 759.5V786.6M2174.1 759.5V786.6" stroke="#727272" stroke-width="1.1" fill="none"/>
<path d="M2120.5 759.5V786.6M2124.2 759.5V786.6M2127.9 759.5V786.6M2131.6 759.5V786.6M2135.3 759.5V786.6M2139 759.5V786.6M2142.7 759.5V786.6M2146.4 759.5V786.6M2150.1 759.5V786.6M2153.8 759.5V786.6M2157.5 759.5V786.6M2161.2 759.5V786.6M2164.9 759.5V786.6M2168.6 759.5V786.6M2172.3 759.5V786.6M2176 759.5V786.6" stroke="#a8a8a8" stroke-width="0.9" fill="none"/>
<path d="M2119.3 751V761.5M2121.7 756.4V761.5M2124.1 757V761.5M2126.5 757.8V761.5M2128.9 749.4V761.5M2131.3 745.8V761.5M2133.7 750.8V761.5M2136.1 752.1V761.5M2138.5 750.4V761.5M2143.3 745.9V761.5M2145.7 749.1V761.5M2148.1 750.8V761.5M2150.5 750.4V761.5M2152.9 753V761.5M2157.7 751.1V761.5M2160.1 748.1V761.5M2169.7 746.7V761.5M2174.5 748.9V761.5" stroke="#6a6a6a" stroke-width="2.6" fill="none"/>
<path d="M2140.9 747.7V761.5M2155.3 751.3V761.5M2164.9 749.9V761.5M2172.1 745.2V761.5" stroke="#b8b8b8" stroke-width="2.6" fill="none"/>
<path d="M2162.5 747.9V761.5M2167.3 748.7V761.5M2176.9 753.2V761.5" stroke="#8e8e8e" stroke-width="2.6" fill="none"/>
<path d="M1556.7 757.6h0M1561.8 749.1h0M1565.6 748.2h0M1570.6 749.9h0M1573.8 748.4h0M1578 742.7h0M1583 747.7h0M1586.1 747.8h0M1591.4 753.9h0M1596.7 751.6h0M1600.2 746.1h0M1603.5 746.9h0M1608.1 748.4h0M1610.9 746.7h0M1613.8 748.3h0M1617 748.4h0M1620.6 749h0M1665.3 749.1h0M1670.4 752.8h0M1674.3 752.4h0M1678.3 749.8h0M1683.6 748.1h0M1686.2 748.3h0M1689 749.9h0M1731.5 753.8h0M1736.8 747.7h0M1742.8 746.6h0M1746.5 747.1h0M1750.5 749.7h0M1753.1 756h0M1758.4 748.1h0M1809.7 747.7h0M1813.3 748.7h0M1818.3 754.6h0M1824.1 749.7h0M1860.5 749.2h0M1866.2 750.6h0M1869.8 750.9h0M1910 744.8h0M1915.9 738.1h0M1921 748h0M1924.7 752.9h0M1930.2 746.4h0M1959.3 751.9h0M1961.9 749.2h0M1966.8 749.1h0M1972.6 752.6h0M1975.7 745.8h0M2010.2 749.3h0M2013.3 745.5h0M2017.7 754.2h0M2023 752.9h0M2051.8 748.5h0M2056.4 746h0M2059.3 746.2h0M2064.8 748.9h0M2068.7 751.3h0M2098.6 754.9h0M2102.9 751.1h0M2108.6 747.1h0M2113.5 756.1h0" stroke="#5e5e5e" stroke-width="4.4" stroke-linecap="round" fill="none"/>
<path d="M1562.4 753.7h0M1566.5 749.3h0M1569.2 752.1h0M1573 752.4h0M1579.3 747.2h0M1597.9 754.9h0M1607.6 752.1h0M1613.3 749.8h0M1669.1 754.9h0M1674.5 758.3h0M1679.2 755.1h0M1682.3 749.3h0M1738.2 749.8h0M1751.6 751.7h0M1812.8 752.6h0M1817.2 756.8h0M1865.1 753.3h0M1870.1 751.6h0M1914.6 743.5h0M1961.9 751.4h0M1972.7 754.7h0M2013 750.1h0M2023.8 754.1h0M2051.6 751.9h0M2059.2 749.3h0M2063.7 749.6h0M2069 750.7h0M2099.4 757.7h0M2109 747.4h0M2113 756.7h0" stroke="#666666" stroke-width="4.4" stroke-linecap="round" fill="none"/>
<path d="M1558.2 748.9h0M1560.9 739.3h0M1563.7 738.3h0M1566.7 743.3h0M1574 742.7h0M1581.4 742.8h0M1587.3 743.7h0M1590.7 746.7h0M1596.3 747.9h0M1603.2 745.2h0M1606.4 744.8h0M1610.1 742.8h0M1614.8 746.1h0M1617.5 746.6h0M1619.8 744.1h0M1667.9 745.4h0M1671.8 750.4h0M1677.2 744.7h0M1683.3 744.3h0M1685.9 737h0M1689.5 744.3h0M1732.6 745.6h0M1739.1 741.2h0M1746.4 738.1h0M1751.8 748.2h0M1810.4 741.1h0M1813.7 746.7h0M1819.8 749h0M1864.3 743.9h0M1867.4 744.2h0M1910.8 737.9h0M1915.2 735.3h0M1919.2 739.1h0M1921.3 738.8h0M1958.9 746h0M1961.3 745h0M1968.4 740.8h0M1970.9 739.8h0M1975 742.4h0M2011.2 745.4h0M2017.7 740.5h0M2052.7 744.8h0M2060.1 742.6h0M2066.7 743.8h0M2100.8 743.5h0M2108.1 737.2h0M2112.2 738.9h0M1571.5 724h0M1577.2 737.3h0M1588.8 741.8h0M1580.1 741.8h0M1557.6 746.8h0M1564.6 744.7h0M1572.4 745.6h0M1583.6 745.6h0M1602.6 743.9h0M1611.3 743.9h0M1619.9 743.9h0M1628.2 744.7h0M1666.3 744.4h0M1677.9 744.4h0M1683.9 744.4h0M1690.9 745.6h0M1747.1 734.4h0M1762.1 740.9h0M1738.4 742.5h0M1743.1 742.5h0M1734.1 744.7h0M1748.8 743.9h0M1756.6 745.6h0M1809.9 741.3h0M1812 746.5h0M1825.8 746.5h0M1861 746h0M1868.1 746.1h0M1875.4 749.9h0M1930.7 735.2h0M1916 735.7h0M1916 738.7h0M1909.1 742.1h0M1913.4 740.4h0M1920.3 746.5h0M1928.1 743.9h0M1933.3 742.7h0M1971.7 726.6h0M1977.4 739.2h0M1978.3 743h0M1962.7 747.3h0M2028.1 735.7h0M2025.9 741.3h0M2024.7 746.5h0M2014.6 743.9h0M2010.3 747.3h0M2051.1 738.3h0M2071.7 740.8h0M2065.7 742.7h0M2059.6 744.4h0M2051 745.6h0M2104.6 735.6h0M2105.5 742.1h0M2111.2 743.4h0M2120.2 743.4h0M2117.6 750.8h0M2143.5 732.6h0M2130.9 743.9h0M2169.5 742.5h0M2172.9 743h0M2143.5 745.6h0M2161.7 745.6h0M2134 748.2h0M2175.5 750.8h0M2176.4 771.6h0M2176.4 775.9h0M2176.4 780.2h0" stroke="#4d4d4d" stroke-width="4.4" stroke-linecap="round" fill="none"/>
<path d="M1628 748.1h0M1627 752.8h0M1632.7 751.4h0M1638.2 750.9h0M1642.4 748.5h0M1641.7 753.1h0M1646.5 751.2h0M1649.8 748h0M1654.9 752.1h0M1653.9 755.2h0M1658.6 751.4h0M1659.2 752.5h0M1632.2 742.2h0M1635.5 745.5h0M1639.3 737.8h0M1644.5 736.6h0M1648.2 744.8h0M1652.7 736.2h0M1657.4 749.6h0M1695.9 750.8h0M1695.9 755.1h0M1700.4 753.1h0M1701.6 754.8h0M1704.3 750.3h0M1708.1 753.6h0M1709.5 754.1h0M1712.6 753.8h0M1711.9 755h0M1715.3 751.6h0M1718 751.9h0M1718.4 752.8h0M1722 746.2h0M1722.5 747.8h0M1703.3 744h0M1705.8 739.9h0M1708 748.4h0M1711.2 748.2h0M1718.3 747.6h0M1721.9 735.9h0M1768.8 748.5h0M1769.7 751.3h0M1773.5 748.4h0M1773.3 751.5h0M1776.9 750.2h0M1776.7 754.4h0M1781.4 751.3h0M1784.3 749.9h0M1789.9 750.9h0M1789.7 757.7h0M1793 752.2h0M1792.1 754.1h0M1796.4 747.9h0M1796.9 751.5h0M1800.7 748.5h0M1771.4 740.9h0M1778.2 745.5h0M1780.7 738.8h0M1786.7 747.4h0M1789.7 742.7h0M1794.4 746.3h0M1798.3 745.4h0M1829.8 747.6h0M1834.3 750.2h0M1838.5 750.9h0M1844.4 751h0M1844.2 753.2h0M1847.1 751.4h0M1847.2 757.1h0M1850.8 753.6h0M1849.9 756.3h0M1832.6 740.9h0M1839.5 746.5h0M1843 743.8h0M1845.2 740.2h0M1851.7 748.9h0M1876.9 753.2h0M1881.1 748.7h0M1881.6 750.2h0M1884.1 746.9h0M1883.9 747.3h0M1889.6 747h0M1889.5 752.1h0M1892.5 748.4h0M1895.4 751.7h0M1894.4 753.2h0M1899.9 744.5h0M1899.7 748.4h0M1902.5 746h0M1902.1 748.9h0M1879.9 744.1h0M1884.9 742.6h0M1891 743.9h0M1895.6 746h0M1900.9 740h0M1935.3 752.4h0M1935 755.6h0M1938.9 750.2h0M1942.6 750.4h0M1947.5 753.7h0M1951.1 751.4h0M1952.6 755.8h0M1938.1 743.9h0M1943.7 741.3h0M1946.9 749.3h0M1949.8 741.8h0M1982.8 747.2h0M1983.3 753.3h0M1985.6 748.1h0M1985.6 751.3h0M1990.6 749.3h0M1991.6 750.6h0M1993.7 750.9h0M1993.4 752.3h0M1999.1 746h0M1983.3 740.7h0M1985.7 743.7h0M1991.3 743.7h0M1996.2 745.3h0M2000.4 733.5h0M2002.8 743.1h0M2030.2 750.4h0M2030.1 751.3h0M2034.1 749.2h0M2035.1 751.3h0M2037.5 751.9h0M2041.4 753.8h0M2044.2 749.5h0M2044.7 753.2h0M2031.4 746h0M2040.2 750.2h0M2042.2 747.7h0M2075.5 747h0M2081.1 749.4h0M2080.8 752.5h0M2085.2 747.4h0M2088.4 748h0M2089 749.9h0M2093.1 750.2h0M2092.2 752.4h0M2077.7 742.2h0M2079.8 736.1h0M2085.7 745.9h0M2089 742.8h0M2092.5 741.3h0M1651.4 724.8h0M1651.4 727.4h0M1664 733h0M1662.3 740.4h0M1650.7 741.8h0M1657.1 744.4h0M1632 746.5h0M1723.4 732.6h0M1708.2 740.1h0M1709 740.4h0M1696.9 743h0M1723.7 738.7h0M1728.9 738.7h0M1704.7 746.5h0M1767.9 743h0M1773 742.5h0M1799.9 743.5h0M1804.2 743h0M1782.6 746.5h0M1831 737h0M1831.9 743.9h0M1830.9 737.1h0M1847.7 738h0M1857.2 741.3h0M1831.8 743.9h0M1842.1 746.5h0M1899.2 724.8h0M1899.2 730.6h0M1884.5 743h0M1889.2 744.4h0M1899.6 741.6h0M1957.5 712.4h0M1941.1 745.6h0M1952.4 748.5h0M1988.7 737.3h0M1995.6 740.4h0M2000.8 742.7h0M1987.8 746.5h0M2030.7 735.7h0M2031.1 746.5h0M2033.7 747.3h0M2044.9 746.8h0M2075.2 743.9h0M2083 746.5h0M2092.1 746.1h0M2175.5 712.4h0M2130.2 738.2h0M2152.5 739.9h0M2166 742.1h0M2147 744.7h0" stroke="#bebebe" stroke-width="4.4" stroke-linecap="round" fill="none"/>
<path d="M2120 755.9h0M2129.1 749.4h0M2131.6 747.9h0M2131.2 755.1h0M2137.7 753.3h0M2138.8 758.8h0M2145.3 756.1h0M2147.3 749.7h0M2148.7 759.5h0M2151.8 763.8h0M2153.7 750.3h0M2154.2 754.4h0M2159 751.3h0M2162.7 760.6h0M2170.7 753.2h0M2170.8 761.6h0M2175.4 749.8h0" stroke="#c4c4c4" stroke-width="3.8" stroke-linecap="round" fill="none"/>
<path d="M2119.6 767.4h0M2119.4 771.4h0M2120.2 775.5h0M2121.8 773.1h0M2129.4 765h0M2132.5 769.7h0M2133 773.3h0M2137 769h0M2135 773.9h0M2139.3 767.5h0M2138.7 774.7h0M2138.1 779.4h0M2146.1 776h0M2147.9 764h0M2147.3 768.2h0M2148.2 779.4h0M2154.8 764.6h0M2158.7 762.9h0M2162.3 764.6h0M2162.3 768.3h0M2162.9 772.9h0M2165.5 774h0M2172.4 761.2h0M2172 764.5h0M2175.6 765.3h0M2175.7 770.8h0M2177 775h0" stroke="#5a5a5a" stroke-width="3" stroke-linecap="round" fill="none"/>
<path d="M2120.3 779.3h0M2124.6 775.6h0M2125.5 779.3h0M2132.7 764.6h0M2154.9 772.6h0M2159.7 762.6h0M2159 771.8h0M2168.9 766.7h0M2168.7 771.8h0" stroke="#c4c4c4" stroke-width="3" stroke-linecap="round" fill="none"/>
<path d="M2122.9 757.4h0M2123.1 764.1h0M2122.8 767.9h0M2124.4 757.9h0M2126 763.2h0M2124.9 766.6h0M2129.1 756.5h0M2131.6 751.7h0M2131.3 760.4h0M2134.9 751.8h0M2136.4 757.1h0M2134.8 760.3h0M2135 764.3h0M2138.2 749.9h0M2142.3 747.7h0M2141.6 752.6h0M2145.5 748.8h0M2146 759.8h0M2146.9 752.9h0M2147.9 756h0M2150.3 755.1h0M2152.2 759.8h0M2154.6 757.7h0M2158.3 748.9h0M2156.8 753.3h0M2159.2 747.1h0M2161.1 755.4h0M2161 758.8h0M2163.4 747.6h0M2162.9 752.4h0M2163 755.5h0M2165.5 749.1h0M2165.3 753.1h0M2170.7 748.8h0M2168.7 756.6h0M2172.3 745.2h0M2173 748.8h0M2172.8 753.9h0" stroke="#5a5a5a" stroke-width="3.8" stroke-linecap="round" fill="none"/>
<path d="M2176.2 754.2h0M2175.9 758.9h0" stroke="#cfcfcf" stroke-width="4.2" stroke-linecap="round" fill="none"/>
<path d="M2176.5 762.7h0M2176.5 766.6h0M2176.3 770.3h0M2176.3 775.8h0M2176.2 779.3h0M2175.9 783.4h0" stroke="#6a6a6a" stroke-width="4.2" stroke-linecap="round" fill="none"/>
<rect x="1537.8" y="607.5" width="657.6" height="179.1" fill="none" stroke="#000" stroke-width="1.7"/>
<text x="1525" y="641.9" text-anchor="end">20</text>
<text x="1525" y="679.1" text-anchor="end">15</text>
<text x="1525" y="716.3" text-anchor="end">10</text>
<text x="1525" y="753.5" text-anchor="end">5</text>
<text x="1525" y="790.5" text-anchor="end">0</text>
<text x="1592.2" y="809.1" text-anchor="middle">1</text>
<text x="1647.1" y="809.1" text-anchor="middle">2</text>
<text x="1678.8" y="809.1" text-anchor="middle">3</text>
<text x="1712.8" y="809.1" text-anchor="middle">4</text>
<text x="1748.5" y="809.1" text-anchor="middle">5</text>
<text x="1786.6" y="809.1" text-anchor="middle">6</text>
<text x="1818.9" y="809.1" text-anchor="middle">7</text>
<text x="1844.3" y="809.1" text-anchor="middle">8</text>
<text x="1865.4" y="809.1" text-anchor="middle">9</text>
<text x="1891.4" y="809.1" text-anchor="middle">10</text>
<text x="1922.4" y="809.1" text-anchor="middle">11</text>
<text x="1946.5" y="809.1" text-anchor="middle">12</text>
<text x="1995" y="809.1" text-anchor="middle">14</text>
<text x="2019.6" y="809.1" text-anchor="middle">15</text>
<text x="2062.4" y="809.1" text-anchor="middle">17</text>
<text x="2085.6" y="809.1" text-anchor="middle">18</text>
<text x="2109.9" y="809.1" text-anchor="middle">19</text>
<path d="M1537.8 638h-7.5M1537.8 675.2h-7.5M1537.8 712.4h-7.5M1537.8 749.6h-7.5M1537.8 786.6h-7.5M1592.2 786.6v7.5M1647.1 786.6v7.5M1678.8 786.6v7.5M1712.8 786.6v7.5M1748.5 786.6v7.5M1786.6 786.6v7.5M1818.9 786.6v7.5M1844.3 786.6v7.5M1865.4 786.6v7.5M1891.4 786.6v7.5M1922.4 786.6v7.5M1946.5 786.6v7.5M1969.2 786.6v7.5M1995 786.6v7.5M2019.6 786.6v7.5M2040.4 786.6v7.5M2062.4 786.6v7.5M2085.6 786.6v7.5M2109.9 786.6v7.5" stroke="#000" stroke-width="1.7" fill="none"/>
<rect x="2121" y="786.6" width="56.3" height="7.5" fill="#000"/>
<text x="2133.6" y="809.1" text-anchor="middle">33</text>
<text x="2159.6" y="809.1" text-anchor="middle">294</text>
<text x="1866.6" y="834.3" text-anchor="middle" class="al">Chromosome</text>
<text transform="translate(1495.8 697.2) rotate(-90)" text-anchor="middle" class="yl">− log<tspan dy="2.2" font-size="7.6">10</tspan><tspan dy="-2.2">(</tspan><tspan font-style="italic">p</tspan>)</text>
</g>
<g class="m">
<rect x="1558.2" y="1014.2" width="71.6" height="64.1" fill="#666666"/>
<path d="M1560 1011.2V1015.2M1561.3 1004.4V1015.2M1562.5 999.3V1015.2M1563.8 997.7V1015.2M1565 995.6V1015.2M1566.3 994.4V1015.2M1567.5 992V1015.2M1568.8 989.8V1015.2M1570 987.7V1015.2M1571.3 985.7V1015.2M1572.5 985.3V1015.2M1573.8 984V1015.2M1575 983.2V1015.2M1576.3 982.2V1015.2M1577.5 983.6V1015.2M1578.8 987V1015.2M1580 989.2V1015.2M1581.3 988.6V1015.2M1582.5 987.4V1015.2M1583.8 985.6V1015.2M1585 984.3V1015.2M1586.3 983.9V1015.2M1587.5 983.7V1015.2M1588.8 982.6V1015.2M1590 982.7V1015.2M1591.3 983.3V1015.2M1592.5 984.9V1015.2M1593.8 986.1V1015.2M1595 987.7V1015.2M1596.3 989.4V1015.2M1597.5 991.6V1015.2M1598.8 993.6V1015.2M1600 995V1015.2M1601.3 996V1015.2M1602.5 993.1V1015.2M1603.8 990.1V1015.2M1605 987.9V1015.2M1606.3 984.8V1015.2M1607.5 985.1V1015.2M1608.8 985.8V1015.2M1610 987.1V1015.2M1611.3 988.4V1015.2M1612.5 989V1015.2M1613.8 988.2V1015.2M1615 988.6V1015.2M1616.3 988.2V1015.2M1617.5 988.7V1015.2M1618.8 989.7V1015.2M1620 990.7V1015.2M1621.3 991V1015.2M1622.5 991.3V1015.2M1623.8 991.3V1015.2M1625 991.4V1015.2M1626.3 990.4V1015.2M1627.5 990.5V1015.2" stroke="#666666" stroke-width="4.4" stroke-linecap="round" fill="none"/>
<rect x="1629.6" y="999" width="36.3" height="79.3" fill="#bebebe"/>
<path d="M1631.4 993.5V1000M1632.6 993.7V1000M1633.9 993.6V1000M1635.1 993.3V1000M1636.4 993V1000M1637.6 992.1V1000M1638.9 991.9V1000M1640.1 991V1000M1641.4 990.2V1000M1642.6 990.2V1000M1643.9 989.3V1000M1645.1 988.3V1000M1646.4 986.4V1000M1647.6 984.5V1000M1648.9 986.7V1000M1650.1 987.9V1000M1651.4 989.7V1000M1652.6 991.5V1000M1653.9 993.6V1000M1655.1 995V1000M1656.4 995.4V1000M1657.6 996V1000M1658.9 995.1V1000M1660.1 994.2V1000M1661.4 992.7V1000M1662.6 991.6V1000M1663.9 988.7V1000" stroke="#bebebe" stroke-width="4.4" stroke-linecap="round" fill="none"/>
<rect x="1665.7" y="1000.7" width="31.2" height="77.6" fill="#666666"/>
<path d="M1667.5 987.9V1001.7M1668.7 990.4V1001.7M1670 987V1001.7M1671.2 984V1001.7M1672.5 982.6V1001.7M1673.7 983.9V1001.7M1675 984.4V1001.7M1676.2 985.3V1001.7M1677.5 985.6V1001.7M1678.7 986.6V1001.7M1680 986.8V1001.7M1681.2 987.8V1001.7M1682.5 989V1001.7M1683.7 990.5V1001.7M1685 991.6V1001.7M1686.2 992.3V1001.7M1687.5 992.6V1001.7M1688.7 993.6V1001.7M1690 994.5V1001.7M1691.2 995.5V1001.7M1692.5 996.9V1001.7M1693.7 997.5V1001.7M1695 997.7V1001.7" stroke="#666666" stroke-width="4.4" stroke-linecap="round" fill="none"/>
<rect x="1696.7" y="1005" width="35.5" height="73.3" fill="#bebebe"/>
<path d="M1698.5 999.5V1006M1699.7 1000.4V1006M1701 998.4V1006M1702.2 996.2V1006M1703.5 994.9V1006M1704.7 992.8V1006M1706 991.7V1006M1707.2 990.2V1006M1708.5 988.5V1006M1709.7 986.8V1006M1711 985.3V1006M1712.2 983.7V1006M1713.5 982.4V1006M1714.7 980.2V1006M1716 986.1V1006M1717.2 994.2V1006M1718.5 1002V1006M1719.7 995.5V1006M1721 987.7V1006M1722.2 982.3V1006M1723.5 982.3V1006M1724.7 982.9V1006M1726 983.5V1006M1727.2 985.2V1006M1728.5 987.2V1006M1729.7 989V1006" stroke="#bebebe" stroke-width="4.4" stroke-linecap="round" fill="none"/>
<rect x="1732" y="1001" width="36.3" height="77.3" fill="#666666"/>
<path d="M1733.8 997.5V1002M1735 997.8V1002M1736.3 997.6V1002M1737.5 998V1002M1738.8 997.5V1002M1740 997.6V1002M1741.3 996.4V1002M1742.5 996.3V1002M1743.8 995.2V1002M1745 994.1V1002M1746.3 991.3V1002M1747.5 988.9V1002M1748.8 986.1V1002M1750 984.4V1002M1751.3 985.6V1002M1752.5 986.5V1002M1753.8 987.9V1002M1755 988.8V1002M1756.3 987.9V1002M1757.5 988V1002M1758.8 988.3V1002M1760 988.9V1002M1761.3 990.2V1002M1762.5 990.3V1002M1763.8 990.9V1002M1765 990.6V1002M1766.3 991V1002" stroke="#666666" stroke-width="4.4" stroke-linecap="round" fill="none"/>
<rect x="1768.1" y="1006.9" width="42" height="71.4" fill="#bebebe"/>
<path d="M1769.9 991.4V1007.9M1771.1 993V1007.9M1772.4 994.6V1007.9M1773.6 996V1007.9M1774.9 997.1V1007.9M1776.1 998.8V1007.9M1777.4 1000.3V1007.9M1778.6 1001.4V1007.9M1779.9 1002.1V1007.9M1781.1 1002.8V1007.9M1782.4 1002.2V1007.9M1783.6 1001.7V1007.9M1784.9 1001.2V1007.9M1786.1 1000.5V1007.9M1787.4 1001.4V1007.9M1788.6 1002.4V1007.9M1789.9 1003.9V1007.9M1791.1 1003.9V1007.9M1792.4 1002.1V1007.9M1793.6 1000.7V1007.9M1794.9 998.5V1007.9M1796.1 997.4V1007.9M1797.4 989.1V1007.9M1798.6 983.8V1007.9M1799.9 985.8V1007.9M1801.1 987.2V1007.9M1802.4 988.4V1007.9M1803.6 989.3V1007.9M1804.9 990.5V1007.9M1806.1 992.8V1007.9M1807.4 994.5V1007.9M1808.6 995.7V1007.9" stroke="#bebebe" stroke-width="4.4" stroke-linecap="round" fill="none"/>
<rect x="1809.8" y="1004.9" width="20.5" height="73.4" fill="#666666"/>
<path d="M1811.6 989.4V1005.9M1812.9 989.2V1005.9M1814.1 988.8V1005.9M1815.4 987.8V1005.9M1816.6 991V1005.9M1817.9 994.6V1005.9M1819.1 998.1V1005.9M1820.4 1001.2V1005.9M1821.6 1001.9V1005.9M1822.9 1001.1V1005.9M1824.1 1001.5V1005.9M1825.4 1001.6V1005.9M1826.6 996.7V1005.9M1827.9 991.6V1005.9" stroke="#666666" stroke-width="4.4" stroke-linecap="round" fill="none"/>
<rect x="1830.1" y="1004.7" width="29.8" height="73.6" fill="#bebebe"/>
<path d="M1831.9 983V1005.7M1833.1 983.9V1005.7M1834.4 985.1V1005.7M1835.6 986.4V1005.7M1836.9 988.4V1005.7M1838.1 989.2V1005.7M1839.4 989.7V1005.7M1840.6 988V1005.7M1841.9 986.9V1005.7M1843.1 985.2V1005.7M1844.4 983.8V1005.7M1845.6 981.4V1005.7M1846.9 977.8V1005.7M1848.1 975.3V1005.7M1849.4 979.1V1005.7M1850.6 986.7V1005.7M1851.9 994.2V1005.7M1853.1 999.2V1005.7M1854.4 1000.7V1005.7M1855.6 1001.5V1005.7M1856.9 1001.7V1005.7M1858.1 1001.2V1005.7" stroke="#bebebe" stroke-width="4.4" stroke-linecap="round" fill="none"/>
<rect x="1859.7" y="995.6" width="17.1" height="82.7" fill="#666666"/>
<path d="M1861.5 992.6V996.6M1862.8 989.3V996.6M1864 986.4V996.6M1865.3 983.5V996.6M1866.5 982.2V996.6M1867.8 981.2V996.6M1869 979.8V996.6M1870.3 979.5V996.6M1871.5 982.1V996.6M1872.8 985.8V996.6M1874 988.2V996.6M1875.3 992.5V996.6" stroke="#666666" stroke-width="4.4" stroke-linecap="round" fill="none"/>
<rect x="1876.6" y="1002.4" width="32.9" height="75.9" fill="#bebebe"/>
<path d="M1878.4 999.4V1003.4M1879.7 997V1003.4M1880.9 996.2V1003.4M1882.2 996.2V1003.4M1883.4 995.2V1003.4M1884.7 995.2V1003.4M1885.9 995.8V1003.4M1887.2 995.5V1003.4M1888.4 994.7V1003.4M1889.7 993V1003.4M1890.9 991.9V1003.4M1892.2 990.7V1003.4M1893.4 991.5V1003.4M1894.7 991.9V1003.4M1895.9 992.4V1003.4M1897.2 993.4V1003.4M1898.4 994V1003.4M1899.7 993.8V1003.4M1900.9 992.4V1003.4M1902.2 991.5V1003.4M1903.4 991.5V1003.4M1904.7 992V1003.4M1905.9 992V1003.4M1907.2 992.1V1003.4" stroke="#bebebe" stroke-width="4.4" stroke-linecap="round" fill="none"/>
<rect x="1909.3" y="1003.9" width="25.9" height="74.4" fill="#666666"/>
<path d="M1911.1 987.5V1004.9M1912.4 986V1004.9M1913.6 987.9V1004.9M1914.9 989V1004.9M1916.1 990.9V1004.9M1917.4 991.9V1004.9M1918.6 991.8V1004.9M1919.9 991.7V1004.9M1921.1 992.1V1004.9M1922.4 991.6V1004.9M1923.6 992.4V1004.9M1924.9 994.4V1004.9M1926.1 996.3V1004.9M1927.4 998.8V1004.9M1928.6 1000.9V1004.9M1929.9 1000.8V1004.9M1931.1 999.3V1004.9M1932.4 998.2V1004.9M1933.6 997.1V1004.9" stroke="#666666" stroke-width="4.4" stroke-linecap="round" fill="none"/>
<rect x="1935.1" y="1004.5" width="23.5" height="73.8" fill="#bebebe"/>
<path d="M1936.9 989.3V1005.5M1938.1 989.2V1005.5M1939.4 990.3V1005.5M1940.6 991.6V1005.5M1941.9 992.8V1005.5M1943.1 994.4V1005.5M1944.4 995.8V1005.5M1945.6 998V1005.5M1946.9 1000V1005.5M1948.1 1001.5V1005.5M1949.4 1000.4V1005.5M1950.6 998.9V1005.5M1951.9 997.7V1005.5M1953.1 995.8V1005.5M1954.4 995V1005.5M1955.6 993.5V1005.5M1956.9 993V1005.5" stroke="#bebebe" stroke-width="4.4" stroke-linecap="round" fill="none"/>
<rect x="1958.3" y="999.3" width="23.1" height="79" fill="#666666"/>
<path d="M1960.1 986V1000.3M1961.4 981.5V1000.3M1962.6 981.4V1000.3M1963.9 982.1V1000.3M1965.1 981.4V1000.3M1966.4 981.3V1000.3M1967.6 980.7V1000.3M1968.9 980.2V1000.3M1970.1 979.4V1000.3M1971.4 980.1V1000.3M1972.6 980.5V1000.3M1973.9 983.1V1000.3M1975.1 985.5V1000.3M1976.4 987.1V1000.3M1977.6 990V1000.3M1978.9 993V1000.3M1980.1 996.3V1000.3" stroke="#666666" stroke-width="4.4" stroke-linecap="round" fill="none"/>
<rect x="1981.2" y="1005.2" width="27.7" height="73.1" fill="#bebebe"/>
<path d="M1983 995.9V1006.2M1984.2 996V1006.2M1985.5 995.2V1006.2M1986.7 993.8V1006.2M1988 993.1V1006.2M1989.2 992.4V1006.2M1990.5 992.1V1006.2M1991.7 991.6V1006.2M1993 992.4V1006.2M1994.2 993.3V1006.2M1995.5 993.9V1006.2M1996.7 994.7V1006.2M1998 994.6V1006.2M1999.2 994.9V1006.2M2000.5 996.2V1006.2M2001.7 997.5V1006.2M2003 999.5V1006.2M2004.2 1000.2V1006.2M2005.5 1001.5V1006.2M2006.7 1002.2V1006.2" stroke="#bebebe" stroke-width="4.4" stroke-linecap="round" fill="none"/>
<rect x="2008.7" y="1002.1" width="20.9" height="76.2" fill="#666666"/>
<path d="M2010.5 988.1V1003.1M2011.8 988.7V1003.1M2013 989.9V1003.1M2014.3 991.3V1003.1M2015.5 993.4V1003.1M2016.8 993.4V1003.1M2018 994.2V1003.1M2019.3 994.6V1003.1M2020.5 994.5V1003.1M2021.8 995.8V1003.1M2023 996.4V1003.1M2024.3 997V1003.1M2025.5 997V1003.1M2026.8 997.5V1003.1M2028 999.1V1003.1" stroke="#666666" stroke-width="4.4" stroke-linecap="round" fill="none"/>
<rect x="2029.4" y="999.2" width="21.5" height="79.1" fill="#bebebe"/>
<path d="M2031.2 996.2V1000.2M2032.4 993.7V1000.2M2033.7 992.5V1000.2M2034.9 991.4V1000.2M2036.2 991.4V1000.2M2037.4 990V1000.2M2038.7 990.1V1000.2M2039.9 991V1000.2M2041.2 991.1V1000.2M2042.4 991.5V1000.2M2043.7 990.9V1000.2M2044.9 988.6V1000.2M2046.2 986.4V1000.2M2047.4 983.7V1000.2M2048.7 983.5V1000.2" stroke="#bebebe" stroke-width="4.4" stroke-linecap="round" fill="none"/>
<rect x="2050.7" y="1003.3" width="23.1" height="75" fill="#666666"/>
<path d="M2052.5 996.2V1004.3M2053.7 1000.3V1004.3M2055 999.6V1004.3M2056.2 998V1004.3M2057.5 996.7V1004.3M2058.7 995.6V1004.3M2060 995.2V1004.3M2061.2 995.7V1004.3M2062.5 994.8V1004.3M2063.7 994.1V1004.3M2065 992.2V1004.3M2066.2 990.9V1004.3M2067.5 989.7V1004.3M2068.7 987.9V1004.3M2070 987.6V1004.3M2071.2 987.6V1004.3M2072.5 987.5V1004.3" stroke="#666666" stroke-width="4.4" stroke-linecap="round" fill="none"/>
<rect x="2073.5" y="1003.7" width="24.3" height="74.6" fill="#bebebe"/>
<path d="M2075.3 994.5V1004.7M2076.6 999V1004.7M2077.8 999.1V1004.7M2079.1 1000.2V1004.7M2080.3 1000.7V1004.7M2081.6 999.9V1004.7M2082.8 998V1004.7M2084.1 995.5V1004.7M2085.3 994.2V1004.7M2086.6 992V1004.7M2087.8 990.3V1004.7M2089.1 990.7V1004.7M2090.3 990.9V1004.7M2091.6 991.6V1004.7M2092.8 992V1004.7M2094.1 991.1V1004.7M2095.3 989V1004.7M2096.6 988.2V1004.7" stroke="#bebebe" stroke-width="4.4" stroke-linecap="round" fill="none"/>
<rect x="2097.6" y="1002" width="22.6" height="76.3" fill="#666666"/>
<path d="M2099.4 996.3V1003M2100.6 999V1003M2101.9 997.7V1003M2103.1 996.7V1003M2104.4 995V1003M2105.6 994.4V1003M2106.9 995.3V1003M2108.1 996.2V1003M2109.4 997.1V1003M2110.6 998V1003M2111.9 998.5V1003M2113.1 997.1V1003M2114.4 996.3V1003M2115.6 995.6V1003M2116.9 993.3V1003M2118.1 990.9V1003" stroke="#666666" stroke-width="4.4" stroke-linecap="round" fill="none"/>
<rect x="2120.2" y="1001.2" width="59.2" height="77.1" fill="#8e8e8e"/>
<path d="M2120.8 1001.2V1078.3M2124.5 1001.2V1078.3M2128.2 1001.2V1078.3M2131.9 1001.2V1078.3M2135.6 1001.2V1078.3M2139.3 1001.2V1078.3M2143 1001.2V1078.3M2146.7 1001.2V1078.3M2150.4 1001.2V1078.3M2154.1 1001.2V1078.3M2157.8 1001.2V1078.3M2161.5 1001.2V1078.3M2165.2 1001.2V1078.3M2168.9 1001.2V1078.3M2172.6 1001.2V1078.3M2176.3 1001.2V1078.3" stroke="#727272" stroke-width="1.1" fill="none"/>
<path d="M2122.7 1001.2V1078.3M2126.4 1001.2V1078.3M2130.1 1001.2V1078.3M2133.8 1001.2V1078.3M2137.5 1001.2V1078.3M2141.2 1001.2V1078.3M2144.9 1001.2V1078.3M2148.6 1001.2V1078.3M2152.3 1001.2V1078.3M2156 1001.2V1078.3M2159.7 1001.2V1078.3M2163.4 1001.2V1078.3M2167.1 1001.2V1078.3M2170.8 1001.2V1078.3M2174.5 1001.2V1078.3M2178.2 1001.2V1078.3" stroke="#a8a8a8" stroke-width="0.9" fill="none"/>
<path d="M2121.5 997.3V1003.2M2123.9 997.2V1003.2M2128.7 988.7V1003.2M2131.1 985.3V1003.2M2133.5 986.1V1003.2M2138.3 996.6V1003.2M2140.7 994.9V1003.2M2147.9 999.5V1003.2M2150.3 994.9V1003.2M2152.7 993.8V1003.2M2157.5 989.7V1003.2M2159.9 993.1V1003.2M2167.1 995.1V1003.2M2169.5 993.8V1003.2M2171.9 991.7V1003.2M2174.3 993.5V1003.2M2176.7 996.4V1003.2" stroke="#6a6a6a" stroke-width="2.6" fill="none"/>
<path d="M2143.1 995.9V1003.2M2155.1 990.3V1003.2M2162.3 993.6V1003.2M2164.7 994.5V1003.2" stroke="#b8b8b8" stroke-width="2.6" fill="none"/>
<path d="M2126.3 991.9V1003.2M2135.9 990.2V1003.2M2145.5 996.2V1003.2" stroke="#8e8e8e" stroke-width="2.6" fill="none"/>
<path d="M1560.7 1004.6h0M1565.2 996.9h0M1567.9 989.8h0M1573.4 980.2h0M1578.2 982.6h0M1582.6 983.4h0M1586.3 983.1h0M1590.5 979.7h0M1593.5 986.7h0M1599.2 991.6h0M1601.9 991.3h0M1605 985.6h0M1607.7 983.8h0M1610.7 985.5h0M1616.1 986.8h0M1619.6 988.9h0M1623.5 991.1h0M1669.7 986.2h0M1675.1 981.3h0M1681 986.9h0M1686.3 991.9h0M1692 994.2h0M1735.8 994.7h0M1741 994.4h0M1744.1 993.5h0M1749.8 984h0M1755.5 987.7h0M1759.9 986.3h0M1764.6 990.9h0M1813.9 988.5h0M1817.8 994.2h0M1820.9 1000.5h0M1824.6 999.3h0M1827.7 992.5h0M1862.8 989.9h0M1865.9 982.8h0M1870.8 981h0M1913.3 986.8h0M1917.4 991.6h0M1920.9 990.8h0M1925.4 992.8h0M1929.8 1001.3h0M1961.9 979.9h0M1967.2 979.8h0M1972.9 979.6h0M1977.9 989.4h0M2012.9 988.2h0M2018.3 994.8h0M2021.5 992h0M2025.8 996.1h0M2053.5 998.3h0M2059.1 995.4h0M2064.4 992h0M2068.8 985.6h0M2101.5 997.1h0M2107.3 993.5h0M2111.4 998.1h0M2114.2 996.7h0M2117.7 990.2h0" stroke="#5e5e5e" stroke-width="4.4" stroke-linecap="round" fill="none"/>
<path d="M1559.5 1009.2h0M1565.1 997.3h0M1589 985.6h0M1598.4 996.8h0M1602.8 996.4h0M1608.1 988.6h0M1614.7 988.5h0M1619.4 991.1h0M1668.7 988.3h0M1674.6 986.5h0M1681.9 990.5h0M1737.2 1000.7h0M1739.7 997.5h0M1745.3 994.8h0M1751 984.6h0M1760.1 988.9h0M1813.5 989.3h0M1818.4 996.2h0M1820.5 1000.2h0M1866 986.9h0M1916.6 993.2h0M1920.9 992.9h0M1924.6 996h0M1930.7 1004h0M1961.9 985.1h0M1968.1 981.5h0M1972.9 981.6h0M1976.5 991.9h0M2013.4 994h0M2022.7 997.2h0M2024.7 998.8h0M2052.9 1001.5h0M2059 998.1h0M2067.6 989.6h0M2102.6 1001.5h0M2107.5 999.4h0M2113.7 999.5h0" stroke="#666666" stroke-width="4.4" stroke-linecap="round" fill="none"/>
<path d="M1564.7 993h0M1569.3 983.8h0M1571.6 971.4h0M1575.9 976h0M1578.3 980.3h0M1582.1 979h0M1587.3 975.5h0M1590.8 972.3h0M1597.2 986.6h0M1599.8 986.4h0M1602.7 982.9h0M1605.5 979.1h0M1610.1 977.1h0M1612.1 980h0M1615.4 983.3h0M1619.1 983.6h0M1621.8 979.7h0M1626 986.8h0M1670.9 980.1h0M1673.1 973.7h0M1680 978.9h0M1686 978.8h0M1692.6 991.5h0M1739.2 990.6h0M1744.2 990.2h0M1751.1 980.8h0M1753.7 975.9h0M1816.1 983.5h0M1820.2 995.1h0M1825.1 994.5h0M1863.8 975.4h0M1866.3 977.8h0M1873.8 981.5h0M1913.1 981.2h0M1920.2 979.5h0M1929.1 994.7h0M1964.3 975.8h0M1967.2 974.3h0M1972.4 975.7h0M1976.7 977h0M2015.7 987.9h0M2022.4 991.7h0M2054.4 994.1h0M2058.1 991.5h0M2065.4 986.9h0M2068.3 983h0M2102.6 991.3h0M2104.8 987.7h0M2107.9 986.3h0M2110.2 989.9h0M2115.6 990.7h0M1566.8 962.1h0M1593.6 968.5h0M1596.6 971.6h0M1600.9 973.3h0M1566 975.1h0M1571.8 974.2h0M1578.4 971.6h0M1600.9 977.6h0M1606.1 978.5h0M1589.7 978.5h0M1583.6 979.4h0M1626.9 970.4h0M1629.4 973.3h0M1611.3 982h0M1617.3 983.7h0M1629.4 982.8h0M1594 985.4h0M1672.7 953.1h0M1672.7 962.1h0M1681.3 958.6h0M1681.3 967.8h0M1684.8 967.6h0M1671.8 973.3h0M1675.3 975.9h0M1681.3 982.3h0M1691.7 983.4h0M1694.3 984.6h0M1697.8 985.8h0M1671 979.4h0M1771.3 959.8h0M1766.1 964.3h0M1771.3 964.3h0M1748.8 965h0M1751.9 965.5h0M1741.9 968.7h0M1744.2 969.5h0M1758.9 970.7h0M1758.9 973.3h0M1749.2 978.2h0M1758.3 979.4h0M1765.6 979.4h0M1771 978.5h0M1737.1 983.2h0M1737.1 988h0M1816.6 959.1h0M1818.9 968.1h0M1817.2 969h0M1815.4 970.7h0M1830.1 978.2h0M1829.3 982h0M1829.3 985.4h0M1819.8 988.9h0M1830.4 978.2h0M1829.5 982h0M1828.7 985.4h0M1820 968.1h0M1820 988.9h0M1872.9 956.4h0M1872.9 963.8h0M1872.8 975.9h0M1868.4 975.9h0M1864.1 981.1h0M1914.5 950h0M1935.9 974.4h0M1929.5 975.1h0M1929.5 977.6h0M1918.6 977.1h0M1915.2 979.4h0M1935.9 980.2h0M1933.3 982h0M1930.7 987.5h0M1911.7 981.1h0M1962.2 958.6h0M1962.2 965.9h0M1965.3 969h0M1971 972.5h0M1975.7 975.4h0M1967.1 978.5h0M1976.6 983.7h0M1982.6 992.4h0M2027.3 974.5h0M2020.3 979.4h0M2027.3 979.4h0M2011.2 981.1h0M2021.6 983.2h0M2018.4 983.7h0M2026.7 987.5h0M2026.7 989.8h0M2072.2 959.1h0M2053.6 967.6h0M2068.6 965h0M2070.9 968.1h0M2074.3 969.5h0M2064.8 972.5h0M2068.3 973.3h0M2073.5 970.7h0M2061.9 982h0M2067.9 980.6h0M2074 981.1h0M2054.8 984h0M2116.2 952.9h0M2119.3 969.5h0M2121.9 970.2h0M2121 972.5h0M2120.2 980.2h0M2121.9 982.5h0M2109.8 984.9h0M2104.6 988h0M2135.4 956h0M2146.5 965.5h0M2152.7 963.8h0M2162.6 967.6h0M2134.9 974.2h0M2138.9 975.1h0M2155.6 974.2h0M2160.5 974.7h0M2151.8 979h0M2173.8 979.9h0M2141.5 980.6h0M2146.1 984h0M2152.2 985.4h0M2160 987.2h0M2145.3 989.8h0" stroke="#4d4d4d" stroke-width="4.4" stroke-linecap="round" fill="none"/>
<path d="M1633.5 991.4h0M1634.8 995.4h0M1637.1 990.3h0M1640.9 989.6h0M1640.2 990.9h0M1645.1 986.7h0M1648.9 984.8h0M1647.5 989.4h0M1653.7 990.6h0M1653.5 993.2h0M1656.9 994.5h0M1656.8 996.3h0M1662.1 993.1h0M1636.4 985.7h0M1643.1 982.6h0M1646.6 980.2h0M1652.4 986.9h0M1656 980.9h0M1660.7 986.6h0M1699.2 997.5h0M1698.2 1001.5h0M1703.6 991.7h0M1704.7 994.6h0M1706.7 990.6h0M1705.6 994.1h0M1712.6 981.2h0M1712 985.7h0M1715.3 982.3h0M1716.3 983.1h0M1719.4 994.7h0M1724.5 982.4h0M1727.9 984.6h0M1703.7 986.5h0M1706.9 985.6h0M1709.1 982.9h0M1716.1 979.8h0M1719.1 984.9h0M1725 977.9h0M1727.1 978.1h0M1771.8 990.3h0M1776.4 998.5h0M1775.1 1002.3h0M1781.2 1000.7h0M1781.3 1001.7h0M1784.1 997.9h0M1789.6 1003.1h0M1795.1 997.6h0M1799.7 981.8h0M1803.6 990.7h0M1804.6 992.1h0M1774.5 991.4h0M1778.6 987.4h0M1785.4 988h0M1791.9 995.4h0M1795.1 986.6h0M1801.1 978.7h0M1833.7 984.8h0M1834.8 988.5h0M1838.2 989.7h0M1837.2 990h0M1841.8 986.2h0M1840.9 988.2h0M1845.2 979.4h0M1845.9 984.4h0M1850 979.3h0M1855.6 1000.7h0M1836 977.8h0M1841.6 982.7h0M1853.1 992.2h0M1879.4 997.1h0M1884.7 994.2h0M1889 993h0M1894.5 990.2h0M1893.1 993.7h0M1898.5 991h0M1902.7 989.5h0M1903.6 993.5h0M1907.5 990.8h0M1908.6 993.5h0M1883.8 991.5h0M1889.3 979.8h0M1892.3 986.8h0M1895.1 987.4h0M1901.8 982.2h0M1903.8 984.2h0M1938.8 990.4h0M1939.9 993.2h0M1941.5 990.9h0M1940.8 994.7h0M1946.1 999.9h0M1949.9 999.1h0M1955.1 993.3h0M1954.8 995.5h0M1942.5 983.2h0M1946.8 996h0M1953.1 991.5h0M1983.6 996.7h0M1986.9 993.7h0M1990.2 992.9h0M1993.1 991.2h0M1996.4 991.8h0M1996.1 996.3h0M2001.6 995.9h0M2002.9 1000.3h0M1988.5 984.9h0M1992.5 987.7h0M1997.3 980.9h0M2002.5 994.5h0M2004.9 992.6h0M2033 990.7h0M2033.6 995.3h0M2036.2 989.8h0M2035.7 994.4h0M2041.2 987.8h0M2047 983.7h0M2036.2 983.8h0M2039.3 979.2h0M2043 978.2h0M2077.5 999h0M2082.9 997.4h0M2082.1 997.8h0M2086.6 989.2h0M2090.8 987.4h0M2092.1 991.6h0M2077 985.7h0M2084.1 991.4h0M2093.3 984.2h0M1639.8 957.2h0M1639.8 965h0M1665.8 958.3h0M1664.9 968.7h0M1650.2 973.7h0M1654.5 974.7h0M1639.8 979.4h0M1637.2 982.8h0M1647.6 981.1h0M1664.9 975.9h0M1732 949.4h0M1732.4 962.4h0M1722 961.2h0M1722 963.8h0M1716 968.1h0M1716 970.7h0M1705.6 975.1h0M1728.6 973h0M1715.1 977.6h0M1722 974.2h0M1732.4 978.5h0M1707.3 981.1h0M1727.2 981.1h0M1782.6 959.5h0M1782.6 962.1h0M1782.6 964.7h0M1794.7 963.3h0M1789.1 969h0M1805.4 975.6h0M1798.1 979.4h0M1808.5 981.1h0M1789.5 982.8h0M1784.3 983.7h0M1779.1 984.6h0M1802.5 984.9h0M1780.8 991.5h0M1787.8 994.9h0M1835.8 959.1h0M1835.8 975.4h0M1835.6 959.1h0M1844.2 956.4h0M1850.3 955.7h0M1848.5 960.3h0M1850.3 963.3h0M1848.5 969h0M1835.6 975.4h0M1848.5 974.2h0M1861.5 989.8h0M1910.8 963.5h0M1894.4 967.8h0M1906.5 968.5h0M1889.2 971.6h0M1902.5 973.8h0M1894.4 975.1h0M1889.7 982.3h0M1894.4 985.4h0M1907.7 984.6h0M1941.6 970h0M1952 974.7h0M1958.9 973.7h0M1956.7 979.4h0M1956.7 982.8h0M1944.9 987.5h0M1938.5 984.6h0M2000.4 930.6h0M1990.1 983.2h0M1996.5 984.2h0M1999.9 985.4h0M1985.2 987.7h0M2004.3 989.8h0M2002.5 993.2h0M2010.8 974.7h0M2048 956.5h0M2048.4 963.3h0M2048 978.5h0M2037.1 985.4h0M2076.9 965.2h0M2091.3 968.5h0M2096.8 969.3h0M2096.8 970.7h0M2089 976.8h0M2083.8 979h0M2123.1 914h0M2167.2 959.8h0M2155.6 968.7h0M2170.3 973.7h0M2128.5 978.5h0M2133.1 979.4h0M2176.4 984.6h0" stroke="#bebebe" stroke-width="4.4" stroke-linecap="round" fill="none"/>
<path d="M2122.5 997.8h0M2121.6 1010.9h0M2124.4 992.4h0M2125.7 997.4h0M2128.2 988.3h0M2129.6 992.4h0M2128.2 999.6h0M2133.1 984.5h0M2132.5 997.4h0M2139.2 995.5h0M2138.5 1000.7h0M2141.8 1001.5h0M2142.9 996.9h0M2143.2 1001.4h0M2145 994.5h0M2146.4 1003.4h0M2151.8 990.3h0M2152 998.3h0M2156.6 996.4h0M2157.4 1001.2h0M2156.9 1004.6h0M2161.8 991.7h0M2162.6 994.9h0M2162.6 998.1h0M2164.5 994.8h0M2163.9 999.2h0M2165.5 1002.7h0M2164.3 1005.7h0M2168.4 1004h0M2168.4 1008.8h0M2170.3 998.2h0M2171.8 1003.4h0M2173.8 990.7h0M2174.7 994.8h0M2174.3 999h0M2177.8 1003.7h0" stroke="#5a5a5a" stroke-width="3.8" stroke-linecap="round" fill="none"/>
<path d="M2122.1 1014.8h0M2128.6 1011.5h0M2128.1 1020.2h0M2128.6 1029.4h0M2132.8 1006.6h0M2131.6 1010.1h0M2132.7 1032.6h0M2135.2 1021.6h0M2134.8 1025.4h0M2137.6 1010.4h0M2141.2 1027.1h0M2142.5 1021.6h0M2144.3 1030.6h0M2148.6 1012.3h0M2150.3 1020.4h0M2148.9 1028.9h0M2152.5 1011.2h0M2157.1 1015.2h0M2158 1010.4h0M2162.7 1022.9h0M2161.3 1027.4h0M2165 1041.7h0M2170.7 1014.4h0M2169.8 1022h0M2172.5 1006.8h0M2173.3 1010.1h0M2173.1 1017.1h0M2173.4 1020.3h0M2175.4 1013.4h0M2175.8 1017.9h0M2177.7 1011.7h0" stroke="#5a5a5a" stroke-width="3" stroke-linecap="round" fill="none"/>
<path d="M2122.7 1018.2h0M2121.5 1021.9h0M2125.6 1012h0M2124.2 1020.5h0M2129.5 1006.5h0M2127.8 1033.2h0M2136 1017.2h0M2139.5 1009.2h0M2139.5 1014.7h0M2143.7 1008.3h0M2144.4 1013.5h0M2142.1 1026.6h0M2149.6 1015.3h0M2149.1 1032.4h0M2153.1 1039.6h0M2161.7 1005.8h0M2162.1 1009h0M2164.1 1014h0M2163.7 1019.2h0M2165.6 1023.9h0M2163.6 1027.4h0M2165.6 1038.2h0M2171.3 1026.3h0M2173 1013.7h0M2177.1 1035.3h0" stroke="#c4c4c4" stroke-width="3" stroke-linecap="round" fill="none"/>
<path d="M2135.1 986.5h0M2136 991.6h0M2138.4 1006.2h0M2140.1 993.2h0M2143.1 1004.6h0M2146.9 999.7h0M2150.3 997.2h0M2150.6 1001.9h0M2149.2 1007.4h0M2152.6 994.5h0M2159.8 991.5h0M2159.5 996.9h0M2159.5 1002.2h0M2161.8 1001.5h0M2168 995h0M2174.1 1002.4h0M2176.6 999.7h0" stroke="#c4c4c4" stroke-width="3.8" stroke-linecap="round" fill="none"/>
<path d="M2178 1000.3h0M2177.6 1024.1h0M2178.1 1039.4h0M2178.2 1042.9h0" stroke="#cfcfcf" stroke-width="4.2" stroke-linecap="round" fill="none"/>
<path d="M2178.2 1004.7h0M2178.1 1010.3h0M2178 1015.1h0M2178.2 1020.1h0M2177.6 1029.4h0M2177.9 1035.1h0M2178.1 1048.5h0M2178.1 1053.7h0M2177.6 1057.8h0M2178.2 1061.9h0M2178 1067.8h0M2177.7 1073.5h0" stroke="#6a6a6a" stroke-width="4.2" stroke-linecap="round" fill="none"/>
<path d="M2097.1 973.2h0M2097.5 975.4h0M2097.3 977.6h0M2096.3 979.8h0M2096.3 982h0M2097.2 984.2h0M2096.5 986.4h0" stroke="#bebebe" stroke-width="4.8" stroke-linecap="round" fill="none"/>
<rect x="1542.4" y="900.1" width="654.8" height="178.2" fill="none" stroke="#000" stroke-width="1.7"/>
<text x="1529.6" y="923.9" text-anchor="end">8</text>
<text x="1529.6" y="963.6" text-anchor="end">6</text>
<text x="1529.6" y="1003.2" text-anchor="end">4</text>
<text x="1529.6" y="1042.6" text-anchor="end">2</text>
<text x="1529.6" y="1082.2" text-anchor="end">0</text>
<text x="1596.6" y="1100.8" text-anchor="middle">1</text>
<text x="1651.3" y="1100.8" text-anchor="middle">2</text>
<text x="1682.8" y="1100.8" text-anchor="middle">3</text>
<text x="1716.7" y="1100.8" text-anchor="middle">4</text>
<text x="1752.3" y="1100.8" text-anchor="middle">5</text>
<text x="1790.1" y="1100.8" text-anchor="middle">6</text>
<text x="1822.3" y="1100.8" text-anchor="middle">7</text>
<text x="1847.6" y="1100.8" text-anchor="middle">8</text>
<text x="1868.6" y="1100.8" text-anchor="middle">9</text>
<text x="1894.5" y="1100.8" text-anchor="middle">10</text>
<text x="1925.3" y="1100.8" text-anchor="middle">11</text>
<text x="1949.4" y="1100.8" text-anchor="middle">12</text>
<text x="1997.7" y="1100.8" text-anchor="middle">14</text>
<text x="2022.1" y="1100.8" text-anchor="middle">15</text>
<text x="2064.8" y="1100.8" text-anchor="middle">17</text>
<text x="2087.9" y="1100.8" text-anchor="middle">18</text>
<text x="2112.1" y="1100.8" text-anchor="middle">19</text>
<path d="M1542.4 920h-7.5M1542.4 959.7h-7.5M1542.4 999.3h-7.5M1542.4 1038.7h-7.5M1542.4 1078.3h-7.5M1596.6 1078.3v7.5M1651.3 1078.3v7.5M1682.8 1078.3v7.5M1716.7 1078.3v7.5M1752.3 1078.3v7.5M1790.1 1078.3v7.5M1822.3 1078.3v7.5M1847.6 1078.3v7.5M1868.6 1078.3v7.5M1894.5 1078.3v7.5M1925.3 1078.3v7.5M1949.4 1078.3v7.5M1971.9 1078.3v7.5M1997.7 1078.3v7.5M2022.1 1078.3v7.5M2042.8 1078.3v7.5M2064.8 1078.3v7.5M2087.9 1078.3v7.5M2112.1 1078.3v7.5" stroke="#000" stroke-width="1.7" fill="none"/>
<rect x="2123.1" y="1078.3" width="56.1" height="7.5" fill="#000"/>
<text x="2135.7" y="1100.8" text-anchor="middle">33</text>
<text x="2161.5" y="1100.8" text-anchor="middle">294</text>
<text x="1869.8" y="1125.9" text-anchor="middle" class="al">Chromosome</text>
<text transform="translate(1500.1 988.9) rotate(-90)" text-anchor="middle" class="yl">− log<tspan dy="2.2" font-size="7.6">10</tspan><tspan dy="-2.2">(</tspan><tspan font-style="italic">p</tspan>)</text>
</g>
<g class="m">
<rect x="1558.2" y="1301" width="71.4" height="68.9" fill="#666666"/>
<path d="M1560 1298V1302M1561.2 1287.7V1302M1562.5 1280.7V1302M1563.7 1277.4V1302M1565 1274V1302M1566.2 1270.4V1302M1567.5 1269.9V1302M1568.7 1269.1V1302M1570 1268.4V1302M1571.2 1268.5V1302M1572.5 1267.3V1302M1573.7 1264.6V1302M1575 1262.9V1302M1576.2 1260.6V1302M1577.5 1258.6V1302M1578.7 1258V1302M1580 1257V1302M1581.2 1256V1302M1582.5 1256.6V1302M1583.7 1260.4V1302M1585 1262.3V1302M1586.2 1264.6V1302M1587.5 1266.7V1302M1588.7 1266.7V1302M1590 1266.6V1302M1591.2 1266.7V1302M1592.5 1265.6V1302M1593.7 1264V1302M1595 1263.2V1302M1596.2 1261.3V1302M1597.5 1260.3V1302M1598.7 1258.5V1302M1600 1255.7V1302M1601.2 1255.4V1302M1602.5 1259.8V1302M1603.7 1263.7V1302M1605 1267.6V1302M1606.2 1270.7V1302M1607.5 1267.6V1302M1608.7 1265.1V1302M1610 1263.8V1302M1611.2 1261.6V1302M1612.5 1264.2V1302M1613.7 1266.4V1302M1615 1268.3V1302M1616.2 1269.7V1302M1617.5 1269.9V1302M1618.7 1270.7V1302M1620 1269.1V1302M1621.2 1268V1302M1622.5 1267.3V1302M1623.7 1266.7V1302M1625 1270.1V1302M1626.2 1272.5V1302M1627.5 1272.5V1302" stroke="#666666" stroke-width="4.4" stroke-linecap="round" fill="none"/>
<rect x="1629.4" y="1285.5" width="36.2" height="84.4" fill="#bebebe"/>
<path d="M1631.2 1266.5V1286.5M1632.4 1266.4V1286.5M1633.7 1265.4V1286.5M1634.9 1264.8V1286.5M1636.2 1263.4V1286.5M1637.4 1263.4V1286.5M1638.7 1266.1V1286.5M1639.9 1268.2V1286.5M1641.2 1269.9V1286.5M1642.4 1271.4V1286.5M1643.7 1271.7V1286.5M1644.9 1273.1V1286.5M1646.2 1273.9V1286.5M1647.4 1275.2V1286.5M1648.7 1275.1V1286.5M1649.9 1275.1V1286.5M1651.2 1275.2V1286.5M1652.4 1275.3V1286.5M1653.7 1274.4V1286.5M1654.9 1276.2V1286.5M1656.2 1278.8V1286.5M1657.4 1282V1286.5M1658.7 1282.5V1286.5M1659.9 1279.3V1286.5M1661.2 1277V1286.5M1662.4 1274.9V1286.5M1663.7 1274.6V1286.5" stroke="#bebebe" stroke-width="4.4" stroke-linecap="round" fill="none"/>
<rect x="1665.4" y="1291.1" width="31.1" height="78.8" fill="#666666"/>
<path d="M1667.2 1284V1292.1M1668.5 1288.1V1292.1M1669.7 1284.8V1292.1M1671 1281.6V1292.1M1672.2 1278V1292.1M1673.5 1276.2V1292.1M1674.7 1275.1V1292.1M1676 1275V1292.1M1677.2 1274.5V1292.1M1678.5 1274V1292.1M1679.7 1272.1V1292.1M1681 1271.1V1292.1M1682.2 1268.9V1292.1M1683.5 1270.8V1292.1M1684.7 1272.4V1292.1M1686 1274.4V1292.1M1687.2 1276.6V1292.1M1688.5 1277.4V1292.1M1689.7 1278.9V1292.1M1691 1280.4V1292.1M1692.2 1276.2V1292.1M1693.5 1272.3V1292.1M1694.7 1268.8V1292.1" stroke="#666666" stroke-width="4.4" stroke-linecap="round" fill="none"/>
<rect x="1696.3" y="1293" width="35.4" height="76.9" fill="#bebebe"/>
<path d="M1698.1 1268.5V1294M1699.4 1269.7V1294M1700.6 1270.4V1294M1701.9 1271.7V1294M1703.1 1272.7V1294M1704.4 1273.3V1294M1705.6 1272.7V1294M1706.9 1271.7V1294M1708.1 1270.1V1294M1709.4 1268.8V1294M1710.6 1270V1294M1711.9 1271.3V1294M1713.1 1273.3V1294M1714.4 1274.4V1294M1715.6 1277.5V1294M1716.9 1281.5V1294M1718.1 1285.5V1294M1719.4 1288.8V1294M1720.6 1290V1294M1721.9 1285.8V1294M1723.1 1280.8V1294M1724.4 1276.3V1294M1725.6 1272.9V1294M1726.9 1272.1V1294M1728.1 1272V1294M1729.4 1271.6V1294" stroke="#bebebe" stroke-width="4.4" stroke-linecap="round" fill="none"/>
<rect x="1731.6" y="1289.1" width="36.2" height="80.8" fill="#666666"/>
<path d="M1733.4 1283.1V1290.1M1734.6 1286.1V1290.1M1735.9 1284V1290.1M1737.1 1282.1V1290.1M1738.4 1279.6V1290.1M1739.6 1278.2V1290.1M1740.9 1277.7V1290.1M1742.1 1276.7V1290.1M1743.4 1276.3V1290.1M1744.6 1276.5V1290.1M1745.9 1276.8V1290.1M1747.1 1276.2V1290.1M1748.4 1275.5V1290.1M1749.6 1274.8V1290.1M1750.9 1275.3V1290.1M1752.1 1275.5V1290.1M1753.4 1275V1290.1M1754.6 1275V1290.1M1755.9 1274.9V1290.1M1757.1 1275.4V1290.1M1758.4 1275.7V1290.1M1759.6 1275.8V1290.1M1760.9 1274.2V1290.1M1762.1 1273.8V1290.1M1763.4 1272.2V1290.1M1764.6 1270.8V1290.1M1765.9 1271.8V1290.1" stroke="#666666" stroke-width="4.4" stroke-linecap="round" fill="none"/>
<rect x="1767.6" y="1283.3" width="41.9" height="86.6" fill="#bebebe"/>
<path d="M1769.4 1277.7V1284.3M1770.6 1277.3V1284.3M1771.9 1278.1V1284.3M1773.1 1278.9V1284.3M1774.4 1279.7V1284.3M1775.6 1280.3V1284.3M1776.9 1277.7V1284.3M1778.1 1275.4V1284.3M1779.4 1274.1V1284.3M1780.6 1272V1284.3M1781.9 1272.8V1284.3M1783.1 1274.1V1284.3M1784.4 1274.1V1284.3M1785.6 1274.6V1284.3M1786.9 1275.2V1284.3M1788.1 1274.6V1284.3M1789.4 1274.2V1284.3M1790.6 1273.9V1284.3M1791.9 1273.6V1284.3M1793.1 1273.7V1284.3M1794.4 1273.5V1284.3M1795.6 1273.7V1284.3M1796.9 1273.8V1284.3M1798.1 1273.6V1284.3M1799.4 1273.4V1284.3M1800.6 1273.5V1284.3M1801.9 1273.9V1284.3M1803.1 1274.9V1284.3M1804.4 1275.3V1284.3M1805.6 1275.4V1284.3M1806.9 1274.6V1284.3M1808.1 1274.5V1284.3" stroke="#bebebe" stroke-width="4.4" stroke-linecap="round" fill="none"/>
<rect x="1809.2" y="1284.5" width="20.4" height="85.4" fill="#666666"/>
<path d="M1811 1273.1V1285.5M1812.3 1272.3V1285.5M1813.5 1271.8V1285.5M1814.8 1270.7V1285.5M1816 1271.1V1285.5M1817.3 1274.8V1285.5M1818.5 1277.9V1285.5M1819.8 1281.5V1285.5M1821 1281V1285.5M1822.3 1277.1V1285.5M1823.5 1273.9V1285.5M1824.8 1270.9V1285.5M1826 1274.7V1285.5M1827.3 1270.5V1285.5" stroke="#666666" stroke-width="4.4" stroke-linecap="round" fill="none"/>
<rect x="1829.5" y="1291.2" width="29.8" height="78.7" fill="#bebebe"/>
<path d="M1831.3 1274.3V1292.2M1832.5 1280.1V1292.2M1833.8 1282.9V1292.2M1835 1285.5V1292.2M1836.3 1287.6V1292.2M1837.5 1288.2V1292.2M1838.8 1282.7V1292.2M1840 1277.8V1292.2M1841.3 1273V1292.2M1842.5 1268.7V1292.2M1843.8 1271.4V1292.2M1845 1274.6V1292.2M1846.3 1277.9V1292.2M1847.5 1281.3V1292.2M1848.8 1279.9V1292.2M1850 1277.4V1292.2M1851.3 1275.5V1292.2M1852.5 1273.2V1292.2M1853.8 1273.6V1292.2M1855 1275.8V1292.2M1856.3 1277.5V1292.2M1857.5 1280V1292.2" stroke="#bebebe" stroke-width="4.4" stroke-linecap="round" fill="none"/>
<rect x="1859" y="1293.6" width="17.1" height="76.3" fill="#666666"/>
<path d="M1860.8 1290.6V1294.6M1862.1 1285.8V1294.6M1863.3 1281.4V1294.6M1864.6 1275.5V1294.6M1865.8 1270.4V1294.6M1867.1 1265.6V1294.6M1868.3 1261.2V1294.6M1869.6 1258V1294.6M1870.8 1259.4V1294.6M1872.1 1260.3V1294.6M1873.3 1261.1V1294.6M1874.6 1266.9V1294.6" stroke="#666666" stroke-width="4.4" stroke-linecap="round" fill="none"/>
<rect x="1875.9" y="1288" width="32.8" height="81.9" fill="#bebebe"/>
<path d="M1877.7 1281.7V1289M1878.9 1284.4V1289M1880.2 1285V1289M1881.4 1284.6V1289M1882.7 1283.3V1289M1883.9 1283V1289M1885.2 1282V1289M1886.4 1280.6V1289M1887.7 1278.9V1289M1888.9 1276.6V1289M1890.2 1274V1289M1891.4 1273.4V1289M1892.7 1273.9V1289M1893.9 1274.9V1289M1895.2 1276V1289M1896.4 1277.3V1289M1897.7 1278.7V1289M1898.9 1278.1V1289M1900.2 1277.4V1289M1901.4 1276.9V1289M1902.7 1277.1V1289M1903.9 1277.8V1289M1905.2 1278.3V1289M1906.4 1279.1V1289" stroke="#bebebe" stroke-width="4.4" stroke-linecap="round" fill="none"/>
<rect x="1908.5" y="1286.5" width="25.9" height="83.4" fill="#666666"/>
<path d="M1910.3 1283.5V1287.5M1911.6 1282.9V1287.5M1912.8 1281V1287.5M1914.1 1280.1V1287.5M1915.3 1278.9V1287.5M1916.6 1277.9V1287.5M1917.8 1278.2V1287.5M1919.1 1277.6V1287.5M1920.3 1276.2V1287.5M1921.6 1275.3V1287.5M1922.8 1274.7V1287.5M1924.1 1274.4V1287.5M1925.3 1273.7V1287.5M1926.6 1273.6V1287.5M1927.8 1274.2V1287.5M1929.1 1275.1V1287.5M1930.3 1276V1287.5M1931.6 1277.7V1287.5M1932.8 1278.6V1287.5" stroke="#666666" stroke-width="4.4" stroke-linecap="round" fill="none"/>
<rect x="1934.2" y="1290.3" width="23.4" height="79.6" fill="#bebebe"/>
<path d="M1936 1281V1291.3M1937.3 1280.9V1291.3M1938.5 1278.9V1291.3M1939.8 1275.1V1291.3M1941 1271.3V1291.3M1942.3 1271.6V1291.3M1943.5 1272.4V1291.3M1944.8 1272.9V1291.3M1946 1275.6V1291.3M1947.3 1281.4V1291.3M1948.5 1287.3V1291.3M1949.8 1286.5V1291.3M1951 1284.1V1291.3M1952.3 1280.4V1291.3M1953.5 1277.7V1291.3M1954.8 1276.6V1291.3M1956 1276.6V1291.3" stroke="#bebebe" stroke-width="4.4" stroke-linecap="round" fill="none"/>
<rect x="1957.4" y="1290.3" width="23" height="79.6" fill="#666666"/>
<path d="M1959.2 1282.2V1291.3M1960.5 1279.6V1291.3M1961.7 1276V1291.3M1963 1272.5V1291.3M1964.2 1271.1V1291.3M1965.5 1272.8V1291.3M1966.7 1275.4V1291.3M1968 1277V1291.3M1969.2 1279.4V1291.3M1970.5 1281.7V1291.3M1971.7 1284.4V1291.3M1973 1287.3V1291.3M1974.2 1284.6V1291.3M1975.5 1281.5V1291.3M1976.7 1280.1V1291.3M1978 1279V1291.3M1979.2 1278.7V1291.3" stroke="#666666" stroke-width="4.4" stroke-linecap="round" fill="none"/>
<rect x="1980.2" y="1283.6" width="27.7" height="86.3" fill="#bebebe"/>
<path d="M1982 1277.1V1284.6M1983.3 1275.7V1284.6M1984.5 1273.2V1284.6M1985.8 1270.9V1284.6M1987 1269.3V1284.6M1988.3 1268.2V1284.6M1989.5 1270.3V1284.6M1990.8 1272.2V1284.6M1992 1273.5V1284.6M1993.3 1274.5V1284.6M1994.5 1276V1284.6M1995.8 1277V1284.6M1997 1278.6V1284.6M1998.3 1280V1284.6M1999.5 1279.9V1284.6M2000.8 1279.9V1284.6M2002 1280.6V1284.6M2003.3 1280V1284.6M2004.5 1279.7V1284.6M2005.8 1279.4V1284.6" stroke="#bebebe" stroke-width="4.4" stroke-linecap="round" fill="none"/>
<rect x="2007.7" y="1283.6" width="20.8" height="86.3" fill="#666666"/>
<path d="M2009.5 1276.1V1284.6M2010.8 1274.9V1284.6M2012 1273.1V1284.6M2013.3 1271.6V1284.6M2014.5 1269.5V1284.6M2015.8 1268.5V1284.6M2017 1271.8V1284.6M2018.3 1275.3V1284.6M2019.5 1277.9V1284.6M2020.8 1280.6V1284.6M2022 1277.9V1284.6M2023.3 1275.8V1284.6M2024.5 1272.5V1284.6M2025.8 1266.1V1284.6M2027 1258.3V1284.6" stroke="#666666" stroke-width="4.4" stroke-linecap="round" fill="none"/>
<rect x="2028.4" y="1286.6" width="21.4" height="83.3" fill="#bebebe"/>
<path d="M2030.2 1275.8V1287.6M2031.4 1280.9V1287.6M2032.7 1281.1V1287.6M2033.9 1277.1V1287.6M2035.2 1272.9V1287.6M2036.4 1270.1V1287.6M2037.7 1270.4V1287.6M2038.9 1271.8V1287.6M2040.2 1271.7V1287.6M2041.4 1271.7V1287.6M2042.7 1275.3V1287.6M2043.9 1279.3V1287.6M2045.2 1283V1287.6M2046.4 1283.4V1287.6M2047.7 1283.6V1287.6" stroke="#bebebe" stroke-width="4.4" stroke-linecap="round" fill="none"/>
<rect x="2049.6" y="1286.8" width="23" height="83.1" fill="#666666"/>
<path d="M2051.4 1283.8V1287.8M2052.6 1279.8V1287.8M2053.9 1275.8V1287.8M2055.1 1272.5V1287.8M2056.4 1269.8V1287.8M2057.6 1274.3V1287.8M2058.9 1278.5V1287.8M2060.1 1281V1287.8M2061.4 1280.8V1287.8M2062.6 1280.4V1287.8M2063.9 1280.3V1287.8M2065.1 1278V1287.8M2066.4 1274.8V1287.8M2067.6 1271.5V1287.8M2068.9 1267.8V1287.8M2070.1 1273.1V1287.8M2071.4 1279.8V1287.8" stroke="#666666" stroke-width="4.4" stroke-linecap="round" fill="none"/>
<rect x="2072.4" y="1282.5" width="24.2" height="87.4" fill="#bebebe"/>
<path d="M2074.2 1276.5V1283.5M2075.4 1276.7V1283.5M2076.7 1276.8V1283.5M2077.9 1277.8V1283.5M2079.2 1279.5V1283.5M2080.4 1278.8V1283.5M2081.7 1278.8V1283.5M2082.9 1278V1283.5M2084.2 1278V1283.5M2085.4 1278V1283.5M2086.7 1277.4V1283.5M2087.9 1276.2V1283.5M2089.2 1275.3V1283.5M2090.4 1274V1283.5M2091.7 1272V1283.5M2092.9 1269.3V1283.5M2094.2 1268.9V1283.5" stroke="#bebebe" stroke-width="4.4" stroke-linecap="round" fill="none"/>
<rect x="2096.4" y="1290.2" width="22.5" height="79.7" fill="#666666"/>
<path d="M2098.2 1275.1V1291.2M2099.5 1274.3V1291.2M2100.7 1271.3V1291.2M2102 1268.2V1291.2M2103.2 1264.2V1291.2M2104.5 1262.7V1291.2M2105.7 1262.4V1291.2M2107 1268.2V1291.2M2108.2 1280.4V1291.2M2109.5 1287.2V1291.2M2110.7 1286.7V1291.2M2112 1285.8V1291.2M2113.2 1284.7V1291.2M2114.5 1282.1V1291.2M2115.7 1277.6V1291.2M2117 1272.6V1291.2" stroke="#666666" stroke-width="4.4" stroke-linecap="round" fill="none"/>
<rect x="2118.9" y="1304.2" width="59.1" height="65.7" fill="#8e8e8e"/>
<path d="M2119.5 1304.2V1369.9M2123.2 1304.2V1369.9M2126.9 1304.2V1369.9M2130.6 1304.2V1369.9M2134.3 1304.2V1369.9M2138 1304.2V1369.9M2141.7 1304.2V1369.9M2145.4 1304.2V1369.9M2149.1 1304.2V1369.9M2152.8 1304.2V1369.9M2156.5 1304.2V1369.9M2160.2 1304.2V1369.9M2163.9 1304.2V1369.9M2167.6 1304.2V1369.9M2171.3 1304.2V1369.9M2175 1304.2V1369.9" stroke="#727272" stroke-width="1.1" fill="none"/>
<path d="M2121.4 1304.2V1369.9M2125.1 1304.2V1369.9M2128.8 1304.2V1369.9M2132.5 1304.2V1369.9M2136.2 1304.2V1369.9M2139.9 1304.2V1369.9M2143.6 1304.2V1369.9M2147.3 1304.2V1369.9M2151 1304.2V1369.9M2154.7 1304.2V1369.9M2158.4 1304.2V1369.9M2162.1 1304.2V1369.9M2165.8 1304.2V1369.9M2169.5 1304.2V1369.9M2173.2 1304.2V1369.9M2176.9 1304.2V1369.9" stroke="#a8a8a8" stroke-width="0.9" fill="none"/>
<path d="M2125 1297.8V1306.2M2129.8 1287.3V1306.2M2132.2 1287.9V1306.2M2134.6 1288.8V1306.2M2141.8 1287.9V1306.2M2144.2 1284.2V1306.2M2149 1276.7V1306.2M2153.8 1263.4V1306.2M2156.2 1278.6V1306.2M2161 1278.2V1306.2M2168.2 1280.9V1306.2M2170.6 1279.2V1306.2" stroke="#6a6a6a" stroke-width="2.6" fill="none"/>
<path d="M2120.2 1296.5V1306.2M2127.4 1290.2V1306.2M2137 1288.4V1306.2M2139.4 1285V1306.2M2151.4 1271.3V1306.2M2158.6 1281.8V1306.2M2165.8 1276.6V1306.2M2173 1274.7V1306.2" stroke="#b8b8b8" stroke-width="2.6" fill="none"/>
<path d="M2122.6 1264.1V1306.2M2146.6 1281.2V1306.2M2163.4 1277.7V1306.2M2175.4 1280V1306.2" stroke="#8e8e8e" stroke-width="2.6" fill="none"/>
<path d="M1561.9 1278.6h0M1566.4 1270h0M1569.8 1267.2h0M1575.1 1263.5h0M1579.3 1254.5h0M1583.4 1256.2h0M1586.5 1265h0M1592.3 1263.2h0M1596.7 1259.5h0M1601.3 1253.6h0M1605.2 1264.9h0M1610.2 1262.5h0M1615.3 1264.8h0M1618 1270.9h0M1621.9 1265.3h0M1625.5 1270.4h0M1668.6 1288h0M1672.9 1276.6h0M1678.3 1274.4h0M1684.2 1268.4h0M1687.6 1276.7h0M1690.6 1280.8h0M1734.7 1287.2h0M1737.9 1280.4h0M1743 1274.8h0M1747.7 1273.4h0M1752 1272.3h0M1755.1 1273.6h0M1759.6 1272.7h0M1763.8 1270.1h0M1813.5 1272.7h0M1818.3 1274.4h0M1821.1 1278.8h0M1823.7 1273.2h0M1827.4 1271.2h0M1863.4 1278.3h0M1866.1 1269.7h0M1870.3 1256.7h0M1873.6 1259h0M1912.7 1280.1h0M1917.4 1275.1h0M1923.1 1274.3h0M1926.1 1274.9h0M1929.9 1272.9h0M1961 1277.5h0M1963.6 1268.5h0M1969.5 1278.3h0M1972.4 1286.3h0M1977.2 1279.2h0M2010.7 1274h0M2016.6 1270.6h0M2020.6 1278.7h0M2023.8 1275.6h0M2053.2 1278.8h0M2057 1271.6h0M2063 1280.3h0M2066.9 1272.3h0M2099 1274.5h0M2103.3 1264.7h0M2106.1 1262.6h0M2109.8 1283.3h0M2115.1 1280.8h0" stroke="#5e5e5e" stroke-width="4.4" stroke-linecap="round" fill="none"/>
<path d="M1566.2 1270.5h0M1575.2 1263.8h0M1579.7 1259.9h0M1583.4 1262.1h0M1587.4 1266.5h0M1611.3 1265.1h0M1616.3 1268h0M1621.6 1268.4h0M1626.8 1272.9h0M1677.9 1276.1h0M1683.9 1275.2h0M1687.7 1278.1h0M1747.4 1279.6h0M1753.4 1276.3h0M1760.3 1276.9h0M1817.3 1280.5h0M1822.3 1281.1h0M1822.9 1276.9h0M1828.5 1273.1h0M1865.4 1270.6h0M1871.5 1257.5h0M1873.2 1262.3h0M1917.3 1277.6h0M1923.4 1275.2h0M1930.7 1276.2h0M1962.4 1280.3h0M1969.7 1283h0M1973.2 1289.3h0M1977.6 1281.9h0M2011.1 1274.5h0M2021.4 1282.6h0M2023.5 1277.2h0M2053.7 1279.2h0M2057.5 1273h0M2067.7 1276.9h0M2105.7 1265.5h0" stroke="#666666" stroke-width="4.4" stroke-linecap="round" fill="none"/>
<path d="M1562.2 1273.8h0M1565.7 1268h0M1569 1265.5h0M1575.1 1258.8h0M1579.5 1250.2h0M1584.3 1254.8h0M1590 1258.8h0M1592.9 1252.8h0M1595.3 1253.2h0M1600.3 1240.4h0M1605 1261.8h0M1608.1 1257.7h0M1613.1 1259.9h0M1620.6 1263.9h0M1625.9 1267.2h0M1673.4 1269.2h0M1677.1 1266.2h0M1680.5 1259.1h0M1684.6 1267.6h0M1688.4 1272.6h0M1735.4 1275.3h0M1741.5 1272.6h0M1747.7 1270.4h0M1752.1 1270.8h0M1759.2 1266.5h0M1813 1265.5h0M1815.9 1266.2h0M1821.5 1269.2h0M1825.8 1268.4h0M1866 1262.8h0M1872.7 1250.7h0M1915.2 1272.1h0M1918.5 1272.7h0M1922.5 1268.1h0M1925.9 1269h0M1964.1 1267h0M1970.2 1275.7h0M1974.9 1277.6h0M2015.1 1261.4h0M2019.1 1273.3h0M2023.2 1272h0M2057.3 1267.8h0M2062.8 1271.5h0M2101.9 1257.7h0M2104.8 1257.7h0M2107.9 1271.7h0M2113.3 1279.6h0M1614.4 1221.4h0M1581 1232.1h0M1573.6 1235.3h0M1573.6 1239.9h0M1581 1239.9h0M1593.5 1234h0M1600.9 1235.3h0M1600.9 1243h0M1615.3 1239.9h0M1622.5 1243.9h0M1630.3 1238.7h0M1562.3 1248.2h0M1568.9 1254.3h0M1573.2 1249.1h0M1578.4 1246.5h0M1583.6 1246.5h0M1581 1250h0M1594 1249.1h0M1587.9 1256h0M1619.1 1251.2h0M1622.9 1258.6h0M1600.9 1250h0M1630.3 1250h0M1630.3 1250h0M1615.6 1251.7h0M1670.1 1242.7h0M1676.5 1248.2h0M1672.2 1259.5h0M1679.6 1257.8h0M1683.9 1261.2h0M1678.8 1264.7h0M1693.5 1248.2h0M1696.1 1254.3h0M1696.1 1260.3h0M1758 1230.1h0M1742.8 1231.3h0M1742.8 1241h0M1746.6 1239.9h0M1750.9 1247.4h0M1758 1247.4h0M1736.2 1253.4h0M1742.8 1252.6h0M1743.6 1257.2h0M1758.3 1256.9h0M1765.3 1255.2h0M1765.3 1259h0M1737.6 1265.9h0M1754.4 1262.4h0M1741.9 1270.7h0M1758.3 1267.3h0M1736.4 1275.9h0M1831.9 1228.3h0M1831.9 1230.9h0M1817.5 1255.5h0M1831.9 1246h0M1831.9 1250h0M1831.9 1254.8h0M1831.3 1254.8h0M1824.1 1262.6h0M1812 1265.5h0M1818.9 1268.7h0M1831.8 1228.3h0M1831.8 1230.9h0M1831.8 1246h0M1831.8 1250h0M1831.8 1254.8h0M1831.2 1254.8h0M1823.8 1262.6h0M1820 1268.7h0M1873.3 1220.9h0M1873.3 1230.1h0M1873.3 1235.3h0M1873.3 1240.4h0M1873.3 1246h0M1864.3 1234.4h0M1864.3 1246h0M1864.5 1263.5h0M1866.7 1252.6h0M1871 1253.4h0M1877.6 1259.8h0M1863.3 1270.7h0M1878.8 1275.1h0M1912.7 1244.3h0M1935.1 1259h0M1927.3 1261.6h0M1929 1263.8h0M1911.7 1265h0M1918.6 1268.1h0M1914.3 1272.5h0M1927.3 1269h0M1976.9 1215.2h0M1964.6 1221.8h0M1961.3 1229.2h0M1964.6 1244.9h0M1976.6 1232.1h0M1976.9 1238.7h0M1977.4 1245.6h0M1977.4 1245.6h0M1962.2 1260.3h0M1963.6 1262.1h0M2026.7 1220.6h0M2013.8 1230.1h0M2010 1233.5h0M2016.4 1235.8h0M2013.8 1237.5h0M2028.5 1238.7h0M2017.2 1252.6h0M2013.4 1253.9h0M2027.6 1250h0M2016.4 1264.3h0M2060 1234h0M2059.1 1246h0M2058.8 1256.4h0M2063.9 1258.1h0M2070.9 1261.2h0M2055.3 1263.8h0M2058.8 1265.5h0M2063.9 1269.9h0M2070 1265h0M2069.1 1271.6h0M2073.5 1279h0M2106 1206.2h0M2106 1228.3h0M2119.3 1228.3h0M2108.1 1234.9h0M2106 1241h0M2106 1248.2h0M2106 1254.8h0M2114.1 1254.8h0M2117.6 1267.3h0M2112.9 1275.1h0M2149.1 1202.7h0M2131.4 1252.6h0M2131.4 1255.2h0M2131.4 1258.6h0M2131.4 1263.8h0M2131.4 1268.1h0M2141.8 1261.2h0M2155.6 1259.5h0M2160.8 1260.3h0M2174.3 1267.3h0M2128.5 1275.6h0M2128.8 1283.7h0M2175.5 1279.9h0M2175.5 1288.9h0" stroke="#4d4d4d" stroke-width="4.4" stroke-linecap="round" fill="none"/>
<path d="M1632.9 1264.1h0M1632.2 1268.8h0M1638.8 1263.8h0M1642.2 1271.1h0M1642.3 1272.6h0M1646.4 1272.7h0M1650.2 1274.8h0M1655.6 1276h0M1660.2 1278.6h0M1632.7 1252.2h0M1639.9 1256.4h0M1643.5 1260.2h0M1652.2 1261.1h0M1656 1274.4h0M1660.5 1274.5h0M1700.1 1268.8h0M1705.7 1270.3h0M1710.4 1268.1h0M1715.8 1275.7h0M1715 1281.5h0M1719.2 1287.5h0M1719 1288.1h0M1725 1272.7h0M1728.2 1270.1h0M1700.4 1265.4h0M1705.7 1268.6h0M1710.4 1254.4h0M1714.2 1268.5h0M1719.2 1283.1h0M1723.2 1265.6h0M1726.6 1267.6h0M1771.8 1277h0M1776.1 1276.9h0M1781.8 1272.3h0M1783.1 1275.4h0M1787 1272.9h0M1787.5 1277.8h0M1790.3 1274.5h0M1791.1 1275.5h0M1794.8 1271h0M1795.4 1275.6h0M1797.6 1273.6h0M1796.5 1276.1h0M1803.5 1276h0M1803 1278.8h0M1807.3 1275.2h0M1806 1277.8h0M1774.7 1274.8h0M1780.5 1265.9h0M1783.3 1269h0M1787.5 1266.8h0M1792.3 1261.3h0M1796.8 1268.3h0M1832.3 1279.6h0M1833.2 1283.1h0M1835.2 1283.8h0M1833.9 1286.3h0M1839.8 1276.4h0M1845.6 1275.6h0M1851.1 1273.7h0M1856 1277.9h0M1833.9 1271.5h0M1844.4 1261.8h0M1851.6 1270.5h0M1878.7 1280.5h0M1877.4 1284.8h0M1884.3 1282.2h0M1884.1 1283.8h0M1890.1 1272.5h0M1890.4 1275.6h0M1895.9 1277.2h0M1901.1 1277.2h0M1900.7 1280.5h0M1905.2 1275h0M1905.2 1280h0M1882.6 1278.7h0M1889.1 1272.7h0M1891.4 1270.3h0M1895.1 1270.4h0M1900.6 1272.4h0M1905.5 1272.1h0M1938.4 1277.1h0M1942.5 1272.4h0M1943.4 1271.8h0M1946.9 1278.8h0M1945.5 1282.6h0M1949.6 1285.3h0M1952.2 1277.6h0M1955.6 1275.9h0M1956.2 1280.1h0M1938.6 1274.2h0M1945.5 1266.4h0M1948.7 1282.9h0M1952.4 1272.9h0M1954.5 1270.2h0M1983.4 1273.7h0M1983.6 1276.9h0M1987.3 1266.8h0M1986.5 1271.3h0M1991.7 1273.1h0M1996.5 1277.6h0M2001.9 1277.2h0M2003 1282.5h0M1985.1 1267.3h0M1989.7 1265.7h0M1993.4 1263.4h0M1997.2 1269.9h0M2002.5 1272.1h0M2032.4 1279.3h0M2038.1 1271.9h0M2036.8 1272.8h0M2044 1277h0M2035.7 1268h0M2038.8 1259.5h0M2044.7 1271h0M2076.3 1276.3h0M2077.3 1278.5h0M2080.8 1276.6h0M2085.8 1275.1h0M2084.6 1277.5h0M2091.1 1268.8h0M2091.6 1274.8h0M2077.8 1269.6h0M2080.1 1273.7h0M2083.7 1273.6h0M2088.6 1268.8h0M2091.2 1265.5h0M1641.2 1241h0M1654.2 1238.4h0M1641.2 1252h0M1648.5 1255.2h0M1654.2 1254.3h0M1664.9 1264.3h0M1654.5 1263.8h0M1638.1 1261.2h0M1648.5 1268.1h0M1708.5 1212.2h0M1708.5 1232.1h0M1709.6 1248.6h0M1709.6 1251.7h0M1730.3 1248.6h0M1727.2 1253.4h0M1732.4 1256.9h0M1701.2 1265h0M1709.9 1264.3h0M1725.5 1262.9h0M1731.5 1263.8h0M1806.8 1232.3h0M1771.8 1243.4h0M1804.2 1259.1h0M1783.4 1258.6h0M1786.9 1257.4h0M1798.1 1264.3h0M1808.5 1265.5h0M1792.9 1268.1h0M1839.7 1256h0M1855.1 1236.5h0M1853.7 1243.6h0M1840.8 1256h0M1858.1 1253.4h0M1850.3 1259.5h0M1854.6 1261.2h0M1842.5 1265.5h0M1896.6 1210.7h0M1879.3 1239.6h0M1889.2 1246.2h0M1890.1 1250h0M1898.4 1251.7h0M1906.5 1250.8h0M1907.4 1253.4h0M1886.6 1259.1h0M1890.9 1262.9h0M1894.4 1265h0M1900.4 1263.8h0M1905.6 1260h0M1879.7 1268.1h0M1901.3 1269.3h0M1940.2 1224.5h0M1940.2 1235.3h0M1953.6 1250h0M1940.8 1251.2h0M1942.8 1256.4h0M1939.4 1258.6h0M1939.4 1267.3h0M1945.4 1268.7h0M1992.1 1253.1h0M1984 1256.4h0M1998.7 1261.2h0M1987.8 1262.9h0M1999.9 1270.2h0M2008.6 1269h0M2008.9 1240.6h0M2048.4 1237h0M2037.5 1239.9h0M2038 1256.4h0M2048.4 1244.8h0M2048.4 1244.8h0M2044.9 1258.6h0M2092 1222.6h0M2093.4 1248.4h0M2089.4 1257.8h0M2078.7 1260h0M2093.4 1263.8h0M2076.1 1269.9h0M2083 1272.5h0M2098.5 1263.8h0M2163.8 1230.9h0M2122.8 1239.9h0M2163.8 1241.8h0M2121.9 1250h0M2122.8 1253.4h0M2163.4 1250h0M2164.3 1253.4h0M2172.9 1255.7h0M2141.8 1267.3h0M2162.6 1263.8h0M2168.6 1264.7h0M2171.2 1269.9h0M2134.5 1273.3h0M2164.3 1273.3h0" stroke="#bebebe" stroke-width="4.4" stroke-linecap="round" fill="none"/>
<path d="M2120.2 1306.4h0M2121 1316.8h0M2123 1291.6h0M2124 1295.1h0M2128.4 1290.5h0M2133.5 1287h0M2139.8 1286h0M2138.6 1289h0M2139 1293h0M2142.9 1294.7h0M2146.6 1285h0M2145.6 1289.5h0M2147.1 1295h0M2158.5 1287.6h0M2161.3 1284.5h0M2160.1 1288.9h0M2166.3 1276.4h0M2166.1 1281.3h0M2171.8 1277.5h0M2177.4 1291h0M2175.2 1295.6h0" stroke="#c4c4c4" stroke-width="3.8" stroke-linecap="round" fill="none"/>
<path d="M2122.1 1309.7h0M2126.7 1294.8h0M2127 1302.7h0M2130.1 1285.6h0M2129.9 1295.9h0M2133.5 1291.3h0M2132.2 1297.9h0M2135.5 1285.9h0M2136 1293.3h0M2138.4 1296.1h0M2141.9 1283.1h0M2142.2 1286.6h0M2142.8 1291.5h0M2145.6 1282h0M2148.3 1279.1h0M2148.2 1290.9h0M2150.7 1270h0M2150.5 1273.8h0M2151.6 1279h0M2153.1 1266h0M2153.3 1275h0M2154.6 1278.3h0M2161.3 1278.1h0M2160.5 1281.1h0M2163.7 1275.3h0M2167.6 1284.5h0M2168.6 1286.3h0M2169.2 1290.4h0M2171.2 1283.9h0M2171.4 1288.7h0M2175.1 1286.6h0M2175.2 1285.6h0" stroke="#5a5a5a" stroke-width="3.8" stroke-linecap="round" fill="none"/>
<path d="M2120.5 1324.4h0M2125 1317.4h0M2126.1 1317.8h0M2127.7 1336.2h0M2129.8 1314.7h0M2133.5 1316.2h0M2135.6 1302.1h0M2139.1 1314.9h0M2142.2 1299.9h0M2143.9 1330.1h0M2145.3 1317.6h0M2147.8 1299.1h0M2150.3 1310h0M2154.8 1282.5h0M2154.4 1300.6h0M2158.4 1300.2h0M2158.6 1307.9h0M2163.2 1299.2h0M2166.5 1292.4h0M2170.3 1302.9h0M2172.2 1297.9h0M2173.8 1316.6h0M2176 1317.2h0" stroke="#5a5a5a" stroke-width="3" stroke-linecap="round" fill="none"/>
<path d="M2121.5 1334.1h0M2124.7 1321.9h0M2125 1328.9h0M2125.5 1307.6h0M2127 1322.7h0M2128.4 1318.7h0M2131.3 1305.7h0M2132.3 1319.5h0M2136.9 1306.8h0M2136.3 1331.6h0M2141.8 1308.2h0M2141.9 1318.1h0M2145.4 1299.4h0M2145.2 1321.6h0M2152.6 1284.2h0M2152.2 1287.3h0M2152.2 1296.1h0M2152.3 1299.7h0M2154.9 1304.4h0M2157.4 1328.8h0M2159.7 1300.5h0M2160.4 1305.9h0M2161.7 1312.3h0M2168.8 1306.3h0M2172.3 1302.2h0M2171.7 1310.2h0M2173.7 1296.1h0M2173 1305.4h0M2175.4 1300.4h0M2177.4 1308.9h0" stroke="#c4c4c4" stroke-width="3" stroke-linecap="round" fill="none"/>
<path d="M2176.4 1287.6h0M2176.6 1290.9h0M2176.9 1296h0M2176.3 1299.7h0M2176.5 1326.2h0M2176.3 1331.7h0M2176.3 1341.8h0M2176.8 1353.2h0M2176.6 1358.5h0M2176.7 1364.2h0M2176.6 1367.6h0" stroke="#6a6a6a" stroke-width="4.2" stroke-linecap="round" fill="none"/>
<path d="M2176.8 1303.4h0M2177 1308.2h0M2176.9 1314.1h0M2176.7 1317.5h0M2176.4 1322.8h0M2176.7 1337.1h0M2176.7 1347.7h0" stroke="#cfcfcf" stroke-width="4.2" stroke-linecap="round" fill="none"/>
<path d="M1630.8 1252.5h0M1630.7 1254.7h0M1630.3 1256.9h0M1630.9 1259.1h0M1630.1 1261.3h0M1630.8 1263.5h0M1629.7 1265.7h0M1629.7 1267.9h0M1629.9 1270.1h0M1630 1272.3h0M1630.8 1274.5h0M1630.7 1276.7h0M1629.7 1278.9h0M1629.8 1281.1h0M1615.2 1254.2h0M1615.4 1256.4h0M1616.2 1258.6h0M1616.1 1260.8h0M1616.1 1263h0M1615.3 1265.2h0M1615.8 1267.4h0M1615.8 1269.6h0M1616.1 1271.8h0M1831 1257.3h0M1831.7 1259.5h0M1831.4 1261.7h0M1831.1 1263.9h0M1831.6 1266.1h0M1831.1 1268.3h0M1831.3 1270.5h0M1831.8 1272.7h0M1830.7 1274.9h0M1831.5 1277.1h0M1832 1279.3h0M1830.8 1257.3h0M1831.4 1259.5h0M1831.8 1261.7h0M1831.1 1263.9h0M1831.3 1266.1h0M1830.9 1268.3h0M1830.7 1270.5h0M1830.6 1272.7h0M1831.3 1274.9h0M1831.9 1277.1h0M1831.3 1279.3h0M1976.8 1248.1h0M1977.6 1250.3h0M1978.1 1252.5h0M1978 1254.7h0M1977.9 1256.9h0M1976.8 1259.1h0M1977 1261.3h0M1977.7 1263.5h0M1977.2 1265.7h0M1977.6 1267.9h0M1977.7 1270.1h0M1976.9 1272.3h0M1977.1 1274.5h0M1977.5 1276.7h0" stroke="#666666" stroke-width="4.8" stroke-linecap="round" fill="none"/>
<path d="M2049 1247.3h0M2047.9 1249.5h0M2048 1251.7h0M2048.3 1253.9h0M2048.5 1256.1h0M2048.9 1258.3h0M2048.2 1260.5h0M2048.8 1262.7h0M2048.7 1264.9h0M2048.9 1267.1h0M2047.8 1269.3h0M2049.1 1271.5h0M2048.2 1273.7h0M2048.3 1275.9h0M2048.5 1278.1h0M2048.5 1280.3h0" stroke="#bebebe" stroke-width="4.8" stroke-linecap="round" fill="none"/>
<rect x="1542.4" y="1192.5" width="653.4" height="177.4" fill="none" stroke="#000" stroke-width="1.7"/>
<text x="1529.6" y="1196.4" text-anchor="end">8</text>
<text x="1529.6" y="1240.9" text-anchor="end">6</text>
<text x="1529.6" y="1285" text-anchor="end">4</text>
<text x="1529.6" y="1329.5" text-anchor="end">2</text>
<text x="1529.6" y="1373.8" text-anchor="end">0</text>
<text x="1596.5" y="1392.4" text-anchor="middle">1</text>
<text x="1651" y="1392.4" text-anchor="middle">2</text>
<text x="1682.5" y="1392.4" text-anchor="middle">3</text>
<text x="1716.3" y="1392.4" text-anchor="middle">4</text>
<text x="1751.8" y="1392.4" text-anchor="middle">5</text>
<text x="1789.6" y="1392.4" text-anchor="middle">6</text>
<text x="1821.7" y="1392.4" text-anchor="middle">7</text>
<text x="1846.9" y="1392.4" text-anchor="middle">8</text>
<text x="1867.9" y="1392.4" text-anchor="middle">9</text>
<text x="1893.8" y="1392.4" text-anchor="middle">10</text>
<text x="1924.5" y="1392.4" text-anchor="middle">11</text>
<text x="1948.5" y="1392.4" text-anchor="middle">12</text>
<text x="1996.7" y="1392.4" text-anchor="middle">14</text>
<text x="2021.1" y="1392.4" text-anchor="middle">15</text>
<text x="2063.7" y="1392.4" text-anchor="middle">17</text>
<text x="2086.7" y="1392.4" text-anchor="middle">18</text>
<text x="2110.9" y="1392.4" text-anchor="middle">19</text>
<path d="M1542.4 1192.5h-7.5M1542.4 1237h-7.5M1542.4 1281.1h-7.5M1542.4 1325.6h-7.5M1542.4 1369.9h-7.5M1596.5 1369.9v7.5M1651 1369.9v7.5M1682.5 1369.9v7.5M1716.3 1369.9v7.5M1751.8 1369.9v7.5M1789.6 1369.9v7.5M1821.7 1369.9v7.5M1846.9 1369.9v7.5M1867.9 1369.9v7.5M1893.8 1369.9v7.5M1924.5 1369.9v7.5M1948.5 1369.9v7.5M1971 1369.9v7.5M1996.7 1369.9v7.5M2021.1 1369.9v7.5M2041.7 1369.9v7.5M2063.7 1369.9v7.5M2086.7 1369.9v7.5M2110.9 1369.9v7.5" stroke="#000" stroke-width="1.7" fill="none"/>
<rect x="2121.9" y="1369.9" width="55.9" height="7.5" fill="#000"/>
<text x="2134.4" y="1392.4" text-anchor="middle">33</text>
<text x="2160.2" y="1392.4" text-anchor="middle">294</text>
<text x="1869.1" y="1417.2" text-anchor="middle" class="al">Chromosome</text>
<text transform="translate(1500.1 1281.1) rotate(-90)" text-anchor="middle" class="yl">− log<tspan dy="2.2" font-size="7.6">10</tspan><tspan dy="-2.2">(</tspan><tspan font-style="italic">p</tspan>)</text>
</g>
<g class="m">
<rect x="1558.2" y="1590.4" width="71.4" height="71" fill="#666666"/>
<path d="M1560 1587.4V1591.4M1561.2 1578.7V1591.4M1562.5 1572V1591.4M1563.7 1569.6V1591.4M1565 1566.2V1591.4M1566.2 1564.1V1591.4M1567.5 1561.7V1591.4M1568.7 1560.4V1591.4M1570 1558.8V1591.4M1571.2 1557.4V1591.4M1572.5 1558.8V1591.4M1573.7 1565.6V1591.4M1575 1573V1591.4M1576.2 1570.9V1591.4M1577.5 1569.2V1591.4M1578.7 1567.8V1591.4M1580 1566.5V1591.4M1581.2 1561.4V1591.4M1582.5 1555.7V1591.4M1583.7 1551.8V1591.4M1585 1560.1V1591.4M1586.2 1568.5V1591.4M1587.5 1576.1V1591.4M1588.7 1581.8V1591.4M1590 1582.2V1591.4M1591.2 1565.4V1591.4M1592.5 1552.1V1591.4M1593.7 1554.1V1591.4M1595 1554.5V1591.4M1596.2 1555.5V1591.4M1597.5 1558.3V1591.4M1598.7 1562.8V1591.4M1600 1567.6V1591.4M1601.2 1571.2V1591.4M1602.5 1571.6V1591.4M1603.7 1571.6V1591.4M1605 1571.4V1591.4M1606.2 1571.6V1591.4M1607.5 1569.6V1591.4M1608.7 1567.7V1591.4M1610 1566.1V1591.4M1611.2 1563.7V1591.4M1612.5 1564.4V1591.4M1613.7 1564.4V1591.4M1615 1564.4V1591.4M1616.2 1564.1V1591.4M1617.5 1563.4V1591.4M1618.7 1562.5V1591.4M1620 1561.3V1591.4M1621.2 1560.9V1591.4M1622.5 1559.8V1591.4M1623.7 1559.8V1591.4M1625 1560.6V1591.4M1626.2 1561.6V1591.4M1627.5 1562.1V1591.4" stroke="#666666" stroke-width="4.4" stroke-linecap="round" fill="none"/>
<rect x="1629.3" y="1574.9" width="36.2" height="86.5" fill="#bebebe"/>
<path d="M1631.1 1562.8V1575.9M1632.4 1562.2V1575.9M1633.6 1564.2V1575.9M1634.9 1566V1575.9M1636.1 1568.4V1575.9M1637.4 1570V1575.9M1638.6 1565.7V1575.9M1639.9 1561.8V1575.9M1641.1 1557.9V1575.9M1642.4 1559.7V1575.9M1643.6 1564.1V1575.9M1644.9 1567.7V1575.9M1646.1 1570.4V1575.9M1647.4 1568.7V1575.9M1648.6 1568V1575.9M1649.9 1567V1575.9M1651.1 1566.4V1575.9M1652.4 1567.6V1575.9M1653.6 1568.6V1575.9M1654.9 1570.1V1575.9M1656.1 1571.9V1575.9M1657.4 1570.9V1575.9M1658.6 1569.3V1575.9M1659.9 1567.9V1575.9M1661.1 1566.2V1575.9M1662.4 1566.7V1575.9M1663.6 1568.4V1575.9" stroke="#bebebe" stroke-width="4.4" stroke-linecap="round" fill="none"/>
<rect x="1665.3" y="1581.6" width="31.1" height="79.8" fill="#666666"/>
<path d="M1667.1 1570.8V1582.6M1668.4 1572.1V1582.6M1669.6 1573.1V1582.6M1670.9 1573.1V1582.6M1672.1 1573.3V1582.6M1673.4 1574V1582.6M1674.6 1575.1V1582.6M1675.9 1576.2V1582.6M1677.1 1577.2V1582.6M1678.4 1578.6V1582.6M1679.6 1577.8V1582.6M1680.9 1576V1582.6M1682.1 1574.8V1582.6M1683.4 1573.5V1582.6M1684.6 1573.4V1582.6M1685.9 1573.8V1582.6M1687.1 1574.3V1582.6M1688.4 1574.5V1582.6M1689.6 1572.7V1582.6M1690.9 1567.9V1582.6M1692.1 1564.3V1582.6M1693.4 1563.4V1582.6M1694.6 1564V1582.6" stroke="#666666" stroke-width="4.4" stroke-linecap="round" fill="none"/>
<rect x="1696.3" y="1578.6" width="35.4" height="82.8" fill="#bebebe"/>
<path d="M1698.1 1568V1579.6M1699.3 1573.9V1579.6M1700.6 1573.8V1579.6M1701.8 1571.5V1579.6M1703.1 1569.5V1579.6M1704.3 1567.7V1579.6M1705.6 1566V1579.6M1706.8 1563.8V1579.6M1708.1 1561.7V1579.6M1709.3 1559V1579.6M1710.6 1558.3V1579.6M1711.8 1557.6V1579.6M1713.1 1558.1V1579.6M1714.3 1557.2V1579.6M1715.6 1560.1V1579.6M1716.8 1567.5V1579.6M1718.1 1575.5V1579.6M1719.3 1575.6V1579.6M1720.6 1571.7V1579.6M1721.8 1568V1579.6M1723.1 1563.9V1579.6M1724.3 1561.5V1579.6M1725.6 1560.2V1579.6M1726.8 1557.9V1579.6M1728.1 1558.2V1579.6M1729.3 1559V1579.6" stroke="#bebebe" stroke-width="4.4" stroke-linecap="round" fill="none"/>
<rect x="1731.4" y="1578" width="36.2" height="83.4" fill="#666666"/>
<path d="M1733.2 1567.2V1579M1734.5 1572.1V1579M1735.7 1573.3V1579M1737 1573.8V1579M1738.2 1574.3V1579M1739.5 1575V1579M1740.7 1574.7V1579M1742 1573.9V1579M1743.2 1573.1V1579M1744.5 1572V1579M1745.7 1568.2V1579M1747 1565.1V1579M1748.2 1562.1V1579M1749.5 1559.1V1579M1750.7 1558.2V1579M1752 1558.5V1579M1753.2 1559.5V1579M1754.5 1561V1579M1755.7 1561.9V1579M1757 1561.1V1579M1758.2 1561V1579M1759.5 1560.5V1579M1760.7 1558.2V1579M1762 1554.4V1579M1763.2 1550.6V1579M1764.5 1553.1V1579M1765.7 1559.2V1579" stroke="#666666" stroke-width="4.4" stroke-linecap="round" fill="none"/>
<rect x="1767.4" y="1576.7" width="41.8" height="84.7" fill="#bebebe"/>
<path d="M1769.2 1566.5V1577.7M1770.5 1559.9V1577.7M1771.7 1555.9V1577.7M1773 1552.4V1577.7M1774.2 1548.3V1577.7M1775.5 1545.1V1577.7M1776.7 1553.9V1577.7M1778 1565.2V1577.7M1779.2 1573.7V1577.7M1780.5 1567.1V1577.7M1781.7 1561V1577.7M1783 1554.7V1577.7M1784.2 1556V1577.7M1785.5 1562.2V1577.7M1786.7 1567.3V1577.7M1788 1571.3V1577.7M1789.2 1570.5V1577.7M1790.5 1571.2V1577.7M1791.7 1571.7V1577.7M1793 1571.6V1577.7M1794.2 1572.1V1577.7M1795.5 1571.2V1577.7M1796.7 1569.7V1577.7M1798 1567.6V1577.7M1799.2 1565.5V1577.7M1800.5 1563.8V1577.7M1801.7 1562.1V1577.7M1803 1562.1V1577.7M1804.2 1564.6V1577.7M1805.5 1566.4V1577.7M1806.7 1568.4V1577.7M1808 1570.8V1577.7" stroke="#bebebe" stroke-width="4.4" stroke-linecap="round" fill="none"/>
<rect x="1809.1" y="1574.5" width="20.4" height="86.9" fill="#666666"/>
<path d="M1810.9 1570.8V1575.5M1812.1 1570.9V1575.5M1813.4 1571.5V1575.5M1814.6 1571.4V1575.5M1815.9 1570.3V1575.5M1817.1 1570V1575.5M1818.4 1568.4V1575.5M1819.6 1568.2V1575.5M1820.9 1568.9V1575.5M1822.1 1568.2V1575.5M1823.4 1566.8V1575.5M1824.6 1565.3V1575.5M1825.9 1566.3V1575.5M1827.1 1565.5V1575.5" stroke="#666666" stroke-width="4.4" stroke-linecap="round" fill="none"/>
<rect x="1829.3" y="1584.3" width="29.7" height="77.1" fill="#bebebe"/>
<path d="M1831.1 1566.5V1585.3M1832.3 1563.4V1585.3M1833.6 1562.8V1585.3M1834.8 1564V1585.3M1836.1 1565.2V1585.3M1837.3 1567V1585.3M1838.6 1570.7V1585.3M1839.8 1573.5V1585.3M1841.1 1577.5V1585.3M1842.3 1581.3V1585.3M1843.6 1576.9V1585.3M1844.8 1571.2V1585.3M1846.1 1565.7V1585.3M1847.3 1560.1V1585.3M1848.6 1554.8V1585.3M1849.8 1560.6V1585.3M1851.1 1566.9V1585.3M1852.3 1572.7V1585.3M1853.6 1576.3V1585.3M1854.8 1578V1585.3M1856.1 1579.1V1585.3M1857.3 1580.9V1585.3" stroke="#bebebe" stroke-width="4.4" stroke-linecap="round" fill="none"/>
<rect x="1858.8" y="1575.4" width="17.1" height="86" fill="#666666"/>
<path d="M1860.6 1572.4V1576.4M1861.9 1570.1V1576.4M1863.1 1567.7V1576.4M1864.4 1565.3V1576.4M1865.6 1563.3V1576.4M1866.9 1562.6V1576.4M1868.1 1563.5V1576.4M1869.4 1563.3V1576.4M1870.6 1566V1576.4M1871.9 1567.3V1576.4M1873.1 1568.9V1576.4M1874.4 1571.6V1576.4" stroke="#666666" stroke-width="4.4" stroke-linecap="round" fill="none"/>
<rect x="1875.7" y="1582.3" width="32.8" height="79.1" fill="#bebebe"/>
<path d="M1877.5 1579.3V1583.3M1878.7 1579.1V1583.3M1880 1577.8V1583.3M1881.2 1573.6V1583.3M1882.5 1569.4V1583.3M1883.7 1565.6V1583.3M1885 1564.6V1583.3M1886.2 1564.7V1583.3M1887.5 1564.2V1583.3M1888.7 1563.9V1583.3M1890 1562.4V1583.3M1891.2 1560.4V1583.3M1892.5 1559.1V1583.3M1893.7 1556.9V1583.3M1895 1557.6V1583.3M1896.2 1561.4V1583.3M1897.5 1564.4V1583.3M1898.7 1567.9V1583.3M1900 1570.1V1583.3M1901.2 1570V1583.3M1902.5 1569V1583.3M1903.7 1569.4V1583.3M1905 1568.9V1583.3M1906.2 1570.8V1583.3" stroke="#bebebe" stroke-width="4.4" stroke-linecap="round" fill="none"/>
<rect x="1908.3" y="1577" width="25.9" height="84.4" fill="#666666"/>
<path d="M1910.1 1573.2V1578M1911.4 1572.4V1578M1912.6 1570.6V1578M1913.9 1568.3V1578M1915.1 1566.9V1578M1916.4 1567.4V1578M1917.6 1569V1578M1918.9 1570V1578M1920.1 1571.3V1578M1921.4 1571.9V1578M1922.6 1572.9V1578M1923.9 1573.1V1578M1925.1 1574V1578M1926.4 1572.6V1578M1927.6 1570.4V1578M1928.9 1567.2V1578M1930.1 1564.8V1578M1931.4 1562.7V1578M1932.6 1559.8V1578" stroke="#666666" stroke-width="4.4" stroke-linecap="round" fill="none"/>
<rect x="1934" y="1578.7" width="23.4" height="82.7" fill="#bebebe"/>
<path d="M1935.8 1563.7V1579.7M1937 1566.1V1579.7M1938.3 1568.2V1579.7M1939.5 1569.1V1579.7M1940.8 1569.9V1579.7M1942 1570.8V1579.7M1943.3 1570.6V1579.7M1944.5 1570.2V1579.7M1945.8 1569.1V1579.7M1947 1568.5V1579.7M1948.3 1568.2V1579.7M1949.5 1567.3V1579.7M1950.8 1568.3V1579.7M1952 1569.7V1579.7M1953.3 1571.4V1579.7M1954.5 1573.9V1579.7M1955.8 1575.7V1579.7" stroke="#bebebe" stroke-width="4.4" stroke-linecap="round" fill="none"/>
<rect x="1957.2" y="1586.3" width="23" height="75.1" fill="#666666"/>
<path d="M1959 1578.3V1587.3M1960.2 1576.6V1587.3M1961.5 1573V1587.3M1962.7 1569.5V1587.3M1964 1571.6V1587.3M1965.2 1573.1V1587.3M1966.5 1575V1587.3M1967.7 1577.3V1587.3M1969 1578.7V1587.3M1970.2 1581.1V1587.3M1971.5 1583.3V1587.3M1972.7 1582.7V1587.3M1974 1579.3V1587.3M1975.2 1575V1587.3M1976.5 1570.9V1587.3M1977.7 1569V1587.3M1979 1570V1587.3" stroke="#666666" stroke-width="4.4" stroke-linecap="round" fill="none"/>
<rect x="1980" y="1578" width="27.7" height="83.4" fill="#bebebe"/>
<path d="M1981.8 1572.3V1579M1983 1572.8V1579M1984.3 1569.6V1579M1985.5 1562.8V1579M1986.8 1561.7V1579M1988 1565.3V1579M1989.3 1569.4V1579M1990.5 1572.5V1579M1991.8 1574.7V1579M1993 1573.8V1579M1994.3 1573.7V1579M1995.5 1573.2V1579M1996.8 1572V1579M1998 1571.9V1579M1999.3 1571.4V1579M2000.5 1570.8V1579M2001.8 1569.7V1579M2003 1571.9V1579M2004.3 1573.5V1579M2005.5 1575V1579" stroke="#bebebe" stroke-width="4.4" stroke-linecap="round" fill="none"/>
<rect x="2007.4" y="1585.1" width="20.8" height="76.3" fill="#666666"/>
<path d="M2009.2 1578.2V1586.1M2010.5 1577.3V1586.1M2011.7 1576.2V1586.1M2013 1575V1586.1M2014.2 1573.5V1586.1M2015.5 1575.1V1586.1M2016.7 1578.6V1586.1M2018 1582.1V1586.1M2019.2 1574.6V1586.1M2020.5 1565.8V1586.1M2021.7 1560.2V1586.1M2023 1556.8V1586.1M2024.2 1557.4V1586.1M2025.5 1558.1V1586.1M2026.7 1562.7V1586.1" stroke="#666666" stroke-width="4.4" stroke-linecap="round" fill="none"/>
<rect x="2028.1" y="1575.9" width="21.4" height="85.5" fill="#bebebe"/>
<path d="M2029.9 1572.9V1576.9M2031.1 1569.2V1576.9M2032.4 1568V1576.9M2033.6 1568.5V1576.9M2034.9 1569.1V1576.9M2036.1 1569.6V1576.9M2037.4 1569.8V1576.9M2038.6 1569.5V1576.9M2039.9 1568.8V1576.9M2041.1 1568.2V1576.9M2042.4 1567.3V1576.9M2043.6 1566.5V1576.9M2044.9 1565.3V1576.9M2046.1 1563.2V1576.9M2047.4 1561.3V1576.9" stroke="#bebebe" stroke-width="4.4" stroke-linecap="round" fill="none"/>
<rect x="2049.3" y="1577" width="23" height="84.4" fill="#666666"/>
<path d="M2051.1 1567.8V1578M2052.3 1574V1578M2053.6 1572.2V1578M2054.8 1569.6V1578M2056.1 1567.7V1578M2057.3 1565.7V1578M2058.6 1565.4V1578M2059.8 1567.3V1578M2061.1 1570.2V1578M2062.3 1572.6V1578M2063.6 1572.1V1578M2064.8 1570.9V1578M2066.1 1569.6V1578M2067.3 1568.2V1578M2068.6 1567.3V1578M2069.8 1568.2V1578M2071.1 1569.6V1578" stroke="#666666" stroke-width="4.4" stroke-linecap="round" fill="none"/>
<rect x="2072.1" y="1576.3" width="24.2" height="85.1" fill="#bebebe"/>
<path d="M2073.9 1570.4V1577.3M2075.1 1568V1577.3M2076.4 1563.9V1577.3M2077.6 1561.2V1577.3M2078.9 1558.9V1577.3M2080.1 1562.8V1577.3M2081.4 1566.6V1577.3M2082.6 1570.1V1577.3M2083.9 1571.8V1577.3M2085.1 1571.8V1577.3M2086.4 1571.9V1577.3M2087.6 1571.8V1577.3M2088.9 1572.1V1577.3M2090.1 1572.8V1577.3M2091.4 1572.4V1577.3M2092.6 1573V1577.3M2093.9 1573.3V1577.3" stroke="#bebebe" stroke-width="4.4" stroke-linecap="round" fill="none"/>
<rect x="2096.1" y="1582.7" width="22.5" height="78.7" fill="#666666"/>
<path d="M2097.9 1564.3V1583.7M2099.1 1557.6V1583.7M2100.4 1555.1V1583.7M2101.6 1552.5V1583.7M2102.9 1550V1583.7M2104.1 1560V1583.7M2105.4 1570.2V1583.7M2106.6 1574.2V1583.7M2107.9 1577.7V1583.7M2109.1 1579.7V1583.7M2110.4 1577.1V1583.7M2111.6 1575V1583.7M2112.9 1572.9V1583.7M2114.1 1570.8V1583.7M2115.4 1572.4V1583.7M2116.6 1573.1V1583.7" stroke="#666666" stroke-width="4.4" stroke-linecap="round" fill="none"/>
<rect x="2118.6" y="1585.8" width="59.1" height="75.6" fill="#8e8e8e"/>
<path d="M2119.2 1585.8V1661.4M2122.9 1585.8V1661.4M2126.6 1585.8V1661.4M2130.3 1585.8V1661.4M2134 1585.8V1661.4M2137.7 1585.8V1661.4M2141.4 1585.8V1661.4M2145.1 1585.8V1661.4M2148.8 1585.8V1661.4M2152.5 1585.8V1661.4M2156.2 1585.8V1661.4M2159.9 1585.8V1661.4M2163.6 1585.8V1661.4M2167.3 1585.8V1661.4M2171 1585.8V1661.4M2174.7 1585.8V1661.4" stroke="#727272" stroke-width="1.1" fill="none"/>
<path d="M2121.1 1585.8V1661.4M2124.8 1585.8V1661.4M2128.5 1585.8V1661.4M2132.2 1585.8V1661.4M2135.9 1585.8V1661.4M2139.6 1585.8V1661.4M2143.3 1585.8V1661.4M2147 1585.8V1661.4M2150.7 1585.8V1661.4M2154.4 1585.8V1661.4M2158.1 1585.8V1661.4M2161.8 1585.8V1661.4M2165.5 1585.8V1661.4M2169.2 1585.8V1661.4M2172.9 1585.8V1661.4M2176.6 1585.8V1661.4" stroke="#a8a8a8" stroke-width="0.9" fill="none"/>
<path d="M2122.3 1584.4V1587.8M2127.1 1578.8V1587.8M2129.5 1568.5V1587.8M2139.1 1568.1V1587.8M2141.5 1560.5V1587.8M2151.1 1572V1587.8M2153.5 1570.2V1587.8M2158.3 1571.9V1587.8M2163.1 1577.1V1587.8M2165.5 1577.4V1587.8M2172.7 1559.4V1587.8M2175.1 1574.9V1587.8" stroke="#6a6a6a" stroke-width="2.6" fill="none"/>
<path d="M2119.9 1578.8V1587.8M2131.9 1568V1587.8M2134.3 1576V1587.8M2148.7 1574.4V1587.8M2167.9 1571.2V1587.8" stroke="#b8b8b8" stroke-width="2.6" fill="none"/>
<path d="M2124.7 1581.4V1587.8M2136.7 1572.6V1587.8M2143.9 1573.4V1587.8M2146.3 1576.5V1587.8M2155.9 1570.4V1587.8M2160.7 1576V1587.8M2170.3 1561.9V1587.8" stroke="#8e8e8e" stroke-width="2.6" fill="none"/>
<path d="M1561.2 1577.8h0M1566.6 1563.4h0M1572.3 1555.3h0M1575.7 1570h0M1579.2 1564.3h0M1583.2 1552.8h0M1588.2 1577.8h0M1590.9 1569.6h0M1596.8 1556h0M1600.7 1569.4h0M1603.7 1571.2h0M1608.8 1565.4h0M1614.4 1564h0M1619.1 1561.5h0M1624.5 1560.1h0M1669.5 1568.6h0M1672.2 1571.1h0M1676 1575h0M1680 1575.8h0M1684.6 1572h0M1689.7 1570h0M1692.6 1559.3h0M1735.7 1572.7h0M1740.4 1574.4h0M1745.7 1565.9h0M1749.1 1557.9h0M1754.6 1561h0M1759.9 1559.4h0M1762.9 1551.8h0M1812.6 1571.8h0M1817.9 1568.8h0M1821.4 1569h0M1826.9 1563.4h0M1861.8 1569.7h0M1867.8 1561.8h0M1871.5 1565.6h0M1911.1 1572.8h0M1914.6 1565.1h0M1918.4 1568.5h0M1921.8 1569.3h0M1926.7 1568.8h0M1930.8 1562.7h0M1959.8 1575.8h0M1964.7 1569.8h0M1970 1576.9h0M1973.5 1576.8h0M1977.4 1567h0M2010.1 1576.2h0M2014.4 1573.1h0M2020 1567.5h0M2023.7 1556.3h0M2053.2 1569.7h0M2058.8 1565.8h0M2064.5 1569.4h0M2068.7 1568.4h0M2099.4 1552.7h0M2105.2 1568h0M2108 1576.4h0M2111.8 1571.8h0M2115.5 1570.6h0" stroke="#5e5e5e" stroke-width="4.4" stroke-linecap="round" fill="none"/>
<path d="M1560.1 1581.3h0M1565.6 1564h0M1581.8 1556.7h0M1590.6 1573.9h0M1596.1 1559h0M1601.6 1571h0M1614.5 1567.3h0M1617.8 1563.3h0M1674.8 1578.2h0M1680.8 1576.5h0M1690.6 1575.2h0M1735.7 1575h0M1749.2 1558.8h0M1753.2 1562.5h0M1812.1 1573.7h0M1821.5 1571.4h0M1863 1570.3h0M1868.9 1563.2h0M1912 1574.5h0M1913.8 1568.5h0M1922.2 1574.3h0M1925.7 1574.2h0M1929.3 1566.5h0M1958.4 1576.8h0M1970.7 1580.8h0M1973 1580.6h0M1977.9 1569.2h0M2054.5 1573h0M2059.3 1565.9h0M2064.9 1574.2h0M2067.3 1571.4h0M2098 1556.6h0M2105.2 1568.9h0M2108.1 1579.1h0M2111.4 1575.5h0M2114.9 1574.5h0" stroke="#666666" stroke-width="4.4" stroke-linecap="round" fill="none"/>
<path d="M1563.5 1559.1h0M1567.6 1555.6h0M1573.6 1553h0M1575.7 1567.6h0M1579.7 1561.6h0M1581.9 1549.2h0M1586.6 1556.3h0M1593.8 1548.3h0M1601.2 1567h0M1604.6 1567.1h0M1611.1 1558.4h0M1617.6 1559.3h0M1622.1 1549.5h0M1669.1 1566.8h0M1673.1 1564.5h0M1679.3 1573.6h0M1684.3 1567h0M1688.7 1570.5h0M1738 1565.6h0M1741.8 1566.5h0M1745.8 1555.4h0M1753 1550.5h0M1756.7 1554.7h0M1763.8 1544.5h0M1814.6 1565.7h0M1817.3 1561.1h0M1869.1 1554.4h0M1913 1559.8h0M1920 1561.5h0M1924.5 1559.9h0M1929.3 1558h0M1960.7 1569h0M1967.7 1569h0M1974.4 1572.3h0M2013.6 1566.6h0M2018.5 1574.9h0M2024.4 1552.9h0M2052.7 1568.3h0M2058.1 1560.6h0M2063.7 1558.6h0M2069 1556.2h0M2102.2 1544.9h0M2106 1567.5h0M2108 1568.4h0M2112.8 1568.3h0M1572.4 1511.4h0M1572.4 1520.6h0M1585.3 1520.9h0M1596.6 1516.6h0M1572.4 1530.8h0M1581.5 1531.3h0M1581.9 1541.3h0M1572.4 1534.8h0M1594.5 1534.3h0M1593.1 1540h0M1597.4 1540h0M1597.4 1544.8h0M1562.3 1549h0M1564.9 1554.3h0M1583.6 1548.6h0M1578.4 1552.9h0M1582.7 1559h0M1586.2 1559.3h0M1564.6 1563.3h0M1626 1527.9h0M1626.5 1532.7h0M1632.6 1546.5h0M1613 1549.5h0M1616.5 1549.5h0M1628.6 1550.9h0M1608.7 1554.7h0M1605.2 1559.3h0M1618.2 1559h0M1693.5 1512.8h0M1685.2 1541.7h0M1680 1545.7h0M1680.5 1559.5h0M1696.6 1556.1h0M1671.8 1567.6h0M1680.5 1569.4h0M1751.1 1529.9h0M1762.7 1531h0M1748 1534.8h0M1762.7 1540.8h0M1736.7 1541.7h0M1739.3 1544.8h0M1741 1548.6h0M1743.6 1551.2h0M1762.7 1546.9h0M1757.5 1552.1h0M1736.7 1551.2h0M1737.9 1562.1h0M1743.6 1563.3h0M1746.2 1565.1h0M1752.3 1533h0M1819.2 1532.2h0M1815.1 1534.8h0M1818.9 1539.4h0M1812.8 1543.4h0M1820.3 1544.8h0M1824.9 1544.3h0M1830.1 1544.8h0M1819.8 1550.3h0M1814.6 1553.8h0M1823.2 1555h0M1828.4 1553.8h0M1813.7 1561.9h0M1828.4 1559.9h0M1820 1532.2h0M1820 1539.4h0M1825.2 1544.3h0M1830.4 1544.8h0M1822.6 1545.2h0M1820.9 1550.3h0M1823.5 1555h0M1828.7 1553.8h0M1827.8 1559.9h0M1869.7 1521.1h0M1869.3 1539.4h0M1872.8 1542.6h0M1867.6 1544.3h0M1877.1 1546.5h0M1864.1 1550.3h0M1865.8 1550h0M1877.4 1555h0M1872.8 1559h0M1865.8 1559.9h0M1861.5 1565.1h0M1934.2 1523.2h0M1918.3 1544.8h0M1913.4 1546h0M1911.3 1551.7h0M1915.2 1555.5h0M1918.6 1557.6h0M1928.1 1546h0M1935.9 1548.6h0M1928.1 1559h0M1914.3 1562.5h0M1933.3 1536.5h0M1933.3 1536.5h0M1973.5 1540.8h0M1967.9 1542.6h0M1969.7 1544.8h0M1973.1 1552.4h0M1967.1 1562.1h0M1962.7 1564.2h0M1980.9 1562.1h0M1977.4 1563.3h0M1968.8 1573.7h0M1973.1 1574.6h0M2022.8 1507.6h0M2016.4 1540.8h0M2022.4 1527h0M2022.4 1527h0M2025.9 1539.6h0M2026.7 1546.9h0M2026.7 1552.1h0M2010.7 1557.6h0M2014.1 1563.3h0M2012.9 1568.5h0M2072.2 1520.6h0M2071.4 1534.3h0M2073.5 1540h0M2074 1546h0M2058.4 1550.3h0M2061.9 1555h0M2067.4 1558.5h0M2071.4 1558.7h0M2057.9 1560.7h0M2057.9 1564.2h0M2103.2 1517h0M2103.2 1531.3h0M2103.2 1534.8h0M2113.6 1545.2h0M2121 1533h0M2111 1552.6h0M2111 1559h0M2112.4 1561.6h0M2118.4 1564.2h0M2103.2 1541.7h0M2145.8 1521.3h0M2171.6 1540h0M2173.8 1544.8h0M2148.7 1551.2h0M2149.6 1552.9h0M2172.9 1550.3h0M2172.9 1553.8h0M2140.6 1555h0M2126.6 1557.3h0M2144.4 1559.3h0M2154.8 1559.9h0M2130.9 1562.5h0M2172.9 1562.5h0M2161.7 1567.6h0M2167.8 1568.5h0M2127.1 1568.5h0M2176.4 1583.2h0" stroke="#4d4d4d" stroke-width="4.4" stroke-linecap="round" fill="none"/>
<path d="M1633.5 1561.6h0M1637.5 1567.2h0M1640.3 1560h0M1644.5 1564.5h0M1649.5 1567.9h0M1649.4 1567.9h0M1655.4 1571.3h0M1655.9 1573.1h0M1661.3 1564.9h0M1662.2 1567.9h0M1635.8 1556.5h0M1642.1 1553.9h0M1647.8 1559.6h0M1653.3 1557.2h0M1656.3 1562.2h0M1658.7 1561.7h0M1700.5 1571.9h0M1704.7 1565.1h0M1703.5 1570.5h0M1709.1 1558.4h0M1710.3 1559.3h0M1714.1 1557.5h0M1714.4 1560.5h0M1718.1 1576.2h0M1719 1578.1h0M1723.3 1562.7h0M1729 1559.6h0M1729.3 1560.5h0M1700 1561.9h0M1704.6 1563.7h0M1708.6 1555.2h0M1713.5 1550.8h0M1716.9 1562.2h0M1720.6 1567.2h0M1726.3 1552.9h0M1770.1 1562.2h0M1768.7 1563.4h0M1776 1546.5h0M1780.6 1563.6h0M1780.4 1567.4h0M1785.1 1557.9h0M1785.5 1561.3h0M1790.3 1568.5h0M1789.1 1574.7h0M1794.6 1571.4h0M1794.5 1574.7h0M1797.5 1567.2h0M1797.9 1569h0M1800.7 1560.8h0M1802 1563.9h0M1804.2 1560.9h0M1804.1 1563.8h0M1771.3 1550.2h0M1774.7 1543.3h0M1777.2 1552.9h0M1783.7 1546.3h0M1787 1561.5h0M1792.7 1563.5h0M1799 1557.8h0M1802.4 1551.5h0M1805.5 1559h0M1832.5 1562.7h0M1837.3 1568.1h0M1842.8 1578.2h0M1842.4 1583.3h0M1847.2 1558.8h0M1852.3 1570.6h0M1853.3 1572.9h0M1835 1558.3h0M1840.1 1570.5h0M1847.2 1554.6h0M1852.7 1569.6h0M1880 1577.5h0M1880 1579.6h0M1883.1 1567.2h0M1883.3 1567.9h0M1887.4 1561.6h0M1891.1 1559.3h0M1890.4 1564.8h0M1896.8 1563.3h0M1897.6 1564.6h0M1901.1 1568.4h0M1899.7 1571.7h0M1881.8 1567.1h0M1884 1559.2h0M1890.5 1557.1h0M1892.8 1553.7h0M1899.7 1563.9h0M1936.8 1565.6h0M1935.7 1567.9h0M1939.7 1566.8h0M1940.4 1570.8h0M1944 1570.3h0M1946.9 1565.9h0M1949.9 1568.1h0M1951.2 1567.8h0M1954.2 1573.8h0M1954.9 1576.5h0M1941.7 1564h0M1947.1 1562h0M1951.8 1561h0M1983.5 1572.6h0M1982 1573.4h0M1986.4 1559.8h0M1987.6 1562.4h0M1989.8 1570.2h0M1994.2 1570.8h0M1997.5 1572.2h0M1996.9 1573.5h0M2001.2 1569.1h0M1984.1 1561h0M1990.2 1567.5h0M1994.4 1561.4h0M1999.9 1562h0M2030.5 1568.4h0M2029.7 1571.7h0M2036.1 1566.5h0M2036.8 1570.5h0M2040.3 1566.4h0M2041.4 1569.7h0M2045.7 1563.7h0M2046.8 1563.5h0M2031.4 1561.6h0M2038.5 1562.7h0M2046 1551h0M2074.6 1569.6h0M2074.6 1570.5h0M2079.5 1562h0M2079.9 1563h0M2083.4 1569.8h0M2084.8 1572.6h0M2087.6 1570.7h0M2088.3 1573.2h0M2090.9 1571.6h0M2089.9 1572.3h0M2078.4 1555.7h0M2082.6 1566.3h0M2089 1565.7h0M1633.4 1503.6h0M1652.8 1508.8h0M1642.1 1528.2h0M1660.1 1535.1h0M1642.1 1541.7h0M1655.1 1540.8h0M1655.1 1544.3h0M1660.6 1552.9h0M1665.8 1553.8h0M1635.5 1553.8h0M1642.1 1553.8h0M1652.8 1557.3h0M1635.5 1562.5h0M1733.8 1525.3h0M1733.8 1534.8h0M1710.4 1536h0M1710.4 1539.6h0M1714.7 1543.4h0M1709 1549.5h0M1716.8 1549.1h0M1725.5 1539.1h0M1730.7 1541.7h0M1732.4 1546.9h0M1727.2 1538.2h0M1704.7 1563.3h0M1803 1494.5h0M1802.5 1507.6h0M1776 1514.4h0M1801.9 1527.9h0M1776 1530.4h0M1776 1536.9h0M1783.4 1539.6h0M1803.3 1536.5h0M1802.5 1545.2h0M1799.9 1545.5h0M1772.2 1550.3h0M1788.6 1550h0M1792.1 1559.3h0M1796.4 1563.3h0M1807.6 1555.5h0M1802.5 1557.3h0M1834.5 1537h0M1833.6 1543.4h0M1857.7 1528.7h0M1834.7 1537h0M1848.9 1538.2h0M1833.5 1543.4h0M1848.5 1548.6h0M1843.4 1553.3h0M1852.9 1553.3h0M1903.9 1510.9h0M1909.1 1539.3h0M1884 1547.4h0M1891.8 1549h0M1899.6 1546.9h0M1902.2 1545.7h0M1894.4 1553.8h0M1909.1 1550h0M1884 1559.9h0M1888.3 1559.9h0M1959.6 1514.7h0M1938.9 1536h0M1959.6 1540.3h0M1942.3 1544.8h0M1951.5 1547.8h0M1945.4 1550.3h0M1945.4 1555.5h0M1942.8 1559h0M1938.5 1559h0M1994.4 1523.2h0M1992.7 1546h0M1986.1 1550h0M1999.1 1550.3h0M2002.5 1553.3h0M1993 1560.7h0M2002.5 1560.7h0M1986.1 1558.1h0M2035.9 1530.4h0M2041.1 1540.5h0M2049.2 1540h0M2051.8 1539.4h0M2038 1548.3h0M2038.9 1551.2h0M2034.2 1554.3h0M2040.6 1553.8h0M2049.8 1546.9h0M2049.8 1546.9h0M2078.7 1533h0M2078.7 1533h0M2088.5 1543.4h0M2089 1546h0M2093.4 1549.5h0M2083.8 1551.6h0M2089.9 1559.9h0M2088.2 1562.5h0M2083.8 1564.7h0M2140.1 1527.3h0M2143.5 1528.2h0M2164.6 1530.8h0M2165.2 1534.8h0M2149.9 1539.6h0M2163.8 1543.4h0M2137 1550.9h0M2163.4 1553.8h0M2164.3 1556.4h0M2153.9 1554.7h0" stroke="#bebebe" stroke-width="4.4" stroke-linecap="round" fill="none"/>
<path d="M2120.4 1580.4h0M2120.6 1587.6h0M2120.2 1591.5h0M2123.9 1579.8h0M2122.3 1588.5h0M2129.3 1566.9h0M2130.4 1571.2h0M2130.7 1574.9h0M2130.1 1579.8h0M2132.6 1582h0M2138.4 1566.1h0M2137.9 1571.2h0M2145.9 1575.4h0M2144.4 1579.7h0M2144.8 1584.1h0M2148 1573.1h0M2148.1 1578.4h0M2148.1 1583.2h0M2152.4 1573.2h0M2153.2 1580.4h0M2157.8 1570.5h0M2157.7 1574.8h0M2158.7 1574.2h0M2163 1574.4h0M2162.5 1583.2h0M2162.8 1586.8h0M2166.3 1576.9h0M2165.9 1581.7h0M2168 1566.6h0M2170.8 1558.3h0" stroke="#5a5a5a" stroke-width="3.8" stroke-linecap="round" fill="none"/>
<path d="M2121.8 1608h0M2123.7 1606.8h0M2126.4 1599.7h0M2126.7 1612.6h0M2130 1583.9h0M2130.2 1588.8h0M2134.8 1606.4h0M2136.3 1609.8h0M2138.6 1586.5h0M2138.2 1595h0M2143.3 1583h0M2141.1 1597.5h0M2156.1 1594.7h0M2158.2 1598.3h0M2159.7 1588.6h0M2163.6 1590.6h0M2163 1595.1h0M2162.5 1598.4h0M2172.2 1575.3h0M2172.3 1587.4h0" stroke="#5a5a5a" stroke-width="3" stroke-linecap="round" fill="none"/>
<path d="M2127.8 1576.4h0M2128.1 1580.7h0M2127.1 1588.7h0M2132.1 1571.6h0M2134.1 1580.2h0M2141.2 1563.7h0M2142 1568.9h0M2145.5 1587.2h0M2151 1578.4h0M2158.2 1579.7h0M2158.8 1579.1h0M2163.5 1578.6h0M2166.7 1586.5h0M2174.5 1565.4h0" stroke="#c4c4c4" stroke-width="3.8" stroke-linecap="round" fill="none"/>
<path d="M2131.9 1605.2h0M2135.4 1625.1h0M2142.2 1589.7h0M2144.9 1597.3h0M2146.8 1592.9h0M2147.4 1604.3h0M2151.8 1591.6h0M2151.3 1606.2h0M2152.5 1614.7h0M2153.2 1585.7h0M2154.1 1591.1h0M2153 1595.1h0M2158 1584.7h0M2156.2 1603h0M2159.1 1602.1h0M2165.4 1600.2h0M2171.6 1584.2h0" stroke="#c4c4c4" stroke-width="3" stroke-linecap="round" fill="none"/>
<path d="M2176.2 1582.7h0M2176.5 1586.7h0M2175.9 1591.4h0M2176.4 1596.1h0M2176.4 1604.9h0M2176.3 1608.8h0M2176.3 1622h0M2176.2 1629.5h0M2176.1 1634h0M2176.3 1638.1h0M2176.5 1641.5h0M2176.1 1645.4h0M2176.4 1649.9h0M2175.9 1654.5h0" stroke="#6a6a6a" stroke-width="4.2" stroke-linecap="round" fill="none"/>
<path d="M2176.5 1601.3h0M2176.3 1612.7h0M2176.2 1617.6h0M2176.1 1625.8h0" stroke="#cfcfcf" stroke-width="4.2" stroke-linecap="round" fill="none"/>
<path d="M1572.1 1537.3h0M1572.4 1539.5h0M1572.9 1541.7h0M1571.9 1543.9h0M1572.8 1546.1h0M1571.8 1548.3h0M1572 1550.5h0M1573 1552.7h0M1571.8 1554.9h0M1572.9 1557.1h0M1572.4 1559.3h0M1751.7 1535.5h0M1752.8 1537.7h0M1751.7 1539.9h0M1752.3 1542.1h0M1752.5 1544.3h0M1752.5 1546.5h0M1751.8 1548.7h0M1752.7 1550.9h0M1751.8 1553.1h0M1751.8 1555.3h0M1751.7 1557.5h0M1752.6 1559.7h0M1751.6 1561.9h0M1751.7 1564.1h0M1752.6 1566.3h0M1932.9 1539h0M1933.4 1541.2h0M1932.7 1543.4h0M1933 1545.6h0M1933.6 1547.8h0M1933.1 1550h0M1932.7 1552.2h0M1932.9 1554.4h0M1932.7 1556.6h0M1933.5 1558.8h0M2023 1529.5h0M2022.5 1531.7h0M2022 1533.9h0M2021.9 1536.1h0M2022.8 1538.3h0M2022.4 1540.5h0M2022.6 1542.7h0M2023.1 1544.9h0M2022.8 1547.1h0M2022.3 1549.3h0M2023 1551.5h0M2022.5 1553.7h0M2022.4 1555.9h0M2022.9 1558.1h0M2022.8 1560.3h0M2103.5 1544.2h0M2102.9 1546.4h0M2103.6 1548.6h0M2103.3 1550.8h0M2103.5 1553h0M2103.2 1555.2h0M2103.9 1557.4h0M2103.4 1559.6h0M2102.8 1561.8h0M2103.8 1564h0" stroke="#666666" stroke-width="4.8" stroke-linecap="round" fill="none"/>
<path d="M1727.5 1540.7h0M1726.5 1542.9h0M1726.8 1545.1h0M1727.6 1547.3h0M1727.9 1549.5h0M1727.2 1551.7h0M1727.3 1553.9h0M1727.8 1556.1h0M1727 1558.3h0M1727.9 1560.5h0M1727.8 1562.7h0M1727.3 1564.9h0M1726.6 1567.1h0M1726.6 1569.3h0M2049.1 1549.4h0M2049.2 1551.6h0M2049.7 1553.8h0M2049.6 1556h0M2050 1558.2h0M2049.7 1560.4h0M2049.2 1562.6h0M2049.4 1564.8h0M2049.8 1567h0M2049.6 1569.2h0M2078.4 1535.5h0M2078.1 1537.7h0M2078.3 1539.9h0M2078 1542.1h0M2078.5 1544.3h0M2079.3 1546.5h0" stroke="#bebebe" stroke-width="4.8" stroke-linecap="round" fill="none"/>
<rect x="1542.4" y="1483.7" width="653" height="177.7" fill="none" stroke="#000" stroke-width="1.7"/>
<text x="1529.6" y="1487.6" text-anchor="end">8</text>
<text x="1529.6" y="1532.1" text-anchor="end">6</text>
<text x="1529.6" y="1576.4" text-anchor="end">4</text>
<text x="1529.6" y="1620.9" text-anchor="end">2</text>
<text x="1529.6" y="1665.3" text-anchor="end">0</text>
<text x="1596.4" y="1683.9" text-anchor="middle">1</text>
<text x="1651" y="1683.9" text-anchor="middle">2</text>
<text x="1682.4" y="1683.9" text-anchor="middle">3</text>
<text x="1716.2" y="1683.9" text-anchor="middle">4</text>
<text x="1751.7" y="1683.9" text-anchor="middle">5</text>
<text x="1789.4" y="1683.9" text-anchor="middle">6</text>
<text x="1821.6" y="1683.9" text-anchor="middle">7</text>
<text x="1846.7" y="1683.9" text-anchor="middle">8</text>
<text x="1867.7" y="1683.9" text-anchor="middle">9</text>
<text x="1893.5" y="1683.9" text-anchor="middle">10</text>
<text x="1924.3" y="1683.9" text-anchor="middle">11</text>
<text x="1948.3" y="1683.9" text-anchor="middle">12</text>
<text x="1996.4" y="1683.9" text-anchor="middle">14</text>
<text x="2020.8" y="1683.9" text-anchor="middle">15</text>
<text x="2063.4" y="1683.9" text-anchor="middle">17</text>
<text x="2086.4" y="1683.9" text-anchor="middle">18</text>
<text x="2110.5" y="1683.9" text-anchor="middle">19</text>
<path d="M1542.4 1483.7h-7.5M1542.4 1528.2h-7.5M1542.4 1572.5h-7.5M1542.4 1617h-7.5M1542.4 1661.4h-7.5M1596.4 1661.4v7.5M1651 1661.4v7.5M1682.4 1661.4v7.5M1716.2 1661.4v7.5M1751.7 1661.4v7.5M1789.4 1661.4v7.5M1821.6 1661.4v7.5M1846.7 1661.4v7.5M1867.7 1661.4v7.5M1893.5 1661.4v7.5M1924.3 1661.4v7.5M1948.3 1661.4v7.5M1970.8 1661.4v7.5M1996.4 1661.4v7.5M2020.8 1661.4v7.5M2041.4 1661.4v7.5M2063.4 1661.4v7.5M2086.4 1661.4v7.5M2110.5 1661.4v7.5" stroke="#000" stroke-width="1.7" fill="none"/>
<rect x="2121.5" y="1661.4" width="55.9" height="7.5" fill="#000"/>
<text x="2134" y="1683.9" text-anchor="middle">33</text>
<text x="2159.8" y="1683.9" text-anchor="middle">294</text>
<text x="1868.9" y="1708.6" text-anchor="middle" class="al">Chromosome</text>
<text transform="translate(1500.1 1572.8) rotate(-90)" text-anchor="middle" class="yl">− log<tspan dy="2.2" font-size="7.6">10</tspan><tspan dy="-2.2">(</tspan><tspan font-style="italic">p</tspan>)</text>
</g>
<g class="q">
<path d="M930.2 222 L988 171.5 L1017.1 145.8 L1031.6 131.5 L1046.2 115.6 L1052 109 L1060.7 99 L1064.2 99.5 L1075.1 90 L1079.7 83.9 L1083.2 77.9 L1086.6 74.7 L1091.8 73.5 L1097 70.1 L1098.8 65.7 L1103.9 62.6" stroke="#000" stroke-width="2.6" fill="none" stroke-linejoin="round" stroke-linecap="round"/>
<path d="M1106.5 58.8h0M1110 57.1h0M1112.1 45h0M1115.2 41.5h0M1119.5 32.9h0M1126.1 32.4h0M1139.8 27.3h0" stroke="#000" stroke-width="2.9" stroke-linecap="round" fill="none"/>
<path d="M930.2 222L1162.1 20.4" stroke="#ff0000" stroke-width="1.5" fill="none"/>
<rect x="930.2" y="20.4" width="231.9" height="201.6" fill="none" stroke="#000" stroke-width="1.8"/>
<text transform="translate(917.9 222) rotate(-90)" text-anchor="middle">0</text>
<text transform="translate(917.9 171.8) rotate(-90)" text-anchor="middle">2</text>
<text transform="translate(917.9 121.1) rotate(-90)" text-anchor="middle">4</text>
<text transform="translate(917.9 70.6) rotate(-90)" text-anchor="middle">6</text>
<text transform="translate(917.9 20.4) rotate(-90)" text-anchor="middle">8</text>
<text x="930.2" y="240.6" text-anchor="middle">0</text>
<text x="988" y="240.6" text-anchor="middle">2</text>
<text x="1046.2" y="240.6" text-anchor="middle">4</text>
<text x="1104.1" y="240.6" text-anchor="middle">6</text>
<text x="1162.1" y="240.6" text-anchor="middle">8</text>
<path d="M930.2 222h-5M930.2 171.8h-5M930.2 121.1h-5M930.2 70.6h-5M930.2 20.4h-5M930.2 222v5M988 222v5M1046.2 222v5M1104.1 222v5M1162.1 222v5" stroke="#000" stroke-width="1.6" fill="none"/>
<text x="1046.5" y="8.1" text-anchor="middle" class="qt">Q-Q plot</text>
<text x="944.8" y="33.4" class="ql">λ = 1.002543</text>
<text x="1046.5" y="258.5" text-anchor="middle" class="qa">Expected − log<tspan dy="1.6" font-size="5">10</tspan><tspan dy="-1.6">(P − value)</tspan></text>
<text transform="translate(896.9 121.1) rotate(-90)" text-anchor="middle" class="qa">Observed − log<tspan dy="1.6" font-size="5">10</tspan><tspan dy="-1.6">(P − value)</tspan></text>
</g>
<g class="q">
<path d="M930.2 517 L988 472 L1017.1 449.2 L1031.6 437.4 L1039.9 428.8 L1046.2 424.5 L1052 419.3 L1059 411 L1061.6 411 L1065.9 407.2 L1075.1 400.2 L1079.7 396.8 L1080.6 393.8 L1084.9 390.7 L1090.1 383.8 L1092.7 381.2 L1096.2 380 L1098.8 376.9 L1103.9 372" stroke="#000" stroke-width="2.6" fill="none" stroke-linejoin="round" stroke-linecap="round"/>
<path d="M1105.7 361.3h0M1109.1 359.6h0M1112.1 345.4h0M1115.2 341.4h0M1119.5 338h0M1126.1 337.1h0M1139.8 324.6h0" stroke="#000" stroke-width="2.9" stroke-linecap="round" fill="none"/>
<path d="M930.2 517L1162.1 338" stroke="#ff0000" stroke-width="1.5" fill="none"/>
<rect x="930.2" y="315.5" width="231.9" height="201.5" fill="none" stroke="#000" stroke-width="1.8"/>
<text transform="translate(917.9 517) rotate(-90)" text-anchor="middle">0</text>
<text transform="translate(917.9 472.4) rotate(-90)" text-anchor="middle">2</text>
<text transform="translate(917.9 427.4) rotate(-90)" text-anchor="middle">4</text>
<text transform="translate(917.9 382.4) rotate(-90)" text-anchor="middle">6</text>
<text transform="translate(917.9 337.4) rotate(-90)" text-anchor="middle">8</text>
<text x="930.2" y="535.6" text-anchor="middle">0</text>
<text x="988" y="535.6" text-anchor="middle">2</text>
<text x="1046.2" y="535.6" text-anchor="middle">4</text>
<text x="1104.1" y="535.6" text-anchor="middle">6</text>
<text x="1162.1" y="535.6" text-anchor="middle">8</text>
<path d="M930.2 517h-5M930.2 472.4h-5M930.2 427.4h-5M930.2 382.4h-5M930.2 337.4h-5M930.2 517v5M988 517v5M1046.2 517v5M1104.1 517v5M1162.1 517v5" stroke="#000" stroke-width="1.6" fill="none"/>
<text x="1046.5" y="303.4" text-anchor="middle" class="qt">Q-Q plot</text>
<text x="944.8" y="328.4" class="ql">λ = 1.010239</text>
<text x="1046.5" y="553.6" text-anchor="middle" class="qa">Expected − log<tspan dy="1.6" font-size="5">10</tspan><tspan dy="-1.6">(P − value)</tspan></text>
<text transform="translate(896.9 416.7) rotate(-90)" text-anchor="middle" class="qa">Observed − log<tspan dy="1.6" font-size="5">10</tspan><tspan dy="-1.6">(P − value)</tspan></text>
</g>
<g class="q">
<path d="M930.1 805.6 L988 754.8 L1017.1 728.8 L1026.1 718.8 L1033 710.1 L1039.9 700.6 L1045.5 692 L1052 683.3 L1057.2 675.5 L1061.6 670 L1065 670 L1069.3 665.2 L1074.5 661.3 L1079.7 655.6 L1083.2 649.9 L1088.4 645.3 L1091.8 640.6 L1096.2 638.9 L1098.8 634.9 L1103.9 632.3 L1107.4 630.6" stroke="#000" stroke-width="2.6" fill="none" stroke-linejoin="round" stroke-linecap="round"/>
<path d="M1109.1 629.2h0M1111.7 628.5h0M1114.3 627.6h0M1118.7 625.7h0M1125.1 621h0M1138.9 612.4h0" stroke="#000" stroke-width="2.9" stroke-linecap="round" fill="none"/>
<path d="M930.1 805.6L1161.4 602.9" stroke="#ff0000" stroke-width="1.5" fill="none"/>
<rect x="930.1" y="602.5" width="231.3" height="203.1" fill="none" stroke="#000" stroke-width="1.8"/>
<text transform="translate(917.8 805.6) rotate(-90)" text-anchor="middle">0</text>
<text transform="translate(917.8 755.1) rotate(-90)" text-anchor="middle">2</text>
<text transform="translate(917.8 704.4) rotate(-90)" text-anchor="middle">4</text>
<text transform="translate(917.8 653.6) rotate(-90)" text-anchor="middle">6</text>
<text transform="translate(917.8 602.9) rotate(-90)" text-anchor="middle">8</text>
<text x="930.1" y="824.2" text-anchor="middle">0</text>
<text x="987.7" y="824.2" text-anchor="middle">2</text>
<text x="1045.5" y="824.2" text-anchor="middle">4</text>
<text x="1103.4" y="824.2" text-anchor="middle">6</text>
<text x="1161.4" y="824.2" text-anchor="middle">8</text>
<path d="M930.1 805.6h-5M930.1 755.1h-5M930.1 704.4h-5M930.1 653.6h-5M930.1 602.9h-5M930.1 805.6v5M987.7 805.6v5M1045.5 805.6v5M1103.4 805.6v5M1161.4 805.6v5" stroke="#000" stroke-width="1.6" fill="none"/>
<text x="1046" y="590.8" text-anchor="middle" class="qt">Q-Q plot</text>
<text x="944.8" y="615.9" class="ql">λ = 0.9977155</text>
<text x="1046" y="842.2" text-anchor="middle" class="qa">Expected − log<tspan dy="1.6" font-size="5">10</tspan><tspan dy="-1.6">(P − value)</tspan></text>
<text transform="translate(896.9 704.9) rotate(-90)" text-anchor="middle" class="qa">Observed − log<tspan dy="1.6" font-size="5">10</tspan><tspan dy="-1.6">(P − value)</tspan></text>
</g>
<g class="q">
<path d="M930.1 1103.1 L987.7 1062.4 L1007.1 1047.7 L1017.1 1038.2 L1031.3 1024.4 L1045.5 1008.8 L1052 1001 L1059 993.2 L1065.9 987.2 L1071.1 981.1 L1076.3 975.9 L1079.7 972.5 L1084 962.9 L1087.5 961.2 L1090.1 956.9 L1093.6 953.4 L1096.2 949.1 L1101.3 948.2" stroke="#000" stroke-width="2.6" fill="none" stroke-linejoin="round" stroke-linecap="round"/>
<path d="M1102.2 941.7h0M1104.3 940.4h0M1106.5 938.9h0M1109.1 935.3h0M1111.2 929.2h0M1114.3 925.7h0M1118.7 923.1h0M1125.1 919.2h0M1138.9 902h0" stroke="#000" stroke-width="2.9" stroke-linecap="round" fill="none"/>
<path d="M930.1 1103.1L1161.4 939.2" stroke="#ff0000" stroke-width="1.5" fill="none"/>
<rect x="930.1" y="897.7" width="231.3" height="205.4" fill="none" stroke="#000" stroke-width="1.8"/>
<text transform="translate(917.8 1103.1) rotate(-90)" text-anchor="middle">0</text>
<text transform="translate(917.8 1062.1) rotate(-90)" text-anchor="middle">2</text>
<text transform="translate(917.8 1021.2) rotate(-90)" text-anchor="middle">4</text>
<text transform="translate(917.8 980.2) rotate(-90)" text-anchor="middle">6</text>
<text transform="translate(917.8 939.2) rotate(-90)" text-anchor="middle">8</text>
<text transform="translate(917.8 898.4) rotate(-90)" text-anchor="middle">10</text>
<text x="930.1" y="1121.7" text-anchor="middle">0</text>
<text x="987.7" y="1121.7" text-anchor="middle">2</text>
<text x="1045.5" y="1121.7" text-anchor="middle">4</text>
<text x="1103.4" y="1121.7" text-anchor="middle">6</text>
<text x="1161.4" y="1121.7" text-anchor="middle">8</text>
<path d="M930.1 1103.1h-5M930.1 1062.1h-5M930.1 1021.2h-5M930.1 980.2h-5M930.1 939.2h-5M930.1 898.4h-5M930.1 1103.1v5M987.7 1103.1v5M1045.5 1103.1v5M1103.4 1103.1v5M1161.4 1103.1v5" stroke="#000" stroke-width="1.6" fill="none"/>
<text x="1046" y="886" text-anchor="middle" class="qt">Q-Q plot</text>
<text x="944.8" y="911.4" class="ql">λ = 0.9836487</text>
<text x="1046" y="1139.6" text-anchor="middle" class="qa">Expected − log<tspan dy="1.6" font-size="5">10</tspan><tspan dy="-1.6">(P − value)</tspan></text>
<text transform="translate(896.9 1001) rotate(-90)" text-anchor="middle" class="qa">Observed − log<tspan dy="1.6" font-size="5">10</tspan><tspan dy="-1.6">(P − value)</tspan></text>
</g>
<g class="q">
<path d="M927.1 1391.3 L986 1346.9 L1015.7 1323.5 L1029.6 1310.5 L1044.8 1296.7 L1052 1288.9 L1060.7 1281.1 L1067.6 1275.9 L1072.8 1270.7 L1075.4 1267.6 L1079.7 1265.2 L1084 1261.2 L1086.6 1255.2 L1089.2 1252 L1093.6 1250 L1097 1248.2" stroke="#000" stroke-width="2.6" fill="none" stroke-linejoin="round" stroke-linecap="round"/>
<path d="M1098.8 1242.7 L1101.3 1241.3 L1103.9 1238.7 L1109.1 1237.9 L1114.3 1237.3" stroke="#000" stroke-width="2.6" fill="none" stroke-linejoin="round" stroke-linecap="round"/>
<path d="M1119 1230.6h0M1125.2 1209.3h0M1139.4 1201.5h0" stroke="#000" stroke-width="2.9" stroke-linecap="round" fill="none"/>
<path d="M927.1 1391.3L1162.1 1215.4" stroke="#ff0000" stroke-width="1.5" fill="none"/>
<rect x="927.1" y="1192" width="235" height="199.3" fill="none" stroke="#000" stroke-width="1.8"/>
<text transform="translate(914.8 1391.3) rotate(-90)" text-anchor="middle">0</text>
<text transform="translate(914.8 1347.4) rotate(-90)" text-anchor="middle">2</text>
<text transform="translate(914.8 1303.3) rotate(-90)" text-anchor="middle">4</text>
<text transform="translate(914.8 1259) rotate(-90)" text-anchor="middle">6</text>
<text transform="translate(914.8 1214.8) rotate(-90)" text-anchor="middle">8</text>
<text x="927.1" y="1409.9" text-anchor="middle">0</text>
<text x="986" y="1409.9" text-anchor="middle">2</text>
<text x="1044.8" y="1409.9" text-anchor="middle">4</text>
<text x="1103.4" y="1409.9" text-anchor="middle">6</text>
<text x="1162.1" y="1409.9" text-anchor="middle">8</text>
<path d="M927.1 1391.3h-5M927.1 1347.4h-5M927.1 1303.3h-5M927.1 1259h-5M927.1 1214.8h-5M927.1 1391.3v5M986 1391.3v5M1044.8 1391.3v5M1103.4 1391.3v5M1162.1 1391.3v5" stroke="#000" stroke-width="1.6" fill="none"/>
<text x="1044.6" y="1180.8" text-anchor="middle" class="qt">Q-Q plot</text>
<text x="941.8" y="1205.3" class="ql">λ = 1.01278</text>
<text x="1044.6" y="1427.5" text-anchor="middle" class="qa">Expected − log<tspan dy="1.6" font-size="5">10</tspan><tspan dy="-1.6">(P − value)</tspan></text>
<text transform="translate(893.4 1292.4) rotate(-90)" text-anchor="middle" class="qa">Observed − log<tspan dy="1.6" font-size="5">10</tspan><tspan dy="-1.6">(P − value)</tspan></text>
</g>
<g class="q">
<path d="M930.1 1686.2 L987.7 1642 L1045.5 1596.7 L1074.5 1572.8 L1079.7 1566.8 L1084.9 1563.3 L1090.1 1558.1 L1092.7 1553.8 L1096.2 1549.5 L1101.3 1546 L1106.5 1544.3" stroke="#000" stroke-width="2.6" fill="none" stroke-linejoin="round" stroke-linecap="round"/>
<path d="M1108.3 1540.5 L1113.5 1540.5" stroke="#000" stroke-width="2.6" fill="none" stroke-linejoin="round" stroke-linecap="round"/>
<path d="M1114.3 1540.5h0M1118.7 1536h0M1138.9 1505h0" stroke="#000" stroke-width="2.9" stroke-linecap="round" fill="none"/>
<path d="M930.1 1686.2L1161.4 1506.7" stroke="#ff0000" stroke-width="1.5" fill="none"/>
<rect x="930.1" y="1484.3" width="231.3" height="201.9" fill="none" stroke="#000" stroke-width="1.8"/>
<text transform="translate(917.8 1686.2) rotate(-90)" text-anchor="middle">0</text>
<text transform="translate(917.8 1641.5) rotate(-90)" text-anchor="middle">2</text>
<text transform="translate(917.8 1596.7) rotate(-90)" text-anchor="middle">4</text>
<text transform="translate(917.8 1551.7) rotate(-90)" text-anchor="middle">6</text>
<text transform="translate(917.8 1506.7) rotate(-90)" text-anchor="middle">8</text>
<text x="930.1" y="1704.8" text-anchor="middle">0</text>
<text x="987.7" y="1704.8" text-anchor="middle">2</text>
<text x="1045.5" y="1704.8" text-anchor="middle">4</text>
<text x="1103.4" y="1704.8" text-anchor="middle">6</text>
<text x="1161.4" y="1704.8" text-anchor="middle">8</text>
<path d="M930.1 1686.2h-5M930.1 1641.5h-5M930.1 1596.7h-5M930.1 1551.7h-5M930.1 1506.7h-5M930.1 1686.2v5M987.7 1686.2v5M1045.5 1686.2v5M1103.4 1686.2v5M1161.4 1686.2v5" stroke="#000" stroke-width="1.6" fill="none"/>
<text x="1046" y="1472.5" text-anchor="middle" class="qt">Q-Q plot</text>
<text x="944.8" y="1497.2" class="ql">λ = 0.9697006</text>
<text x="1046" y="1722.7" text-anchor="middle" class="qa">Expected − log<tspan dy="1.6" font-size="5">10</tspan><tspan dy="-1.6">(P − value)</tspan></text>
<text transform="translate(896.9 1585.8) rotate(-90)" text-anchor="middle" class="qa">Observed − log<tspan dy="1.6" font-size="5">10</tspan><tspan dy="-1.6">(P − value)</tspan></text>
</g>
<g class="q">
<path d="M2263.7 222 L2379.9 121.6 L2394.1 108.1 L2401 100.3 L2408 94.3 L2410.6 90 L2413.1 87.9 L2416.6 87.9 L2420.1 84.8 L2423.5 81.3 L2427 77.9 L2431.3 74.7 L2435.6 73.5 L2440 72.7" stroke="#000" stroke-width="2.6" fill="none" stroke-linejoin="round" stroke-linecap="round"/>
<path d="M2443.4 67.8h0M2446.9 67.1h0M2449.8 66.6h0M2453.8 56.2h0M2460.2 51.6h0M2473.7 39.4h0" stroke="#000" stroke-width="2.9" stroke-linecap="round" fill="none"/>
<path d="M2263.7 222L2496.5 20.4" stroke="#ff0000" stroke-width="1.5" fill="none"/>
<rect x="2263.7" y="20.4" width="232.8" height="201.6" fill="none" stroke="#000" stroke-width="1.8"/>
<text transform="translate(2251.4 222) rotate(-90)" text-anchor="middle">0</text>
<text transform="translate(2251.4 171.8) rotate(-90)" text-anchor="middle">2</text>
<text transform="translate(2251.4 121.1) rotate(-90)" text-anchor="middle">4</text>
<text transform="translate(2251.4 70.6) rotate(-90)" text-anchor="middle">6</text>
<text transform="translate(2251.4 20.4) rotate(-90)" text-anchor="middle">8</text>
<text x="2263.7" y="240.6" text-anchor="middle">0</text>
<text x="2321.8" y="240.6" text-anchor="middle">2</text>
<text x="2379.9" y="240.6" text-anchor="middle">4</text>
<text x="2438.2" y="240.6" text-anchor="middle">6</text>
<text x="2496.5" y="240.6" text-anchor="middle">8</text>
<path d="M2263.7 222h-5M2263.7 171.8h-5M2263.7 121.1h-5M2263.7 70.6h-5M2263.7 20.4h-5M2263.7 222v5M2321.8 222v5M2379.9 222v5M2438.2 222v5M2496.5 222v5" stroke="#000" stroke-width="1.6" fill="none"/>
<text x="2380.3" y="8.1" text-anchor="middle" class="qt">Q-Q plot</text>
<text x="2278.2" y="33.4" class="ql">λ = 0.9750538</text>
<text x="2380.3" y="258.5" text-anchor="middle" class="qa">Expected − log<tspan dy="1.6" font-size="5">10</tspan><tspan dy="-1.6">(P − value)</tspan></text>
<text transform="translate(2230.3 121.1) rotate(-90)" text-anchor="middle" class="qa">Observed − log<tspan dy="1.6" font-size="5">10</tspan><tspan dy="-1.6">(P − value)</tspan></text>
</g>
<g class="q">
<path d="M2264.7 507.5 L2380.8 395.1 L2394.1 380.3 L2402.8 371.7 L2411.4 363.9 L2420.1 357.9 L2428.7 351.8 L2431.3 345.7 L2437.4 340.6 L2443.4 338" stroke="#000" stroke-width="2.6" fill="none" stroke-linejoin="round" stroke-linecap="round"/>
<path d="M2446 336.7h0M2449.8 335.7h0M2454.2 335.4h0M2460.4 327.6h0M2474.2 320.1h0" stroke="#000" stroke-width="2.9" stroke-linecap="round" fill="none"/>
<path d="M2264.7 507.5L2467.6 312.5" stroke="#ff0000" stroke-width="1.5" fill="none"/>
<rect x="2264.7" y="312.5" width="231.8" height="195" fill="none" stroke="#000" stroke-width="1.8"/>
<text transform="translate(2252.4 507.5) rotate(-90)" text-anchor="middle">0</text>
<text transform="translate(2252.4 479.5) rotate(-90)" text-anchor="middle">1</text>
<text transform="translate(2252.4 451.8) rotate(-90)" text-anchor="middle">2</text>
<text transform="translate(2252.4 423.9) rotate(-90)" text-anchor="middle">3</text>
<text transform="translate(2252.4 395.9) rotate(-90)" text-anchor="middle">4</text>
<text transform="translate(2252.4 368.2) rotate(-90)" text-anchor="middle">5</text>
<text transform="translate(2252.4 340.2) rotate(-90)" text-anchor="middle">6</text>
<text transform="translate(2252.4 312.5) rotate(-90)" text-anchor="middle">7</text>
<text x="2264.7" y="526.1" text-anchor="middle">0</text>
<text x="2322.8" y="526.1" text-anchor="middle">2</text>
<text x="2380.8" y="526.1" text-anchor="middle">4</text>
<text x="2438.8" y="526.1" text-anchor="middle">6</text>
<text x="2496.5" y="526.1" text-anchor="middle">8</text>
<path d="M2264.7 507.5h-5M2264.7 479.5h-5M2264.7 451.8h-5M2264.7 423.9h-5M2264.7 395.9h-5M2264.7 368.2h-5M2264.7 340.2h-5M2264.7 312.5h-5M2264.7 507.5v5M2322.8 507.5v5M2380.8 507.5v5M2438.8 507.5v5M2496.5 507.5v5" stroke="#000" stroke-width="1.6" fill="none"/>
<text x="2380.8" y="300.8" text-anchor="middle" class="qt">Q-Q plot</text>
<text x="2279.1" y="325" class="ql">λ = 1.013612</text>
<text x="2380.8" y="547.5" text-anchor="middle" class="qa">Expected − log<tspan dy="1.6" font-size="5">10</tspan><tspan dy="-1.6">(P − value)</tspan></text>
<text transform="translate(2230.8 410.6) rotate(-90)" text-anchor="middle" class="qa">Observed − log<tspan dy="1.6" font-size="5">10</tspan><tspan dy="-1.6">(P − value)</tspan></text>
</g>
<g class="q">
<path d="M2263.7 799.8 L2321.8 780.2 L2379.9 757.7 L2402.8 749.1 L2411.4 744.4 L2420.1 740.4 L2423.5 737 L2427 733.5 L2431.3 730.9 L2435.6 730 L2437.4 725.7 L2439.1 722.2 L2443.4 721.4 L2446 719.1" stroke="#000" stroke-width="2.6" fill="none" stroke-linejoin="round" stroke-linecap="round"/>
<path d="M2449.5 719.1h0M2453.8 717.6h0M2460.2 613.6h0M2474 613.6h0" stroke="#000" stroke-width="2.9" stroke-linecap="round" fill="none"/>
<path d="M2263.7 799.8L2496.5 726.1" stroke="#ff0000" stroke-width="1.5" fill="none"/>
<rect x="2263.7" y="605.5" width="232.8" height="194.3" fill="none" stroke="#000" stroke-width="1.8"/>
<text transform="translate(2251.4 799.8) rotate(-90)" text-anchor="middle">0</text>
<text transform="translate(2251.4 753.7) rotate(-90)" text-anchor="middle">5</text>
<text transform="translate(2251.4 707.5) rotate(-90)" text-anchor="middle">10</text>
<text transform="translate(2251.4 660.8) rotate(-90)" text-anchor="middle">15</text>
<text transform="translate(2251.4 614.5) rotate(-90)" text-anchor="middle">20</text>
<text x="2263.7" y="818.4" text-anchor="middle">0</text>
<text x="2321.8" y="818.4" text-anchor="middle">2</text>
<text x="2379.9" y="818.4" text-anchor="middle">4</text>
<text x="2438.2" y="818.4" text-anchor="middle">6</text>
<text x="2496.5" y="818.4" text-anchor="middle">8</text>
<path d="M2263.7 799.8h-5M2263.7 753.7h-5M2263.7 707.5h-5M2263.7 660.8h-5M2263.7 614.5h-5M2263.7 799.8v5M2321.8 799.8v5M2379.9 799.8v5M2438.2 799.8v5M2496.5 799.8v5" stroke="#000" stroke-width="1.6" fill="none"/>
<text x="2380.3" y="593.4" text-anchor="middle" class="qt">Q-Q plot</text>
<text x="2278.2" y="617.9" class="ql">λ = 1.017028</text>
<text x="2380.3" y="835.4" text-anchor="middle" class="qa">Expected − log<tspan dy="1.6" font-size="5">10</tspan><tspan dy="-1.6">(P − value)</tspan></text>
<text transform="translate(2230 703.2) rotate(-90)" text-anchor="middle" class="qa">Observed − log<tspan dy="1.6" font-size="5">10</tspan><tspan dy="-1.6">(P − value)</tspan></text>
</g>
<g class="q">
<path d="M2262.3 1091 L2320.9 1039.9 L2350.9 1012.2 L2379.4 983.7 L2394.1 969.9 L2406.2 958.6 L2416.6 950.8 L2420.1 946.5 L2425.3 944.8 L2428.7 939.6 L2431.3 934.4 L2433.9 933.5 L2441.7 930.9 L2446 930.6" stroke="#000" stroke-width="2.6" fill="none" stroke-linejoin="round" stroke-linecap="round"/>
<path d="M2449.5 929.2h0M2453.8 926.3h0M2460.2 912.8h0M2474 895.8h0" stroke="#000" stroke-width="2.9" stroke-linecap="round" fill="none"/>
<path d="M2262.3 1091L2496.5 890.3" stroke="#ff0000" stroke-width="1.5" fill="none"/>
<rect x="2262.3" y="890.3" width="234.2" height="200.7" fill="none" stroke="#000" stroke-width="1.8"/>
<text transform="translate(2250 1091) rotate(-90)" text-anchor="middle">0</text>
<text transform="translate(2250 1040.8) rotate(-90)" text-anchor="middle">2</text>
<text transform="translate(2250 990.6) rotate(-90)" text-anchor="middle">4</text>
<text transform="translate(2250 940.4) rotate(-90)" text-anchor="middle">6</text>
<text transform="translate(2250 890.3) rotate(-90)" text-anchor="middle">8</text>
<text x="2262.3" y="1109.6" text-anchor="middle">0</text>
<text x="2320.9" y="1109.6" text-anchor="middle">2</text>
<text x="2379.4" y="1109.6" text-anchor="middle">4</text>
<text x="2437.9" y="1109.6" text-anchor="middle">6</text>
<text x="2496.5" y="1109.6" text-anchor="middle">8</text>
<path d="M2262.3 1091h-5M2262.3 1040.8h-5M2262.3 990.6h-5M2262.3 940.4h-5M2262.3 890.3h-5M2262.3 1091v5M2320.9 1091v5M2379.4 1091v5M2437.9 1091v5M2496.5 1091v5" stroke="#000" stroke-width="1.6" fill="none"/>
<text x="2379.8" y="878.2" text-anchor="middle" class="qt">Q-Q plot</text>
<text x="2277.3" y="903.3" class="ql">λ = 1.009118</text>
<text x="2379.8" y="1127.5" text-anchor="middle" class="qa">Expected − log<tspan dy="1.6" font-size="5">10</tspan><tspan dy="-1.6">(P − value)</tspan></text>
<text transform="translate(2229.1 990.6) rotate(-90)" text-anchor="middle" class="qa">Observed − log<tspan dy="1.6" font-size="5">10</tspan><tspan dy="-1.6">(P − value)</tspan></text>
</g>
<g class="q">
<path d="M2261.2 1382.7 L2320.1 1345.5 L2350.9 1324.4 L2378.9 1302.7 L2394.1 1290.6 L2408 1281.1 L2413.1 1275.9 L2420.1 1269.9 L2425.3 1265.5 L2428.7 1259.5" stroke="#000" stroke-width="2.6" fill="none" stroke-linejoin="round" stroke-linecap="round"/>
<path d="M2429.6 1254.8 L2433.9 1250 L2437.4 1245.6 L2441.7 1243 L2446 1242.7" stroke="#000" stroke-width="2.6" fill="none" stroke-linejoin="round" stroke-linecap="round"/>
<path d="M2449.5 1242.7h0M2453.5 1242.7h0M2459.9 1194.1h0M2473.7 1194.1h0" stroke="#000" stroke-width="2.9" stroke-linecap="round" fill="none"/>
<path d="M2261.2 1382.7L2496.5 1237.4" stroke="#ff0000" stroke-width="1.5" fill="none"/>
<rect x="2261.2" y="1182.1" width="235.3" height="200.6" fill="none" stroke="#000" stroke-width="1.8"/>
<text transform="translate(2248.9 1382.7) rotate(-90)" text-anchor="middle">0</text>
<text transform="translate(2248.9 1346.3) rotate(-90)" text-anchor="middle">2</text>
<text transform="translate(2248.9 1309.7) rotate(-90)" text-anchor="middle">4</text>
<text transform="translate(2248.9 1273.3) rotate(-90)" text-anchor="middle">6</text>
<text transform="translate(2248.9 1237) rotate(-90)" text-anchor="middle">8</text>
<text transform="translate(2248.9 1200.3) rotate(-90)" text-anchor="middle">10</text>
<text x="2261.2" y="1401.3" text-anchor="middle">0</text>
<text x="2320.1" y="1401.3" text-anchor="middle">2</text>
<text x="2378.9" y="1401.3" text-anchor="middle">4</text>
<text x="2437.7" y="1401.3" text-anchor="middle">6</text>
<text x="2496.5" y="1401.3" text-anchor="middle">8</text>
<path d="M2261.2 1382.7h-5M2261.2 1346.3h-5M2261.2 1309.7h-5M2261.2 1273.3h-5M2261.2 1237h-5M2261.2 1200.3h-5M2261.2 1382.7v5M2320.1 1382.7v5M2378.9 1382.7v5M2437.7 1382.7v5M2496.5 1382.7v5" stroke="#000" stroke-width="1.6" fill="none"/>
<text x="2378.9" y="1170.4" text-anchor="middle" class="qt">Q-Q plot</text>
<text x="2276.5" y="1195.5" class="ql">λ = 1.025874</text>
<text x="2378.9" y="1418.5" text-anchor="middle" class="qa">Expected − log<tspan dy="1.6" font-size="5">10</tspan><tspan dy="-1.6">(P − value)</tspan></text>
<text transform="translate(2227.7 1282.8) rotate(-90)" text-anchor="middle" class="qa">Observed − log<tspan dy="1.6" font-size="5">10</tspan><tspan dy="-1.6">(P − value)</tspan></text>
</g>
<g class="q">
<path d="M2261.2 1674.9 L2320.1 1625.1 L2350.9 1597.9 L2366.4 1583.2 L2378.9 1569.4 L2390.7 1553.8 L2399.3 1545.2 L2408 1538.2 L2413.1 1534.8 L2420.1 1527.9 L2425.3 1524.4 L2427.9 1517.5 L2432.2 1514.9" stroke="#000" stroke-width="2.6" fill="none" stroke-linejoin="round" stroke-linecap="round"/>
<path d="M2433.9 1510.6 L2439.1 1506.7 L2443.4 1504.5" stroke="#000" stroke-width="2.6" fill="none" stroke-linejoin="round" stroke-linecap="round"/>
<path d="M2446 1501.9h0M2449.5 1500.7h0M2453.3 1500.5h0M2459.9 1496.4h0M2473.7 1485.5h0" stroke="#000" stroke-width="2.9" stroke-linecap="round" fill="none"/>
<path d="M2261.2 1674.9L2496.5 1473.9" stroke="#ff0000" stroke-width="1.5" fill="none"/>
<rect x="2261.2" y="1473.9" width="235.3" height="201" fill="none" stroke="#000" stroke-width="1.8"/>
<text transform="translate(2248.9 1674.9) rotate(-90)" text-anchor="middle">0</text>
<text transform="translate(2248.9 1624.7) rotate(-90)" text-anchor="middle">2</text>
<text transform="translate(2248.9 1574.6) rotate(-90)" text-anchor="middle">4</text>
<text transform="translate(2248.9 1524.4) rotate(-90)" text-anchor="middle">6</text>
<text transform="translate(2248.9 1473.9) rotate(-90)" text-anchor="middle">8</text>
<text x="2261.2" y="1693.5" text-anchor="middle">0</text>
<text x="2320.1" y="1693.5" text-anchor="middle">2</text>
<text x="2378.9" y="1693.5" text-anchor="middle">4</text>
<text x="2437.7" y="1693.5" text-anchor="middle">6</text>
<text x="2496.5" y="1693.5" text-anchor="middle">8</text>
<path d="M2261.2 1674.9h-5M2261.2 1624.7h-5M2261.2 1574.6h-5M2261.2 1524.4h-5M2261.2 1473.9h-5M2261.2 1674.9v5M2320.1 1674.9v5M2378.9 1674.9v5M2437.7 1674.9v5M2496.5 1674.9v5" stroke="#000" stroke-width="1.6" fill="none"/>
<text x="2378.9" y="1462.1" text-anchor="middle" class="qt">Q-Q plot</text>
<text x="2276.5" y="1487.2" class="ql">λ = 0.9856712</text>
<text x="2378.9" y="1711.8" text-anchor="middle" class="qa">Expected − log<tspan dy="1.6" font-size="5">10</tspan><tspan dy="-1.6">(P − value)</tspan></text>
<text transform="translate(2227.7 1574.6) rotate(-90)" text-anchor="middle" class="qa">Observed − log<tspan dy="1.6" font-size="5">10</tspan><tspan dy="-1.6">(P − value)</tspan></text>
</g>
<g class="lab">
<text transform="translate(19.7 143.1) scale(0.995 1)">S</text>
<text transform="translate(16.1 437.6) scale(0.915 1)">G</text>
<text transform="translate(-3.1 728.3) scale(0.951 1)">S/G</text>
<text transform="translate(13.9 1024.8) scale(0.941 1)">H</text>
<text transform="translate(2.9 1322.2) scale(0.972 1)">PB</text>
<text transform="translate(13.9 1618.3) scale(0.915 1)">Iα</text>
<text transform="translate(1350.2 154.3) scale(0.966 1)">Iβ</text>
<text transform="translate(1348 446.7) scale(1.000 1)">Jβ</text>
<text transform="translate(1307.7 723) scale(0.940 1)">β-O-4</text>
<text transform="translate(1334 1016.1) scale(0.944 1)">β-5</text>
<text transform="translate(1333.9 1310.8) scale(0.966 1)">β-β</text>
<text transform="translate(1270.5 1602.6) scale(0.942 1)">β-1/α-O-α</text>
</g>
</svg></body></html>
